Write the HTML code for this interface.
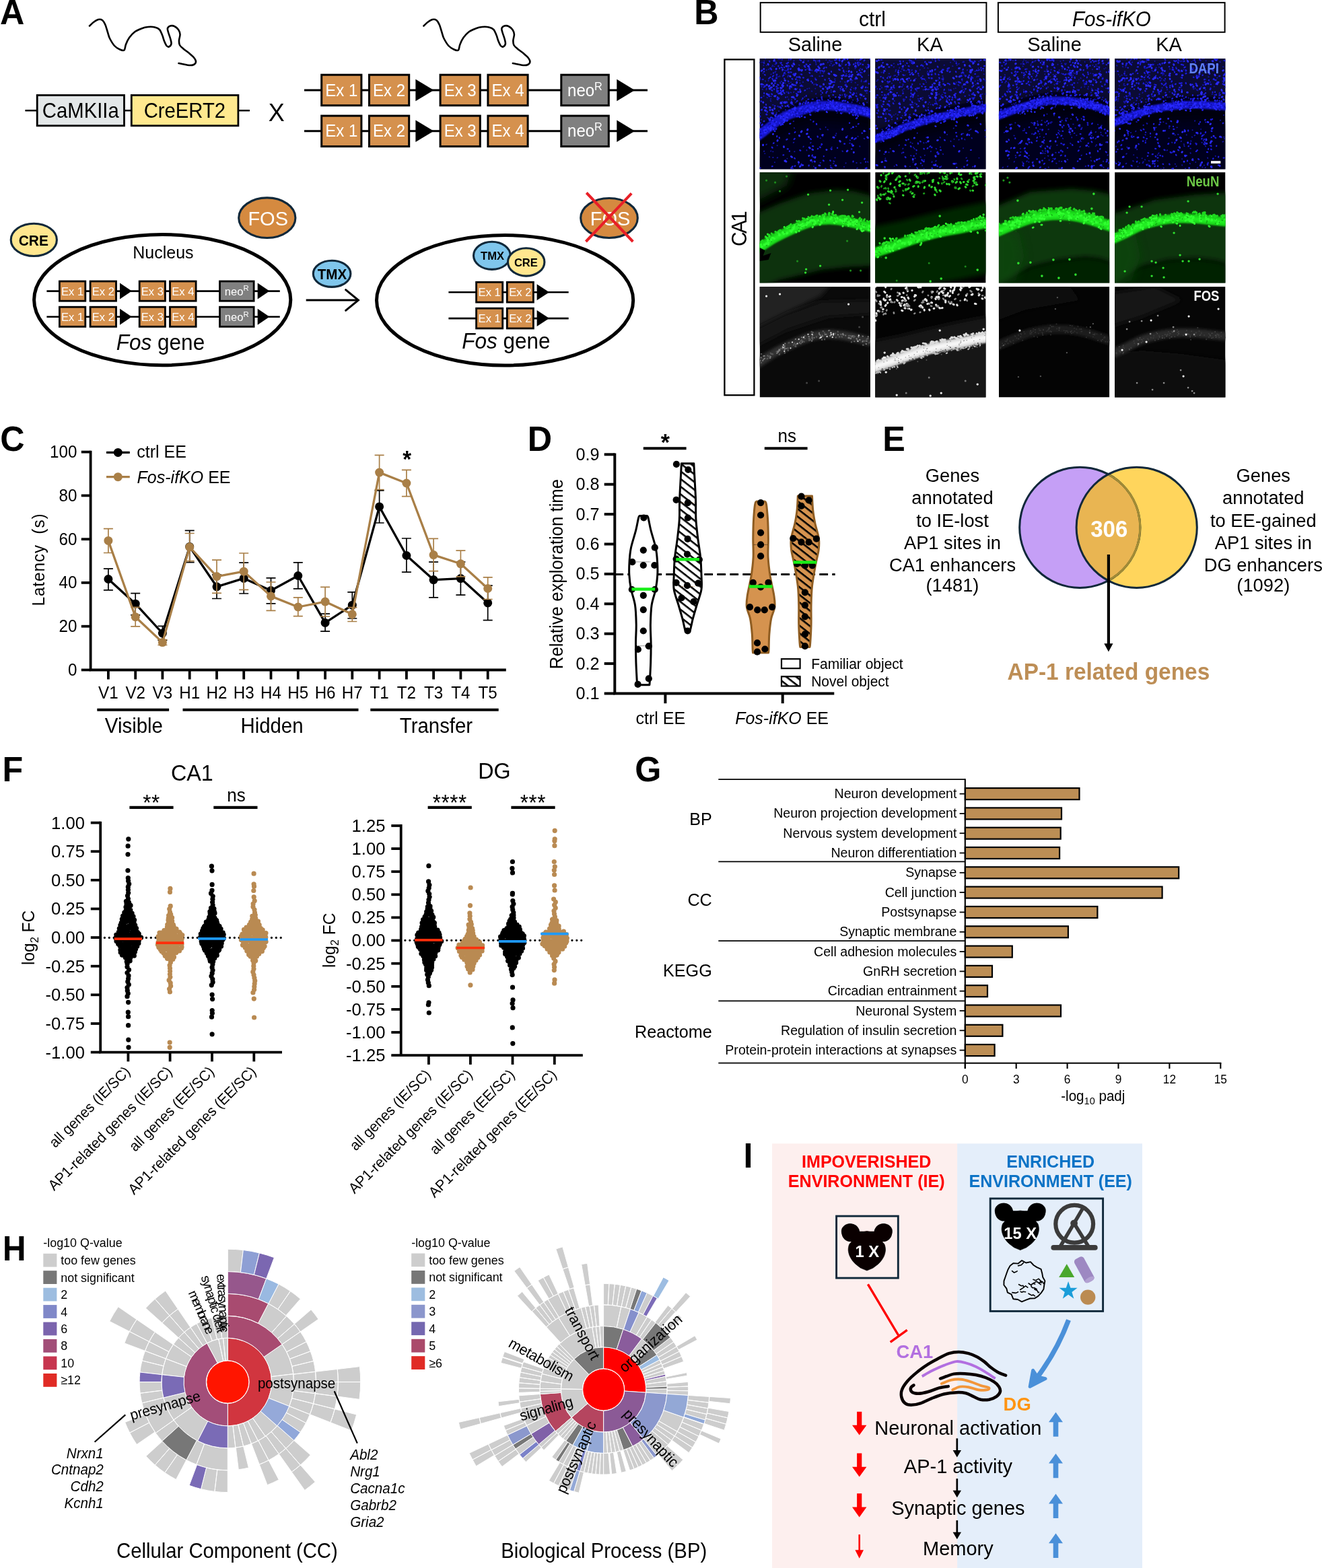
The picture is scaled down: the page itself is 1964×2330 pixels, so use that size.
<!DOCTYPE html>
<html lang="en"><head><meta charset="utf-8"><title>Figure</title>
<style>
html,body{margin:0;padding:0;background:#fff;}
body{width:1964px;height:2330px;overflow:hidden;}
svg{display:block;font-family:"Liberation Sans", sans-serif;}
</style></head><body>
<svg width="1964" height="2330" viewBox="0 0 1964 2330">
<defs>
<filter id="b05" x="-30%" y="-30%" width="160%" height="160%"><feGaussianBlur stdDeviation="0.5"/></filter>
<filter id="b1" x="-30%" y="-30%" width="160%" height="160%"><feGaussianBlur stdDeviation="1.0"/></filter>
<filter id="b2" x="-30%" y="-30%" width="160%" height="160%"><feGaussianBlur stdDeviation="2.0"/></filter>
<filter id="b3" x="-30%" y="-30%" width="160%" height="160%"><feGaussianBlur stdDeviation="3.5"/></filter>
<filter id="b6" x="-30%" y="-30%" width="160%" height="160%"><feGaussianBlur stdDeviation="7"/></filter>
<clipPath id="mclip"><rect x="0" y="0" width="164.4" height="164.4"/></clipPath>
<pattern id="hatch" width="9" height="9" patternUnits="userSpaceOnUse" patternTransform="rotate(38)"><rect x="0" y="0" width="9" height="2.6" fill="#000"/></pattern>
</defs>
<rect width="1964" height="2330" fill="#fff"/>
<g id="pa">
<text x="0" y="36" font-size="50.3" font-weight="bold" transform="translate(0 36) scale(1 1.04) translate(-0 -36)">A</text>
<path d="M133 38.5C134 37.6 136.8 34.6 139 33C141.2 31.4 143.8 29.5 146 29C148.2 28.5 150.2 28.7 152 30C153.8 31.3 155.2 34 156.5 37C157.8 40 158.9 44.7 160 48C161.1 51.3 161.3 53.7 163 57C164.7 60.3 167.5 65.2 170 68C172.5 70.8 175.6 72.4 178 73.5C180.4 74.6 183 75.8 184.5 74.5C186 73.2 185.8 69.1 187 66C188.2 62.9 189.8 59.1 192 56C194.2 52.9 197 49.8 200 47.5C203 45.2 206.7 43.8 210 42.5C213.3 41.2 216.7 40.3 220 40C223.3 39.7 227.2 39.8 230 40.5C232.8 41.2 235.2 42.1 237 44C238.8 45.9 239.8 49.2 241 52C242.2 54.8 242.9 58.3 244 61C245.1 63.7 246.3 66.6 247.5 68C248.7 69.4 249.8 70 251 69.5C252.2 69 254.2 67.1 254.5 65C254.8 62.9 253.8 59.8 253 57C252.2 54.2 250.7 50.5 250 48C249.3 45.5 248.5 43.6 249 42C249.5 40.4 251.3 39 253 38.5C254.7 38 257 38.1 259 39C261 39.9 263.6 42 265 44C266.4 46 267.3 48.3 267.5 51C267.7 53.7 266.1 57.3 266 60C265.9 62.7 265.8 64.8 267 67C268.2 69.2 270.7 71 273 73C275.3 75 278.5 76.9 281 79C283.5 81.1 286.3 83.4 288 85.5C289.7 87.6 291 89.8 291 91.5C291 93.2 289.7 95.1 288 96C286.3 96.9 283.5 97.1 281 97C278.5 96.9 275.6 96 273 95.5C270.4 95 266.8 94.2 265.5 94" fill="none" stroke="#000" stroke-width="2.6" stroke-linecap="round" stroke-linejoin="round"/>
<path d="M629.4 38.5C630.4 37.6 633.2 34.6 635.4 33C637.6 31.4 640.2 29.5 642.4 29C644.6 28.5 646.6 28.7 648.4 30C650.1 31.3 651.6 34 652.9 37C654.2 40 655.3 44.7 656.4 48C657.5 51.3 657.7 53.7 659.4 57C661.1 60.3 663.9 65.2 666.4 68C668.9 70.8 672 72.4 674.4 73.5C676.8 74.6 679.4 75.8 680.9 74.5C682.4 73.2 682.1 69.1 683.4 66C684.6 62.9 686.2 59.1 688.4 56C690.6 52.9 693.4 49.8 696.4 47.5C699.4 45.2 703.1 43.8 706.4 42.5C709.7 41.2 713.1 40.3 716.4 40C719.7 39.7 723.6 39.8 726.4 40.5C729.2 41.2 731.6 42.1 733.4 44C735.2 45.9 736.2 49.2 737.4 52C738.6 54.8 739.3 58.3 740.4 61C741.5 63.7 742.7 66.6 743.9 68C745.1 69.4 746.2 70 747.4 69.5C748.6 69 750.6 67.1 750.9 65C751.2 62.9 750.1 59.8 749.4 57C748.6 54.2 747.1 50.5 746.4 48C745.7 45.5 744.9 43.6 745.4 42C745.9 40.4 747.7 39 749.4 38.5C751.1 38 753.4 38.1 755.4 39C757.4 39.9 760 42 761.4 44C762.8 46 763.7 48.3 763.9 51C764.1 53.7 762.5 57.3 762.4 60C762.3 62.7 762.2 64.8 763.4 67C764.6 69.2 767.1 71 769.4 73C771.7 75 774.9 76.9 777.4 79C779.9 81.1 782.7 83.4 784.4 85.5C786.1 87.6 787.4 89.8 787.4 91.5C787.4 93.2 786.1 95.1 784.4 96C782.7 96.9 779.9 97.1 777.4 97C774.9 96.9 772 96 769.4 95.5C766.8 95 763.1 94.2 761.9 94" fill="none" stroke="#000" stroke-width="2.6" stroke-linecap="round" stroke-linejoin="round"/>
<line x1="37.4" y1="164.3" x2="371" y2="164.3" stroke="#000" stroke-width="2.5"/>
<rect x="55.2" y="141.5" width="129.3" height="45.3" fill="#e3e7e8" stroke="#000" stroke-width="2.8"/>
<rect x="195.3" y="141.5" width="158.6" height="45.3" fill="#ffe98f" stroke="#000" stroke-width="2.8"/>
<text x="119.8" y="175.3" font-size="29.3" text-anchor="middle" transform="translate(119.8 175.3) scale(1 1.04) translate(-119.8 -175.3)">CaMKIIa</text>
<text x="274.4" y="175.3" font-size="29.3" text-anchor="middle" transform="translate(274.4 175.3) scale(1 1.04) translate(-274.4 -175.3)">CreERT2</text>
<text x="410.7" y="180.4" font-size="36" text-anchor="middle" transform="translate(410.7 180.4) scale(1 1.04) translate(-410.7 -180.4)">X</text>
<line x1="452" y1="134" x2="962" y2="134" stroke="#000" stroke-width="3"/><rect x="477.7" y="111.2" width="59.2" height="45.5" fill="#d5914e" stroke="#000" stroke-width="3"/><text x="507.3" y="142.6" font-size="24" text-anchor="middle" fill="#fff" transform="translate(507.3 142.6) scale(1 1.04) translate(-507.3 -142.6)">Ex 1</text><rect x="548.5" y="111.2" width="59.2" height="45.5" fill="#d5914e" stroke="#000" stroke-width="3"/><text x="578.1" y="142.6" font-size="24" text-anchor="middle" fill="#fff" transform="translate(578.1 142.6) scale(1 1.04) translate(-578.1 -142.6)">Ex 2</text><rect x="654.1" y="111.2" width="59.2" height="45.5" fill="#d5914e" stroke="#000" stroke-width="3"/><text x="683.7" y="142.6" font-size="24" text-anchor="middle" fill="#fff" transform="translate(683.7 142.6) scale(1 1.04) translate(-683.7 -142.6)">Ex 3</text><rect x="724.9" y="111.2" width="59.2" height="45.5" fill="#d5914e" stroke="#000" stroke-width="3"/><text x="754.5" y="142.6" font-size="24" text-anchor="middle" fill="#fff" transform="translate(754.5 142.6) scale(1 1.04) translate(-754.5 -142.6)">Ex 4</text><rect x="833.8" y="111.2" width="70.5" height="45.5" fill="#808080" stroke="#000" stroke-width="3"/><text x="869" y="142.6" font-size="24" text-anchor="middle" fill="#fff" transform="translate(869 142.6) scale(1 1.04) translate(-869 -142.6)">neo<tspan dy="-8.6" font-size="16.3">R</tspan></text><polygon points="617.4,117.8 644.4,134 617.4,150.2"/><polygon points="916.3,117.8 943,134 916.3,150.2"/>
<line x1="452" y1="194.8" x2="962" y2="194.8" stroke="#000" stroke-width="3"/><rect x="477.7" y="172.1" width="59.2" height="45.5" fill="#d5914e" stroke="#000" stroke-width="3"/><text x="507.3" y="203.4" font-size="24" text-anchor="middle" fill="#fff" transform="translate(507.3 203.4) scale(1 1.04) translate(-507.3 -203.4)">Ex 1</text><rect x="548.5" y="172.1" width="59.2" height="45.5" fill="#d5914e" stroke="#000" stroke-width="3"/><text x="578.1" y="203.4" font-size="24" text-anchor="middle" fill="#fff" transform="translate(578.1 203.4) scale(1 1.04) translate(-578.1 -203.4)">Ex 2</text><rect x="654.1" y="172.1" width="59.2" height="45.5" fill="#d5914e" stroke="#000" stroke-width="3"/><text x="683.7" y="203.4" font-size="24" text-anchor="middle" fill="#fff" transform="translate(683.7 203.4) scale(1 1.04) translate(-683.7 -203.4)">Ex 3</text><rect x="724.9" y="172.1" width="59.2" height="45.5" fill="#d5914e" stroke="#000" stroke-width="3"/><text x="754.5" y="203.4" font-size="24" text-anchor="middle" fill="#fff" transform="translate(754.5 203.4) scale(1 1.04) translate(-754.5 -203.4)">Ex 4</text><rect x="833.8" y="172.1" width="70.5" height="45.5" fill="#808080" stroke="#000" stroke-width="3"/><text x="869" y="203.4" font-size="24" text-anchor="middle" fill="#fff" transform="translate(869 203.4) scale(1 1.04) translate(-869 -203.4)">neo<tspan dy="-8.6" font-size="16.3">R</tspan></text><polygon points="617.4,178.6 644.4,194.8 617.4,211.1"/><polygon points="916.3,178.6 943,194.8 916.3,211.1"/>
<ellipse cx="241.2" cy="445.6" rx="190.6" ry="97.1" fill="#fff" stroke="#000" stroke-width="5"/>
<ellipse cx="50.3" cy="356.4" rx="34.1" ry="24.1" fill="#ffe78f" stroke="#10283a" stroke-width="3.1"/>
<text x="49.8" y="364.6" font-size="21" text-anchor="middle" font-weight="bold" transform="translate(49.8 364.6) scale(1 1.04) translate(-49.8 -364.6)">CRE</text>
<ellipse cx="396.8" cy="323.7" rx="42.1" ry="29.8" fill="#d58a40" stroke="#10283a" stroke-width="3.1"/>
<text x="398.2" y="335.3" font-size="29" text-anchor="middle" fill="#fff" transform="translate(398.2 335.3) scale(1 1.04) translate(-398.2 -335.3)">FOS</text>
<text x="242.4" y="384.4" font-size="25" text-anchor="middle" transform="translate(242.4 384.4) scale(1 1.04) translate(-242.4 -384.4)">Nucleus</text>
<line x1="69.4" y1="432.6" x2="415.8" y2="432.6" stroke="#000" stroke-width="2.6"/><rect x="88.4" y="418" width="38.4" height="29.2" fill="#d5914e" stroke="#000" stroke-width="2.8"/><text x="107.6" y="438.6" font-size="16.6" text-anchor="middle" fill="#fff" transform="translate(107.6 438.6) scale(1 1.04) translate(-107.6 -438.6)">Ex 1</text><rect x="134.1" y="418" width="38.4" height="29.2" fill="#d5914e" stroke="#000" stroke-width="2.8"/><text x="153.3" y="438.6" font-size="16.6" text-anchor="middle" fill="#fff" transform="translate(153.3 438.6) scale(1 1.04) translate(-153.3 -438.6)">Ex 2</text><rect x="207.2" y="418" width="38.2" height="29.2" fill="#d5914e" stroke="#000" stroke-width="2.8"/><text x="226.3" y="438.6" font-size="16.6" text-anchor="middle" fill="#fff" transform="translate(226.3 438.6) scale(1 1.04) translate(-226.3 -438.6)">Ex 3</text><rect x="252.5" y="418" width="38.6" height="29.2" fill="#d5914e" stroke="#000" stroke-width="2.8"/><text x="271.8" y="438.6" font-size="16.6" text-anchor="middle" fill="#fff" transform="translate(271.8 438.6) scale(1 1.04) translate(-271.8 -438.6)">Ex 4</text><rect x="326.5" y="418" width="50.6" height="29.2" fill="#808080" stroke="#000" stroke-width="2.8"/><text x="351.8" y="438.6" font-size="16.6" text-anchor="middle" fill="#fff" transform="translate(351.8 438.6) scale(1 1.04) translate(-351.8 -438.6)">neo<tspan dy="-6" font-size="11.3">R</tspan></text><polygon points="178,420.6 195.8,432.6 178,444.6"/><polygon points="382.7,420.6 400.4,432.6 382.7,444.6"/>
<line x1="69.4" y1="470.8" x2="415.8" y2="470.8" stroke="#000" stroke-width="2.6"/><rect x="88.4" y="456.2" width="38.4" height="29.2" fill="#d5914e" stroke="#000" stroke-width="2.8"/><text x="107.6" y="476.8" font-size="16.6" text-anchor="middle" fill="#fff" transform="translate(107.6 476.8) scale(1 1.04) translate(-107.6 -476.8)">Ex 1</text><rect x="134.1" y="456.2" width="38.4" height="29.2" fill="#d5914e" stroke="#000" stroke-width="2.8"/><text x="153.3" y="476.8" font-size="16.6" text-anchor="middle" fill="#fff" transform="translate(153.3 476.8) scale(1 1.04) translate(-153.3 -476.8)">Ex 2</text><rect x="207.2" y="456.2" width="38.2" height="29.2" fill="#d5914e" stroke="#000" stroke-width="2.8"/><text x="226.3" y="476.8" font-size="16.6" text-anchor="middle" fill="#fff" transform="translate(226.3 476.8) scale(1 1.04) translate(-226.3 -476.8)">Ex 3</text><rect x="252.5" y="456.2" width="38.6" height="29.2" fill="#d5914e" stroke="#000" stroke-width="2.8"/><text x="271.8" y="476.8" font-size="16.6" text-anchor="middle" fill="#fff" transform="translate(271.8 476.8) scale(1 1.04) translate(-271.8 -476.8)">Ex 4</text><rect x="326.5" y="456.2" width="50.6" height="29.2" fill="#808080" stroke="#000" stroke-width="2.8"/><text x="351.8" y="476.8" font-size="16.6" text-anchor="middle" fill="#fff" transform="translate(351.8 476.8) scale(1 1.04) translate(-351.8 -476.8)">neo<tspan dy="-6" font-size="11.3">R</tspan></text><polygon points="178,458.8 195.8,470.8 178,482.8"/><polygon points="382.7,458.8 400.4,470.8 382.7,482.8"/>
<text x="238.5" y="519.6" font-size="31.5" text-anchor="middle" transform="translate(238.5 519.6) scale(1 1.04) translate(-238.5 -519.6)"><tspan font-style="italic">Fos</tspan> gene</text>
<ellipse cx="493.1" cy="406.8" rx="27.8" ry="19.6" fill="#7fc6ec" stroke="#10283a" stroke-width="3.1"/>
<text x="493.4" y="414.7" font-size="20.6" text-anchor="middle" font-weight="bold" transform="translate(493.4 414.7) scale(1 1.04) translate(-493.4 -414.7)">TMX</text>
<line x1="454.7" y1="446" x2="531" y2="446" stroke="#000" stroke-width="3"/>
<path d="M513.6 430.6L532.4 446L513.6 461.4" fill="none" stroke="#000" stroke-width="3" stroke-linecap="round" stroke-linejoin="miter"/>
<ellipse cx="750.1" cy="446.3" rx="190.6" ry="96.7" fill="#fff" stroke="#000" stroke-width="5"/>
<ellipse cx="730.9" cy="379.8" rx="27.4" ry="20.6" fill="#7fc6ec" stroke="#10283a" stroke-width="3.1"/>
<ellipse cx="781.7" cy="389.4" rx="27.2" ry="20.7" fill="#ffe78f" stroke="#10283a" stroke-width="3.1"/>
<text x="731.6" y="386.4" font-size="16.6" text-anchor="middle" font-weight="bold" transform="translate(731.6 386.4) scale(1 1.04) translate(-731.6 -386.4)">TMX</text>
<text x="781.4" y="395.9" font-size="16.6" text-anchor="middle" font-weight="bold" transform="translate(781.4 395.9) scale(1 1.04) translate(-781.4 -395.9)">CRE</text>
<line x1="666.4" y1="434.2" x2="844.7" y2="434.2" stroke="#000" stroke-width="2.6"/><rect x="707.6" y="419.3" width="39.1" height="29.8" fill="#d5914e" stroke="#000" stroke-width="2.8"/><text x="727.2" y="440.2" font-size="16.6" text-anchor="middle" fill="#fff" transform="translate(727.2 440.2) scale(1 1.04) translate(-727.2 -440.2)">Ex 1</text><rect x="753.3" y="419.3" width="39.1" height="29.8" fill="#d5914e" stroke="#000" stroke-width="2.8"/><text x="772.8" y="440.2" font-size="16.6" text-anchor="middle" fill="#fff" transform="translate(772.8 440.2) scale(1 1.04) translate(-772.8 -440.2)">Ex 2</text><polygon points="797.6,422.2 816,434.2 797.6,446.2"/>
<line x1="666.4" y1="473.1" x2="844.7" y2="473.1" stroke="#000" stroke-width="2.6"/><rect x="707.6" y="458.2" width="39.1" height="29.8" fill="#d5914e" stroke="#000" stroke-width="2.8"/><text x="727.2" y="479.1" font-size="16.6" text-anchor="middle" fill="#fff" transform="translate(727.2 479.1) scale(1 1.04) translate(-727.2 -479.1)">Ex 1</text><rect x="753.3" y="458.2" width="39.1" height="29.8" fill="#d5914e" stroke="#000" stroke-width="2.8"/><text x="772.8" y="479.1" font-size="16.6" text-anchor="middle" fill="#fff" transform="translate(772.8 479.1) scale(1 1.04) translate(-772.8 -479.1)">Ex 2</text><polygon points="797.6,461.1 816,473.1 797.6,485.1"/>
<text x="752" y="518.2" font-size="31.5" text-anchor="middle" transform="translate(752 518.2) scale(1 1.04) translate(-752 -518.2)"><tspan font-style="italic">Fos</tspan> gene</text>
<ellipse cx="905" cy="324" rx="42.3" ry="29.5" fill="#d58a40" stroke="#10283a" stroke-width="3.1"/>
<text x="906.5" y="335.3" font-size="29" text-anchor="middle" fill="#fff" transform="translate(906.5 335.3) scale(1 1.04) translate(-906.5 -335.3)">FOS</text>
<line x1="871.3" y1="286.5" x2="940.3" y2="359" stroke="#e81f27" stroke-width="4"/>
<line x1="938.2" y1="287.4" x2="870.4" y2="359" stroke="#e81f27" stroke-width="4"/>
</g>
<g id="pb">
<text x="1031.3" y="36" font-size="50.3" font-weight="bold" transform="translate(1031.3 36) scale(1 1.04) translate(-1031.3 -36)">B</text>
<rect x="1129.7" y="3.9" width="335.7" height="43.9" fill="#fff" stroke="#000" stroke-width="2"/>
<rect x="1482.9" y="3.9" width="336.7" height="43.9" fill="#fff" stroke="#000" stroke-width="2"/>
<text x="1296" y="39.3" font-size="30" text-anchor="middle" transform="translate(1296 39.3) scale(1 1.04) translate(-1296 -39.3)">ctrl</text>
<text x="1651.4" y="39.3" font-size="29.6" text-anchor="middle" font-style="italic" transform="translate(1651.4 39.3) scale(1 1.04) translate(-1651.4 -39.3)">Fos-ifKO</text>
<text x="1211" y="76.1" font-size="29" text-anchor="middle" transform="translate(1211 76.1) scale(1 1.04) translate(-1211 -76.1)">Saline</text>
<text x="1381.4" y="76.1" font-size="29" text-anchor="middle" transform="translate(1381.4 76.1) scale(1 1.04) translate(-1381.4 -76.1)">KA</text>
<text x="1566.5" y="76.1" font-size="29" text-anchor="middle" transform="translate(1566.5 76.1) scale(1 1.04) translate(-1566.5 -76.1)">Saline</text>
<text x="1736.6" y="76.1" font-size="29" text-anchor="middle" transform="translate(1736.6 76.1) scale(1 1.04) translate(-1736.6 -76.1)">KA</text>
<rect x="1076.4" y="88.4" width="44" height="498.8" fill="#fff" stroke="#000" stroke-width="2.3"/>
<text x="1109.3" y="339.6" font-size="30" text-anchor="middle" transform="rotate(-90 1109.3 339.6) translate(1109.3 339.6) scale(1 1.04) translate(-1109.3 -339.6)" textLength="52.6" lengthAdjust="spacing">CA1</text>
<g transform="translate(1128.6 87.1)" clip-path="url(#mclip)"><rect x="0" y="0" width="164.4" height="164.4" fill="#01010f"/><path d="M-10 -10L174.4 -10L170 70L164 68.6L144 63.5L124 60L104 58L81 59L53 68L32 77L0 101L-4 104Z" fill="#07073e" filter="url(#b6)" opacity="0.85"/><path d="M-4 141L0 138L32 114L53 105L81 96L104 95L124 97L144 100.5L164 105.6L170 107L174.4 174.4L-10 174.4Z" fill="#040424" filter="url(#b6)" opacity="0.85"/><path d="M-4 116C-3.3 115.5 -6 117.5 0 113C6 108.5 23.2 94.5 32 89C40.8 83.5 44.8 83 53 80C61.2 77 72.5 72.7 81 71C89.5 69.3 96.8 69.8 104 70C111.2 70.2 117.3 71.1 124 72C130.7 72.9 137.3 74.1 144 75.5C150.7 76.9 159.7 79.5 164 80.6C168.3 81.7 169 81.8 170 82" fill="none" stroke="#1717cf" stroke-width="14" filter="url(#b1)" stroke-linecap="butt"/><path d="M53.2 24.8l-0.2 -0.5M11.9 88.1l-0.5 -0.4M9.5 83.4l0.4 -0.4M71.3 11.5l-0.2 0.3M69.8 135.9l0.1 0.7M7.7 141.1l-0 -0.1M23.7 19.4l0.2 -0.5M134.2 29.7l0.6 -0.2M10.3 9.8l-0.2 0.3M130.6 114.9l-0.6 0.3M119.9 47.3l0.6 -0.3M19.4 68.7l0.7 0M25 80.4l0.4 -0M143.9 51.6l-0.2 -0.4M109.2 10l-0.8 -0.5M46.8 63.4l0.8 0.1M3.7 75.9l-0.1 0.6M19.3 9.7l0.2 0.8M21.3 40.7l-0.2 -0.5M143.3 13.2l0.7 -0.5M142 45.8l0.5 0.2M24.8 29l0.8 0.7M43.2 0.7l0.3 -0.7M111.2 8.9l-0.8 -0M64.5 65.6l0.5 -0.7M104.3 10.2l-0.1 -0.7M34.3 26.7l-0.3 -0.8M8.6 0l-0.3 0M16.7 59.8l-0.5 0.5M143.7 101l-0.7 -0.5M41.5 57.1l-0.4 -0.2M16.8 56.3l0.4 -0.2M136.3 26.5l0.3 0.7M89.3 4.4l-0.6 0.6M42.9 60.3l0.2 0.4M54.2 36.7l0.2 -0.1M134.5 121.6l-0.6 -0.6M85.1 58.5l-0.5 -0.5M4.6 45.9l-0.6 -0.5M59.9 36.2l0.1 0.4M32.3 33.6l0.5 0.6M107.3 131.5l-0.6 0.5M129.7 54.7l-0.5 -0.7M159.7 65.1l-0.3 0.1M155.7 119.2l-0.7 -0.5M20.9 24.8l-0.2 0.5M132.6 24l-0.2 -0.1M90.2 21.5l-0.2 -0.7M135.8 34.7l0.6 0.7M48.2 39.5l0.4 -0.2M42.6 68.9l-0.1 -0.3M149.6 58.2l0.2 0.2M86.1 3.1l-0.3 0.6M30.1 0.6l0.4 -0.5M28.3 77.8l0.5 0.3M91.5 53.6l-0.4 -0.3M91.3 128.9l0.4 -0.7M92.1 40.9l-0.1 0.7M144.1 154.9l-0.4 0M22.5 20l0.7 0.6M11.9 39.6l0.5 0.1M26.5 70.9l0.7 -0.4M55.8 32.2l0.6 -0.1M118.7 3.2l0.3 0.2M72.4 3l-0.3 0.3M17.2 43.7l0.2 0.8M128.1 44.5l0.3 -0.1M42.5 24.6l-0.2 0.6M93.8 115.1l-0.2 0.3M131.8 13.8l0.3 0.7M44 21.2l-0.5 0.3M39.2 18l-0.5 0.2M8.3 33.2l0.3 0.4M50.1 124.9l0.6 -0.4M82.2 29.2l0.6 -0.2M3 41.2l-0.2 -0.6M78.1 153.7l0.1 -0.8M137.2 64.6l-0.3 0.3M66.5 57.1l0.4 -0.5M21.3 11.6l0.5 -0.1M42 26.8l-0.5 0.4M46.3 39.8l0.4 -0.1M75.5 25.9l0 0.2M89.9 40.2l0.2 0.4M50.9 58.6l0.4 -0.5M43.4 14.8l-0.8 -0.6M6.9 3.7l-0.3 0.1M144.5 64l0.7 -0.1M161.9 24.6l-0.2 0.1M105.7 7.2l0.7 0.1M133.5 22.9l-0.3 0.4M112.3 114l0.8 0.5M5.1 21.9l-0.2 -0.5M80.4 0.5l-0.1 -0.6M108.4 10.9l-0.6 -0.1M41.5 12.2l0.6 0.3M119.9 33.7l-0.1 0.7M101.4 105.7l-0.5 -0.4M24.2 41.7l-0.4 0.1M50 93.3l0.6 -0.2M10 44.2l0.5 0.7M113.8 111.1l-0 0.6M19.5 146.9l0.6 -0M160.8 153.9l-0.5 -0.7M73.9 44.2l-0.4 -0.1M155.5 34.6l-0.8 -0.3M23.3 86.2l-0 -0.3M145.8 115.6l0.4 0.1M0.6 80.8l0.1 0.2M49.6 23.1l0.1 -0.1M52 138.1l-0.5 0.1M123.4 137.9l-0.7 -0.7M47.6 61.2l-0.3 -0.4M70.4 45.2l0.4 -0.5M16.7 137.2l-0.1 0.3M153.8 41l-0.1 0.5M84 31.2l-0.6 -0.5M90.3 118.3l-0.4 -0.2M106 47.1l0.1 -0.5M152.4 20.9l0.1 0.3M56.5 49l0.2 0.5M160.5 42.8l-0.7 0.3M27.5 26.6l0.4 0.5M22.9 31.6l-0.6 -0.7M56.2 15l0.4 0.2M10.2 45.6l-0.5 0.6M20.7 82.8l0.3 0.2M141.9 35.5l0.4 0.2M40.8 65.7l-0.3 -0.7M3.6 5.3l-0.3 0.2M0 64.4l-0.5 -0.5M40.8 17.9l-0.6 -0M75.2 90.7l0.7 0.4M128.6 38.2l-0.8 -0.2M106.1 49.9l0.3 -0.6M18.4 11.6l0.5 -0.4M98.8 1.7l-0.1 0.5M50.5 3.6l0.6 -0.7M109.7 152.1l0.5 0.6M5.6 55.6l0.5 0.4M112.2 32.6l-0.2 -0.3M159.4 51.2l-0.7 -0.2M37.9 36.4l-0.3 -0.5M30.8 36.7l0.7 0.6M109.4 156l0.5 -0.3M64.7 35l-0.6 -0.1M23.3 8.5l-0.7 -0.2M54.1 30.5l0.2 -0.3M122.7 5.2l-0.3 -0.3M62.2 61.5l0.5 -0.7M27.8 0.5l0.5 0.2M57.8 157.1l0.1 0.3M158.5 34.1l-0.8 0.6M8.1 77.8l-0.3 -0.2M151.2 31.7l0 0.6M147.5 5l-0.4 0M133.5 126l0.8 -0.5M5.7 10.3l0.2 -0.5M55.7 44.8l0.1 -0.1M101.4 43.1l0.1 -0.8M52 45.3l-0.5 0.6M155.1 4l-0.5 -0.3M63.5 41.3l0.8 -0.4M81.1 152.6l0.1 -0.1M52.5 59.5l-0.8 0.2M13 32.4l0 0.7M40.7 10.6l0.8 -0.7M90.8 53.6l0.1 -0.3M145.2 162.4l-0.6 0.7M13.8 15.9l-0.7 0M19.9 138.2l-0.4 0.1M93.2 61.3l-0.5 0.6M32.7 40.7l-0.1 -0.5M53.6 65.1l0.5 -0.6M83.4 38l0.4 -0.4M107.4 162.9l0.5 -0.4M150.3 6.6l0.2 0.3M19.6 31.2l0 0.6M127.9 155.5l0.1 -0.4M98 101.9l0 0.3M60.6 23.2l-0.1 0M33.4 1.9l-0.7 -0.4M111.5 30.4l0.4 -0.3M10.4 16.7l-0.5 0.5M90.4 105.1l-0.8 -0.7M46.6 50.6l-0.7 -0.5M59.8 32.4l-0.7 -0.3M33.5 1l-0.4 0.7M2.4 90.7l-0.4 0.1M149.6 14.6l-0.3 0.4M17.9 80.6l-0.6 -0.2M159 32.4l-0.6 -0.3M26.3 129.2l-0.4 -0.1M30.1 35.9l0.7 -0.8M6.8 92.4l-0.4 0.2M6.3 137.8l0.5 -0.2M50.3 69.1l-0.2 -0.3M72.1 3.8l-0.2 0.1M80.5 38.7l0.4 -0.8M77.8 17.6l-0.5 -0.4M70.8 15.1l0.2 0.4M83.9 6.7l-0.7 -0.8M84.1 8.9l-0.6 -0.1M62.1 156.3l0.3 0.8M134 31.8l-0.2 -0.1M10.8 57.7l0.6 0.4M26.1 147.4l0.6 -0.4M134.1 23.6l0.3 0.5M151.2 34.2l-0.4 -0.4M83.2 52.5l0.7 -0.4M29.9 26.5l-0.3 -0.6M111.7 147.2l0.6 0.2M129 18.9l-0.4 -0.1M104.6 59.1l-0.1 -0.8M64.8 131.1l0.4 -0.7M122.2 7.9l-0.2 0.4M0.3 5.6l-0.3 0.4M147.2 21.7l0.6 0.3M107.4 3.7l-0.1 0.7M58.4 17.5l-0.3 0.8M22.2 154l0.2 0.1M24.5 15.8l0.6 -0.6M43.4 1.9l-0.3 0.4M92.4 57.6l-0.7 0.7M40.9 148.5l-0.1 -0M9.6 128l0.8 -0.7M90.6 154.7l-0.8 0.1M105.5 133.7l0.2 0.6M50.9 49.4l-0.5 0.6M37.1 17.3l0.3 0.1M6.4 55.2l-0.8 0.5M105.5 158.7l-0.5 0.3M144.7 2.5l0.8 -0.8M122.7 53.7l-0.1 0.7M54 39.3l-0.3 0.5M149.7 23.8l0.5 0.3M23.3 4.7l0.8 0.3M121.1 10.8l-0.6 0.5M146.5 10.8l0.4 -0.2M150.3 155.2l-0.6 -0.4M33.8 18.4l0 -0.4M135.6 103.8l0.8 -0.5M16.4 16.1l-0.4 -0.6M33.7 52.5l0.4 0.5M3.4 42.2l-0.4 -0.2M117.7 60.5l0.6 0.2M101.6 5.1l-0.5 0.8M141.8 14.9l0.4 -0.3M28 0.2l-0.1 0M125.3 160.8l0.2 -0.1M136.8 42.8l-0.6 -0.3M46.6 35.3l-0.6 0M81.9 18.1l0.2 0.2M66 64.9l-0.7 0.1M14.2 146.1l0.5 0.1M33.9 43.3l-0.3 0.5M38.4 75.8l-0.2 0.5M57.3 53.7l-0.8 -0.7M27.9 72.1l-0.1 -0.7M95.2 20.7l-0.5 0.7M145.5 39.1l0.4 -0.3M25.4 25.6l-0.6 0.4M53.9 31.1l0.3 -0.5M119.8 16.7l0.1 0.2M16.7 63.2l-0.7 -0.6M33.9 63.8l-0.8 0.5M51.5 103.3l-0.3 -0.3M103.5 41.1l-0.7 0.2M111 152.9l-0.4 0.1M80.5 160.2l-0.2 -0.2M89.3 26.4l-0.7 -0.3M125.4 20.1l0.7 0.7M58.4 9.3l0.7 0.6M65.7 2.2l0.5 0.2M43.6 36.9l0.2 0.3M77 48.4l0.7 0.2M139.9 44l0.1 0.4M41.7 70.1l0.6 0.1M40.3 49.6l-0.8 0.2M128.9 23.1l-0.2 -0.6M104.1 2.5l-0.7 0.1M156.5 107.8l0.7 0.1M16.7 23.5l0.5 -0.5M127.6 57l-0.3 0.7M148.6 130.2l0.3 0.4M137.9 32.4l-0.3 0.3M38.5 22.9l-0.3 -0.5M9.6 76.8l-0.5 -0.5M141.9 1.1l-0.7 -0.2M138.2 61.6l0.6 0.1M157.9 12.4l-0.2 0.2M104.6 4.7l0.7 -0.4M147.6 5.6l0.7 0.8M102.8 55.7l-0.2 -0.7M126.7 34.6l0.3 0.7M82.8 44.7l-0.2 -0.3M54.4 52.1l-0.4 -0.6M89.7 8.2l0.3 -0.3M1 31.2l0.7 -0.1M112 34.9l-0.6 0.3M75.3 125.4l0.8 -0.6M29.8 6.1l0.8 0.3M42.4 49.7l0.4 0.7M52.4 70.8l0.1 0.1" fill="none" stroke="#1212a6" stroke-width="1.8" stroke-linecap="round"/><path d="M153.5 9l-0.8 -0.2M6.5 19.5l0.1 -0.5M2.3 63.6l-0.1 -0.3M67.8 16.8l0.7 -0.3M34.9 25l0.9 -0.6M158.9 14.5l0.3 -0M21.2 2.9l-0.4 0.6M39.8 120.6l1.1 -0.8M140.6 120l0.7 -0.9M153.3 41.8l-0.3 1M117.9 1.9l1 0.9M107 134.4l-0.3 0.5M51.1 119.9l1 -1M111.3 23.8l0.7 0.5M68.7 63.4l1 -0.1M48.1 10l0.3 0.6M98.8 50.7l-0 0.5M146 61.9l-0.6 -1M46.6 0.3l-0.6 1.1M145.9 7l-0.2 0.9M14 91l1 0.9M76.5 34l0.1 -0.5M96.9 31.1l0.2 0.6M24.5 7.3l0.5 -1M61.5 17.4l-1 -1M129.4 25.7l-0.6 -0.2M80 93.2l-0.3 0.6M41.8 6.2l0.6 -0.5M29.7 13.8l-0.3 0.9M155.7 149.6l0.4 -1M157.7 42.3l-0.4 0.7M158.8 163l0.1 -0.7M6.4 42.1l-0.2 0.4M106.3 162l-0.7 -0.5M111.3 49.1l0.7 -0.2M124.6 17.3l-0.2 1.1M42.3 20.4l1 -0.4M27.7 39.2l-1.1 -0.7M111.4 2.1l1 0.4M32.1 5.9l-0.6 0.9M146.1 23l0.8 0.5M23.5 36.4l-1.1 0.1M143.1 43.8l-0.6 -0.5M25.6 44.6l-0.2 -0.2M55 27.6l0.8 -0.3M52.3 148.5l-0.7 -0.8M160.9 9.3l-0.1 -0.5M109.9 34.7l0.7 0.3M47.1 42.4l0.5 -0.7M152.1 16l0.1 0.4M147.3 9.5l-1 -0.2M48.3 160.9l0.4 -0.8M132.7 56l1 -0.6M30.5 71.6l-0.8 0.4M32.3 13l1.1 0.6M133.4 95.8l0.1 -0.4M118.6 9.1l-0.6 -1M81.1 2.5l-0.6 0.3M78.4 143.4l-0.6 1.1M26.9 61l-0.8 -0.6M0.8 85.5l-0.2 1M84.8 19.9l-0.3 -0.7M88.3 3.4l0.5 -0.9M36.8 30l-0.1 -0.6M41.2 134.3l1 -0.1M2.9 98.5l0 1M86 115.5l0.3 1.1M143 117.9l-0.2 0.8M20.2 81.1l-0.1 -0.5M46 20.1l1 0.3M127.7 55.7l-0.8 0.2M139.4 8.8l0.4 -0.8M157.5 153.6l-0 -0.1M87.3 11.4l-0.7 0.4M83 3.4l-0 0.2M145.4 5.7l0.1 0.3M43.7 111.5l0.6 -0M156.3 47.3l1 0.9M106.5 19.8l-0.1 -0.8M20.4 21.6l-0 -0.3M66.8 47.4l0.9 -0.4M14.4 89.8l-1 -0.7M51 39.8l0.8 -0.8M2 58l0.9 -0.2M46.8 162.3l0.1 0.6M126.9 26.1l0.8 -0.9M18 37l0.2 -0.7M121.4 25.4l1 0.6M150.4 20.9l-0.5 -0.3M75.3 118.9l1 1M50 23.8l0.6 -1M95.6 14.5l-0.6 0.2M157.6 33.6l-0.6 0M149.7 1.8l-1.1 -0.1M64 58.8l-0.1 0.7M86.4 16.3l-0.3 0.9M28.1 52.3l-0.6 -1.1M25.7 47.7l-0.1 -0.7M83 30.9l1 0.7M163.4 104.6l1 -0.6M113.6 0.6l0.8 0.9M20 25.8l-0.5 0.7M17.5 16.5l-0.3 -0.7M132.6 10.2l0.4 -0.4M126.7 53.1l-0.4 0.3M58.2 27.9l0.3 -1.1M41 7.2l-1 0.1M140.5 51.8l-0.9 -0.9M134.1 49.9l1 1M39.9 64.1l0.5 0.9M36.4 50.8l0.4 0.9M79.6 130.3l-1.1 -0.3M28.5 58.9l-0.3 -0.4M159.7 47.8l-0.5 -0.4M18.9 87.7l0.5 1M66.3 10.8l0.9 -0.2M135.8 57.7l0.2 -0.6M31.4 46.6l-0.4 0.9M25.6 116l0.1 -0.9M44.3 137.3l-0 0.6M26.2 58l0.4 -0.9M62 157.6l-0.2 -0.4M74.4 21.5l-0.6 -0.6M60.5 40.5l0.7 0.1M34.9 143.4l0.7 -0.2M126.9 63.3l0.8 -1.1M93.3 51.1l-0.3 -0.7M14.1 29.1l-0.5 0.5M52.8 109l-0.7 0.8M92.4 59.4l0.2 0.8M48.8 10.8l-1 -1M37.2 20.7l-1 1.1M46.4 66.3l-0.1 -1M21.7 45.5l-0.5 -0.3M103.4 29.9l-0.5 -0.4M6.7 6.6l-0.6 -0.6M32.6 49.8l-0.2 -0.9M6.5 51.1l0.2 0.7M117.8 41.9l-0.7 0.3M112.5 57.4l0.4 -0.4M137.2 127.7l-0.3 -0.8M7.8 40.2l0.3 1.1M130.1 34.5l0.6 -0.6M123.2 14.2l-0.2 0M46.2 14.8l-0.5 1M74.4 8.9l0.8 -0.1M21 125.3l-0.6 0.6M115.5 132.5l0 0.5M89.4 41l0.8 1M58.8 67.7l0.6 -0.6M51.1 22.4l0.1 0.5M110.2 39.1l-0.7 1.1M57.8 49.2l-0.5 0.8M18.8 47.6l-1.1 -0.9M33.9 9.9l-1.1 -0.9M18.6 53.3l-0.9 -0.9M59.7 27.6l0.5 0.9M92.7 17.9l0.7 0.7M71.4 31.2l0.6 -0.7M41.3 40.4l-0.3 -1M48.7 30.5l-0.7 -0.7M139 152.4l-0.1 0.9M53.7 30.3l-0.3 0.4M52.6 60.6l0.4 -0.4M60.7 136.7l-1 -0.6M6.8 93.2l-0.7 0M25.9 49.2l-0.4 0.3M72.9 159.4l0.2 -0.9M6.6 72.3l0.8 -0.2M118.9 0.5l-0.6 -1M69.2 55.7l-0 -0.8M27 48.6l0.6 -0.7M92.6 57.2l-0.7 -0.2M14 53.2l-0.9 0.9M133.4 9.9l0.8 -0.9M100.1 48.8l-0.6 0.7M49.2 56.5l0.6 0.1M4.6 31l0.4 -0.1M73.5 14l0.2 0.3M18.8 29.7l0.5 1M90.1 18.5l0 -0.8M41.7 15.6l0.6 1M84.4 96.7l0.1 1M67.1 12.1l0.6 0.6M124.4 18.8l0.6 0.2M118.6 16.8l-0.9 -0.8M64.4 28.2l0.8 0.3M92.6 127.4l-0.7 -0.6M127.6 9.5l0.8 -0.8M61.2 2.5l0.2 0.6M35 49.3l-0.5 -1.1M143.2 27.6l-0.3 0.4M135.7 20.2l0.8 0.2M90.2 132l-0.9 -0.7M152.1 111l0 -0.5M31.8 73.4l-0.8 -0.8M95.6 18.7l0.6 -0.3M18.2 131.6l0.8 1M91.1 47.7l-0.3 0.4M62.6 23.7l-0.6 -0.5M156 2.3l-0.6 0M24.8 82.5l-0.9 0.7M131.6 5.8l0.4 -0.8M78.2 26l-0.5 -0.5M12.5 54.1l1 0.9M147 96.9l-0.6 0.3M27.9 59.3l0.6 0M1 95.2l-0.5 0.8M3.4 75.5l-1.1 1M7.5 24l0.6 0.3M44.8 44.9l-0.5 -0.9M157.3 163.1l-0.2 0M59.7 46.3l0.2 -0.7M55.4 53.1l-0.3 -0.8M79.2 60.4l-1 0M38.6 57.4l-0 0.2M27.8 10.9l-0.1 0.4M154.1 56l1 -0.2M95.9 13.2l0.2 0M11.1 79.7l-0 -1.1M45.4 42.3l-0.9 0.2M27.1 44.1l0.2 -0.3M35.9 65.7l-0.3 -0.9M98.8 13l0.4 0.3M143.9 56.1l-0.8 -0.7M105.2 151.7l-0.6 -0.5M9.4 68.1l0.1 0.7M103 55l0.1 0.6M98.3 42.3l-0.4 -0.3M162.3 9.2l0.4 0.7M119 54.1l0.9 0.5M25.7 23.5l-0.7 0.2M121.8 42.4l-0.9 -0.7M21.7 1.5l-0.1 0.3M162.7 37.5l-0.6 -0.2M14.8 4.6l-0.4 -0.9M9.9 82.5l0.9 0.7M24.5 29.2l0.6 -0.8M151.5 26.6l0.7 0.9M127.9 39.9l-0.9 -0.6M148.5 17.7l-0.5 -0.7M142.1 9.9l0.1 0.5M103.1 36.8l0.2 0.9M43.1 71.3l0.2 0.5M49.1 163.5l-0.1 0.5M93.6 25.8l-0.8 -0.1M142.9 43.9l-0.5 -0.3M135.3 46.5l-0.3 -0.9M79.8 146.5l0 -0.6M95.2 145.1l0 0.1M145.3 59.2l-0.1 0.8M141.9 30l0.1 0.4M163.5 48.9l1 -0.1M18.3 160.2l0.8 -0.2M149.9 24.8l-1.1 -0.6M16 27.7l-0.6 0.3M14.8 55.8l-0.7 0.3M5.4 38.6l-0.4 0.3M113.3 6.2l0.9 0.3M38.1 70.8l0.4 0.2M144.4 19.8l0.2 -0M22.3 70.4l0.6 -0.2M112.7 24.3l-0.2 0.7M82.3 18.5l0.5 -1.1M120.2 44.9l-0.4 -0.4M43.5 11.3l-0.5 -0.8M59.6 1.7l-0.1 -0.1M63.4 67.4l0.3 -0.2M164.1 0.9l0.6 0.5M152.3 41.9l1 -1M62 39.6l0.7 1M149.4 8.1l0 0.1M51.9 159.7l0.9 -0.4M97.4 163.5l0.7 -0.1M100.7 43.6l0.8 0.5M78.4 36.4l-0.1 -0.8M86.7 133.7l-0.5 0.3M142.7 7.1l-0.4 -0.7M136.8 134.4l-0.5 -0M25.3 41.3l0.2 0.5M74.4 14.5l-1 0.2M85.6 39.1l-0.9 0.1M55.9 62.7l-0.6 0.5M29.3 118.1l-0.1 -0.8M53.3 39.8l0 -0.1M33.2 69.6l0.5 0.9M101.6 61.1l1.1 1M72.8 60.4l-1 0.1M48.5 67.1l-0.2 0.7M133.3 57.9l-0.5 0.9M95.1 152l-0.8 -0.8M109.4 54.2l-0.5 -0.3M124.3 62.4l0.7 -0.3M4.2 97.5l0.1 0.8M126.5 126.6l-0.9 -0M36.3 12.7l0.3 0.5M16.7 14.5l-1 -0.3M92.8 9l0.3 -0.8M23.9 55l-1.1 0.6M1 162.5l-0.8 0M43.1 51.5l-0.3 -0.1M69.1 8.4l0.8 0.6M42.3 33.2l0.5 0.8M88.3 61.5l0.8 0.6" fill="none" stroke="#1c1cdc" stroke-width="2.2" stroke-linecap="round"/><path d="M131.8 32.9l-1 0.2M91.4 8.4l-0.8 1M53.2 45l0.6 0.7M73.1 144.4l0.1 -0.2M71.3 105.1l-0.4 1M141.8 11.8l0.9 -0.8M111 48.5l-1 0.4M137.8 24l-0.5 0.1M34 16.6l0.3 -0.2M108.3 42.3l-0.9 0M112.8 25.5l1 -0.1M114.4 6.9l-0.8 -0.9M48.3 38.3l1.1 0.4M149.9 53.3l-0.4 0M64.4 5.4l0.9 -0.2M105.3 36.7l-0.7 0.8M15.4 76.4l0.2 -0M70.7 111.6l-0.8 0.3M136.2 20.1l0.1 -0.6M47.8 57.2l1.2 -0M81.6 152.9l0.3 0.2M88.9 14.5l-0.8 -1.1M37.3 152l0.9 -0.4M155.3 107.9l-0.1 -0.7M122 29.4l0.2 0.6M49 11.4l-0.3 -0.1M15.7 90.7l-0.7 0.2M84.4 16l-0.5 0.7M61.6 109l0.9 -1.2M24.5 15.5l0.2 -0.4M19.2 81.6l-0.6 -0.6M19.3 76.9l-0.5 -1M32.5 66.4l-0.9 -1.1M20.9 39.4l-0.4 1M82.5 146.4l-0.4 0.8M93.8 113.3l-0.8 0.5M123.3 25.3l1.1 -0.7M5.1 64.7l0.2 0.5M48 146.4l-1.2 -1.1M95.1 38.5l-0.2 -0.6M128.9 116.9l-0.3 0.1M133.9 56.2l0.7 -0.6M75.9 151.4l0.8 -0.5M154.6 67.7l0.4 0.9M14.5 40.3l-0.9 1.1M111.6 24.9l-1.2 -1M23.1 32.6l0.3 0.3M104.6 32.7l1 0.4M139 129.3l-0.8 0.1M117.9 57.4l1.1 0.8M155.5 19l0.5 -0.6M129.5 41.4l-0.1 0.2M38.2 32.6l-0.9 -0.2M130.4 0.7l-0.1 -0.3M2.7 18.2l0.7 -0.6M55.1 35.1l-0 1.1M138.8 101.8l0.2 0M14.5 44.6l0.6 0.5M19.8 112.3l0.1 -0.3M135.3 30.3l0.2 1M157.4 59.6l-0.2 0.4M83.3 162.5l-0.6 0.1M136.6 26.7l-0.5 -0.5M0.1 28.8l-0.7 -0.8M74.7 133.1l-1 -1.1M57.9 16.6l1.1 0.4M157.5 59.5l-0.7 -0.1M59.8 160.5l0.8 -0.9M119.8 123.3l-0.8 -1M53.5 22.5l-0.1 -0.1M146.5 23.8l-1.1 0.1M94.8 7.7l0.2 0.4M122.9 105.5l0.3 -1.1M125.3 47.9l-1.1 -0M45.6 26.6l-0.6 -0.5M23 84.8l0.4 0.5M26.7 121.4l-0.4 0.8M51.3 8.8l-0.9 -0.9M30.8 50.9l-0.8 0.9M32.4 52.8l0.1 0.4M17.8 42.8l-1.2 0.1M63.4 158.4l0.9 0M51.7 25l0.5 -0.4M123.7 45.3l-0.5 0.8M103.6 42.7l0.6 -1.1M58.1 154.5l-0.4 -0.9M40 11.5l-0.7 -0.3M132.8 18.3l-0.5 1M22 55.7l0.9 0.3M94.3 45l-0.4 -0.3M129.6 137.8l0.9 -1M100.7 45.2l-0.2 -1M99.2 135.5l0.3 -0M35 36.8l0.1 -0.9M59.1 115l-0.3 -0.8M137.9 53.5l1.1 -0.1M103.4 22.8l-1 -0.8M9.7 73.3l-0.1 -0.4M132.7 6.5l0.3 1M18.2 36.9l-0.2 0.2M55.9 54.4l-0.6 0.9M35.8 130.4l0.2 1.2M5 127.9l-0 1M162.1 11.7l-0.8 1M22 74.6l0.1 -0.9M31.2 66.2l0.2 -0.5M72.1 32.5l-1.2 -1M32.3 43.7l-1.2 -0.2M118.3 10.3l0.8 0.2M103.6 43.4l0.4 -0.9M50.3 7.3l0.3 -0.1M74.8 16.8l-0.9 -0.1M78.3 135.1l0.8 0.4M34.4 41.4l0.7 -1.2M22 2.1l-0.6 1.2M11.7 53.2l-1.1 -0.8M33.8 40l-0.2 -1M62.9 17.1l-0.7 1M20.8 32.9l0.3 0.4M72.3 11.1l0.6 0.9M8.8 77.4l-0.9 -0.6M110.6 117.3l-1.2 -0.4M10.3 39.2l0.4 -0.3M37.6 64.5l0.3 1.2M6.3 15.4l-0.1 0.2M132 6.3l0.1 -0.1M39.5 153l-0.9 -0.3M151.1 43.2l0.7 0.6M160 116.7l0.9 1M132.7 26.8l0.8 -0.3M150.6 0.4l1.2 -0.4M12.8 8.9l-0.4 -0.8M47.8 65.3l-0.6 0.5M122.5 4l0.7 -1.1M106.9 34.1l0.7 1M58 15.5l0.1 -0.9M139.7 139.5l0.1 -0.4M60.4 49.8l0.2 -1.2M126.4 1.1l-1.1 -0.3M137.6 117.8l-0.5 0.6M144.4 29.6l-1 -0.9M72.6 116.1l0.4 0.5M49.4 57.3l1.1 0.4M15.6 72.8l-0.7 -0.5M45.1 41.1l0.6 0M3.4 37.9l-1.2 0.1M151.4 54l-0.2 0.5M87.5 17.2l-1.1 0.1M88.3 158.8l1 0.1M154.2 67l-0.3 -0.7M113.4 159l-0.9 -0.2M34.9 47.2l-0.2 0.2" fill="none" stroke="#2a2aff" stroke-width="2.7" stroke-linecap="round"/><path d="M0.3 112.3l-0.8 -0.3M164.7 88.4l0.7 -0.8M27.7 85.4l-0.5 0.7M114.3 73.8l-0.5 -0.2M123.6 72l0.2 0.8M41.3 81.3l0.8 -0.2M2.7 109.8l0 0M41.7 81.7l-0.4 0.4M160.4 75.6l-0.9 0.3M108.5 65.4l-0.9 -0.4M98.7 68.8l-0.4 0.5M8.8 102.5l-0.6 -0.2M9.3 110.6l-0.1 -0.9M22 97l0.3 -0.6M17 87.4l-0.8 0.9M113.8 71.5l0.9 -0M44 84.2l-0.5 -0.1M14.9 98.8l0 0.6M49.1 75.4l-0.5 -0.7M72.9 77.6l0.8 0.7M120.6 81l0.6 0.4M55.7 85.5l-0 0.6M138.2 83.4l0.8 0.7M36.1 89l-0.8 -0.5M142 77.5l-0.5 0.3M44.8 76.7l-1 0.6M-0.3 117.1l0.7 -0.5M24.6 104.3l-0.5 0.6M109 64.4l-0.1 -0.6M28.4 88l-0.1 -0.8M22.2 107.7l0.4 0.1M62.5 84.9l-0.1 0.9M107.8 67.3l0.7 -0.6M8.9 104.9l-0.3 -0.1M0.5 114.2l-0.8 -0.7M160.2 77.6l-0.4 0.5M59.2 77.5l-0.1 -0.5M130.7 70.6l0.4 0.7M40.4 81.5l-0.1 -0.2M16.8 104.8l-0.4 0.1M39.8 86.8l-0.7 -0.9M62.1 73.2l0.3 -0.7M126.8 73l0.4 0.2M34.9 90.9l0.5 -0.3M62.7 72.3l0.9 -0.9M77.4 77.4l-0.8 0M144.5 82.4l-0.5 -0.9M138.9 76.8l-0 0.8M37.5 91.8l-0.2 -0.2M17.5 100.8l0.6 0.7M75.5 72.3l-0.6 0.4M17.8 97.5l0.3 -0.4M78.8 73.3l-0.9 0.6M72.1 77l-0.6 -0.1M17.9 103.7l-0.1 0.5M77 74.2l0.1 0.5M155.7 76.7l0.9 0.3M35.5 86.9l-1 1M123.3 62.9l-0.2 -0.2M160.1 75.8l-0.4 0.7M142.5 84.2l-0.3 -0.9M86.4 78.2l-0.1 -0.6M38.4 90.9l-0.2 -1M33.8 96.8l0.6 0.8M12 102.9l0.2 -0.2M75.6 83.7l-0.7 -0.6M121.2 76.5l0.3 -0.9M51.5 83l-0.1 0.8M32.6 86.4l1 0.7M18.2 95.5l0.1 -0.3M163.7 77.5l-0.1 0.4M-0.2 113.5l-0.7 0.8M108 69.3l0.5 -0.4M77.2 72.1l0.7 -0.5M122.7 68.4l-0.8 -0.4M82 70.1l-0.3 -0.9M99.9 68.6l0.7 0.8M133.3 71.4l1 -0.5M157.2 78.3l0.2 -0.1M59.9 68.2l-0.1 0.2M150 78.5l0.5 -0.6M98.7 73.4l0.1 0.7M149.8 79.9l0.4 0.9M4 111.6l-0.9 -0.3M71.9 75.9l-0.7 -0.5M124.1 74.5l-0 0M96.2 74.9l0.2 0.9M112.4 69l0.3 0.1M0.1 116.3l-0.9 0.8M78.3 70.7l-0.4 0.1M84.2 76.2l-0.7 0.4M165 79l-0.6 0.4M102.6 72l0.6 0.2M32 98l-0.5 0.7M166.3 77.8l0.9 -0.9M159.9 80.5l0.6 0.6M52.2 76.6l0.6 0.1M110.6 73.1l-0.7 -0.3M1.9 109.6l0.4 0.3M137.4 76.4l-0.8 -0.9M-2 111.6l-0.8 0.6M74.5 70.7l-0.9 -0.8M92.6 69.9l-0.8 -0.9M38.5 83.6l-0.8 0.6M18.3 102l1 0.6M21.1 96.5l-0.6 -0.3M85.9 61.9l-0.7 0.8M7.6 102.3l-0.4 -0.5M37.5 89.9l-0.6 0.4M74.2 78.8l0.3 0.9M66.9 81l0.7 -0.1M142.9 70.7l0.3 -0.9M159.1 78l0.6 -0.8M66.7 87.1l0.6 0.1M6.7 109.9l0.8 0.5M0.9 111.1l-0.3 -0.1M46.8 79.6l0.4 -0.6M144.6 88l-1 0.9M68.7 65.7l-0.8 0.7M133.9 72l-0.6 0M108 68l0.3 -0.3M39 85.8l-0.4 0.2M108.8 63l0.3 -1M149.4 72.4l-0.6 0.3M160.1 80.3l0.2 0.4M149.1 78.6l-0.5 0.9M94 73.5l0.2 -0.8M41.1 91.9l-0.6 0.7M37.8 82.5l-0 0M112.1 75.2l-0.3 -0M10.4 104.9l-0.5 1M77.4 65.4l0.1 0.4M111.2 70.9l-0.5 -0.6M78 71.3l0.8 -0.5M112.2 69l0.2 -0.1M28.4 84.9l-0 -0.2M159.4 80.2l0.9 -1M70.5 70.9l-0.7 -0.5M159.3 80.7l0.1 0.4M159.9 84.4l0 -0.5M149.6 77.8l0.8 0.8M58.6 86.1l0.9 0.9M109.7 70.8l0.7 0.4M35.5 85l0.9 -0.6M34.2 87.9l-0.7 0.7M20.9 98.6l0.9 0.1M66.4 74l0.1 0.2M96.1 71.3l0.4 -0.1M156.7 74.7l-0.8 -0.7M116.6 69.1l-0.1 -0.8" fill="none" stroke="#1e1eea" stroke-width="2.6" stroke-linecap="round"/><path d="M71.6 76.5l-0.9 0.2M1 117.2l0.9 -0.2M111.8 73.3l0.6 0.1M160.1 83.6l-0.1 0.1M127.1 76.1l1 -0.8M104.9 64.1l0.1 -0.5M116.7 74.4l0.2 0.5M127 71.9l-0.3 -0.5M48.7 81.5l-0.3 -1M99.2 79.2l0.3 -0.6M141.1 79.6l-0.7 -0.5M31.4 84.9l0.2 0.8M0.5 105l0.8 -0.3M43.9 82.2l-0.4 0.9M9.8 108.6l0.8 -0.6M115.2 71.2l-0.8 -0.2M-1.3 114.5l0.6 -0.2M117.7 75.2l-0.4 -1M164.2 83l-0.3 -0.9M155.4 78.7l-0.4 -1M161.3 82.5l-0.6 -0M86 74.3l-0.3 0.8M51.9 75.6l-0 -0.6M41.5 87.7l-0.6 -0.2M7.3 110.1l0.6 -0.6M13.4 104.4l0.9 -0M103.1 68.8l-0.7 0M131.3 69.7l-0.5 0.9M120.7 68.6l-0.4 0.7M29.7 95.4l0.1 0.6M154.4 76.7l0.9 -0.1M23.9 94.5l0.9 -0.6M114.6 65.3l-0.7 0.5M36.6 92.1l0.1 -0.8M132.2 74.1l0 -0.5M96.7 68.3l-0.4 0.9M30.2 88l0.9 0.4M131.2 64.8l-0.7 -0.5M36.9 92.9l0.5 0.1M93.2 74.4l-0.1 -0.4M21.3 99.3l0.9 -0.5M16.2 106.9l-0.2 -0.8M104.8 70.3l0.8 0.3M69.3 78.5l-0.7 0.6M87.8 70.5l0.9 -0.1M120 70.4l0.4 0.1M35.2 85.9l0.6 0.8M114.4 77.8l-0.9 -0.6M101.5 72.8l-0.8 -0.7M50.4 79.2l-0.8 0.2M109.6 70.4l-0.7 0.9M36.1 90.1l-0.4 0.2M127.9 76.3l-0.9 0.1M159.4 72.6l-0.3 0.9M131.8 71.8l0.3 0.3M119.4 75.5l-0.7 -0.6M7.4 105.8l0.6 0.1M6.3 107l0.5 -0.8M84.5 77.4l0.3 0.3M145.7 85.1l0.6 0.4M75.8 73.5l-0.5 -0.4M83.3 73.2l0 0.9M85.8 65.8l0.1 -0.5M87.1 76.6l0.9 -0.9M128.6 74.3l0.4 0.5M63.2 77.9l-0.9 -0.5M79.4 71.4l0.7 0.7M35.4 94.8l0.7 -0.1M51.6 73l-0.6 0.7M127.7 73.8l-0.1 1M60.6 67l-0.9 -0.8M155.3 82l-0.1 0.7M102.2 74.3l0.1 -0.5M105.2 73.4l-0 -0.4M44.9 96.8l0.9 -0.2M151.2 80.5l-0.5 0.2M19.7 91.6l-0.1 0.7M48.5 83.4l-0.9 0.8M9.5 105.9l-0.4 -0.2M71.7 65.7l0.7 -0.8M12.4 102l-0.1 0.2M160.3 81l0.1 -0.7M6.6 106.1l0.4 0.1M20.7 105.5l0.4 -0.9M15.9 103.7l0.9 0.4M87.6 72l0.1 0.1M138.3 76l-0.3 -0.3M126.8 75.1l-0 0.5M69.7 73.3l-0.7 -1M38.9 88.2l0.6 0.6M161.6 82.8l-0.8 0.2M122.7 74.4l-0.2 -0.3M148.2 81.1l0.4 0.1M159.1 76.2l-0.4 1M99.7 68.9l0.3 -0.6M118.6 76.7l0.3 -0.9M121.6 73.9l-0.2 -0.6M159.4 81.7l-0.9 0.3M16 102.7l0.7 -0.6M39.8 81.6l0.5 -0.2M41 70.6l0.3 -0.8M23 98.6l-0.2 0.4M141.9 73.8l-0.8 -0.5M123.4 74.6l0.4 0.6M55.5 81.1l0.4 0.4M136.4 78.8l-0.2 0.6M143.3 74.8l-0.3 -0.3M126.6 72.1l-0.6 0M100.1 79.8l-0.3 -0.3M53.1 72.9l0.4 0.8M140.9 76.6l-0.4 -0.7M59.6 74.4l1 -0.7M61.1 74.5l0.2 -0.7M16.6 104.4l-0.1 1M36.3 91.4l0.3 0.5M105.1 67.4l0.5 0.4M147.4 76.5l0.3 0.8M152.9 74.1l0.6 -0.9M133.4 81.5l-0.3 -0.6M125.1 71.7l-0.5 -0.9" fill="none" stroke="#2929ff" stroke-width="2.2" stroke-linecap="round"/><path d="M134.9 73.8l-0.6 -0.1M62.1 84.2l0.8 -0.1M139.4 78.7l-0.7 0.6M54.7 84l0.1 0.1M136.2 68.9l-0.1 -0.8M140.8 82.7l-0.7 -0.2M146 83.4l0.7 -0.8M123.3 80.7l-0.2 -0.7M112 69.9l0.3 -0.5M144.5 74.4l-0.4 -0.6M90.2 66.3l-0.8 -0.2M129.8 74.2l0.2 -0.6M129.7 75.3l0.7 0.7M55.3 76.8l0.6 -0.1M40 89.1l-0.3 0.3M2.4 113.8l-0.5 0.5M132.1 73.7l0.6 -0.5M9.4 107.8l-0 0.3M122.8 73.6l0.3 -0.7M65.7 81.1l-0.7 -0.3M133.1 77.6l-0.5 0.7M104.5 68.9l0.1 0.8M148.7 66.4l-0.4 -0.2M121.6 73.7l0.6 0.2M50.5 85.5l0.1 -0.5M15.8 96.6l-0.6 0.8M96.9 73.1l-0.4 0.3M79.5 66.3l0.3 -0.1M68.1 80.4l0.3 0.6M33 83.7l-0.7 0.4M59 70.1l0.2 -0.4M115.2 80.4l-0.1 0.4M19 99.8l0.8 0.7M97.5 69.6l-0.3 -0.4M70.8 73.2l-0.8 0.2M13.5 97.8l0 0.4M86.2 74.4l0.4 -0.6M58.1 70.6l-0.1 -0.1M35.4 87.2l-0.3 0.1M34.9 79l-0.5 0.4M146.7 81.4l-0.7 0.8M62.1 76.8l0.3 0.3M117.5 74.3l0.4 -0.1M48.8 80.4l0 0.3M53.4 79.5l0.6 0.6M90.1 67.5l-0.1 -0M82.3 69.6l-0.5 0.4M159.1 77l-0.1 -0.2M166.4 73.1l-0.5 0.3M28.9 88.1l-0.1 -0.6M151.3 69.6l-0.4 -0.2M144.3 73l0.1 0.8M58.9 81l-0.1 0.1M1.9 110l-0.8 -0.7M82.6 79.3l0.8 -0.4M158.8 73.1l0.1 0.8M84 76.5l0.2 -0.5M22.2 93.8l0.7 0M104.3 71.7l0.6 0.7M99.4 65.4l0.1 0.6" fill="none" stroke="#0d0d9a" stroke-width="1.8" stroke-linecap="round" opacity="0.9"/></g>
<g transform="translate(1300.2 87.1)" clip-path="url(#mclip)"><rect x="0" y="0" width="164.4" height="164.4" fill="#01010f"/><path d="M-10 -10L174.4 -10L170 60.5L164.7 61.5L146 64.5L126 68.6L105.5 72.7L85 77L65 83L44 90L24 99L0 107L-4 109Z" fill="#07073e" filter="url(#b6)" opacity="0.85"/><path d="M-4 144.2L0 142.2L24 134.2L44 125.2L65 118.2L85 112.2L105.5 108L126 103.8L146 99.8L164.7 96.8L170 95.8L174.4 174.4L-10 174.4Z" fill="#040424" filter="url(#b6)" opacity="0.85"/><path d="M-4 121C-3.3 120.7 -4.7 120.7 0 119C4.7 117.3 16.7 113.8 24 111C31.3 108.2 37.2 104.7 44 102C50.8 99.3 58.2 97.2 65 95C71.8 92.8 78.2 90.7 85 89C91.8 87.3 98.7 86.1 105.5 84.7C112.3 83.3 119.2 82 126 80.6C132.8 79.2 139.6 77.7 146 76.5C152.4 75.3 160.7 74.2 164.7 73.5C168.7 72.8 169.1 72.7 170 72.5" fill="none" stroke="#1717cf" stroke-width="11.3" filter="url(#b1)" stroke-linecap="butt"/><path d="M42.6 45.4l0.3 -0.6M84.4 77l-0.7 -0.3M0.9 55.9l0.5 -0.7M123 39l0.6 -0.3M84.9 28.8l0.3 0.4M148.6 33.2l-0.2 0.4M116.8 44.8l0 -0.1M152.1 8.6l0.6 0.4M72.8 14.2l0.5 -0.3M131 111.4l-0.7 -0.2M55.2 126l0.3 0M32.7 26.5l-0.6 0.6M101.6 49.8l0.5 0.7M35.9 14l0.1 -0.7M51.9 82.9l-0.8 0.1M78.9 72.3l-0.2 0.6M32.5 97.3l-0.7 0.2M27.8 12l-0.1 0.7M159 66.3l0.2 -0.3M69.9 57.9l0.8 0.2M64.4 25l0.7 0.8M94.1 1.1l0.6 -0.8M119.8 58.3l-0.2 0.4M151.3 66l-0.4 -0.7M49 91.1l0.6 0.8M120.8 156.1l-0.6 -0.8M30 19l0.5 0M131.6 4.4l0.5 0.6M78.8 81.5l0.6 -0.4M147.2 57.5l0.7 0.5M54.7 63.6l0.1 -0.5M129.2 42.8l0.5 0.5M63.7 59.7l0.7 0.3M88.6 45.3l0 -0.3M135 26.3l0.1 -0.1M3.6 31.8l0.6 -0.3M132.4 24.1l0 0.4M9.5 43.4l0.7 -0.1M90.6 151.6l-0.6 0.8M98.1 160.6l0.1 -0.7M9.2 20.4l-0 0.3M116.4 103.6l0.3 -0.2M26.6 29.7l-0.7 0.1M41.6 38.2l-0.6 -0.4M163.6 116l0.6 0.6M29.6 25l0.6 -0.2M121.2 9.7l0.6 -0.2M111.9 5.5l0.1 0.2M28.8 63l-0.3 -0.4M84.6 0.9l0.5 0.5M119.7 67.2l-0.3 -0.3M52 61.9l0.8 -0.1M52.3 124.5l0.5 -0.2M100.4 26l-0.3 -0.5M80.3 45.2l0.7 0.4M153.4 14.3l-0.2 0.1M16.9 45.5l-0.7 -0.2M16 81.2l-0.1 -0.3M142 66l0.6 0.4M77.7 19.5l0.1 -0.4M41 134l0.3 -0.6M78.6 14.3l-0.6 -0.4M146.8 5.7l0.4 0.1M56.4 153.3l-0.1 0.4M22.5 133.9l-0.1 -0.1M30.6 82.2l-0.2 0M129.2 41.1l-0 -0.4M112.1 122.4l0.3 0.7M151.8 26.4l-0.8 0.8M91.1 66.6l0.5 0.8M22.5 77.3l-0.1 -0.5M44 60.4l0 0.7M145.7 60.4l-0.5 0.5M161.4 23.1l0.4 0.1M158.9 63.3l0.3 0.7M51.6 4.7l0.1 0.6M20.4 46.7l0.7 0.3M159.3 40.1l0.1 0.7M10.6 1.6l-0.5 0.3M33.8 83.4l-0.1 0.4M117.2 0.3l-0.5 -0.4M70.1 159.3l-0.1 -0.7M93.5 1.5l0.7 -0.7M2.1 33.3l0.3 0.2M136.8 16.7l-0.1 0.8M114.7 11.1l0.7 0.2M161.3 18.2l-0.2 -0.4M44.5 24.3l-0.4 0.5M59 148l0.6 0.3M23.3 26l-0.3 0.4M96.8 131.7l0.1 -0.5M9.6 69.5l-0.4 0.5M124.4 39.8l-0.1 0.4M39.7 15.2l0.2 0.7M63.7 55.2l0.1 0.1M74.4 82.7l0.2 0.4M99.3 29.7l-0.5 0.7M13.5 54.5l0.2 0M106.7 69.6l-0.4 -0.3M84.2 154l0.3 -0.8M25.4 50.2l-0.1 -0.1M27.3 7.5l0.8 -0.2M139.3 106.5l0.8 -0.2M102.8 9.6l-0.5 0.1M55.1 16.8l-0.4 -0.3M110.1 71.2l0.3 0.3M15 148.4l0.2 -0.3M36.6 65.5l-0.5 -0.5M55.1 43.8l-0.6 0.7M36.6 65.9l-0.3 -0.2M70.8 25.6l-0.6 0.6M16.4 82.6l-0.6 0.2M133 48l-0.6 0.4M79.5 20.9l0.7 0.2M18.6 52.9l-0.6 -0.3M114.3 60.3l0.7 -0.4M0.6 15l-0.6 0.2M142.2 104.7l-0.4 0.7M143.4 117.8l0.3 0.7M62.6 110.4l-0.1 0.7M7 58.1l-0.3 -0.3M163.8 52.3l0 0.7M93 32.3l0.6 -0.4M79.4 55.5l0.7 -0.6M45.6 82.7l-0.3 0.1M87.4 45.3l-0.8 0.5M61.7 47.7l0.4 0.4M120.2 35l0.5 0.5M58.8 50.4l0.1 0.7M124.1 120.6l0.5 -0.3M44.8 10l-0.3 -0.7M37.7 55.4l0.6 -0.6M60.7 44.4l-0.6 0.2M51.6 160.2l0.2 0M25.9 46.2l-0.3 -0.5M140.2 54.5l-0.5 0.2M127 61.6l0.1 -0.1M97.9 42l-0.6 0M64.1 62.4l0.2 0.1M48.3 32.9l0.6 0.1M149.5 38.4l-0.2 0.1M94.5 52.9l0.3 -0.2M83.8 20.1l0.5 0.4M51.2 68.5l0.4 -0.7M148.3 19.1l0.2 -0.2M39.5 140.8l0.1 -0.7M96.5 62l-0.1 0M130.9 133.2l0.1 -0.3M8.9 62.5l-0.8 -0.7M90.1 63.7l0.4 0.5M17.2 42.7l0.5 -0.1M72.4 163.2l-0.2 0.6M75.9 34.9l-0.1 0.3M15.4 15l0.2 0.6M71.1 83.5l0.6 0.5M27.8 83.9l0 -0.2M61.1 141.6l-0.1 -0.6M144.3 58.8l0.5 -0.6M53.9 54l0.2 -0.7M55.7 68.6l0.7 -0.1M59.3 66.1l-0.3 0.3M66.7 38.3l-0.2 -0.7M120.6 4.7l-0.4 -0.4M81.7 77.7l-0.7 0.8M100.8 28.2l0.5 0.6M51.6 90.5l0.6 -0.1M36.5 72.8l-0.1 -0.5M107.3 17.5l0.5 -0.1M119.7 44l-0.4 -0M141.8 33.4l0.5 -0.4M55.7 4.3l0.8 -0.2M10.9 11.9l0 0.5M19.9 26.3l-0.6 0.3M130.8 46.2l-0.1 -0.2M133.3 120.4l-0.4 -0.5M100.7 141.7l0.2 0.4M75 32.3l-0.4 0.3M36.8 35.7l-0.1 -0.8M60.5 83.8l-0.1 -0.7M144 58.7l-0.5 -0.4M66.8 86.3l-0.2 0.4M129.4 32.5l-0.1 0.5M58.1 133.6l0.6 0.6M71.9 0.3l0.5 -0M127.8 48l-0.2 0.5M31.1 16.6l-0.7 0.4M83.8 24.5l0.6 -0.8M142.5 63.8l-0.6 0.8M30.1 94.9l0.1 0.5M82.8 137.6l-0.3 0.6M152.9 32.8l-0.7 -0.2M35.8 128.4l-0.5 0.7M119.5 37.5l0.1 0.6M106.6 61.1l-0.7 -0.3M10.7 105.8l-0.4 -0.6M25.2 90.5l-0.6 -0.2M8.3 40.8l-0.4 0M41.5 14.2l-0.4 -0.7M41.2 49.3l0.3 0M18.8 36.7l0.8 -0.6M54.1 17.8l0.4 -0.8M128.3 163.7l0.3 -0.2M153.1 64.5l-0.5 -0.6M72.5 71.9l-0.7 0M94.5 40.3l0.2 -0.7M142.2 13.1l0.1 -0.4M144.8 160.8l0.5 -0.4M77.3 21.5l0.1 0M117.2 119.7l0.1 0.1M3.6 72.6l0.5 -0.8M98.2 55.4l-0.3 -0.7M110.2 47.2l-0.7 -0M50.3 89.7l0.2 -0.2M153.9 4.1l0.4 0.5M60.6 29.5l-0.6 0.2M82.4 68.2l0.1 0.1M85.9 49.3l-0.4 -0M63 71.6l-0.7 -0.1M159.3 52.9l0.2 -0.5M136.9 64.6l-0.5 0.3M45.8 18l0.3 0.1M73.8 143.7l-0.2 0.1M72.4 125.4l-0.6 -0.4M25.1 85.4l-0.6 -0.1M154.3 147.5l-0.1 0.1M92.2 68.4l0.3 -0.2M73.1 150.5l-0.7 0.3M96.4 116.8l0.4 0.7M151.9 17.9l0.8 -0.1M117.7 3.2l-0 0.7M20.8 77.8l-0.5 -0.6M24.8 36.6l-0 0.2M14.9 32l-0.4 -0.5M41.4 39.6l-0.4 0.6M155.3 67.1l0.6 -0.7M141.9 16.5l-0.2 0.2M45.7 81.7l0.3 0.1M71.9 46.3l-0.6 0.1M49.2 45.2l-0.4 -0.2M37.6 18.9l0.7 0.3M67.8 146.7l-0.5 -0.7M155.1 42.3l-0.2 -0.3M100.6 33.5l0.4 -0.4M13.1 141.9l0.6 0.2M76 117.3l0.8 -0.4M108.6 17.2l-0.2 -0.3M106.8 113l0.2 -0.2M69.8 61.6l0.8 -0.7M51.4 60.6l0.8 -0.5M28 25.6l0.4 -0.7M34.9 55.3l0.1 0M139.4 54.1l0.4 0.6M49.8 44l-0.4 0.7M2 71.6l-0.2 -0.5M0.1 157.9l0.5 -0.4M41.6 4l0.2 -0.2M40.5 47.1l0.1 -0.4M20.5 139.4l-0.4 -0.3M90.4 133.6l0.6 0.6M88.7 43.7l-0.2 0.7M16.8 54.8l-0 -0.4M75.9 124.9l-0.3 -0.1M18.1 101.9l0.2 -0.3M21 22.3l-0.7 -0.1M28.5 159.8l-0.1 -0M12.5 74.4l-0.2 -0.1M79 67.7l-0.1 -0.3M96.4 39.1l-0 0.1M80.8 65l-0.5 -0M83.1 53.1l0.5 0M163.8 33.3l-0.2 -0.7M2 15.4l-0.2 0.2M95.4 2.1l-0.2 0.8M89.2 61.7l0.6 -0.6M66.5 16.8l0.3 -0.5M124.7 7.5l-0.8 0.7M109.3 45.5l-0 0.3M135.8 147.2l-0.6 0.5M94.9 62.3l-0.1 0.3M4.8 75.6l0 -0.1M115.9 155.7l-0.3 0.6M52.7 144.1l0.7 0.2M129.9 5.1l0.7 0.2M131.6 39.1l-0.6 0.3M99.6 53.5l0.3 -0.2M40.6 84.8l-0.4 0M56.9 132.1l-0.1 -0.2M3.1 44.5l-0.1 0.7M153.9 26.8l-0.2 -0.8M10.6 54.2l-0.8 -0.2M22 49.9l-0.5 0.5M95.4 20l0.7 -0.1" fill="none" stroke="#1212a6" stroke-width="1.8" stroke-linecap="round"/><path d="M83.4 23.5l0.9 0.1M134.9 35.6l1 -0M133.2 37.7l0.8 0.9M142.6 135.8l-0.8 0.1M137.1 151.4l-0.7 0.6M93.2 45.3l0.3 -0.5M89.2 22.3l0.4 1M146.2 39.8l-0.5 0.9M110.7 20l0.7 -0.7M126 50.4l0.7 -0.8M134 26.2l0.4 -1.1M57.4 144.6l0.2 0.1M109.8 13.7l-0.4 0.6M73.9 5.1l0.5 -0.4M20.9 63.3l-0.5 0M46.4 121.5l-0.9 -0.8M53.5 46.4l-0.2 1.1M93.2 141.8l1 -1M42.5 17l0.5 0.4M126.3 25.7l0.3 1M20.3 104.6l1 0.1M151.8 108.5l0.4 0.8M84.7 47.3l-0.8 -0M143.4 68l0.9 -1.1M61.5 136.2l-0.3 -0.4M14.6 160.8l-0.7 -0.2M61.7 68.2l-0.3 -0.6M60.1 17.7l1 0.9M68.7 28.2l-0.6 0.4M41.1 51.9l0.5 -0.4M34 8.8l0 -0.4M49.6 11l0.7 0.4M107.6 36.9l0.9 -0M80.1 5.6l-0.1 -0.4M102.8 45.9l-0.5 0.8M38.3 30.6l-0.3 0.9M107.5 64.6l0.8 0.9M55 37.9l0.1 0.6M2.1 73.1l1.1 -0.1M128.7 118.2l-0 1M118.9 57.5l-0.8 -0.1M62.2 162.2l0.6 1M144.2 4.9l-0.8 -0.4M63.8 126.6l-0.2 -1M126.8 35.9l-1.1 -0.6M0.1 42.6l0.3 -0.3M120.5 110l-0.5 0.2M32.5 51.1l-0.1 -0M15.8 57.3l0.7 0.4M95 28.4l0.5 1M15.9 41.4l-1.1 0.1M92.3 41.9l-0.2 0.5M157.2 2.2l-0.8 0.4M52.8 32.6l0.2 -0.4M147.7 3.9l0.8 0.4M50.8 2.2l0.8 0.2M44.8 34.9l-0.8 0M60.4 19.7l-0.5 0.6M41.1 95.1l0.7 -0.4M50.1 86.5l0.9 -0.8M119 56.5l0.1 0.4M54.2 22l0.8 -1.1M100 16.2l0.9 0.8M145.8 5.5l-0.2 0.5M39.2 88.1l-1 -0.4M57.6 81.9l0.5 1M161.5 30.9l-0.4 -0.7M6.8 45.1l0.2 0.4M24.5 86.8l-0.1 -0M130.7 15.8l-0.5 0.9M141.5 20.8l-0.3 -0M55.6 65.4l-0.9 -0.9M32.9 89.7l-0.1 -1.1M157.6 16.8l0.2 0.7M118.9 52.2l0.9 -0.2M67.5 123.4l-0.6 -0.7M153.5 63.2l1.1 -0.1M77.5 133.6l0.6 -0.9M89.6 4.1l0 -0.9M157.3 13.6l-0.2 0.5M119.6 99.6l0.9 0.4M133.9 45.2l0.8 -0.3M151.8 44.5l-0.5 0.1M34.5 24.1l0.2 -0.3M67.9 155.6l-0.2 -0.1M68.9 9.4l-1 0.8M120.3 6.9l0.5 0.3M81 80.8l-0.8 -0.3M84.2 131.9l-0.3 0.1M144 69l0.1 0.8M39.3 75.6l-0.1 -0.7M84.3 162.6l0.5 0.9M2.7 54l1 0.4M20.4 68.7l-0.8 -1M49.6 119.9l-0.5 0.4M27.6 56.6l0.3 -1M132.3 160.8l-0.1 -0.4M34.6 17.5l-0.2 0.6M21.2 70l0.2 0.6M64.3 70.2l0.1 0.7M159.8 14.9l1.1 0.2M118.6 65l-0.3 -1.1M97.3 60.3l-0.9 0.4M47 76.5l0.7 -0M39.6 41.9l-0.1 -0M141 18.8l-0.6 1M23.9 9.9l0.8 0.3M101.4 16.4l-0.7 0.4M69.2 41l0.4 0.3M120.1 20l-0.4 -0.8M72.3 133.7l0.3 0.6M118.4 54.4l0.2 1.1M156.5 53.8l0.8 -0.2M18.2 67.5l0.1 0.6M104.9 56.3l-0.6 -1.1M20.4 92.1l-0.5 0.8M84.7 41.9l0.5 -0.6M45.3 128.6l-0.8 -0.3M43.1 72.1l0.7 0.9M27.2 31.6l-0.3 0.7M35.1 54.6l-0.1 0.1M124.9 66.4l-0.9 -0.5M70 151.5l-0.8 -1.1M62.7 44.6l-0.2 -1.1M145.5 59.1l0.9 0.1M29.1 55.3l-0.3 -0.6M89.3 0.4l-0.6 -0.1M71.2 11.3l-0.7 -1M53.7 40.9l-0.8 1M46.1 56.9l0.2 0.8M107.5 18.7l-0.9 -0.6M27 42.4l0.5 -0.7M56.1 7.6l-0.8 -0.3M42.1 139.4l-0.6 0M107.4 58.6l-0.1 -0.3M48.8 16.6l0.1 -0.6M112.1 46.4l0.4 0.9M14.3 161.9l0.2 0M100.7 57.5l-0.5 0.9M71.7 153l0.9 0.1M84 29.5l-0.6 -0.6M18.2 28.6l-0.3 0.4M84.5 78.3l1 0.1M6.9 136.6l-0.4 0.4M52.3 23.5l-0.4 -0M128.5 21.2l-0.2 0.4M139.9 113.3l-0.2 0.7M22 27.1l-0.1 1.1M20.9 63.3l0.3 -0.1M90.8 66.4l0.4 0.4M14.4 54.2l-0.2 -0.8M19.3 42l-0.5 -0.7M143.9 52.9l0.5 0.3M88.5 16.6l1 -0.5M52.2 23.9l-0.5 -0M114 61.1l0.3 0.2M133.5 55.9l-0 -0.1M59.6 45l1 1.1M131.7 50.2l-0.9 0M32.1 158.5l-0.6 -0.7M88.7 67.4l0 -0.6M14.8 151.2l-0 0.9M8.5 1.8l0.3 -0M128.1 25.1l0.3 0.9M126.6 25.7l0.3 -0.3M78.7 45.7l-0.5 0.2M128.7 111.9l-0.5 0.9M87 157.9l-0.2 0.5M139.7 24.5l-0.4 0.8M163.4 106.6l1 -0.9M20.2 12.6l1 -0.1M52.9 42.9l0.9 -0.2M91.8 73.1l-1 1M99.1 57l-0.7 -0M12.4 20.3l0.2 0.9M20.7 69.5l-0.3 -0.2M137.2 157.6l-0.7 1M36.5 3.8l1 0.4M9.3 86.8l-1.1 -0M47 6.6l0.5 0.5M101.3 30.6l-1 0.3M80.3 28.9l-0.7 -0.4M121.3 161.9l-0.4 -0.1M1 58.1l0.1 -0.4M98.3 18.5l0.9 -0.9M50.2 28.9l0.7 0.6M96.9 135.7l0.8 0.3M154 17.1l0.4 -0.4M41.7 4.2l-0.1 -0.1M43.4 92.2l-1 -0.1M144.2 42.2l-0 -0.5M3 68.5l0.8 -0.1M41.9 60.4l-0 -0M15.6 151.3l1.1 1M114.5 57.3l0.3 0.5M91.9 139.5l0.8 -0.6M141.2 4l1 -0.1M94.5 24.1l-0.4 -0.6M72.2 30.4l1 0.2M97.2 70.5l-0.5 -0.5M144.9 28.7l-1.1 -0.3M3 70.9l-0.9 -0.5M96.7 161.2l-0.7 0.2M36.7 72.2l-0.1 1.1M53.3 51.9l0 -0.6M26.7 66.1l0.6 1M53.3 130.9l-0.6 -0.9M16.7 103.1l-0.3 0.5M150.9 17.3l-0.3 0.2M110.1 60.9l0.1 0.6M69.6 30.6l0.9 -0.7M91.5 54l-0.2 -0.3M103.6 121.4l-0.7 -0.5M142.5 33.4l-0.5 -0.1M161.8 10.7l1 0.2M152.9 110.1l-0 -0.1M11.7 6l-0.7 0.4M4.4 86.5l1 0.4M157.8 58.8l-0.1 0.7M89.1 43.2l-0.6 -0.3M0.7 41l-0.5 0.8M86.2 69.2l-0.5 -0.6M121 115.1l0.2 0.6M103.7 51.4l0.6 -0.2M151.4 87.5l-0.7 1M56 57.4l0.2 -1.1M0.7 68.6l-0.5 -0.3M130.2 19.9l-0.6 0.5M84.9 38.6l0.3 1M19.8 53.4l-0.7 -0.4M53.4 56.1l-0.8 0.5M9.9 71.5l0.6 -0.2M145.9 50.8l-0.3 0.7M93.2 12.6l-0.6 -1.1M51.2 20.3l-0.7 -0.2M101.8 37.4l-0.7 0.4M64.9 44.2l0.2 -0.7M28.3 43.4l-0.5 -0.5M9.7 49.7l0.8 0.1M60.2 0.1l-0.3 0.4M130.3 20.8l1 0.5M3.3 81.2l-0.7 -0.4M42.6 62.8l-0.2 -0.1M0.4 42.7l0.5 -0.9M53.3 68.1l-0.3 0.9M53.3 3.1l1 0.8M20.1 82.4l0.7 0.4M19.3 52.5l0.3 -0.7M62.1 11.3l0.7 0.2M56.9 32.9l0.4 -0.4M153.9 42.8l-0.9 -0.3M110.7 38.4l-0.5 -0.6M22.4 45.7l1 -0.3M123.7 34.5l0.9 0.8M27.8 39.7l-0.8 0.9M12.7 57.6l-0.8 1M107.9 14.4l-0.6 1M15.4 93l0.7 -0.5M155.6 65l0.3 -0.7M124.9 35.6l0.2 -0.6M72.3 38l-0.8 -0.5M4.3 77.3l0.7 0.3M50.7 17.3l0.1 -0.5M11.6 28.2l0.5 1M57.2 82.2l-0.1 -0.1M63.9 22l0.2 0.5M92 159.5l0.4 0.5M57.8 52.5l0.8 -0.9M81.1 130.9l1 -0.8M21.8 33.9l-0.9 0.7M65.7 63.4l-0 -0.3M55 5.9l-0.8 0.7M122.5 61.4l0.1 -0.8M45.3 147l-0.8 -0.9M44.5 80.1l-0.7 0.6M19 34.6l-0.8 -0.5M12.4 68.1l-0.7 -0.4M117.2 130.4l-0.6 -0.9M146.3 58.7l-0.4 1M42.4 24.8l-1.1 -0.8M8.2 27l0.3 -0.2M94.3 141.9l-0.5 -0.3M79 77l-0.3 -1M156.8 97.8l-0.4 -1M143.3 27.1l-0.7 1M22.5 84.2l-0.2 -1M75.7 77.3l-0.6 -0.8M161.9 11.3l-0 -0.6M74 42.2l1 -0.4M148.8 22.8l-0.6 0.1M17.2 75l0.7 0.1M129.2 30.6l-0.4 0.3" fill="none" stroke="#1c1cdc" stroke-width="2.2" stroke-linecap="round"/><path d="M161.9 1.9l1.2 0.1M152.1 36.7l0.7 0.3M37.4 7.8l0.2 -0.5M12.5 63.9l0.2 -0.1M58.3 117.8l-0.3 0.1M95.3 73.3l0.5 -0.2M136.5 113.7l0.7 -1.2M17.4 8.6l0.9 0.1M142.1 20.4l-0.3 -0.1M98.5 19.5l0.8 1M21.3 100.4l-1.1 -1.2M141 1.7l-0.8 -0M159.9 43.1l0.5 -0.9M142.5 18.3l-0.9 -1.1M1 99.7l-0.3 -0.1M17.6 41.2l0.6 0.1M89.8 58.7l0.7 0.1M95.5 39.2l-0.6 -0.5M140.6 60.6l0.2 -0.8M29.8 95.7l0.3 0.1M77.8 117.2l0.6 -0.1M83.5 51.6l1.1 1.1M47.5 42.1l0.5 -0.8M87.5 36.7l1.1 0.2M82.1 58.5l-0.9 -0.5M40.8 11.7l0.7 -0.7M55.4 72.6l-1.1 -0.5M26.3 60l0.1 -0.1M35.7 42.2l0.8 -0.5M85.1 46.2l0.6 0.7M58.1 32.5l0.4 -0.9M83.7 78.2l0.5 0.5M125.3 14.3l-1.1 0.2M82.3 5.9l0.5 -0.4M137.3 99l0.8 0.5M14.4 76.2l-0.6 -1.1M56.1 23.7l0.6 -0.1M115.8 1.2l0.1 -0.7M144 17.3l0.1 -1M29.9 54.6l-0.3 0.4M76.3 7.6l0.7 1M115.8 28.5l1.1 1M75.6 45.3l-1 0.7M117.5 37.6l-0.5 -0.9M44.6 159.7l0.3 0.5M126.9 50.2l-1 -0.3M57.8 6.5l-0.2 -0.8M149.3 107.5l1.1 0.6M140.6 46.5l1 1.2M124.5 138.1l0.6 -0.8M67.5 59.4l0.4 -0.3M89.6 144.6l0.3 0.8M81.8 42.5l1.2 0.2M110.2 56.1l0.5 0.2M148.3 159.5l-0.3 0.8M84.6 17.2l0.1 1.2M12.3 82.5l-0.6 -1M125.3 59.8l-0.5 0.9M153.1 8.7l0.2 -0.3M140.7 11.3l-0.6 -0.7M106.2 63.9l0.1 -0.7M147.2 53.7l1 0.8M12.2 12.5l0.7 -0.2M59.8 77.7l0.3 -1.1M92.3 121.5l0.8 -0.3M103.4 110l-0.3 -0.9M55.6 53.5l1 0.6M128.5 47.8l-1.1 1M9.7 10.1l-0.5 1.1M103.6 72.3l0.4 -0.7M157.4 45.6l-1.2 -0.5M78.7 23.2l0.6 0.7M9.7 153.7l0.8 -0.2M145.4 7.4l0.7 -0.5M24 42.8l0.1 0.6M124.2 71.5l-1.2 -0.5M66.2 85.6l-0.2 0.8M156.7 31.3l-0.9 -0.7M90.2 57.8l-0.5 -0.3M152.4 49.3l1.1 1.2M52.2 87.7l-0.7 -0.2M110.1 67.7l-0.1 0.1M47.9 75.1l0.6 -1M14.1 18.5l-0.5 -0.5M30.2 30.2l0.1 0.9M56 149.3l0.1 1M40.4 30.1l1 0.8M15.1 59.9l-0.3 -1.1M61.2 84.3l0.8 0.4M34.5 21.1l-0.4 -0.8M4 21.3l-1.1 -0.9M71.7 69.8l0.7 1.1M90.1 45.2l0.7 1M136.6 34.4l0.7 1.1M91.2 53.5l-0.7 0.8M33.4 30.5l0.5 1.2M131.9 38.2l0.6 -0M5.3 13.5l0.9 -1.1M81.7 18.5l0.1 0.5M154.6 64.3l-1 -0.6M69.1 83.1l-0.2 1.2M46.8 30.8l1.1 -0.7M138.3 62.2l-1 -0.8M90.8 32.9l-0.4 -0.1M120.9 26.7l-0.5 -0.4M2.8 3.6l-0.9 -0.1M35.6 66.8l1.1 0.9M95.5 36l0.1 -0.7M117 156.3l1.2 -0.1M112.3 65.3l0.6 1.1M156.2 55.6l0.6 0.7M74.7 65l0.4 -0.5M5.2 2.2l0.2 0.1M16 138.5l-0.7 0.4M145 37l-0.2 -1.2M89.3 58.1l-0.3 -0.6M15.2 88.7l0.3 0.6M142.4 30.1l0.2 0.9M30.7 55.2l-0.5 -0.7M119.5 73.8l0.4 -0.8M142.5 64.4l-0.2 -0.5M36.8 79.4l-1.1 -0M2 158.2l1.2 0.5M89.7 157.6l-0.7 1M10.5 33.8l0.4 0.5M139.9 85l0.1 -0.9M44.7 84l0.7 -0.4M90.2 50.9l1 -0.1M30.1 30.5l-1 -0.2M133.2 10.3l-0.2 -1.1M46.5 76.8l-0.6 1.2M27.7 137.8l-1.1 -0.4M60.3 156.5l-0.9 1M157 33l-0.5 0.3M125.3 26.5l-0.3 0.5M1.2 20.4l-1 -1.2M13.9 77.5l-1 -0.3M138.7 28.1l-0.4 -0.4M27.9 52.8l-1.1 0.6M103.9 39.2l-0.8 -0M23 49.4l0.3 0.5M2.6 103.9l0.3 -0.1M117.5 54.1l0.6 0.1M78.4 123.2l0.7 -0.7M83.9 42.7l-0.4 -0.7M42.7 33.9l-0.3 -0.7" fill="none" stroke="#2a2aff" stroke-width="2.7" stroke-linecap="round"/><path d="M148.7 70.8l-1 -0.6M121.8 87.5l0.6 -1M43.3 101.8l-0.5 0.1M155.1 74.9l1 0.9M104.2 88.6l-0.4 0.6M81.4 93.2l0.1 -0.4M110.9 81.5l0 0M102.8 93.6l-0.8 0.2M10.2 119l0.5 0.1M49.3 92.9l-0.3 -0.5M117.8 87.4l-0.2 0.8M9.8 109.5l0.2 0.2M138.9 78l0 0.6M113.6 90.1l0.4 0.2M76.4 97.3l-0.3 -0M165.4 69.3l0.1 -0.1M159.4 68.6l0.6 0.3M110.9 80.8l0.5 -0.2M65.4 90.2l0.5 -0.9M34.3 106.4l0.4 -0.5M42 107.2l-0.6 0.9M115.4 76.4l-0.6 0.7M114 77.9l0.3 0M110.2 83.4l-0.6 0.3M-0.8 109.7l-1 0.7M32.6 110.7l-0.4 -0.3M76.7 94.1l-0.5 0.5M136.8 79.8l0.7 -0.8M3.5 119.9l0 0.1M144.2 70.2l-0.3 0.8M41.3 106.6l0.8 0.1M73.8 90.8l-0.5 -0.1M158.1 68.9l0.1 0.1M16.6 111.8l-0.5 -0.3M-1.2 119.4l-0.6 0.4M136.8 80.2l0.5 -0.4M40 109.5l0.8 -0.7M30.3 106.6l0.7 -0.1M117.7 80.3l-0.6 -0.6M10.8 119.8l-0.5 0.3M138.2 79.3l0.9 0.6M114.3 77.9l-0.1 -0.1M55.2 100.7l-0.8 -0.8M122.6 83.8l-0.9 -0.5M92.8 89.3l-0.1 -0.4M78 93.3l-0.4 -0.4M0.4 123l-0.2 0.3M20.5 113.3l-0.5 -0.8M147.7 80.7l-0.3 -0.8M131.8 84.1l0.3 -0.8M51.1 87.9l-0.8 -0.3M101.9 82.3l0 -0.7M63.2 98.6l0.8 -0.8M158.9 74l0.3 0.9M50.2 96.9l-0.8 0.4M107.8 85.9l1 -0.6M146.6 75.5l0.4 -0M164.8 71.2l-0.2 -0.1M119.7 74.2l0.7 0.4M16.1 113.3l0.2 -0.2M98.7 87.6l0.8 -0.6M111.3 76.9l0.9 -0.8M8.5 113.1l-0.4 -0.3M100.4 86.2l-0.6 -0M64.8 90.4l-0.5 -0.2M97.1 87.8l-0.8 0.1M147.9 75.6l0.8 0.7M29.1 111.8l0.9 -0.4M16.9 118.5l0.7 -0.1M19.2 105.5l0.8 -0.4M58.7 103.6l-0.3 -0.7M162.8 69.4l-0.1 -0.5M165.1 72.9l0.3 0.4M40 105.2l-0.7 -0.1M82.6 92.7l0.3 0.9M77.6 91.5l0.7 -0.1M112.8 84.4l0.8 -1M53.6 100.5l-0.8 0.8M13.3 115.9l0.5 -0.5M132.7 80.5l0.3 0.2M146.1 83.3l-0.4 0.1M140.1 79.6l0.1 0.7M107.6 82l-0.6 -0.2M11.7 122l0.8 0.8M5.8 119.7l0.3 -0.4M152.1 74.7l0.3 0.9M125 82.5l-0.1 -0.8M106.8 84.9l0.9 -0.9M22.6 108.5l-0.3 0M37 100.1l-0.1 0.9M78.3 92.9l-0.8 -0.4M104.2 92.7l-0.3 -0.4M114.4 81.9l0 -0.5M147.2 75.3l-0.9 0.1M129.2 74.7l0.3 -0.4M80.9 89.7l0.6 0.6M125.2 77.7l-0.6 1M84.9 88.4l0.7 0.4M34 111.3l0.3 0.5M144.6 76.9l-0.7 0.2M119.1 83.2l0.1 0.9M96.2 91.2l-0.5 0M95.6 82.3l0.5 0.5M113.9 84.2l-0.9 -0.3M146.4 69.6l-1 0.4M112.5 82.6l-0.3 0.7M18.1 112.8l-0.3 0.7M57.6 100.8l0.3 0.9M80.7 86.5l-0.4 -0.7M121.6 94.7l-0.7 -0.9M60.5 93.7l0.9 -0.4M24.9 102.1l0.3 0.7M104 88.7l-0.9 -0.4M145.8 75.6l0.3 -0.5M133.3 78.2l0.7 0.3M133.8 81l0.4 -0.1M68 91.5l-0.1 -0.3M120.6 85.2l-0.6 0.9M148.6 81.9l-0.5 1M27.6 106l0.3 1M60.2 99.2l-0.1 1M55.3 98.3l-0.2 0.1M27.8 107.2l-0.5 -1M108 84.5l0.7 -0.8M67.2 94.4l-0.2 0.5M53.2 104.9l-0.9 -0.4M2 121.8l-0.4 0.4M145.9 70.9l-0.8 0.5M47.5 100.3l-0.6 -0.1M22.6 117.5l-0.3 -0.2M160.8 71.3l0.4 -0.4M6.7 112.7l0.3 -0.2M45.7 91.7l0.4 -0.9M22.4 116.6l-0.1 0.3M97.7 95.6l-0.2 0M123.8 85.9l-0.8 0.8M134.8 78.8l0.6 0.9M38.6 102l0.7 -0.5M4.6 115.9l-0.5 -0.8M29.7 107.9l-0.8 0.4M27.3 115.6l0.4 -0.9M46.1 98l-0.7 0M161.5 75.2l-0 0.3M62.2 97.7l-0.5 0.8M133.7 84.7l-0.5 -0.3M89.6 92l0.9 0M132.5 78.7l-1 0.3M14.7 115.1l-0.7 -0.1M119.8 75.2l-0.1 -0.5M31.5 107.3l-0.6 -0.4" fill="none" stroke="#1e1eea" stroke-width="2.6" stroke-linecap="round"/><path d="M45 103.5l0.6 -0.4M116.4 89.9l0.7 -0.8M24.1 110.8l0.6 -0.5M76.6 90.4l-0.7 0.7M41.3 103.8l0.6 0.3M113.2 77l-0.4 -0.9M31.2 113.1l0.6 -0.5M115 84.3l-0.4 -0.2M-0.4 123.6l-0.7 -0.3M58.8 90l0.3 0.5M85.4 83.7l-0.9 0.8M107.4 77.1l0.4 -0.1M84.8 89.6l0.2 0.2M3.5 113.3l0.3 -0.7M90.2 84.9l-0.8 0.6M64.4 97l0.6 0.2M35.2 103.5l-1 0.2M147.1 82.3l-0.1 0.7M74.9 93.2l0.3 -0.3M84.9 87.4l-0.5 -0.5M123.4 81.9l0.2 -0.7M26.3 106.2l-0.6 0.6M159.8 69.9l-0.1 0.4M56.3 94.3l0.2 0.5M17 109.7l0.3 -0.3M147.9 74.5l0.4 -0.7M109.7 84l-0.7 0.3M124.8 75.8l-0.7 -0.6M20.6 117.3l-0.5 0.2M98.6 86l-0.6 0.6M29.9 113.5l-0 -0.2M120.3 85.1l0.6 0.5M110.3 83.6l-0.9 0.8M127.3 84.8l-0.7 0.4M105.9 86.1l0.6 0.8M128.5 79.2l-0.4 -0.7M0.2 115.5l-0.6 -0M10.5 112.1l-0.5 -0.9M68.5 90.1l0.9 0M11 108.5l0.7 -0.6M83.8 89.9l-0.9 -0.5M148.3 74.3l-0.8 1M156.1 73.4l-0.9 0.2M22.5 113.7l-0.4 -0.1M35 100.7l0.4 -0.1M155.8 77.9l-0.4 0.1M92.1 91.5l-0.1 0.5M108.7 82.9l-0.4 -0.1M-2 119.3l0.3 -0.4M20.3 112.7l0.4 -0.5M134.2 81.4l-0.8 0M86.6 90.8l-0.3 0.3M86.5 90.6l0.7 -0.4M111.9 83.8l-0.9 -0.6M66.2 98.4l-0.8 -0.4M60.7 98.9l-0.7 -0.5M166.3 75.6l-0 0.3M10.6 116.2l0.4 -0.7M90.8 94.4l0.7 -0.2M16.9 111.7l-1 0.9M88.9 81.4l1 -0.2M117.1 90.8l0.8 -0.9M99.7 85.7l-0.4 1M86.7 92.8l0.2 -0.1M61.8 94.5l0.6 0.8M68.8 93.2l-0.8 0.3M164.2 69.8l0.9 -1M124.9 83.6l-0.2 -0.4M134.8 78.5l-0.2 -0.1M117.9 78.4l-0 1M31.6 107.1l0.8 0M30.4 107.6l0.6 0.9M27.5 105.6l-1 0.5M1.5 123.6l-1 0.1M145.6 84.6l-0.3 -0.5M157.8 79.8l0.2 0.4M101.5 90.6l0.4 -0.1M73.4 84.6l0.5 0.9M142.1 84l0.6 0.8M107.2 85.9l0.6 0.5M128.8 81l-0.9 -0.8M86.1 90.1l-0.2 0.7M100.1 84.9l-0.7 0.4M93.6 84.9l-0.5 0.3M161.1 73.9l-0.9 -0.3M159.8 81.5l-0.4 0.3M111.3 79.7l-0.8 0.3M76.7 93l-0.6 -0.3M19 115.5l-0.1 0.2M27.2 111l-0.6 0.6M149.5 70.8l-0.2 -0.7M92.8 93.4l0.8 -0.1M149.2 80.9l0.1 0.8M73.5 88.7l0 0.6M39 101.1l-0.6 0.5M137.5 76.9l0.8 -0.1M5.2 114.9l-0.2 0M68.7 91.2l0.8 -0.9M89.3 100.4l0.8 0.3M58.2 95.9l-0.2 -0.8M159.2 79l0.7 0.4M92.9 86l0.1 0.7M31.3 108.8l0.2 -0.6M126.3 76.2l0.9 0.5M153.2 71l-0.7 0.7M90.4 83.6l0.4 0.1M20.1 111l0.7 -0.2M28.4 109.4l-0.5 -0.5M163.1 72.2l0.5 -1M71.3 94.6l-0.4 -1M8.1 114.1l1 0.4M34.6 104.5l0.5 -0.4M105.3 85.3l-0.1 -0.7M118.4 81.8l-1 0M96 82.6l0.7 -0.8M-0.1 119.4l0.3 0.8M57.2 94.1l0.3 0.2M165.4 72.9l0.6 -0.6M55.3 102.3l0.6 0.4M131.8 73.5l-0.2 0.5" fill="none" stroke="#2929ff" stroke-width="2.2" stroke-linecap="round"/><path d="M80.8 82.7l-0.2 0.1M17.8 113.1l0.1 -0.2M35.9 110.2l-0.4 -0.6M74.3 92.6l-0.6 0.4M158.9 78l-0.8 -0.3M81.5 88.4l0.1 0.3M15.7 113.9l-0.2 -0M26.3 105.2l0.7 0.6M145.7 79l0.2 0.4M78.4 91.7l0.4 0.5M165.9 75.3l0.1 0.2M131.2 81.9l0.6 -0.3M54.6 99.2l0.6 0.5M38.1 104.3l0.6 0.4M50.2 101l0.3 -0.5M111.5 82l0.7 -0M147.3 83.3l0.1 -0.8M6.5 115.7l-0.7 0.5M79.4 91.1l-0.3 0.4M38.9 106.2l-0.3 0.2M121.8 79.6l0.7 -0.3M46.1 100.4l-0.3 -0.6M9.1 121.8l0.4 0.2M77.5 88.3l0.3 0.2M159.9 76.9l-0 0.6M40.8 103.1l-0.4 0.6M30.2 104.6l-0.4 0.5M85.3 85.1l0.6 0.7M128.3 76.8l0.7 0.3M110.6 83.1l0.3 0.2M157.8 78.9l-0.6 0.6M21.5 113.2l-0.8 -0.7M123.8 74.2l-0.6 0.5M110.8 86.8l0.6 -0.7M159.5 69.7l0.2 0.5M162.1 71.4l-0.5 0.5M133.2 78.2l-0.1 0.5M153.2 76.9l-0.2 -0.4M8.7 124.2l0 -0.2M109.4 79.7l-0.4 -0.1M157.8 69.5l-0.5 -0.3M98.4 82.2l0.7 0.8M35.5 111.5l0.4 -0.7M74 95.4l-0.2 0.7M19 109.8l-0.7 -0.2M42.2 101.7l-0.2 0.5M145.5 71.8l0.3 0.7M135.6 74.2l-0.1 -0.5M71.5 89.1l-0.6 -0M58.2 98.5l-0 0.3M129.1 82.4l-0.3 0.7M117.8 80.1l-0.8 -0.3M34.3 112.3l0.3 0.1M128.7 80.3l-0.3 -0.6M53.5 105.1l-0.6 0.2M52.1 99.1l-0.6 -0.1M126 81.8l0.5 -0.4M151.5 73.8l-0.2 0.1M71.1 92.6l-0.3 -0.4M87 92.3l-0.3 -0.2" fill="none" stroke="#0d0d9a" stroke-width="1.8" stroke-linecap="round" opacity="0.9"/></g>
<g transform="translate(1483.9 87.1)" clip-path="url(#mclip)"><rect x="0" y="0" width="164.4" height="164.4" fill="#01010f"/><path d="M-10 -10L174.4 -10L170 68.5L165 66.6L149 60.4L129 55.3L108.6 51.3L88 50.2L68 51.3L47 56.4L27 62.5L0 72.7L-4 74.5Z" fill="#07073e" filter="url(#b6)" opacity="0.85"/><path d="M-4 110L0 108.2L27 98L47 91.9L68 86.8L88 85.7L108.6 86.8L129 90.8L149 95.9L165 102.1L170 104L174.4 174.4L-10 174.4Z" fill="#040424" filter="url(#b6)" opacity="0.85"/><path d="M-4 86.5C-3.3 86.2 -5.2 86.7 0 84.7C5.2 82.7 19.2 77.2 27 74.5C34.8 71.8 40.2 70.3 47 68.4C53.8 66.5 61.2 64.3 68 63.3C74.8 62.3 81.2 62.2 88 62.2C94.8 62.2 101.8 62.4 108.6 63.3C115.4 64.1 122.3 65.8 129 67.3C135.7 68.8 143 70.5 149 72.4C155 74.3 161.5 77.2 165 78.6C168.5 79.9 169.2 80.2 170 80.5" fill="none" stroke="#1717cf" stroke-width="11.7" filter="url(#b1)" stroke-linecap="butt"/><path d="M86.7 48.4l-0.2 -0.4M65.2 141l0.6 -0.7M21.3 3l-0.5 -0.4M86 37.4l0.1 -0.2M0.6 5.9l0.6 -0.6M145.6 11.4l0.1 -0.2M150.5 19.1l0.2 -0.3M158.9 124.2l0.2 0.4M86.1 128.7l0.8 -0.2M137.9 44.4l0.6 0.2M64.5 107.2l-0.1 -0.3M67.8 4.5l-0.2 -0.3M94 14.9l0.2 0.3M96.5 75.5l0.2 0.6M40.5 55.4l0.5 -0.2M123.3 102.4l0.4 0.3M154.1 57.8l0.6 -0.4M37.8 106.9l0.4 -0.8M113.8 103.1l-0.4 0M44.5 153.2l0.1 0.7M48.2 95l0.5 0.3M155.8 161.6l-0.4 -0.3M37 28.1l-0.4 -0.2M11.7 4.3l-0.6 -0.1M51 22l-0.6 0.5M160.7 69.1l0.2 0.8M145.5 23l-0.4 0.6M11.1 101.7l-0.1 0.5M121.1 130.6l-0.8 0.8M133.5 159.3l-0.4 -0.6M72.7 51.1l-0.2 0.6M163.3 50.5l-0.6 -0.8M2.6 59.2l0.6 0.1M121 120.9l0.2 0.3M71.2 99.4l-0.2 -0.5M89.7 152.6l-0 -0.3M69.2 19.4l-0.7 -0.8M144.2 118.6l-0.7 0.6M82.1 84.6l-0.1 -0.1M29.2 126.8l-0 -0.4M49.4 111.4l-0.2 0.6M163.8 46.1l0 0.3M136.5 146.4l-0.2 -0.1M162.3 64.2l0.8 -0.6M136.8 59.6l-0.5 0.7M60.3 56.2l-0.8 0.8M139.4 10l0.3 -0.3M73.5 105.3l0.6 -0.2M0.6 58.7l-0.8 0.5M43.2 121.7l-0.2 -0.6M122 123.2l-0.8 -0.6M149.1 1.4l0.5 -0.5M147.2 98l-0.1 -0.2M136.5 21.7l-0.4 -0M51.1 41.3l0.2 -0M17.5 44l-0.1 -0.1M154.5 28.3l-0.4 0.5M61.3 105.2l0.2 -0.2M110.1 24.7l0.3 0.2M95.3 119l-0.3 -0.5M7.9 109.9l0.3 -0.4M152.2 113.5l-0.3 -0.6M67.3 9.2l0.2 -0.6M65.4 137.6l-0.7 -0.7M34.5 58.3l-0.4 0.7M95.1 127.1l0 0.2M80 30.8l-0.4 -0.6M111.4 36.4l0.3 0.4M49.8 54l-0.1 -0.4M143.7 130.1l0.1 0.1M75.2 33.1l0.8 -0.2M156.3 15l0.4 0.3M32.1 138.9l0.5 -0.3M80.1 8.6l0.5 0.4M122.3 43.2l0.4 -0.8M98.3 8.1l-0.4 -0.7M19.3 16.3l-0.4 -0.3M77.3 130.1l-0 0.1M161.5 143.5l0.8 -0.4M95.9 2.6l0.2 0.4M73.7 26.1l-0 0.4M102.4 150.3l-0.7 -0.4M54.8 26.9l0 0.4M36.1 4.7l-0.5 0.6M76.4 2l-0.7 0.3M41.7 15l0.2 0.8M24.8 65.9l0.8 -0.1M76.2 26.9l-0.1 0.2M144 53.2l-0.1 0.5M158.7 13.8l0.1 -0M84.1 139.5l0.7 0.3M42 5.2l-0.4 0.2M23.1 152.8l-0.4 0.7M71.3 17.3l0.4 -0.4M159.9 44.4l-0.7 -0.4M147.8 12.3l0.7 -0.1M97.9 46.7l0.3 0.2M155.2 153l-0.2 -0.6M31.8 15.7l0.1 0.3M89.5 17.5l0.3 -0.6M70.4 30l-0 -0.7M53.4 3.8l-0.1 0.6M15.5 27.7l0.3 0.3M50.3 154.1l0.7 -0.7M123.2 89.7l-0.6 -0.7M36.3 107l-0.4 0.1M152.2 99.9l0.7 -0.7M148.2 7.5l0.1 -0.5M108.3 32.3l-0 -0.4M112.9 27.2l-0 0M154.3 114.4l0.4 0.5M61.2 115.7l-0.2 0.3M78 16.3l-0.8 0.4M35 153.8l-0.1 -0.1M103.8 105.8l0 -0M101.6 40.1l0.6 -0.6M144.5 8.7l-0.5 0.7M84.4 70.7l-0.4 0.2M32.4 52.2l0.2 -0.5M93.3 7.1l-0.5 0.3M110.6 21.4l0.5 -0.4M8.9 9.1l0.5 0.5M19.5 55.2l0.4 0.2M28.7 57.4l0.4 -0.6M163.6 4.2l0.2 0.4M15.8 98.4l0.2 -0.7M124.2 117.5l0.6 0M43.7 148.5l0.7 0.3M145.4 128.5l-0.6 -0.3M68.4 147.8l-0.5 0.3M85.6 23.8l-0.8 -0.5M47.8 7.8l0.2 0M89.7 112.3l0.5 0.4M54.2 3.5l0.6 -0.6M139.7 22.3l0.6 0.7M45.7 54l0.4 0.5M139 16.3l0 -0.3M110.2 97.5l0.6 0M14.3 3.1l-0.5 -0.1M31.8 133.8l0.6 -0.3M37 2l0.6 -0.6M98.6 8.9l0.7 0.2M116.5 46.8l0.1 -0.7M82.8 39l-0.4 -0.6M57.4 93.7l0.1 -0.8M63.7 92l0.1 -0.2M30.1 143.8l-0 0.8M149 15.6l0.2 0.3M145.2 52.5l0.5 -0.5M26.4 56.4l0.3 0.3M18 105.2l-0.4 0.3M114 48.9l0.7 0.6M132.9 42.1l0.3 -0.4M80.4 73l-0.5 -0.7M161.6 0.4l-0.6 0.5M87.7 8.9l-0.1 -0.4M24.6 95.4l-0.3 0M13.3 160l-0.5 0.7M36.7 46.3l0.3 0.1M80.6 148.5l0.2 -0.1M94.4 102.6l0.1 0.2M64.2 105l0.8 0.3M106.5 112.7l-0.2 -0.1M68.6 140.7l-0.1 0.2M64.3 56.6l-0.2 0.6M113.9 164.2l0.6 0.6M60.4 111.8l0.1 -0.1M89.2 44.3l0.5 -0.4M101.7 23l0.1 -0.2M105.3 106.6l0.3 -0.5M125.4 86.7l0.1 -0.7M138.1 114.4l-0.8 -0.1M71.5 82.3l0.2 0.1M76.6 132.1l-0.8 -0.6M65.8 41.2l-0.7 -0.6M67.5 18.9l-0 -0M4.9 16.9l0.7 0.4M147.3 7.8l0.2 -0.3M77.8 94.3l-0.3 -0.1M15.4 48.6l0.8 0.7M47.6 35.1l-0.2 -0.5M132.7 45.3l-0.7 -0.6M133.8 130.9l-0.7 -0.3M77.5 30.8l-0.5 0.4M137.2 107.5l-0.1 0.6M66.6 126l0.8 -0.7M54.3 2.8l0.6 -0M118.8 18.4l-0.2 -0.2M123 143.5l-0.5 0.7M24.9 147.3l0.7 -0.7M145.9 23.8l0.3 0.1M97.1 39.6l0.5 -0.7M112.8 22.1l0.5 0M95.8 13.4l0.3 0M47.8 10.1l-0.7 -0.5M74.8 151.1l-0.1 -0.8M63.7 129.3l-0.2 -0.6M159.5 34.9l-0.4 0.4M136.4 38.5l0.2 -0.3M152 26.1l-0.7 0.3M64.7 123.5l0.7 0.1M106.2 18.1l0.2 -0.3M37.7 133.5l-0.2 0.1M72.9 144.3l0.7 0.5M73.8 161.2l0.1 0.5M88.7 106.6l0.2 -0.1M59.8 53.5l-0.7 0.4M115.8 10.9l-0.1 -0.6M117.9 6.7l-0.6 0.6M93.4 91.8l0.7 0.2M93 152.8l0.5 0.1M127.4 41.9l-0.1 -0.1M40.1 50.5l-0.3 0.4M121.8 29.3l-0.3 -0.6M38 104.3l-0 -0.1M125.4 119.5l0.8 -0.6M96.9 24l0.3 0.3M106.4 38.9l0.6 -0.2M151.6 109.9l-0.3 -0.3M120.4 101l-0.3 -0.7M56.6 31.4l-0.3 -0.3M80.5 23.7l0.7 -0.1M120.4 3.1l-0.3 0.3M67.1 116.7l-0.4 0.3M78.7 35l-0.1 -0.6M142.1 60.3l-0.1 -0.3M153.6 60.8l-0.7 0.3M23.1 67.7l-0.8 -0.5M37.9 8.6l-0.4 -0.8M107 89.7l0.3 0.1M117.1 36.2l-0.1 -0.4M68.6 22.9l-0.3 0.2M22.9 114.5l-0.4 -0.1M25.1 143.6l-0.5 0.4M37.7 25.8l0 0M127.8 5.1l-0.1 -0.5M71.8 15.4l-0.5 0.3M143.2 46.9l0.4 -0.2M137 151.4l0.5 0.6M69.5 137l-0.4 0.5M40.2 3.4l0 0.1M90.4 34.8l0.6 -0.6M104.1 28.4l0.1 -0.2M93.8 48.5l-0.6 0.4M116.6 91.9l0.5 -0.1M57.8 96.2l-0.6 0.8M76.5 95.4l0.7 0.6M99.5 89.1l0 0.1M19.5 68.1l-0.1 -0.4M71.4 26.4l0.7 -0.6M85.2 155.4l0.6 0.4M3.1 70.1l0.2 0.7M127.1 38.4l0.3 0.5M118.8 31.4l0.2 -0.3M93.1 22.3l0.1 -0.3M127 36.8l-0.4 -0.8M9.3 24.4l-0.5 -0.6M33.1 7.6l-0.3 0.4M145 46.9l0 0.5M93.3 46.7l0.1 0.7M42 49.4l-0.7 -0.2M115.2 114l0.5 -0M19.3 97.9l-0.3 -0.5M90.5 107.8l-0 0.1M14.4 36.7l-0.1 -0.8M136.9 50.8l0 -0.7M14.9 148.8l0.6 -0.7M150.2 57.8l-0.3 -0.6M148.6 45.1l-0.3 0.1M150.9 35.1l0.4 -0M45.1 143.8l-0.5 0.1M49.6 0.2l-0 0.7M111.6 47l-0.7 -0.4M30.1 43.3l-0.3 0.6M93.9 51.7l0.5 -0.7M144.2 60.6l-0.1 0.3M91.6 4.2l-0.2 -0.3M101.7 88.8l-0.3 -0.5M153.2 159.7l-0.1 0.3M27.6 37.2l-0.2 0.5M89.5 162.9l0.3 0.2M0.6 63.8l0.1 0.1M137.9 53.8l0.7 0.3M111.8 111l0.8 -0.3M46.4 48.9l0.8 0.4M57.7 30.5l-0.1 0.1M14.7 46.8l-0.7 0.2M68.3 94.2l0.7 0.7M5.5 162.1l0.7 -0.7M41.3 153l0.7 -0.8M128.6 160.2l0.6 -0.7M13.9 35.4l0.2 0.3M16.3 44.1l-0.4 0.8M9.2 35.7l0.6 0.1M0.4 47.3l-0.6 0.4M71.4 55.6l0.3 -0.5M164.2 50.2l-0.4 -0.6M50 29.4l-0.1 0.5M79 94.3l-0.5 -0.1M108.3 116.7l0.1 0.8M40.9 6.3l-0 0.2M99.5 7.3l0.6 0M73.3 42.7l-0.2 -0.7M106.2 125.7l0.7 0.8M14 45.6l0.4 -0.6M64.1 3.9l-0.3 -0.3M146.3 116l-0.2 0.8M43.4 5.2l0.3 0.7M143.6 109.3l0.6 -0.4M51.1 95.6l-0.7 0.6M35.7 11.1l0.3 0.4M109.7 49.1l0.3 0.3" fill="none" stroke="#1212a6" stroke-width="1.8" stroke-linecap="round"/><path d="M143.4 23.7l-1.1 0.3M155.9 62.9l0.2 -0.4M52.9 57.7l-0 0.5M46.7 59.1l-0.6 1M27 42.1l-0.3 0.7M21 39.8l0.5 -0.1M58.7 108.4l-0.3 -0.9M153.3 128.1l-1 0.7M1.8 40l0.7 -0.2M132.8 158.9l0.3 0.6M121.2 16.2l-0.6 -0.1M14.7 120.3l0.3 1M61.9 44.9l1 -1M105.3 49.1l0.4 -0.2M93.2 46.9l0.9 -0.2M64.8 8.7l-0.1 0.2M147.7 45.6l-0.4 -1M149 102.7l-0.1 1.1M106.8 25.1l0.9 -1M131.9 98.2l0.4 0.3M63.2 34.7l-0.9 0.2M113.5 51.3l-0.9 -0.1M37 25.1l0 -0.4M105.3 17.4l-0.3 0.8M28.5 98.9l0.4 0.2M109.5 128.7l-0.4 -0.7M62.9 13l0.7 0.6M102.2 132.7l-0.3 -0M160.5 150.3l0.8 0.1M88.6 110.6l-0.2 -0.4M71.8 92.5l-0.5 0.7M77.4 48.4l0.8 0.3M161.4 35.2l-0.4 -0.3M93.5 114.3l-0.9 0.6M65.6 56.4l0.6 -0.6M130.2 141.9l0.1 0.2M149.6 148.5l-1 0.9M18 133.2l0.5 -0.6M113 28.9l-0.4 -1.1M8.8 14.4l-0.7 -0M128.9 37.1l0.1 0.9M37.3 49.8l-0 -0.9M31.1 143.7l0.8 -0.2M138 54.2l-0.9 0.6M105.5 5.1l0.1 -0.9M56.4 149.3l0.6 -0M131.3 14.4l0.1 -0.7M72.5 11.8l-0.7 -1.1M129.5 36.7l0.7 0.8M126.7 86.9l-1.1 -0.7M50.4 155.1l-0.4 -0.7M4.5 10.7l0.3 0.1M104.2 23.1l0.9 0.9M140.3 30.6l0.4 0.7M14.1 13l-0.2 0.6M95.2 107.9l-0.6 -0.2M84.7 54.7l0.5 -0.2M17.9 102.6l0.6 1M151.7 34.4l-0.3 -0M57.8 47.4l-0.8 -0.3M160 9.1l-0.2 -0.2M53.1 98.3l-0.9 -0.1M73.6 0.8l1 -0.3M149.2 13.5l0.2 -1.1M110.1 6l-0.2 0.2M96.4 99.3l0.1 0.1M120.8 111.9l0.8 0.2M67.3 83.7l-0.1 1M125.9 16.8l-0.2 0.6M43.9 26.8l-0.3 0.8M92.8 143.5l-0.9 0.5M62.2 36l0.7 0.6M64.8 151.4l-0.5 0.2M24.4 118.7l-0.1 -0.5M132.5 12.1l-0.9 -0.1M141.7 4l-0.5 0.8M150.3 134.7l0.4 -0.8M131.7 95.3l0.5 0.4M139.9 118l0.3 -0.9M70.2 112.3l-0 -0.5M15.6 41.4l0.4 -1.1M161.9 163.2l0.5 -0.6M105.5 22.7l0.3 0M158.8 60.4l-0.4 0.1M113.3 12.2l-0.3 0.7M45 160.9l0.6 -0.3M148.7 22l-0.1 0.5M98.6 145.1l0.1 -1.1M76.1 133.6l-0.8 -0.7M80.5 2.6l1.1 -0.9M68.2 39.1l-0 -0.4M158.8 110.8l0 -0.6M69.5 163.7l-0.9 0M56.3 24.5l-0.2 1M45.2 101.8l-0.2 0.1M82.4 17.7l1 0.7M83.1 13.8l-0.8 -0.8M138.2 97l0.7 -1M103.8 13.6l-0.8 -0.9M45.8 19.8l-0.4 -0.8M73.9 95.8l-0.4 1.1M134.6 112.7l-0.6 0.7M115.7 23.1l0.5 -0.7M120.6 53.5l-0.6 0.7M132.7 23.3l0.4 -0M127.3 54.5l-0.6 -0M108.1 18.2l0.9 0.8M104.2 101.5l0 -0.7M122.7 104.3l-0.4 0.5M63.5 34.6l0.2 0.5M138.3 124.2l-0.6 -1M33.1 34.2l-0.3 0.3M41.2 146.1l1.1 0.9M144.5 3.8l-0.6 -0.1M62.2 6.3l-0.3 -0.5M72.8 139.4l0.6 -1.1M151.3 49.3l0.9 -0.9M155.5 6.9l-1 0.5M39.4 138.4l-0.4 -1M125.9 32.3l-0.7 0.7M159.9 20.6l0 -0.6M45.2 124.3l0.1 0.4M111.3 42.3l0.4 0.8M54.1 110l0.6 1M122.3 9.9l-1 -0.8M62.6 33l-0.9 -0.3M106.7 9.8l0.6 -0.4M8 28.3l1.1 -1M44 162.1l-0.3 0.9M99.4 23l-0.9 0.8M14.1 42.1l-0.6 -1.1M52.1 46.1l0.1 -0.8M50.6 4.9l-1 0.5M133.1 125.6l-0.4 0.4M156.9 105.4l0.7 -0.6M161.3 114.8l0.2 -0.6M4.6 35.1l0.5 -0.5M2.3 31.9l0 -0.6M95.8 22.7l-0.5 0.2M159.8 31.5l0.9 0.2M130.5 54.7l-0.8 -1.1M55.3 103l0.2 0.1M118.9 46.6l-0.4 0.5M118.9 136.2l-0.9 1.1M28.5 34.9l-0.6 -0.4M38.4 81.6l0.4 0.7M57.9 98.8l0.9 -0.4M130.7 34.9l-0.8 -0.8M112.4 36.4l-0.7 -0.2M65.8 8l0.3 0.5M26.5 38.8l-0.7 -1.1M18.3 64.4l-0.8 0.7M92.5 136.2l-0.5 0.7M147 137.1l0.2 1M97 32.5l0.8 -1M36.2 33.6l0.9 -0.5M142 12.1l0.4 -0.3M141 61.6l-1.1 0.1M115.2 87.2l-0 0.5M24.7 18.9l-0.6 1.1M148.9 6.3l-0.4 0.3M86.3 43.8l0.8 -0.9M82.5 43.4l0.7 0.7M68.9 133.3l0.2 0.6M163.9 49.3l1 0.7M58.1 21.6l-0.9 0.1M40.1 15.7l-0.8 0.2M85.7 37l-0.2 0.3M42.3 127l0.2 0.5M102.8 49.8l0 -0.9M100.3 28.7l-1 -0.7M103.8 28l-0.4 -0.1M139.1 3l0.4 -0.5M142.5 152.9l-0.6 -0.8M40.9 20.1l-0.5 -1M80.7 9.4l-1.1 0.1M40.3 126.5l0.1 -0.5M44.5 22.5l1 -1M37.1 21.6l0.3 -0.3M27.1 20.2l1.1 -0.5M84.4 32.3l-0.3 0.7M62 161.3l-1.1 0.6M132.2 20.4l0.2 0.3M44.7 38.5l0.9 1M65.2 105.8l-0.9 0.1M141.6 25.5l-0.7 -0.1M71.8 130.3l0.8 0.9M57.4 49l-0.4 -0.6M68 155.7l-1 0.9M27.3 28.3l0.6 -0.8M5.8 56.2l-0.5 0.4M81.2 3.5l0.4 0.2M94.7 138.5l-0.2 -0.7M76.9 21l-0.1 -0.8M12.5 136.6l-0 1M72.5 11.7l-0.6 0.7M24.4 2.6l0.9 -0.1M62.6 74.1l-0.7 0.6M48.9 26.8l-0.4 -0.4M152.9 40.8l0.8 0.5M87.8 34.2l-0.9 0.2M117 152.6l0.3 -0.3M39.1 23.5l-0.7 0.8M109 39.4l0.1 -0.9M68.8 27.8l0.7 0.9M14.9 0.8l0.4 -1M101 50.3l-0.5 0.1M70.2 52.8l-0.6 -0.5M25.7 23.5l-0.3 -0.8M54.4 16.9l0.5 -1M73.6 34.9l-0.2 -0.4M13.7 29.6l-0.4 0.7M40.8 37.2l1 -0.3M36.8 7.9l-0.7 0M157.4 39l0.4 -0.9M45 29.5l-0.1 -0.6M163.7 154.5l0 0.9M147.5 59.6l-0.2 -0.9M143.4 32.3l0.5 -0M140 39.5l-0.6 -0.6M1 17.8l0.6 -0.1M97.2 127.4l-1.1 0.9M70.7 44.5l0.2 -0.8M38.2 133.6l0.7 -0.9M117.3 90.3l-0.7 -0.3M150.8 25.3l-0.6 -0.7M16.3 31.1l0.6 -0.5M23.9 61.9l0.2 -0.1M28.3 45.4l-1.1 0.9M103.6 98.9l-0.8 -1M49.2 125.2l-1 -0.9M7.9 5.6l-0.8 -0.2M111 47.3l-0.3 -0.8M41.1 110.6l-0.8 -0.4M19.3 56.1l-0.9 0.4M48.4 50.8l0.3 -0.4M161.4 124.5l-0.8 -0.7M135.3 10.8l0.4 -0.3M10.4 55l-0.1 -0.8M159.7 153.2l0.8 -0.6M72.7 137.1l-0.6 0.1M10.7 33.8l0 -0.2M29.4 13l0.6 0.1M130 11.4l-0.3 -0.9M108.3 28.1l0.3 -0.9M24.7 15.1l-0.5 -1.1M89.2 139.3l0.1 0.2M58.3 11.8l0.7 0.7M27.2 54.4l-0.7 1.1M14.7 137.9l0.8 1M27.5 32.4l-0.4 0.2M4.2 70.3l-0.8 -0.6M141.2 158.9l0.3 -0M145.1 24.1l-1.1 -0.6M19.4 21.7l-0.6 -0.7M0.8 42l0.1 -0.8M67.6 31.1l-0.1 0.2M146.5 47.4l0.8 0.9M36.5 156.6l-0.1 -1M79.2 2l-0.9 0.5M75.6 2.4l0.2 0.4M8.9 53.3l0.2 -1M17.1 98.6l0.1 -0.6M87.4 116.7l-0.3 0.6M80 152.1l-0.9 1M149.3 58.8l0.4 -1M131 27.5l-0.1 0.9M2.5 6l-0.9 -0.5M96.1 51l0 0.3M3.2 27.4l-0.5 -0.1M159.9 139.3l-1 -0.9M147.7 51.9l0.3 0M51.9 112.4l0.9 -0.2M104.8 49.4l0.9 1M2.8 75.6l0.8 -0.5M164.4 16.4l0.4 1.1M89.3 20.6l-0.1 0.6M94.4 101.6l-0.3 -0.4M25.3 53.6l-0.9 0M125 23.3l-0.2 0.2M86 113l-0.3 -0.3M34 20.6l0.3 0.3M62.4 131l-0.8 -0.5M56 122.5l0.5 -0.4M52 46.6l0.6 -0.9M153.9 30.2l0.7 -0.7M67.4 121.8l-0.1 -0.9M43.7 34.9l0.4 -1M83.7 148.5l-0.9 0.9M30.6 63l-0.5 1M31.9 52.7l-0.2 1M10.3 8.1l0.7 -0.8M99.5 91.6l0.4 1M56.6 118l0.4 -1M87 37.6l0.2 -0.5M78.8 0.5l1 0.5M126.5 25.1l0.6 0.7M104.8 21.3l-0.7 0.9M152.5 103.7l-0.6 -0.3M92.5 126l0.4 0.2M51.1 17.7l0.5 0.5M36.6 159.4l-0.9 -0.7M147.2 54.8l0.5 0.6M94.9 53l-0.6 -0.8M101.5 16.6l0.1 0.1M134.8 111.6l0.7 0.8M136.4 4.9l0.5 0.1M138.3 162.8l-0.5 -0.6M148 3.4l0.8 -0.5M26.2 12.5l-0.5 0.4M86.3 30.8l0 -0.9M13.1 49.6l-1 -0.8" fill="none" stroke="#1c1cdc" stroke-width="2.2" stroke-linecap="round"/><path d="M145 34.8l-0.3 0.5M151 158.6l1.2 -0.4M112.1 11.5l-0.6 -1M113.8 6.1l-0.7 1M17.4 57.2l0.3 1.1M129.7 53.6l1.2 -1.2M58.9 1.9l0.7 1.1M30.6 15l0.6 0.1M136.6 34.5l0.5 -1.1M62.6 140.5l-0.3 -0.1M161.6 107.6l-0.3 -0.3M78.6 73.4l-0.8 1M53.3 79.4l0.1 -0M72.3 19.1l0.8 -0.2M145.3 150.5l0.8 -0.5M93.7 10.9l0.7 0.9M100.5 31.2l-0.4 1.1M104.7 109l0.8 0.7M1.7 59.7l-0.1 0.5M163.7 19.8l1 -1.2M97.8 37.2l1 -0.9M60 37.1l-0.9 1M59.1 17.9l-0.5 0.2M146.3 15.6l-0.5 -0M71.6 1.4l0.3 0.7M39.2 144.9l-0.9 0M145.2 54.8l1 -0.4M59.2 43.2l-0.9 0.4M17 49.2l-0.3 -0.2M135.3 1.1l0.7 -1M83.5 26l0.5 0.8M34.1 122.2l-0.6 1.1M144.4 51.3l-1.2 0.1M24.7 33.6l0.3 0.3M51.6 159.6l-0.6 -1M64.7 123.8l1.1 0.1M14.4 143l-1.2 1.2M28.7 30.2l-0.4 -0.4M160.7 65.6l0.7 0.5M75.9 33.5l-1.1 0.4M55.8 41.2l-0.1 0.1M14.9 63.5l0.9 0.7M107.2 31.6l-0.6 -0.7M138.6 160.3l-0.8 -0.2M134.4 32.9l0.9 1.2M98.1 15.7l0 -0.4M138.8 47l0.3 0.2M84.3 123.2l-0 -0.4M115.8 20.3l0.4 -0.8M27.1 13.3l-0.8 0.7M50.2 12.2l0.7 -0.3M150.4 128.1l-0.2 0.3M93.9 162.2l-0.6 0.9M126.5 90.4l-0.1 0.7M55.2 19.6l-0.8 -0.8M82 82.1l0.5 -0.6M10.6 108l0.7 -0.5M159.8 33.2l1.1 -0.7M104.3 33.8l0.3 -0.2M69.6 29.4l0.6 0.4M17.1 62.1l0.9 1M115.2 2.4l0.8 1M10.7 137.3l-0 0.3M143.8 25l-0.2 -0.5M70.7 27.5l-0.6 -0.8M154.2 3.2l-0.3 0.7M41 139.9l0.9 0.7M113.2 48.3l-0.4 0.6M27.6 139.8l-0.1 -0.1M151 24.2l0.6 -0.6M98.1 152.1l0.9 1.1M77.5 35.7l0.5 -0.8M123.1 118.7l-0 -0.1M136.5 117.5l0.6 1M11.4 16.7l0.9 -0.3M60.6 154.2l-0.1 -1.1M53.2 95.4l0.1 0.5M90.2 87.3l-0.9 -0.3M15.1 38.4l-0.5 1.2M70.1 37.3l-0.8 -0.4M163.5 6.4l-0.9 0.4M32.5 124.4l-1 1M109.3 107.8l-0.1 -0.8M101 54.1l-0.1 0.2M106.1 103.9l1.1 0.3M116.9 12.3l-0.1 0.3M151.6 101.9l-0.2 0.2M87.9 21.2l-0.6 -1.1M80.3 8.6l-1.1 1.1M45.2 23.1l0.9 0.3M82.6 26.6l0.4 -0.9M95.8 41.8l0.3 0.1M40.4 48.7l-0.3 0M2.9 18.3l1.1 0.3M130.9 129.1l-1.1 0.4M26.7 162.2l-1.2 0.9M121.1 16l0.4 0.8M117.6 6.9l0.5 0.5M91.3 93.7l0.3 0.2M82.6 31.1l-0.5 -1M118.2 123.9l-0.3 -0.4M30.5 100.2l0.1 0.6M12.2 108.2l1.1 -0.4M11.3 123.2l0.9 0.1M9.6 2.7l0.9 -0.5M120.2 149.2l0.7 -0M24.7 7.8l0.6 -0.5M53 31.6l-0.8 0.4M17.2 104l0.7 -0.8M107.5 21.3l-1 -0.3M162.6 43.8l-0.4 0.4M150.9 128.1l-0.7 -1.1M63 98l0.6 0.1M23 25.1l1 0.2M149.8 23l0 -0.6M34 37.6l0.9 -0.2M43.9 119.3l1.1 0.8M17.6 1.6l-0.7 0.3M30.9 34.6l-0.7 -1M76.8 122.3l-0.7 0.4M80.7 8.9l-0.7 0.4M31 63.1l-0.6 1.1M153.6 49.4l-0.1 -0.1M11.7 60.7l0.7 0.2M73.9 22.9l0.3 0.5M131.1 9.5l-0 0M6.4 67.7l-0.6 0.9M135.1 139.9l-0.1 1M109.9 49.1l0.1 0.8M132 59.6l-0.8 1.1M79.9 142.6l-0.5 1.1M66.5 5.6l0.4 0.7M159.5 63.6l-0.1 1M110 17.8l-0.7 0.4M105.9 31.4l1.1 -0.1M111.8 163.3l-1.2 -0.8M109.3 82.8l0.6 0.8M26.5 50.2l-0.3 -0.9M21.8 61.4l0.2 -0.2M90.8 98.2l0.8 0.5M107.3 0.2l-0.5 1M134.3 33.3l0.6 0.5M147.7 115.9l-0.9 0.4M101.1 49.4l0.6 0.1M79.8 7.5l0.4 0.7M138.6 159.6l-0.7 1.1M27.3 58.1l0.6 1.1M23.3 132.6l-0.9 0.3M88.7 44.7l-0.9 1.1M2.8 31.8l0.8 -0.1M137.4 110.3l-0.9 -0.2M148 28.4l0.4 -1.2M120 98.8l-1.1 0.7M7.8 30.3l-0.8 0.3M147.8 49.4l0.2 0.9M104.4 32.6l-0.8 0.2" fill="none" stroke="#2a2aff" stroke-width="2.7" stroke-linecap="round"/><path d="M152.7 75.2l0.9 0.4M129.1 60.5l0.7 -0.5M138.1 64.9l-0 -0.5M0.1 89.1l-0.8 -0M115 53.6l0.4 0.1M130.3 71.6l-0.2 0.6M74.3 61.5l-0.4 0.3M101.9 57.8l-0.7 0.4M-0.6 85.5l0.8 -0.8M116.4 67.9l1 -0.6M152.3 69l-0.2 -0.6M105.1 58.2l-0.6 1M22.6 76l0.2 -0.9M125 71.9l-0 0.1M68.6 62l-0.3 0.4M51 64l-0.1 0.2M26.4 70.1l-0.6 -0.7M16.5 81.2l0.5 0.5M154.6 81.1l-0.3 0.2M56.4 66.5l-0.1 1M155.9 74.9l-0.5 0.3M114.3 65.3l-0.6 1M61.7 67.3l0.5 0.2M72.3 57.6l-0.6 0.5M109.3 61.9l-0.4 0.2M30.8 70.1l0.1 0.1M108 62.1l0.1 -0.8M25.3 74.6l-0.7 -0M70.5 67.3l0.6 -0.3M64.6 66.8l-0.9 -0.7M47.8 68.2l0.7 0.1M9.3 74.6l-0.2 0.3M98.5 68.3l-0.6 -0.7M163.9 77.9l-0.2 -0.3M37.2 72.1l-0.5 -0.6M37.5 74.8l-0.9 -0.3M24.9 75.2l-0.5 -0.8M134.7 73.5l-0.7 -0.5M128.1 73.8l0.4 0.9M105.5 64.8l0.8 -0.2M42.8 77.7l0 0.4M20.7 77.2l0.9 -0.6M40.8 67.9l-0.4 -0.7M157.2 82.4l1 0.9M152.2 78.2l-0.1 -0.6M77.5 56.4l-0.7 -0.8M7.4 82.1l-0.6 -0.7M17.5 80.3l-0.3 -0.4M20.7 76.3l0.2 0.2M47.7 69.4l0.9 0.8M142.1 70.9l0.3 -0.7M141.3 75.3l-0.7 -0.2M0.6 83.7l-0.8 0.3M3.1 78.5l-0.4 0.2M148 72.7l0.7 -0.9M159.9 74.8l-0.7 1M95.2 60.7l-0.4 -0.6M3.2 81.4l0.2 -1M116.8 64.3l-0.4 -1M3.7 80.8l-0.4 -0.1M94.8 61.2l-0.8 -0.8M144.2 74.6l-0.3 -0.6M93.2 67.1l0.1 0.6M119.3 69.6l0.9 0.5M93.6 66.9l-0.8 0.2M107.4 61.9l0 0M7.4 80.8l0.9 0.4M70.4 66.4l0.9 0.2M84.1 67.1l0.9 0.9M7.2 86.1l1 -0.5M40.5 69.6l0.5 -0.5M53.4 66.4l-0.2 -0.3M134.3 68.2l-0.4 -0.1M26.1 70.9l-0.1 0.5M124.3 67.5l0.3 -0.2M68.5 62.1l-0.5 -0.4M90.2 61.4l-0.5 -0M136.5 66.6l0.2 -0.6M100.6 65.8l0.5 0.2M113.1 54.8l0.9 -0.6M110.9 62.8l0.3 -0.8M60.9 68.1l-0.8 0.7M134.5 66l-0.4 0.1M150 70.9l0.4 -0.3M85 68.2l-0.2 0.2M121.8 65.1l0.8 -0.5M56.1 70.8l-0.1 0.3M111.4 63.6l-0.7 -0.8M66 61.3l-0.4 0M60 64.9l0.5 -0.2M67.6 63.3l-0.5 -0.2M31.3 70.8l0.1 0.3M106.4 54.9l0.9 -0.1M1.3 85.6l-1 1M72.5 66.4l-0.7 0.3M57.4 59.9l-0.1 -0.5M84.9 62l0.5 -0.9M11.7 80.5l1 -0.4M36.4 73.5l-0.7 -0.2M46.1 66.8l-0.4 -0.2M91.9 60.5l0.5 0.3M50.1 62.1l1 0.9M55.5 73.5l-0.8 -0.1M61.5 65.5l1 -0.4M47.1 69.6l-0.7 0.9M23.2 80.5l0.4 0.2M52.9 69.1l0.8 -0.3M86.8 63.9l0.6 0.7M53.2 73.3l-0.4 -0.7M8 86.8l-0.8 -0.9M67.5 63l-0.1 1M47.8 69.5l-0.7 -0.8M72.3 61.9l-0.3 0.3M61.9 61.9l0.2 -0.8M149.6 69.7l0.6 0.7M33.7 69.2l0.1 0.5M130.3 70.4l-0.8 0.2M141.3 69.2l-0.5 -0.1M61 64.1l0.7 -0.2M38.9 71l0.5 -0.8M38.5 73.2l-0.6 0.8M158.1 83.2l-0 0.1M51.7 68.4l0.8 -0.4M95.8 59.4l0.1 -0.8M30.8 77.5l-0.4 0.6M97.4 60.1l-0.1 0.9M131.7 63.4l0.2 0.2M117.8 64.4l0.9 0.9M77.9 59.7l0.5 0.7M23.7 74.2l0.8 -0.2M35.6 77.2l-0.5 -0.6M1.1 83.3l-0.8 -0.6M29.6 69.5l-0.5 0.7M164.6 76l0.8 0.8M150.1 79.4l0.1 0.5M163.5 81.2l-0.5 0.1M123.6 70l0.7 0M103.9 61.9l0.3 0.7M113.3 66.1l1 -0.1M136.1 63l1 0.1M54.8 68l0.6 -0.9M159.9 71.4l0.8 -0.8M52.6 61.2l0.8 0.9M126 61.2l-1 -0.8M115.4 66.1l0.6 -0M51.6 69.2l0.8 -0.8M107.8 69.1l-0.6 -0.5M18.2 79l-0.9 0.8M30.6 72.5l0.5 -0.4M118.9 70.4l0.3 0.4" fill="none" stroke="#1e1eea" stroke-width="2.6" stroke-linecap="round"/><path d="M157.4 75.9l0.1 -0.5M142.4 72.4l-0.9 0.4M97.3 68.3l0.6 -0.8M19.9 74.1l0.7 -0.6M59 66.3l-0.2 -0.3M46.1 73l0.3 0.8M143.1 73l-0.1 -0.8M166.4 77.5l0.1 0.2M160.1 70.5l0.5 -0.3M157.3 81.1l0.8 0.9M121.7 62.1l1 0.5M127.1 71.3l0.8 -0.5M55.2 64.7l0.9 0.5M24.3 75.8l0.9 0.5M132 65.8l-0.9 0.2M70.3 69.1l0.7 -0.2M117.7 64.7l-0.8 0.2M110.4 65.3l-0.5 0.1M41.3 71.4l-0.7 -0.1M81.5 66.9l0.6 0.5M148 70.7l1 0.5M72.2 59l0.1 0.6M99 65.1l0.3 0.2M99.7 65.3l0.7 0.3M156.2 73l-0.9 -0.4M160.9 75.4l0.8 0.9M132.1 68.7l0.1 0.8M3.6 87.1l0.9 -0.9M126.3 68.3l-1 0.3M118.9 72.7l-0.8 -0.1M128.7 64.5l0 -0.4M4.1 82l0.9 -0.6M98.1 67.6l0.8 1M128.3 67.6l-0.4 0.8M21.6 71.9l-0.6 -0.8M23.4 77.8l0.3 -1M32 71.1l0.4 -0.5M23.6 74.2l1 0.2M35.2 80l-0.5 0.8M16.8 75l0.5 -0.7M94.5 61.7l0.3 0.6M40.3 71l0.1 0.2M107.5 73.4l1 -0.1M46.1 69.9l0.6 0.2M56.6 68.2l-0.7 0.6M20 76.4l-0.3 -0.7M77.6 61.4l0.8 0.9M96.1 65.9l-0.1 -0.8M158 74.8l0.8 -0.6M60.8 65.7l0.7 0.5M141.6 69.2l0.2 0.6M40 71.1l-0.4 -0.7M36.2 69.6l-0.2 0.6M111 66.6l0.7 0.4M119.1 67.5l0.2 -0.6M136.5 69.8l0.7 0.5M145.4 72.1l-0.4 -0.4M114.7 62l-0.3 0.9M10.7 79.4l0.5 -0.7M139.4 67.4l-0.5 -0.5M140 63.7l-0.3 -0M157.1 76.9l0.9 0.1M148.4 68.9l-0.4 -0.1M58.1 61.2l0.4 0.2M113.1 67l-0.9 0M12.3 83.5l-0.3 -0.8M13.5 77.5l-0.2 -0M32.9 69l0.9 -0.8M157.8 74.5l0.4 0M80.6 67.5l0.8 -0.3M29.1 80.7l0 0.6M148.2 71.9l-0.7 -0.2M48.4 75.6l-0.1 -0.6M156.6 70.6l-0.1 0.3M28 75.2l0.8 -1M13.1 81.1l-0.9 0.7M116.1 69.1l-0 -0.7M57.8 67.2l-0.6 -0M120.7 71.9l-0.2 -0.9M159.3 78.3l0.9 -0.6M48 62.7l-0.7 0.5M49.4 71.6l-0.8 0.8M140.5 73.1l-0.6 0.5M77.2 62.7l-0.7 0.6M22.6 72.4l0.8 -0.5M161.7 75.9l0.2 -0.8M120.4 73l-0.8 0.4M136.9 69l-0.4 0.4M62.4 63.6l0.9 -0.4M56.6 64.4l0.2 0.2M153.1 76.5l-0.9 0.7M81.3 62.3l-0.2 0.4M66.2 59.8l0.2 -0.5M41.9 66.2l0.7 -0.4M146.2 65l0.9 0.2M119.6 67.6l-0.7 0.8M163.1 72.5l-0.9 -0.6M128 66.6l-0.7 -0.2M36.7 78.7l0.6 0.1M114.9 66.6l0.3 0.9M124.3 67.2l-0.6 -0.7M145.8 69l-0.3 0.7M105.8 68l0.2 1M143.7 69.3l0.2 -0.7M7.6 84.4l-0 0.2M110.4 68.1l0.7 1M63 72.1l1 0.3M10.1 84.6l0.8 0.4M147.7 72.7l-0.3 0.6M97.9 69l0.5 -0.3M37.8 69.8l1 -0.3M87.8 64.9l-0.8 0.8M44.8 65.9l0.8 0.9M18.3 76.9l0.2 0.3M115.3 63.9l0.6 -0.9M66.2 73.6l-0.6 -0.8M42.2 68.1l0.2 -0.3M60.4 56.6l0.4 -0.5M121.5 59.5l-0.4 -0.9M48.5 79.3l-0.7 -0.9" fill="none" stroke="#2929ff" stroke-width="2.2" stroke-linecap="round"/><path d="M4.2 88.2l0.4 0.4M103.2 63.1l0 -0.6M46.2 65.1l0.2 -0.6M59.2 67.6l0.6 -0M29.9 67.8l-0.3 -0.2M2.6 82.1l-0.6 0.3M146.4 71.5l0.3 -0M34.7 76.8l-0.6 -0M111.4 59.4l0.7 0.6M66.7 66.6l-0.5 0.6M83.6 72.2l-0.1 0M69.7 69.1l-0.4 0.5M53.7 68.7l-0.6 0.8M131.2 65.1l-0.4 -0.8M69.4 67.2l0.6 0.7M45.2 72.5l0.2 -0.7M31.9 82.5l0.4 -0.3M77.4 62.2l0.5 0.4M134 66.9l-0.6 -0.8M19.8 74.2l0.5 0.1M95.9 65.1l-0.2 -0.3M98.2 69.1l0.3 -0.1M35.1 73.8l0.1 0.3M78.8 52.2l0.3 0.7M161.3 76.5l-0 0.6M75.8 63.1l-0.6 -0.6M57.4 70.2l0.5 0.2M159.8 74.1l0.5 0.3M25.4 74.6l0.4 -0.4M6.7 82.6l-0.1 0.2M117.8 67.9l0.2 -0.1M71.1 63.7l0.5 -0.2M153.1 74l0.3 -0.7M116.1 65.1l0.6 0.3M115.3 70.6l0.1 -0.8M143.7 78.2l0.3 -0.5M155.7 77.3l0.6 0.1M116.1 60.2l-0.7 0.5M18.9 75.2l0.2 0.6M54.5 63.6l-0.1 0.3M50.7 73.9l0.7 -0.1M126.7 70.5l0.4 0.8M-0.4 84l-0.7 -0.5M89.8 62.2l-0.6 0.6M26.1 78.3l0.3 0.5M86.2 61.4l-0.3 0.3M42.2 70.3l-0.3 -0.6M49 67.6l0.8 0.4M36 71.7l-0.8 -0M143.1 67l0.7 -0M53.2 70l-0.5 0.1M12.5 83.1l0.7 0.5M23.7 70.5l0.1 -0.7M34 71.6l-0.7 -0.5M28.3 69.8l0.4 -0.3M79.1 62.1l-0.6 0.5M111 64.2l-0.6 -0.3M8.9 81.8l0.7 -0.1M131.9 67.3l0 0.1M53.6 64.6l0.7 0.3" fill="none" stroke="#0d0d9a" stroke-width="1.8" stroke-linecap="round" opacity="0.9"/></g>
<g transform="translate(1656.1 87.1)" clip-path="url(#mclip)"><rect x="0" y="0" width="164.4" height="164.4" fill="#01010f"/><path d="M-10 -10L174.4 -10L170 60L164.5 59.4L140 57.4L120 56.4L99.6 57.4L79 59.4L59 62.5L38 68.6L18 75.8L0 83L-4 85Z" fill="#07073e" filter="url(#b6)" opacity="0.85"/><path d="M-4 120.2L0 118.2L18 111L38 103.8L59 97.8L79 94.7L99.6 92.7L120 91.7L140 92.7L164.5 94.7L170 95.2L174.4 174.4L-10 174.4Z" fill="#040424" filter="url(#b6)" opacity="0.85"/><path d="M-4 97C-3.3 96.7 -3.7 96.5 0 95C3.7 93.5 11.7 90.2 18 87.8C24.3 85.4 31.2 82.8 38 80.6C44.8 78.4 52.2 76 59 74.5C65.8 73 72.2 72.2 79 71.4C85.8 70.6 92.8 69.9 99.6 69.4C106.4 68.9 113.3 68.4 120 68.4C126.7 68.4 132.6 68.9 140 69.4C147.4 69.9 159.5 71 164.5 71.4C169.5 71.8 169.1 71.9 170 72" fill="none" stroke="#1717cf" stroke-width="11.3" filter="url(#b1)" stroke-linecap="butt"/><path d="M50.6 151.7l0.6 0.5M117.4 14.1l-0.7 0.2M14.7 65.7l-0.4 -0.7M13.1 76.4l-0.5 -0.5M114.7 116.4l0.5 0.3M28.2 143l-0.1 0.1M33.8 31.3l0.1 -0.7M102.2 16.4l0.2 0.1M94.5 112.9l-0.7 -0.4M119.5 44.4l-0.1 -0.5M66 12.9l-0.3 -0.5M132.6 0l0.4 -0.7M5.4 59.8l-0.4 0.6M41.2 51l0.4 -0.8M130.5 58.3l-0.7 0.4M99.8 3.7l-0.7 0.3M156.9 5.1l-0.8 -0.5M51.6 24l0.4 0.7M37.5 32.2l0.7 -0.6M74.2 32.6l0.3 0.6M123.4 47.4l-0.3 -0.7M46.6 65l-0.2 -0.6M127.6 156.2l-0.3 -0.7M32.1 62.5l0.5 -0.6M75.8 62l-0.6 -0.2M105.2 163.2l-0.6 0.1M13.2 46.1l-0.4 0.4M134.8 30.6l0.3 0.1M14.5 57.6l-0.2 -0.5M64 143.4l-0.7 -0.1M29.7 40.2l0.6 -0.6M133.1 112.9l-0.7 -0.2M36.6 155.2l0.4 -0.1M164.2 52.7l0.1 0.8M134.8 94.1l0.4 0.6M36.4 56.5l0.2 -0.5M49.9 35.1l-0.3 0.4M127.3 2.7l0.5 -0.4M130.3 0.1l0.5 -0.6M146.2 14.4l0.2 -0.5M134.9 130.5l0.1 -0.6M65.5 52.4l-0.3 0.3M114.4 59.5l0.8 0.3M51.2 57.8l-0.4 0.5M48.6 22.1l0.5 0.7M15 65.7l0.5 -0.3M14 72l0.3 0.6M155 52.7l0.3 -0.7M10.1 30.9l-0.5 0.3M0.2 18.9l-0.5 -0.1M14.3 24l0.8 0.5M161.1 123.2l-0.8 0.5M46.4 25.4l-0.8 0.1M62.5 113l0.3 -0.8M18.5 0.4l-0.8 0.3M162.8 118.9l0.2 0.2M31 108.3l0.4 -0.7M75.8 24.9l-0.7 0.3M46.9 34.9l-0.4 -0M48.5 96.6l-0.5 0.3M15 32.9l-0.4 0.5M100.1 158.5l-0.1 -0.5M4.7 62.5l0.1 0.3M69.1 29.5l0.7 0.2M112.3 125.4l0.5 0.4M60.1 151.1l0.8 -0.2M41.2 155l0.8 0.1M52.7 9.8l-0.4 -0.2M136.4 8.3l0.2 0.7M47.4 4.7l-0.6 0.2M161 50l-0.8 0.8M105.7 18.8l-0.2 0.3M135.5 3l-0.1 0.4M49.1 156.9l0.3 0.1M23.8 110.1l0.4 -0.1M97.2 36.7l0.7 -0.5M13.5 39.1l-0.3 0.2M26.1 68.4l0.6 -0.6M23.3 45.2l-0.2 -0.1M149.6 144.7l0.2 0.2M148.2 54.5l-0.1 -0.8M59.5 3.9l-0.1 -0.1M81.7 49.3l-0.5 0.2M132.3 122.2l-0.7 -0.5M106.6 113.4l0.1 -0.2M17.6 25l-0.6 0.4M2.2 130.4l-0.6 0.2M45.8 41.3l0.4 -0M119.8 125.8l0.4 -0.2M57.7 19l-0.5 -0.1M27 151.9l0.7 0.6M25 114.7l0.7 -0.7M81.6 57.1l0.1 -0M134.9 45.9l-0.2 0.7M98.4 42.4l-0.5 0.7M147.7 41.6l-0.2 0.1M126.2 15l0.5 0M114 4.5l0.5 0.3M6.8 39.8l0 0.7M82.2 15.8l-0.6 -0.6M23 55.1l0.3 0.8M18.6 132l-0.3 -0.6M33 146.8l0.6 0.7M155.5 50.5l0.7 0.5M142.1 129.2l-0.8 0M163.9 43.1l0.7 -0.7M128.1 42.5l0.5 -0.4M139.7 27.3l-0.7 -0.3M47.7 44.9l-0.3 0.1M128 104.9l0 0.1M112.2 133.4l0.8 0.3M141.5 35.1l0.7 -0.2M116.6 2.6l-0.1 0.1M137.6 18.7l0.5 -0.1M46.4 13.8l0.5 0.7M21.2 75.4l-0.3 0.8M73.1 22.5l-0 0.3M34.4 72.9l-0.7 0.3M110.8 21.3l0.2 0.2M61.1 13.6l0.7 -0.1M102.3 59.4l0.7 -0.4M134.3 10.3l-0.3 0.7M87.5 62.9l-0.8 -0.1M96.7 19.6l-0.1 0.3M68.7 163.9l0.3 0.6M0.2 153.6l0.3 0.5M105.2 12l-0.2 0.6M71.1 22.4l0.3 0.2M40.7 148.1l-0.2 0.2M55.4 18.1l-0.2 -0.2M45.7 113.4l-0.4 -0.5M22.9 1.9l0.7 0.2M11.6 11.7l0.7 0.6M37 52.9l-0.6 -0M48.6 36.8l0.4 0.7M46 4.5l0.2 0.1M51.4 34.5l0.7 0.3M142.2 125l-0.1 -0.2M162.4 2.7l-0.4 0.4M122.8 13.6l0.4 0.4M19.4 69.8l-0.3 -0.3M49.6 8.6l0.3 -0.6M15.1 40.1l0.5 -0.1M40.3 30.6l-0.5 0.4M150.9 52.9l-0.1 -0.2M14.2 37.3l-0.8 0.1M17.1 141.7l0.6 -0.6M126.6 20.9l-0.4 -0.1M85.8 38.7l0.2 -0.6M70.7 43l-0.5 0.6M2.5 3.9l0.3 -0.7M127.6 3.3l-0.7 -0.7M85 139.6l-0.7 -0.3M159.7 48.5l-0.5 -0.4M46 60.4l0.3 -0.3M122.6 162.5l0.5 -0.7M112.8 140.7l-0.5 -0.6M67.7 32.8l0.8 -0.8M77.5 136.5l0.5 -0.5M98.9 122.7l-0.4 0.5M44 13.9l0.7 0.7M67.4 32.9l0.4 0.2M52.5 20.5l-0.6 -0.7M25.4 35.6l-0.7 -0.3M162.5 116.6l-0.5 -0M138.8 154.3l-0.2 0M144.1 159.8l0.5 0.4M32.8 94.3l-0.8 -0.4M16.6 12.2l-0.6 0.2M72.6 32.2l0.1 -0.4M40.5 59l0.4 -0.1M98.8 18.8l0 -0.6M30.8 19l-0 0.6M133.3 31.3l0.7 0M44.3 30.8l0.3 0.7M28.7 29.1l-0.7 0.4M80.7 103l0.2 0.2M43.7 11.9l-0 -0.4M25.4 0.7l-0.7 0.3M120.2 154l-0 -0.3M5.6 45.1l0.7 -0.8M72 94.1l0.5 0.1M36.5 3.6l0.1 0.5M19.3 38.4l0.6 -0.5M138.5 37.4l-0.2 -0.6M95.1 6.8l-0.5 0.2M131.8 39.2l-0.6 -0.2M119.1 92.2l-0.1 0.5M71.3 24l0 0.5M51.1 24.2l-0.6 0.3M33 135.2l0.2 -0.4M92.5 54.3l-0 0.6M113.3 9.9l-0.3 -0.1M37.7 30.8l0.5 -0M64.2 9.3l-0.4 -0.2M101.6 0.5l0.4 -0.2M98.6 40.1l0.5 0.2M164.4 53.3l0.5 -0.6M72.5 162.5l0.4 -0.2M137.3 18.2l-0.1 0.2M78 45.8l-0.2 0.6M23.2 7.1l-0.2 0.3M22.1 4.7l0.5 -0.7M115.6 106.2l-0.3 -0.1M132.3 7.4l0.3 0.2M153.4 8.7l0.4 0.6M78.9 57.7l-0.4 -0.3M93.5 52.7l-0.5 0.2M85.4 38.8l-0.6 -0.1M89.4 113.4l0.4 0M85.4 124.9l-0.6 -0.5M71.5 21.1l0.7 -0M0.3 72.3l0.8 -0.6M132.7 158.8l0.2 -0.5M84.5 62.5l0.7 0.3M86.7 16.6l0.7 -0.6M139.4 61.9l0.6 0.5M17.3 155.6l-0.7 0.6M43 98.8l-0.7 0.3M34.4 160.3l0 -0M13.8 64.6l0.2 0.3M59.1 38l-0.4 0.8M53.2 115.8l-0.5 0.2M79.1 126.6l0.2 0.1M100 149.2l0 -0.2M54.3 39.6l-0.5 0M135.5 122.1l-0.3 0M134.3 162.3l0.4 -0.6M38.1 0.2l0.2 0.8M144.6 52.9l0.8 -0.6M15.1 30.3l-0.6 0.5M89.9 156.8l-0.2 -0.3M10.9 24.6l-0.7 -0.1M6 154l-0.3 -0.4M80.2 118.2l0.5 0.1M130.8 53.5l0.7 -0.4M85.9 139.4l0.4 -0.4M116.7 151.6l0.1 -0.6M75.9 41l0.2 -0.8M51.5 35.1l0.2 0.2M50.9 54.6l0.3 -0.5M161.4 12.3l-0.6 -0.2M78.8 56.9l-0.2 0.3M155.5 55.1l-0.8 0.1M87.4 17.4l0.6 0.5M106.9 0.3l-0.1 -0.4M45.9 121.9l-0.1 0.6M8 26.1l-0.5 0.5M157.1 91.5l-0.4 0.3M109.4 58.3l0.3 0.3M28.7 65.3l-0.6 0.6M111.5 155.7l0.5 0.5M58.9 44.1l0 -0.2M91.4 160l0.1 -0.2M35.3 66.8l0.4 0.8M140.7 9.9l-0.7 -0.5M134 57.2l0.8 -0.2M42.8 153.2l-0.7 0.1M64.7 50l-0.7 -0.6M48.1 96.5l-0.7 -0.5M76.2 96.2l0.7 0.3M152.6 35.2l-0.1 -0.5M113.6 122.7l-0.7 -0.4M20.1 113.4l0.1 0.5M135.5 3.2l0.1 0.2M128.1 110.5l-0.2 -0.7M14.7 19.1l0.7 0M62.9 59.8l0.6 -0.5M130.1 161.1l0.5 0.3M118.4 114.3l0.7 -0.4M150.4 9l0.2 0.3M92.9 102.2l-0.6 -0M129.7 124.9l-0.4 -0.3M38.2 61.4l-0.1 0.6M5.6 23.4l0.1 0.7M45 68.6l0.5 -0.2M65.6 140.3l-0.8 0.7M116.5 19.9l-0.6 0.1M96.7 3.6l0.6 0.6M102.7 0.7l-0.8 0.7M2.9 10.2l0.7 0.4M125.8 53.5l-0.6 0.6M45 37.5l-0.2 0.6M44.9 150l0.2 0.4M13.6 63.6l0.4 -0.1M131.3 39.4l-0.5 -0.3M87.9 17.8l-0.2 0.4M152 28.8l0.4 -0.7M26.2 5.2l-0.5 0.5M138 147.3l0.1 0.7M56.7 56.1l0.5 0.6M45.2 22.1l0.2 0.4M107.1 0.6l0 0.4M160.5 33.4l-0.6 -0.1M143.7 108.1l-0.4 -0.7M116.7 44.5l0.6 0.7M103.1 127.6l-0.5 -0.5M103.6 130.2l-0.6 -0.7M57.4 9.1l0.8 -0.4M141.5 9.8l-0 0.2M55.9 56.2l-0.6 -0.5M20.4 55.7l0.5 -0.8M90.8 13.1l0.2 -0.5M63.9 152.2l-0.1 -0.5M61.6 102.3l-0.6 0.1M121.6 46.2l0.5 0.6M67.4 9.1l0.6 0.8M18.9 109.5l0.4 -0.7M53.6 35.9l0 0.3M89.8 52.5l-0.8 -0.2M98.4 28l-0.4 -0M35.1 70.6l0.7 -0.3" fill="none" stroke="#1212a6" stroke-width="1.8" stroke-linecap="round"/><path d="M24.8 9.3l-0.3 -0.7M150.8 53.9l-0.6 -0.1M70.9 144.8l0.3 0.4M47.3 19.2l-0.2 -1M121.4 37.7l-1 -0.9M84.1 93.3l-0.7 -0.5M93.1 92.1l1 0.3M60.3 26.8l-1.1 1M134.9 37.6l0.2 1.1M64.1 29.8l-0.6 -0.7M6.1 122.3l0.3 0.8M94 6l0.1 -0.9M70.5 7.5l0.2 -0.8M135.5 18.3l-0.5 0.5M122 27l-0.8 -0.2M62.8 60.6l-0.8 0.5M152.4 62l-0.4 0.9M130.5 114.4l-1 1.1M45.2 47.7l0.3 0.8M76.1 36.6l-0 0.6M133.1 31.3l0.1 -0.5M87.3 9l-0 -1M138.7 155.3l-0.4 0.2M105.9 144.3l0.8 -0.3M71 17.9l0.6 -0.4M51.8 34.9l0.2 0.4M66.7 97.6l-0.7 0.5M49.7 26.8l-0.7 0.7M105.6 36l0.2 1M126.8 94.4l0.2 -0.3M155.1 26.2l1 -0.3M88.3 104.9l-1 -0.1M148.1 31.1l0.5 0.4M19.8 111.4l-0.4 -0.8M51.1 8.6l-0.8 0.5M20.7 108.4l-1 -0.3M133.1 53.2l0.3 -0.6M19.5 13.5l0.2 0.2M82.6 138.9l1 1.1M29.7 40.4l-0.1 -1M135 109.1l-0.3 0.9M17.7 59.2l0.8 0.4M74.9 38.1l0.2 -0.2M55.8 142.2l0.9 -0.2M14.7 21.6l-0.6 0.6M44.2 21.6l-0.1 -0.9M136.9 36.9l0.3 0.2M4.1 124.7l0.3 -1M147.9 1.2l0.5 -0.4M19.2 37.8l-0.5 0.8M86.2 51.9l-0.8 -0.9M17.1 55.5l0.7 0.4M8.4 72.4l-0.6 0.2M115.8 38.8l-0.8 -0.6M56.4 9.4l0.1 -1M21.9 31.8l-1 1.1M5.6 56.2l0.7 -0.9M164.3 50.5l-0.3 1M61.1 133.9l-1 -0.2M28.2 115.8l-0.1 0.3M144.4 8.1l0.8 -0M59.3 155.9l0 0.8M34.6 44l0.1 -0.9M116.8 59.6l-0.3 0.8M24.9 67.9l0 1.1M43.4 117.4l-0.7 -0.6M75.3 1.9l-1 -0.9M31.9 67.3l-0.9 0.8M50.4 54.9l-0 -0.4M109.1 106.6l0 1M45.6 125l0.2 -0.2M163 23.8l-0.1 0.4M125 149.8l-1 -0.7M89.8 38.1l0.9 -0.5M154.6 158.1l-0.8 0.2M116.1 16.9l-1 -1.1M79.4 127l0.6 -1M121.4 37.7l-0.5 -0.1M139.8 32.3l0.1 -0.4M90.5 4.2l1 -1.1M88.9 20.5l0 -0.7M63.6 147.4l0.6 -0.1M122.5 25.5l-0.8 0.7M122.8 136l-0.9 0.7M122.3 25.4l-0.7 -0.3M50.1 140.3l-0.6 -0.4M70.4 38l-0.9 -1M10.3 76l-1 0.9M0.5 50.5l-0.4 -1M69.3 46.9l-0.2 0.4M150.5 31.9l-0.5 0.1M59.3 27.5l-1.1 1M106.3 21.9l-1 0.4M139.1 134l-0.1 0.8M32.8 0.5l-0.9 -0.4M161.8 25l0.3 -0.9M120.4 17.5l-0.7 -0.7M129.1 17.8l0.4 1M133.5 127.6l-1 -0.7M6.7 79.7l0.3 -0.2M71.7 56.7l0.3 0.6M60.7 15.9l0.4 0.7M144 161.8l0.4 -0.1M22.9 52.8l-1.1 -0.3M143.6 117l0.2 -0.3M28.5 75.5l-1 0.5M67.3 94.2l0.8 0.6M48.7 68.4l0.9 -0.4M25.4 77.7l1 0.9M152.5 1.3l-1 0.6M158.5 116.9l-0.5 -0.3M17.1 7.3l1 -0.4M133.6 60.9l0.9 1M35.7 37.4l-0.4 -0.3M66.4 48.8l-0.5 0.8M6.6 51.9l-0.8 1.1M102.5 4.2l1 -0.5M109.5 130.3l0.3 -0.2M68 49.1l0.6 -0M125 26l0.1 1M33.8 22l0.4 -0M72 156.9l-0.5 -0.4M149.1 117.3l1 0.6M24.9 116.1l0.9 0.6M48.1 13.6l0.6 -0.4M56.3 156.1l0.7 -0.8M18.7 107l-0.6 -0.4M73.4 135.3l1 0.8M25.9 58.3l0.6 0.5M54.8 53.2l0.5 -0.8M9.3 81.6l-0.8 0.6M151.1 130l0.1 -0.6M67.4 8.4l-0.9 -0.4M38.8 4.4l0.4 0.3M32.7 58.3l0.8 0.7M1.4 60.2l1 0.3M112.8 59.8l0.1 0.5M25.5 159.4l-1 -0.7M23 61.1l-1.1 -0.6M1.9 156l0.5 -0.1M126 0.9l0.2 0.8M130.3 114.2l0.9 -0.3M43.9 12.5l1 -0.9M105.5 57.5l0.5 -0.5M82.2 43l-0.2 -0.1M27 71.6l0.1 -0.7M112.5 127.1l-0.1 -0.4M123.6 59.1l-0.9 0.3M10.1 128.1l-0.7 0.9M27.2 22.3l-0.7 0.1M115.8 54l-0 0.9M47.2 157.5l0.7 0.9M129.3 49.4l-0.4 -0.5M0.9 76.3l0.3 -0.6M89.1 125.5l0.5 -1.1M28.4 73.7l-0.4 -0.5M4.4 49.9l-0.2 0.5M96.6 36.8l-0.6 -0.3M123.1 54.6l0.3 0.6M100.4 56l0.5 -0.9M3 49.6l-0.7 0M15.1 77.6l0.5 1M143.6 135.1l-0.6 -0.5M34.8 12.2l-1.1 0.2M1.9 84l0.8 -0.4M94.2 1.5l0.5 0.7M123.3 111.6l0.1 -0.9M21.5 51.2l0.7 0.7M156.7 53.8l-0.3 0.4M3.4 76.8l1 -0.3M9.9 47.8l1 -0.5M99.8 47.3l-0.3 -0.9M144.3 108l-0.6 -0.5M152.2 35l0.7 -0.1M154 146.4l0.2 -0.8M85.8 163.9l-0.8 -0.2M61.1 25.7l0 -0.3M96.1 43l0.1 -0.3M142.2 43.9l0.3 0.8M48.8 144.8l0.3 -0.3M154.8 58.6l0.9 0M97.4 55l-1 0.8M11.4 121.6l1 -0.5M125.2 96.7l0 0.8M42.6 104.9l0.7 0.4M29 45.4l-0.2 -0.2M22.4 50.8l-0.3 -0.3M67.4 27.8l-0.7 0.2M91.4 143.7l-0.4 -1M77.4 43.1l-0.4 -0.7M22.9 7.8l-0.4 -0.4M130.4 24.8l0.4 -0.4M132.9 120l-0.1 -0.2M95.8 46.8l-0.7 -1.1M143.1 91l-0.5 -0.6M48.5 55.4l0.7 0.9M25.9 74.1l-0.8 0.2M63.6 60.2l0.5 -0.8M145.5 49.8l-0.1 0.2M155.4 62.6l0.9 0.5M106.3 17.8l-1 -0.8M74.7 107.4l0.3 -0.5M121.3 137.8l-0.5 0.1M86.6 16.6l0.4 -0.2M95 136.2l-1 -0.7M127.4 111.5l0.6 -0.5M162.7 147.4l-1.1 0.2M35.6 127.2l-0.2 -0.5M141.6 45.7l0.4 0.2M58.1 96.8l-0.3 0.7M102 9.7l-0.6 -0.5M81.1 156.5l0.4 0.8M55 61.5l-0.8 -0.6M161.1 95.7l-0.4 0.5M84.9 33.3l-0.6 1.1M98.9 36.3l0.8 0M158.6 63.5l0.4 -0.8M85.6 16.8l0.1 -1M107.9 152.3l0.1 -0.7M43.4 28.2l0.9 -0.4M9.4 46.2l-1.1 -0.5M53 111.6l-0.1 -0.7M137.8 139.1l-1 -0.2M85 59.7l0.9 -0.7M38.7 6.4l-1.1 0.5M26.6 33.5l-0.8 1M10.7 75.5l0.5 -1M89.6 49.8l0.4 -1M50.8 12.2l0.2 0.5M75.6 50.6l-0.3 0.1M59.4 160.3l0.4 -0.7M32.6 36.1l-0.3 0.4M63.9 19.9l0.1 1M145 89.8l-0.5 0.4M82.1 40.5l0.3 -0.4M50 62.9l0.2 0M67.3 143.7l0.5 0.5M51.5 29l-0.2 0.2M6.7 81.6l0.4 -1M59.2 105.8l-0.5 0.1M1.6 61.9l-0.7 0.6M99.8 9l-1 -0.2M139.2 20.8l-0.8 -0.4M81.6 100.4l-0.6 0.1M161.3 28.3l0.9 0.1M91.5 14.3l0.1 0.8M160.5 37.6l0.3 0.3M1.9 138.6l0.6 -0.3M73 39.8l0.2 -0.5M63.8 160l0.4 -0.7M42.5 37.3l0.3 -0.9M57.1 49.7l0.1 -1M135.1 51.4l-0.1 -0.5M89 4.1l-0.8 -1M41.8 122.6l0.5 -0.1M15.4 30l-0.5 -0.9M114.3 14l0.1 -0M5 18.7l-0.9 0.1M145.5 17.4l1 0.4M3.9 4.8l0.8 0M75 30.1l-0 0M80.9 12.1l-0.2 0M16.5 9.9l0.9 -1.1M28 32.1l0.2 0.7M134.6 90.7l-0.5 0.6M14.7 44.7l0.6 -1M60.3 116.9l-0.5 0.2M150.3 38l0.1 0M33.2 152.7l-0.4 0.8M97.9 36.8l-0.2 0.1M147 30l-0.5 0.7M1.8 57.9l0.7 -1M49.7 19.9l1 0.3M10.1 134.7l1 -0.3M60.5 39l0.9 0.2M35.7 36.2l-0.3 0.4M39.5 106.9l-0.9 -0.7M85.9 13l0.4 0.3M138.1 157.9l-0.4 -1M146 149l0.4 -0.7M38 8.6l-0.2 0.5M65.9 51.7l0.3 0.8M46 109.6l-0.1 -0.1M134.3 34.7l-1 0.5M8 154.9l-0 0.7M64.6 126l-0.4 -1.1M118.7 2.7l-0.1 -1.1M4.5 134.8l-0.2 0.1M133.8 124.2l-0.3 0.4M69.1 21.8l1 -0.6M86.9 100.7l-0 0.3M142.4 38.2l0.6 0.2M16.4 63.4l1 -1.1M121.4 126.5l-0.1 1M99.9 27.9l0.1 0.9M60.6 144.9l0.5 0.7M68.1 60.7l-0 -0.6M119.7 5l0.1 0.4M13.5 81l-0.2 0.5M129.2 119.3l0.2 -0.4M163.2 2.6l0.7 0.8M103.6 106.1l0.2 -0.2M117.4 27.7l-0.6 -0.1M30.5 132.4l1 0.1M37.1 45.2l-1.1 -0.4M161.4 35l0.7 -0.6M47.2 119.1l0.7 -0.2M149 49.4l-0 0.6M143.3 130.3l-0.1 -1M47.4 1.2l0.2 0.7M35.1 29.2l-0.5 0.6M104.2 12.7l-0.8 0.5" fill="none" stroke="#1c1cdc" stroke-width="2.2" stroke-linecap="round"/><path d="M81.5 5.7l-1 0.3M127.1 158.9l0.6 -1.1M92.8 94.6l0.6 -0.7M92.2 56.9l-0.5 -0.3M12.9 29.1l-1.1 0.2M135.3 38l-0.3 0.2M99.2 40l-0.1 -0.4M132.4 43.7l1.1 -0.1M70.6 16.5l0.6 1.2M121.4 110.2l1 -0M15.5 70.9l-1.2 0.2M79.5 89.4l0 -0.1M52.6 41.5l-0.4 -0.9M58.7 45.3l-0.2 -0.9M112.5 38.4l0.6 1M12.8 48.4l0.6 -1.2M107.5 50.2l0.8 0.1M149.2 24.9l-0.6 -1M104.4 144l0.3 0.9M86.1 41.6l-0.3 -1.1M100 18.5l-0.8 -0.6M14.8 113.4l-0.2 1.1M76.7 53.9l-1.1 0.8M127.7 59.3l1.2 1M152.9 36.3l1.2 -1.2M64.1 46.4l0.3 0.6M52.6 36.4l0 -0.4M69.9 13.9l-0.8 0.5M65.6 59.6l0.1 0.9M24.2 30.2l-0.5 0.7M9.5 32.4l1.1 -0.8M143.2 122.8l0.9 -0.1M39.8 26.6l0.8 0.3M46.9 44.8l0.1 0.2M66.7 130.7l-0.9 -1.1M142.5 96.8l-0.6 0.7M159 57.3l1.1 -0.6M128.5 50.2l1.1 0.6M19.1 64.7l0.5 -0.7M50.5 1.7l-0.8 0.1M101 108.8l-0.6 0.4M11.6 7.4l0.2 0.7M6.2 33.5l0.8 0.6M61.8 112.6l0.3 -0.9M41.3 4l0.3 0.9M148.2 57.3l-0.8 1.1M91.5 121.4l0.5 -0.8M12.5 46.4l0.4 -0.2M143.1 160.3l0.2 0.7M47 40.5l-0.4 -1.1M116.6 42l0.4 -0.5M74.9 5.5l-1.1 1.1M159.1 47.5l-0.4 -1.2M160.9 51l1.2 0.2M49 20.8l0.2 -0.4M31.8 30.3l0.3 1.1M138.3 36.8l0.6 0.5M136 120.9l-0.2 -1.1M21.2 132.9l-0.8 0.5M59.2 152.4l0.1 -0.1M74.4 18.3l-0.2 0.4M7.4 104.3l0.4 0.1M108.6 125.2l-0 -0.5M162.6 32.4l0 -0.6M133.6 56.2l1 -0.3M49.4 1.9l0.1 -0.4M18.1 29.3l0.1 -0.2M32.4 17.2l0.1 0.4M80.9 25l1 0.4M34.8 6.2l-0.2 0.9M86.7 163.5l-0.6 1.2M38.6 45.3l-0.8 1.1M138.9 94.5l-1 -0.3M59.1 41.9l1 0.1M136.7 126.3l-1.1 -0.3M56.5 153l0.1 -0.7M115.4 150.6l0.3 -1.1M128.9 52.1l-0.3 1.1M23.7 28.7l0.2 -0.1M26.2 37.1l-0.6 1.1M104.4 107.6l-0.3 0.6M129.6 154.1l-0.5 0.8M129.3 50.7l-1.1 0.9M157.1 116.1l-0.8 0M56.8 30.4l0.8 0M55 13.5l-0.1 0.9M39.7 64.2l-0.1 0.2M12.5 160.4l-0.7 0.5M7.5 3.8l-0.9 0.8M121.5 39.7l0.8 0.7M126 22.9l-0.3 0.3M34.9 117.1l-1 0.2M131.5 57.4l1.1 -0.9M11.5 82.2l-0.7 -1.1M24.1 69.5l1 0.9M5.9 158.1l1 -0.8M163.8 23l1.2 -0.5M122.3 28.9l0.6 -0.7M60.5 28.6l-0.7 0.4M160.6 17.9l1 -0.6M99.2 60.8l0.3 0.6M43.5 4.9l-0.3 0.1M88.4 53.6l0.4 -0.1M17 49.9l-0.5 -0.1M103 153.2l-0.1 -0.2M29.2 0.3l0.3 -1M152.3 38l-1.1 -0.7M93.4 53.4l1 -0.5M67 90.3l0.9 -0.7M4.8 4.7l-0.7 -1.1M142.6 124.4l-0.3 0.9M101 24.7l-0.9 0.1M86.4 111.4l1 -0M163.3 38.8l-0.7 -0M146.8 115l0.3 0.1M99.7 49l-0.1 0.8M17.3 118.8l0.7 -0M26.1 41.7l-0.3 0.2M155.7 158.7l0.4 0.7M145.1 103.1l-0.8 1.1M163.2 29.3l-0.8 0.4M88.4 47.2l0.1 -1M49.7 40.5l0.2 -0.9M27.7 34l-0.5 -1.1M21.2 5.4l0.3 0.2M150.6 2.4l-0.5 -0.6M59.9 17.8l0.3 -1.1M91 23.4l1.1 -0.1M72.3 107.3l0.5 -0.1M108.8 4.4l-0.7 -1.1M137.5 59.1l0.8 -0.3M100.3 138.5l-0.6 0.7M140.8 22.6l-0.1 -0.8M12.1 146.4l1.1 -0.5M126.8 44.6l-0.5 0.7M97.4 117.1l0.9 0.8M58.3 102.8l0.6 0.6M53.9 9.3l-0.3 -0.3M52.6 11.7l0.4 -0.5M95.4 17.9l-0.7 -0.7M102.5 0.3l-0.8 -0M24.2 23.9l-0.9 -0.4M50.2 60.3l0.9 -0.9M59.3 55.1l0.4 -0.9M110.5 162.4l0.2 -0M0.3 84.2l-0.2 -0.5M52.2 159.9l-0.9 -0.8M63.5 120l0 0.4M82.2 22.3l-0.7 0.1M87.9 9.4l-0.1 -0.4M81.9 29.8l0.2 0.7M87.5 137.9l0.9 0.3M96.6 132.3l-0.7 -0.9M28.6 73.3l-1.2 -0.2M145.1 3.5l0.8 0.4M31.6 130.2l0.4 -0.8" fill="none" stroke="#2a2aff" stroke-width="2.7" stroke-linecap="round"/><path d="M88.2 68.6l-0.1 -0.2M69.8 78.5l-0.4 0.6M44 70.8l-0.4 0M143.3 68.1l0.8 -0.6M88 68.6l0 0.9M117.4 59.9l0.9 -0.9M102 69.5l-0.8 0.1M94.2 68l-0.7 -0.3M42.1 77.8l-0.9 0.9M46.2 78.2l-0.6 0.8M85 75.1l-0.4 -0M162.2 61.2l-0.8 -0.9M102.8 70.7l-0.8 0.1M18.4 84l-0.3 -0.1M49.8 74.9l0.3 0.5M17 83.7l-0.8 -0.4M34.5 78.2l-0.1 0.7M72.9 63.8l-0.2 -0.5M85.3 75.9l0.4 -0.3M111.4 64.9l0.3 0M89.4 71.8l0.3 0.5M7 89l-0.1 0.4M134.5 68.3l-0.6 -0.2M156.4 69.1l0.4 0.2M76 70.3l-0.7 -0.1M23 86.4l-0 0.1M133.9 67.7l-0 0.1M87.3 65.7l0.3 -0.4M58 77.4l0 0.6M12.8 79.4l-0.9 0.2M42.7 80.1l0.3 -0.7M129.7 63l-0.5 0.1M21 83l0.8 -0.6M1.9 96.6l-0.6 -0.3M93.5 72.3l-0.3 1M127.2 72.7l0.4 -0.1M13.4 95.6l0.4 -0.8M59.2 72l-0.2 -0.1M13.9 87.8l0.9 -0.9M165.8 67.7l-0.2 -0.2M77.2 69l0.1 -0.9M22.9 83.7l0.1 0.1M67 74.1l-0.4 -0.1M40 84.6l1 -0.9M120.1 72.1l-0.8 -0.9M45.9 73.7l0.1 0.3M7 92.2l0.4 -1M162.4 67.3l0.3 -0.5M18.3 81.9l-0.5 0.2M50.1 71.9l-0.5 0.2M64.2 73.6l-0.5 0.2M160.1 71.7l-0.6 0.7M65.5 73.7l-0 -0M149.7 69.9l0.8 0.3M80.3 72.9l-1 0.8M37.3 77.9l0.3 -0.3M75.6 68.9l0.7 -0.8M27.8 86.1l0.4 0.4M2.9 96l-0.1 0.6M32.5 82.9l0.6 -0.8M138.4 66.8l-0.4 0.4M10.3 86.6l0.3 -0.7M51 84.7l-0.3 1M149.2 67.6l-0.1 -0.5M58.6 72.9l-0.1 0.7M106.2 66.7l-0.3 0.1M87.8 69.4l0.8 -0.7M37.1 80.3l-0.1 0.4M45.6 75l0.8 -0.8M61.2 73.8l0.3 -0.3M81.6 67.8l-0.2 -0.2M56.3 73.9l-0.5 0.5M94.4 65.4l-0.5 -0.8M104 64.6l-0.4 -0M18.3 84.3l-0.3 -0.4M118 72.9l1 -0.4M150.7 69.6l0.2 0.5M100.8 64.1l-0.3 -0.4M43.3 75.7l0.6 0.1M54.1 74.2l-0.9 -0.5M35.3 91.5l-0.8 -0M49.5 74.5l-0.9 0.2M84.6 77.5l0.1 0.6M43.1 82.2l0.4 0.2M141.4 70l0.1 -0.5M114.2 73.4l0.1 -0.8M98.3 74.8l-0.8 0.2M78.7 67.9l0.9 -0.2M63.8 70.3l1 -0.6M137.1 71.9l0.1 -0.9M3 91.8l-0.8 -0.2M16.3 94.2l-1 0.5M132.7 64.1l0.8 -0.2M37.9 87.1l0.5 0.4M128 71l-0.9 -0.6M93.1 67.3l-0.8 0.6M128.6 73.6l-0.4 -0.4M148.5 68.3l-0.2 -0.4M147.9 72.7l0.1 0.7M74.8 71.6l0 0.1M101.5 67.9l-0.6 -0.1M94.8 68.7l0.4 -0.2M152.9 68.1l-0.1 -0.6M49.8 76.5l-0 0.4M151.1 68.9l-0.8 0.8M46 79.1l0.1 0.7M94.4 72.2l-0.9 0.1M79.4 75.3l0.2 0M109.8 68.5l0.8 0.3M76.4 74.3l-0.8 -0.3M28.6 80.3l0.2 0.1M141.3 68.1l0.6 0.9M29.1 80.7l-0.9 -1M21.2 86.1l-0.3 0M20.8 82.4l-0.2 -0.3M102.1 67.6l0.2 0.5M112.5 78l0.1 -0.5M155.9 75.5l-0 0.5M41.8 82.9l0.3 -0.5M12.2 96.2l-0.9 0.1M105.9 65.4l0.9 -0.5M20.6 96.3l-0.7 0.2M80.7 72.7l-0.9 0.6M118.7 69.9l-0.6 0.5M130.6 75.9l-0.3 0.7M23.3 96.1l-0.6 0.9M47.8 77.8l-0.4 0.4M98.6 72.5l0 1M-0 97.5l0.4 -0.4M159 64.2l-0.6 0.9M107.2 71.2l-0.6 -0.5M20 89.5l-0.9 0.3M155 65.7l0.3 0.8M127.2 64.9l0.7 0.8M124.4 71.1l-0.6 -0.4M59.6 73.9l0.7 0.9M77.7 68.1l-0.2 -0.9M40.1 77l0.1 -0.8M51.1 76.1l-0.4 -0.6M137.2 67.9l-0 -0.2M12.7 82.8l0.5 -0.5M29.1 87.4l-0.3 -0.7M85.3 71.3l0.4 -0.9M101 71.2l-0.3 -0.9M149.4 62.8l-0.5 -0.7M52.7 81l0.8 0.3M112.3 70.4l0.3 0.1M121 66.7l0 -0.5M45.5 76.7l-0.2 -0.2M149.1 71.5l0.6 -0.5" fill="none" stroke="#1e1eea" stroke-width="2.6" stroke-linecap="round"/><path d="M46.7 72l1 -0.7M66.6 77.8l0.9 0.9M95.1 64l-0.5 -0.6M73.6 68.6l-0.4 0.4M146.9 71.6l-0.3 -0.2M-0.1 107.3l-0.7 -0.5M135.1 61.2l0.5 -0.3M24.8 84.5l-0.7 0.4M13.2 90.3l0.8 0.1M44.6 74.7l-0.1 -0.2M140.5 67.3l-0.9 -0.7M95.2 68.3l0.2 0.5M99 74l0.7 0.7M98.7 70.9l-0.4 0.7M29.5 86.7l-0.6 -0M92.3 67.8l-0.2 0.6M51.3 66.8l0.5 0.5M62.3 78.5l0.6 0.8M76.6 71.6l-0.2 1M46 82.3l0.1 -0.9M159.8 73l-0.8 -0.7M127.8 67.9l-0.8 0.5M148.5 65.6l0.6 1M43.7 70.8l0.4 1M151.9 71.5l0.8 0.7M75.8 66.1l1 0.1M120 70.7l0 0.4M2.6 93.1l0.7 0.6M105.3 76.8l0.8 0.4M141.5 72.9l0.3 0.1M165.8 74.3l-0.1 -0.9M8.6 94.6l0.8 -0.4M116.3 70l-0.7 -0.6M32.5 83.8l0.7 -0.3M25.2 91.3l-0.4 -0.4M116 62.2l0.2 -0.5M115.9 66.2l0.2 -1M30.4 84.4l-0.3 0.3M11.8 93l-0.5 -0.7M91.1 71.9l0.6 -0.2M9.9 86.8l-0.3 0M49.3 75.6l0.3 -0.9M11.2 84.2l0.8 0M122.4 72.9l-0.2 -0.9M117.6 67.7l0.4 -0.8M127.7 71.1l-0.8 0.7M12.4 86.4l0.8 -0.1M30.3 84.3l0.9 0.7M6.5 90.7l-0.3 -0M82.3 75.9l0.1 0.5M135.1 62.7l-0.4 -0.3M36 73.6l0.5 -0.1M49.1 76.1l-0.7 -0M45.3 80.2l-0.4 -0.3M82.3 68.6l-0.4 0.6M128.9 70.9l0.2 0.5M120.7 72.8l-0.6 -0.5M96 67.4l0.4 -0.5M98.5 72.6l0.4 -0.5M141.6 67.9l-0.7 0.8M83.4 71.8l-0.4 -0.3M46.9 71.2l-0.9 0M97.9 67.3l0.3 -0.8M62.5 74.6l0.1 -0.6M158.7 69.8l-0.6 -0M113.7 70.5l0.5 -0.9M77.6 70l0.7 -0.4M86.2 69.4l0.5 -0M73.5 68.3l-1 -0.2M91.1 68.3l-0.5 -0.9M164.6 72.4l-0.7 0M56.9 76l0.5 0.5M18.1 94.1l-0.3 1M138.7 70.7l0.7 0.1M-1 96.6l-0.2 0.8M62 76.5l-0.3 -0.4M164.9 74.9l-0.4 -0.8M86.9 72.5l0.6 -0.8M31.9 79.6l-0.2 0M112.9 74l-1 0.8M132 67.9l-0.1 0.5M21 83.4l-0.6 -0.3M0.8 91.2l-0.7 -0.5M116.3 62.5l-0.2 0.2M99.6 68.4l-0.1 -0.5M73.5 72.9l-0.2 0.6M16.8 86.4l1 0.6M96.7 76.1l-0.3 -0.3M148.4 74.1l0.1 -0.2M155.6 65.9l0.3 0.9M23.7 85.4l0.1 0.6M90.7 64.7l-0 -0.7M18.4 79.2l-0.4 -0.8M118.2 68.5l0.8 0M154.6 70.9l-0.5 -0.6M65.4 72.1l-0.6 0.4M140.3 68.6l-0.9 -0.5M74.6 67.6l-0.6 -0.1M64.2 71.2l0.3 1M77.3 74.4l-0.2 0.4M97.5 71l-0.2 1M104.3 71.1l0.6 -0.2M94.7 65.1l-0.9 0.7M57.7 75.2l-1 -0M166 70.1l-0.9 0.1M48.3 82.2l0.7 -0.8M99.4 68l0.1 -0.8M6.1 96.4l-0.7 0.3M55.3 70.4l-0.6 0.3M128 70.4l-1 1M6.5 91.1l0.3 0.4M75.6 74.5l0.5 0.7M150.7 76l-0.4 -1M155.4 68l-0.2 -0.8M82.3 69.5l-0.5 0.7M119.8 67l-0.3 -0.8M42.7 76.5l0.7 0.9M84.3 69.9l-0.4 0.6M64.7 77.1l-0.3 -0.7M127.1 65.5l-0.9 0.8" fill="none" stroke="#2929ff" stroke-width="2.2" stroke-linecap="round"/><path d="M41.3 74.8l-0.4 -0.4M50.3 76.9l-0.4 0.7M67.7 75.4l0.7 0.4M53.8 76.3l-0.2 -0.8M112.6 63.4l0 0.4M13.3 86.7l0.3 0.3M34.7 83.7l-0.1 0.4M27.2 83.5l-0.2 0.1M91.6 62.5l0.3 -0.2M142.2 71.5l0.1 0M96.3 65.7l-0.5 -0.7M164.2 72.7l-0.3 0.5M16.7 81.7l0.4 -0.4M110.9 69.6l0.1 0.7M14.1 92.8l-0.4 -0.7M123.6 60.3l0.7 0M27 86.3l0.6 0.6M0.7 93.4l0.6 0.5M116.1 66.1l0.1 0.7M87.2 64.3l0.5 0.2M9.8 96.6l-0.2 0.7M126.1 70l0.3 0.8M56.3 75.6l-0.8 0.6M74.9 68.2l0.2 -0.6M113.6 66.6l-0 -0.4M21.3 81.4l-0.7 0.5M114.1 69.9l0.6 -0.8M104.1 62.8l-0.5 0.3M97.9 70.1l0.3 0.7M161.7 84.1l0.5 -0.2M41.6 75.9l0.3 -0M77.6 66.2l0.4 -0.6M46.8 76.7l-0.1 0.3M133.2 70.9l0 0.1M85.4 73.5l0.6 -0.7M163.4 71.3l-0.2 -0.5M107.3 67.3l0.7 -0.6M9.2 90.8l0.1 -0.3M81.7 75.1l-0.4 0.3M37.6 84.6l0.4 0.1M153.2 69.7l0.6 0.3M143 68.6l0.5 -0.8M112.8 69.6l0.7 0.4M111.7 72.5l-0 -0.2M148.4 64.3l-0.3 0.8M156.4 75l-0.5 -0.2M158.4 65.6l0.3 -0.6M10.6 85.8l0.4 -0.5M118.1 70.7l0.4 -0.1M141 66.6l-0.1 -0.5M57 76.9l0.3 -0.3M91.4 67.2l-0.1 -0.5M102.8 70.4l0.3 0.5M56.8 76.3l0.2 0.7M70.7 66.3l0.7 0M156.6 63.1l-0.4 0.1M19.3 86.8l0 -0.5M9.1 89.5l0.3 -0.6M14.9 93.9l-0.5 0.2M85.5 67l0.3 0.1" fill="none" stroke="#0d0d9a" stroke-width="1.8" stroke-linecap="round" opacity="0.9"/></g>
<g transform="translate(1128.6 256.1)" clip-path="url(#mclip)"><rect x="0" y="0" width="164.4" height="164.4" fill="#000"/><path d="M-8 62L0 59L30 46L73 31L114 26L140 28L172 36L172 139L130 141L93 145L52 155L30 160L0 172L-8 175Z" fill="#083208" filter="url(#b3)"/><path d="M-8 -8L50 -8L40 20L-8 45Z" fill="#0a2d0a" filter="url(#b6)"/><path d="M-4 115C-3.3 114.5 -4.3 114.8 0 112C4.3 109.2 14.9 102 22 98C29.1 94 35.6 91 42.4 87.8C49.2 84.6 56.2 81.2 63 78.6C69.8 76 76.2 73.8 83 72.4C89.8 71 96.9 70.4 103.7 70.4C110.5 70.4 117.2 71.4 124 72.4C130.8 73.4 137.8 75 144.5 76.5C151.2 78 160.2 80.5 164.5 81.6C168.8 82.7 169.1 82.8 170 83" fill="none" stroke="#18cf18" stroke-width="14" filter="url(#b1)" stroke-linecap="butt"/><path d="M-4 115.5C-3.3 115 -4.3 115.3 0 112.5C4.3 109.7 14.9 102.5 22 98.5C29.1 94.5 35.6 91.5 42.4 88.3C49.2 85.1 56.2 81.7 63 79.1C69.8 76.5 76.2 74.3 83 72.9C89.8 71.5 96.9 70.9 103.7 70.9C110.5 70.9 117.2 71.9 124 72.9C130.8 73.9 137.8 75.5 144.5 77C151.2 78.5 160.2 81 164.5 82.1C168.8 83.2 169.1 83.3 170 83.5" fill="none" stroke="#2cff2c" stroke-width="6.3" filter="url(#b2)" stroke-linecap="butt" opacity="0.75"/><path d="M95.3 68.8l0.6 0.3M78.2 71.5l1 -0.5M151 83.6l-0.1 0.1M10.3 105.8l-0.7 -0.3M88 71.6l-1.1 -0M8.7 106.9l-0.2 0.2M69.9 77.8l-0.7 0.4M72.3 74.3l0.1 -0.9M49.6 81.6l0.5 0.9M64.8 79.3l1 -0.5M163 85.3l-0.7 -1M131.8 79.1l-0.1 0.5M75.4 71.8l1.1 -0.8M164.8 75.7l0.2 0.5M6.9 107l-0.1 1M108.1 62.1l0.1 -1M161.5 85.3l0.1 0.6M123.7 73.3l0.7 0.4M10.2 96.9l-1.2 -1.1M111 68.4l0.8 0.2M62.2 81.8l0.9 -0.7M36.5 81.2l0.9 1.2M40 91l0.4 -0.8M70.3 69l0.9 0.3M164.9 86.3l0.1 0.6M62.1 77.2l-0.4 1.1M12.9 107l0.2 -0.1M70.8 75.5l-0.4 -0.7M12.3 104.5l0.2 1M123.6 79.7l-0.2 0.5M58.5 87.3l0.1 -0.6M150.3 83l-0.5 0.9M126.6 69.3l1.1 0.6M43.5 80.5l-0.1 0.8M91.9 74.2l0.4 0.7M29.2 93.5l0.7 -0.5M16.6 99.7l0.5 0.9M51.4 78.3l-0.8 1.1M129.6 68.5l0.2 -0.9M150.2 72.1l-0 -0M29.2 91.9l-0.6 0.9M121.7 71.7l1.1 0.7M124.3 75.2l0.2 -0M10 105.4l0.3 0.8M135.5 71.2l0.2 0.4M115.8 68.6l-0.8 -1.1M155 81.1l-1.1 -0.4M1.9 106.9l-1.1 0.8M60.1 78.3l0.3 0.7M53.7 88.3l0.6 0.8M140.7 73.1l-0.8 0.6M154.4 86.8l-0.9 -0M89.3 78l1 -0.8M142.2 76.7l0.9 1.1M20.6 97.6l-0.6 -0.2M51.6 80.9l-0.8 0.6M46.7 88.2l0.7 0.1M164.1 85.5l0.8 -0.3M82.8 74.6l0.2 1.1M19.6 97.3l-1.2 -0M45.5 87l0.4 0.3M56.5 77.1l-0.6 0.2M144.7 72.3l-0 -1.1M144.7 72.9l-0.6 1M22 98.8l0.1 -0.3M81 77.6l-0.2 -0.4M113.3 72.8l0.9 0.7M27.5 88.4l-0.1 1.2M119.8 71.2l-0.4 -0.8M48 86.2l1 -1M62.8 75.6l1 0.3M104.7 69.4l1 0M62.1 82.8l-0.8 -0.2M138 73.9l1 0.9M134 68.5l-0.5 -0.2M12.4 99.3l-1 -0.7M151.1 86.4l1.2 1.2M11.7 101.6l0.8 -0.6M34.2 89.9l-0 -1.1M41.1 89.8l0.2 0.8M14.4 94.5l-0 1M54.5 77l0.9 0.5M138.7 78l0.5 0.7M143.4 71.2l-0.9 0.4M40.6 83.1l0.1 -1.2M-1.4 108.1l0.7 0.7M164.2 80.2l0.6 0.8M131.1 77.9l0.7 -0.4M78.6 81.7l0.3 -0.8M144.4 84.5l0.5 -1M81 71.8l-0.5 -0.8M50.7 83.5l-0.9 0.6M163 80.3l-0.4 -1.1M107.3 67.4l-0.9 -0.7M12.4 92.7l-0.6 -0.9M2.6 109.9l1 0.6M82.4 73.4l0.4 -0.3M73.7 73.9l1.1 -0.7M132.9 76.1l0.2 0.7M95.4 65.9l0.3 -0.8M89.1 65.4l0.1 -0.3M109.1 59.6l0 -1.2M35.8 90.6l0.2 1.1M110.4 74.9l0.9 0.7M131.7 72.6l0.5 1.1M13.1 105.3l0.2 -0.6M126.1 72.4l0.5 -1M72.2 74.9l-0.9 0M133.8 76.6l1.2 0.4M57.1 79.8l0 -0.9" fill="none" stroke="#30ff30" stroke-width="2.8" stroke-linecap="round"/><path d="M66.6 69.7l0.7 0.1M112.6 63.3l0.6 -0M4.4 101.8l-0.2 0.5M126.9 66.5l0.4 -0.2M30.4 85.9l0.6 0.3M24.3 88.9l-1.1 -0.8M49.6 78.8l-1.1 0.4M94.9 64.6l1.3 -1.3M137.5 65.9l-0.1 -1.1M2.8 102.8l-0.2 1.2M155.3 70.9l0.8 -1.4M141.1 69.7l-0.7 -0.3M66.6 68.7l-0.3 -0M133.5 68.3l-0.5 0.5M151.3 69.6l-0.5 1.1M83 65.3l1.3 0.9M98.2 62.2l-1.2 -1.3M104 60.7l-0.9 -0.6M40.5 81.4l1.2 -0.7M138.9 65.6l-1.2 -1.3M14.7 93l-1.5 -0.5M63.9 72l0.1 0.9M25 90.6l-1.1 1.3M3.1 102.8l-1 0.3M56.2 73.2l-1.3 -1M75 67.4l-0.4 0.3M121.9 65.4l0.8 -1.1M110.4 63.8l-0.4 0.1M102.4 61.9l0.7 1.4M57.8 72.8l0.5 -0.8M155.2 70.5l-0.4 1.1M77.3 66.6l-0.6 -0.5M17.5 90.6l1.2 1.4M107.5 61.8l1.5 1M-1.3 105.7l-1.2 1.5M4.1 101.1l0.7 1.4M44.8 78.9l-1.3 0.6M164.7 73.9l1 -0.7M66.5 71.6l0.2 0.6M162.7 73.5l1.5 -1.4M1.9 103.4l0.4 -0.7M59.3 73l0.2 0.8M62.2 74.3l-0.8 0.6M127.2 65.9l0.2 -1.2M45.7 77.7l0.8 -0.7M132.8 65.5l-1.3 -0.4M38.5 83.9l-1.2 -1.3M103.4 62.2l-0.5 -1.2M93.4 63.5l1.2 -0.5M147.9 69.5l-0.1 -0M80.1 66l0.5 0.5M119.5 65.3l0.9 -0.2M130.1 66.2l1.2 0.4M164.5 75.1l0.3 1.3M8.7 96.5l0 -1.2M119.5 66.1l0.6 0.2M85.5 64l-1.3 0.3M124.7 65l0.6 -0.6M55.2 77.2l-0.7 -0.8M12.7 97.7l1.1 -1M76.9 66.1l0.6 -1.3M64.4 69l-0.4 -1M122.5 64.6l-1 0.2M68.7 71l-1.2 1M160.6 73.4l-0.9 -1.3M148.2 69.1l0.7 -1.4M72.8 67.5l-0.5 -1.2M27.5 88.1l1.4 -1.4M4.2 101.9l-0.5 0.4M113.2 64.8l-0.2 -0.4" fill="none" stroke="#1fd81f" stroke-width="2.8" stroke-linecap="round"/><path d="M150.4 74h0M157.2 69.7h0M144.2 76.1h0M97.6 72.2h0M59.8 80.9h0M157.3 79.6h0M45.5 83.5h0M78.7 67.6h0M128.1 74.4h0M135.4 72.9h0M163.9 84h0M98.7 65.9h0M14.5 99.5h0M37.3 89.1h0M154.7 79h0M142.6 78.9h0M88.1 73.8h0M149.9 76.1h0M68.5 81.2h0M55.3 78.2h0M57.9 85h0M10.3 108.8h0M150.4 77.8h0M62.9 82.3h0M78.5 75.3h0M57.4 80.3h0M89.2 63.3h0M89 71h0M110.4 69.1h0M72.5 72.1h0M33.4 100.4h0M111.7 78.2h0M17.7 103.1h0M67.6 73.6h0M131 71.9h0M129.7 79.6h0M110.6 72.2h0M124.8 74.4h0M100.5 64.3h0M91.1 79.1h0" fill="none" stroke="#0f7a0f" stroke-width="1.6" stroke-linecap="round" opacity="0.7"/><path d="M72 33h0M105 27h0M131 26h0M123 41h0M152 45h0M148 59h0M103 48h0M90 139h0M69 144h0M68 149h0" fill="none" stroke="#2fe22f" stroke-width="3.4" stroke-linecap="round"/><path d="M130 102h0M23 15h0M10 12h0M40 6h0M30 28h0M150 146h0M135 146h0M56 132h0" fill="none" stroke="#1c8a1c" stroke-width="3.2" stroke-linecap="round"/><path d="M0 112l8 4l-3 8l12-4l-4 10l-13 2z" fill="#000"/></g>
<g transform="translate(1300.2 256.1)" clip-path="url(#mclip)"><rect x="0" y="0" width="164.4" height="164.4" fill="#000"/><path d="M-8 82L0 80L40 72L80 62L120 53L150 47L172 43L172 150L120 160L60 170L0 174L-8 175Z" fill="#062606" filter="url(#b3)"/><path d="M-4 121C-3.3 120.7 -4.7 120.9 0 119.2C4.7 117.5 16.7 113.5 24 111C31.3 108.5 37.2 106.3 44 104C50.8 101.7 58.2 99.1 65 97C71.8 94.9 78.2 93.2 85 91.5C91.8 89.8 98.7 88.3 105.5 87C112.3 85.7 119.2 84.8 126 83.5C132.8 82.2 139.6 80.3 146 79C152.4 77.7 160.7 76.3 164.7 75.5C168.7 74.7 169.1 74.2 170 74" fill="none" stroke="#18cf18" stroke-width="15" filter="url(#b1)" stroke-linecap="butt"/><path d="M-4 121.5C-3.3 121.2 -4.7 121.4 0 119.7C4.7 118 16.7 114 24 111.5C31.3 109 37.2 106.8 44 104.5C50.8 102.2 58.2 99.6 65 97.5C71.8 95.4 78.2 93.7 85 92C91.8 90.3 98.7 88.8 105.5 87.5C112.3 86.2 119.2 85.3 126 84C132.8 82.7 139.6 80.8 146 79.5C152.4 78.2 160.7 76.8 164.7 76C168.7 75.2 169.1 74.8 170 74.5" fill="none" stroke="#2cff2c" stroke-width="6.8" filter="url(#b2)" stroke-linecap="butt" opacity="0.75"/><path d="M164.4 78l-0.2 -0.6M163.7 82.4l0.5 -0.9M26.5 110.7l-0.4 1.2M51.8 105.3l0.2 0.1M97 88.8l-0.8 -0.8M14 114.2l0.4 0.6M16.6 108.2l-0.6 0.9M96.1 94.7l1.1 0.8M25.6 98.7l0.8 -0.1M160 68l0.8 -1.2M21 110.4l-0.3 -0.9M143.3 76.8l0.3 -0.9M52.7 93.3l-0.9 0.8M73.7 86.3l-0.9 0.9M51.6 106.7l-0.3 -0.4M111.2 87.4l-0.5 1.2M112.6 88.3l-0.2 -0.1M44.3 105l-0.8 0M24.3 112.4l0.9 1M142.9 80.8l-0.2 -0.5M144 75.4l-0.7 1M53.3 97.4l-0.4 0.1M149.9 78.7l-1 0.7M157.3 77.6l0.8 -1.1M44 106.6l-0.1 0.1M14.8 112.1l-0.8 1.1M52 106l0.5 -0.9M100.6 80.2l0 0.2M87.1 86.2l0.5 0.9M156 77.7l1.2 -0M64.3 100.9l1.2 -1.1M61.2 101l0.3 0.5M51.3 106.8l-0.6 0.2M76.1 90.7l0.7 -1.1M153.5 77.7l-0.9 1M161.9 77.6l-0.9 1.1M16.9 112.2l0.1 -0.3M15.8 109.1l-0.4 0.5M157.4 75.1l-0.9 0.4M33.3 102.9l0.7 0.3M118.6 83.8l0.2 0.3M4.4 112.9l0.9 0.1M57.4 94.9l1.1 0.7M127.5 81.1l0.5 -0.3M77.4 93.8l-1 -0.8M21.2 116.5l1.1 1M117.4 87.2l0.9 0.1M27.7 108.2l0.3 0.4M95.5 88.3l0.2 -0.4M82.8 93.3l-0.2 -0.9M29.3 105.9l0.5 0.8M35.5 101.1l0.4 -0.1M150.9 69.4l0.8 1.1M130.4 79.3l0.4 0.2M41.2 104.6l-0.7 0.9M84.2 94.4l1 1.2M122.2 85.7l0.5 0.3M0.7 120.4l0.2 1.1M132.8 86.4l-0.4 0.1M96.7 85.4l0.2 0.2M70.5 92.5l-0.9 -0.5M-1.9 122.9l0.4 -0.2M37.2 101.3l0.2 1M101.8 87.4l-0.7 0M23.5 102.4l-0.2 -1M35 113l1.1 -0.1M164.3 86.4l0.4 0.6M161.3 75.3l0.1 -0.7M152 89.2l0.5 0.9M82.5 90.9l-0.5 -0.6M135 84l0.7 1.2M26.6 116.6l-0.9 -0.7M142.6 79.5l0.6 -1.1M128.7 75.1l0.6 -0.4M53 103.7l0.7 1.1M105.4 76.5l-0.3 -0.4M113.1 85.1l-0.4 0.1M118 88.4l-1.2 1.1M97 85.6l-0.7 0.4M0.5 117.3l-1 0.1M79 98.3l0.3 0.3M21.9 98.1l0.8 1M163 72.5l0.3 -0.6M67.8 107.2l-0.7 0.8M132.9 75.1l-0.4 -0.5M9.1 112.3l0.6 -0.3M20.6 112.4l1.2 -0M101.5 86l-1.1 0.5M158 71.9l-0.8 0.3M117.1 79.6l-0.2 0.9M130.8 80.9l1.1 0.1M49.9 103.2l-0.2 1M104 87.2l0.4 -0.3M76.3 97l-0.4 -1M55.6 92.7l0.1 1M88.4 81.3l0.7 -0.4M132.9 82l1.2 0M142.5 88.2l-0.9 -0.3M16.7 117.1l1.1 -1.1M39.9 104.9l0.2 0.9M-0.7 122.8l-0.2 0.7M80.5 98.9l-0.7 -0.8M105.3 83.9l-0.9 -0.4M163.7 74.7l-0.5 1M156 65.1l0.1 0.9M111.4 88.8l-1 -1M68.6 104.9l0 0.7M4.4 125.7l-0.7 0.5M68.5 91.8l-0 1.1M62.8 103.2l-0.9 -0.3" fill="none" stroke="#30ff30" stroke-width="2.8" stroke-linecap="round"/><path d="M111.3 77.8l1 1.4M93.2 80.6l0.4 -0.6M134 74.4l-0.2 0.8M54.8 92l-0.5 -0.8M75.5 85.9l-1 -0.9M109.3 78.2l-1.3 -0.2M122.9 75.2l-0.6 0.6M66.1 88.8l-1 -1.4M18.6 104.3l-1.5 -1.2M44.3 95.3l0.1 -1.5M7.1 105.8l-0.5 -0.8M113.1 77.4l-0.5 -0.7M18.6 105.8l1.4 -0.9M12.8 107.9l-1.2 0.1M97.8 81l0.1 1.5M146.6 70.8l-0.5 0.5M65.4 88.5l1.3 -0.8M121 76.4l-1.1 -0.5M91.3 81.7l-0.9 -0.2M62.5 89.1l-1.4 1M51.7 94.4l-0.8 -1.4M86.8 82.9l-0.1 -0.7M82.1 83.8l0.6 0.5M77.4 84l1 -0.7M28.2 100.6l1 1.2M70.5 87.7l0.4 -1.2M108.1 77.5l-0.7 0.6M124.7 75.6l0.1 -1.2M20.8 105.1l0.1 -0.9M32.1 97.8l-1.2 0.4M28.2 101l0.3 -0.2M84.1 83.4l1.1 0.7M80.6 84.6l-1.3 -0.9M124.2 74.8l-1.5 -0.1M11.1 105.9l1.4 -0.3M60.7 90l-1.2 -0.9M79.3 83.9l1.1 -0.7M110.6 79.5l-0.6 1.2M-1.5 110.7l-0.9 0.8M108.5 78.7l1.2 -0.2M137.9 73.1l0.3 1.5M153.8 66.8l1.3 1.5M90.3 84l-0.5 -0.4M146.5 70.9l-0.3 -0.8M151.5 69.2l-1.4 -0.5M81.2 84.5l-1 0.7M24 102.5l0.1 -1M139.8 72.9l-0.9 0.6M160.6 68.7l-0 0.1M146.4 69.3l-0.4 1.3M151.8 68.6l-0.5 0.1M48.1 94.9l-0.1 -1.2M30.3 101l0.9 -1M66.6 87.3l1.5 1.1M142.9 71.2l0.7 0.9M102.3 79.3l-1.4 0.1M14.2 105.2l0.9 -0.4M129.1 74.5l-1.2 -0.3M93.6 79.4l1.1 -1.1M150.4 70.5l0.8 -0M68.2 87.6l0.5 -1.1M158.1 67.8l0.9 -0.8M11.2 106.4l-0.4 0.5M14.7 105l1.1 -1.2M19.7 103.7l-1.2 1M86.3 83.4l1 0.9M165.3 67.3l-0.4 1.1M74.5 83.7l1.4 -1M28.7 102.6l1.1 -1.4M66.8 88.6l1.1 0" fill="none" stroke="#1fd81f" stroke-width="2.8" stroke-linecap="round"/><path d="M112.3 84.5h0M105.3 90.5h0M151.1 70.7h0M2.3 120.8h0M83.8 92.5h0M128.8 82.1h0M71.5 100.7h0M162.7 79.2h0M60.5 102.3h0M8.2 120.5h0M162.2 72.5h0M10.5 111.9h0M60.7 100.9h0M79.4 93h0M48.2 95.9h0M5.5 118.3h0M156.5 73.1h0M4.3 113.7h0M158.8 74.2h0M116 87.5h0M78.9 93.8h0M145.5 81.1h0M134.4 88.3h0M70.9 94.1h0M152.4 82.3h0M143.8 81.6h0M88.8 93h0M47.5 95.4h0M159.3 84h0M-0.1 120.7h0M17.5 116h0M92.7 90.5h0M68.2 87.3h0M54.1 96.6h0M9 126.3h0M160.6 68.9h0M150.9 76.1h0M154 76.9h0M158.6 74.9h0M6.9 119h0" fill="none" stroke="#0f7a0f" stroke-width="1.6" stroke-linecap="round" opacity="0.7"/><path d="M79.8 0.6l0.3 -1.5M84.2 21.6l-0.6 0.4M112.6 0l-1.1 1.6M2.6 41.4l-0.3 -1.2M164.4 19.2l0.5 -1.4M88.5 33.1l0.5 0.8M27.7 35.7l0.1 0.4M72.9 23.2l0.5 -1.4M21.6 40l0.7 -1.1M125.4 23.5l-1.6 1.3M88.6 22.7l0.5 1.1M40.6 16.6l1.6 0.1M121.3 14l-1.5 1.4M86.4 11.3l-1.2 0.6M13.4 14.5l0.7 -1.2M7.9 39.4l-0.9 0.6M64 21.5l0.1 -0.9M22.9 16.5l-0.4 1M151 1.7l1.1 -1.2M61.4 6.1l-0.1 -0.3M7.8 13.8l-1 -1.1M25.2 1.5l1.2 -1.3M62.3 14l-1.5 0.2M156.5 2.9l-0.3 0.5M151.6 18.2l-1.6 -0M28.9 22.1l-0.3 0.4M5.9 37.8l-1.3 0.1M19.7 38l-0.6 -0.5M150.2 0.4l-1.2 1.4M23.9 30.2l-0.6 -0.8M46.4 25.1l-1.2 0M127.8 3.5l-1.5 0.3M16.5 5.9l-0.3 -1.3M85.4 14.2l0.6 -0.4M131.8 14.3l-0.6 0.1M37.1 13l-1.4 1.1M57.8 20.3l-1.4 0.9M106.1 7.9l0.3 0.5M146.4 7.6l1.2 -0.5M36.8 6.8l-1.4 -1.4M106 7l-1.5 -0.8M146.5 12.7l-0.8 -0.1M95.8 26.7l1.3 1.3M138.1 14.4l-0.8 -0.7M135.4 17.9l1.6 0.6M54.6 31.5l1.1 -0.5M115.8 14l-1.6 -1M41.8 34.3l-0.5 -0.4M90.5 26.5l-1.2 -0.6M102.2 9.6l-1.6 -0.9M151 5.9l1 0.5M57.5 36.4l-0.7 -0.4M127.2 16l-0.9 -1.6M74.4 12.6l-1.3 0.3M121.6 8.8l0.2 1.3M7.9 32.8l0.5 1.4M134 21.4l0.7 0.9M19.5 2.8l1.3 -1.2M18.4 39.9l-1.2 -0.3M19.1 28.1l1.4 0.7M103.4 1.1l-1.5 -0.3M105.1 9.6l1.6 0.2M31.6 10.1l-1.1 1.2M67.9 1.5l-0.7 -0.1M16.5 10.5l-0.6 -1.4M109.5 17.3l0.7 0.8M61.6 14.3l0.2 1.2M124.2 2.5l0.5 -1.5M3.5 22.2l-0.3 -0.5M67.8 0.5l-0.3 -0.2M147.5 15.9l-0.1 -0.3M66.3 15.8l-1.5 -1.3M51 10.8l1 1.6M48.6 24.8l1.3 -1.2M62.6 7.6l0.5 0.6M24 27.5l1.1 1.4M156 6.2l1.4 0.3M45.1 5.8l-0.1 0.1M93.6 15.4l0.4 1M35.7 19.2l1.1 1.1M13.7 32.9l-1.2 0M148.1 10.2l-1.3 -1M141.7 0.4l-1.4 1.4M80.4 18.9l0 1.1M144.8 26.9l0.5 0.3M36.7 18.4l-1 1.4M96.1 0.1l0.9 0.1M15.7 5.1l1.2 -0.8M8.8 4.3l0 -0.5M106.3 17l0.3 0.6" fill="none" stroke="#2fd92f" stroke-width="3" stroke-linecap="round"/><path d="M107.6 9l-1 -0.4M47.1 10.8l0.8 1.1M17.2 38l0.3 1M58.6 4.2l1 -1.1M60.1 15.2l-0.2 0.6M114.3 14.5l0.5 0.4M9.6 20.1l-0.6 1.4M73.4 1.8l-0.3 -1.2M22.3 46.2l-1.3 -0.9M95.8 8.9l-0.4 -0.3M15.4 31.8l0.1 -0.7M30.7 26l-0.5 -1.1M145.4 19.9l-0.7 0.9M72.8 31.3l-0.7 0.2M44.3 18.8l1 -1.1M65.5 15.3l1.1 -0.3M51.2 0.4l-0.3 1M12.4 1.1l-0.2 0.4M139.8 10.8l-0.9 0.8M99.8 6.3l0.3 0.5M117.4 10.1l0.4 0.8M53.1 28.5l-0.9 0.9M63.8 7.3l-0.6 1.1M71.4 12.8l0.6 0M69.8 15l1.4 -1M101.2 11.4l-0.5 -1.3M8.8 34.1l1.3 -1.1M128.9 10.1l-0.9 -1.2M4.4 23.8l1 -1.1M26.9 32.7l-0.8 -0.8M99.2 17l-0.1 -0.7M120 22.4l0.2 1.4M91 28.3l1 1.1M77.2 1.8l0.5 -0.4M15.8 7l1.4 1.1M4.3 35.6l-0.4 -1M19.6 24.8l-0.3 -1.4M118.5 22.1l-0 1.2M141.1 26.8l0.4 0.7M145.2 19.9l0.9 -0.2M41.8 27.8l-0.5 -0.9M30.3 28.7l0.9 -0.4M142.7 1.4l0.4 1.2M50.2 17.3l-1.3 1M33.4 7l0.8 -0.4M101.3 0.2l0.3 0.2M106.7 3.3l0.5 1.2M15.4 22.9l0.7 1.3M71.1 0.5l1.3 0M33.3 8.1l-1.1 0M148.9 14.4l0.1 0.2M150 16l0.5 -0.9M103 14.3l-1.3 0.9M13.2 24l1.3 -0.3M113.3 0.3l0.7 0.7M157.9 2.7l-0.5 -1.2M69.6 2.1l-0.8 0.1M67.1 2.5l1.2 -0.4M44.9 26.8l1.4 -0.2M57.4 34.6l1.2 -1.4" fill="none" stroke="#1c9a1c" stroke-width="2.6" stroke-linecap="round"/><path d="M96 65h0M161 63h0M14 98h0M13 105h0M16 127h0M152 145h0M98 158h0M82 162h0" fill="none" stroke="#2fe22f" stroke-width="3.6" stroke-linecap="round"/><path d="M32 161h0M134 140h0M80 135h0" fill="none" stroke="#1c8a1c" stroke-width="3" stroke-linecap="round"/></g>
<g transform="translate(1483.9 256.1)" clip-path="url(#mclip)"><rect x="0" y="0" width="164.4" height="164.4" fill="#000"/><path d="M-8 51L0 49L47 29L108 24.5L140 27L172 34L172 136L150 129L129 126.5L88 131L47 141L0 168L-8 172Z" fill="#0a380a" filter="url(#b3)"/><path d="M-8 172L0 168L47 141L88 131L129 126.5L150 129L172 136L172 180L-8 180Z" fill="#062106" filter="url(#b3)"/><path d="M-8 80L30 90L38 125L25 160L-8 172Z" fill="#104a10" filter="url(#b6)" opacity="0.7"/><path d="M-4 88.5C-3.3 88.2 -5.2 88.9 0 86.7C5.2 84.5 19.2 78.5 27 75.5C34.8 72.5 40.2 70.3 47 68.4C53.8 66.5 61.2 65.2 68 64.3C74.8 63.4 81.2 62.9 88 62.9C94.8 62.9 101.8 63.4 108.6 64.3C115.4 65.2 122.3 66.7 129 68.4C135.7 70.1 143 72.6 149 74.5C155 76.4 161.5 78.4 165 79.6C168.5 80.8 169.2 81.2 170 81.5" fill="none" stroke="#18cf18" stroke-width="16" filter="url(#b1)" stroke-linecap="butt"/><path d="M-4 89C-3.3 88.7 -5.2 89.4 0 87.2C5.2 85 19.2 79 27 76C34.8 73 40.2 70.8 47 68.9C53.8 67 61.2 65.7 68 64.8C74.8 63.9 81.2 63.4 88 63.4C94.8 63.4 101.8 63.9 108.6 64.8C115.4 65.7 122.3 67.2 129 68.9C135.7 70.6 143 73.1 149 75C155 76.9 161.5 78.9 165 80.1C168.5 81.3 169.2 81.7 170 82" fill="none" stroke="#2cff2c" stroke-width="7.2" filter="url(#b2)" stroke-linecap="butt" opacity="0.75"/><path d="M158.3 74.5l-0.9 0.9M91.7 60.2l0.9 0.9M36.2 61.4l-0.9 0.9M38.3 73.4l-0.6 -0.2M161.9 73.8l0.4 -1M27.1 69.2l0.7 -0.5M68 68.8l-0.6 1M151.6 69.9l-0.7 -0.5M128.4 70.8l0 1M44.3 66.3l1 0.9M20 82.7l0 1.1M64.2 69.3l0.9 -1M30.5 72.2l-0.9 -0.2M62 68l-0.4 1M91.8 67.9l-0.3 0M162.1 76.5l-1.2 0.9M127.8 61.7l-0.2 -0.7M22.7 74l-0 1M89.5 61.9l0.3 0.8M62.3 64.6l0.5 -0.6M8.6 76.7l0.9 -1.1M20.3 77.7l-0.9 1M151.9 70.3l-0.9 0.1M103.6 64.3l1.1 0.4M15.5 73.7l-0.1 -0.9M22.9 78.5l0.2 0.4M19.5 83l-0.1 0.6M104.7 70.8l-0.2 -1.1M144 66.9l-0.2 -0.4M73.5 59.2l0.9 -0.4M52.9 63.4l0.2 -0.7M158.1 76.3l0.2 -0.7M76.3 64.2l-0.1 0.6M151 83.5l1.1 0.8M29.1 81.3l1.1 -0.5M88.7 55l-0.2 0.8M53.9 73l-0.3 0.8M89 62.6l0.7 -1M149.3 68.3l0.6 -0M114.3 56.2l0.9 0.5M115.3 69.2l-0.7 -0.4M165.3 77.1l0.8 -0.4M96.6 62.4l-1.1 -1M126.1 75.9l0.6 -1.1M40 67l0.9 -1.2M126.8 67.4l1.1 1M122 64.7l0.8 -0.7M20.4 73.9l0.6 0.8M90 58.6l-0 1.2M151.8 75.5l-0.4 -0.7M105.5 56.6l-0.2 -1M31.6 76.6l-0.6 0.9M127 71.4l-0 0.4M106.9 67.8l1 0.4M63 78.1l1.1 0M104.4 59.9l-0.8 0.5M31.8 73.8l1.1 0.8M59.8 73.6l0.7 0.2M62.3 60.1l-0.8 0.5M18 77.8l-0.7 1.1M51.5 63.4l1 -0.3M4.8 86.7l-0.4 0.2M131.9 70.4l-1 0.3M122 64.3l-1.2 0.1M116.6 65.8l-0.1 1M61.8 55.7l0.2 0.3M55.3 69.3l-0.4 -0.5M73.5 56l1.2 -0.7M74.4 60.8l-1 -1M20.4 75.6l0.4 0.1M96.7 55.9l-0.7 -0.2M10.7 76.8l0.6 0.9M130 71.4l0.2 -0.2M1 86.7l1 -0.1M27.5 69.8l0.1 -1M145.9 66l0.8 -0.1M144.7 74.8l0.9 -0.1M87.9 59.8l0.1 0.7M28.1 72.3l-0.9 -0.5M152.3 71.4l-0.3 0.1M132.8 70.7l0.4 -1.1M45.1 57.1l-0.2 0.5M151.1 66l-0.8 1.1M116.8 60.6l0.1 0.3M92 72.2l-0.8 0.1M105.1 65.8l1.1 1.1M32.3 67.9l0.6 0.1M157.1 76.1l0.2 1M50.4 82.3l0.9 -0.5M142.9 74.3l0.8 -0.8M25.9 73.7l-0.1 -0.6M140.9 69.1l0.7 -0.1M67.1 64.4l0.8 -0.3M139.2 77.1l1 -1.2M103.7 68.8l0.2 -1M60.1 68.6l0.3 -0.5M148.9 80.8l-0.5 0.8M101.9 58l-0 0.8M134.1 65.2l1.1 0.9M161.6 83.2l0.8 -0.4M19.7 78.6l-0.1 -0.4M7 76.5l0.2 0.3M130.2 67.2l1 0.1M165 75.3l0.4 -0.9M117.3 66l0.3 0.6M24.2 70.1l1 -0.9M44.8 71.1l0.1 0.7M50.8 57.2l0.8 0.6M137.4 73l0.8 0.2M129.1 70.4l1.2 -0.8" fill="none" stroke="#30ff30" stroke-width="2.8" stroke-linecap="round"/><path d="M105.2 54.4l-1.1 -0.6M166.3 69.9l1.4 1.3M85.1 54.7l-0.5 -1.1M42.7 64.5l-0.7 -1.3M106.4 52.5l-1.5 1.1M127 58.2l-0.7 -1.1M164.7 71.1l-0.6 -0.3M21.2 67.5l-0.3 -1.1M25.3 66.7l0.5 0.3M28.4 67.1l1.3 1.4M106.6 56.6l-0.7 0.2M126 58.1l0.6 -1M60.8 55.7l-1.2 1.4M23.8 69.2l-0.5 -1.3M118.8 57.2l-0.6 0.8M154.9 66.6l-0.3 1.5M134.2 60.9l0.6 0.1M93.3 53.2l-0.2 -0.9M104 56.9l-0.5 -0.5M41.7 61.4l0.3 0.8M140.7 62.1l1.1 -1.2M100.7 54.2l-1.4 0.2M78.6 53.6l-0.3 1.4M141.9 64.5l0.4 -0.7M148.2 67.1l-0.4 1.1M0 77.2l0.3 -1M141.3 65.8l0.2 -0.6M65.5 56.3l-0.6 -0.3M77.2 53.4l0.8 1.4M137.1 63.5l0.4 0.9M153 65.7l-0.9 0.4M61.2 60.9l0.1 -0M90.3 53.7l0.7 -1M88.8 53.8l0.3 -0.1M47.8 59.5l-1.5 -0.9M98.8 55.1l-0.9 0.8M9.4 73.6l0.1 -0.8M119.8 56.1l0.2 0.1M52.2 60l-0.5 0M111.9 54l-0.7 0.8M40.6 63l0.5 -0.6M47.6 58.6l-0.5 -0.8M50.8 58l-0.8 0.2M140.5 64.2l1.5 0.5M35.9 62.9l0.5 -0M23.5 68.2l1.2 0.9M74.6 54.2l-0.5 -1.2M139 63.3l1.4 -1.2M0.8 78l-0.6 -1.2M0.3 77.9l1.2 1.2M54.7 58l-0.1 -0.3M55.1 60l-1.2 0.7M17 68l1.1 -0.3M85.6 54.3l0.4 -0.9M25.4 67.5l-0.2 0.7M41.7 61l0.1 -1.1M123.5 58.2l-0.1 0.4M66.9 54.3l-0.1 -1.3M10.7 72.2l-1.4 -0.2M24.2 67.8l0.3 -1.3M120.3 57.9l-0.8 1.3M51.3 59.7l0.7 -0.1M91.5 52.4l1.2 1.2M66.9 55.4l1.4 -1.1M69.8 55.3l-0.6 1.1M150.1 66.1l0.4 0.9M48.4 59.5l0.1 -1.3M139.6 60.8l0.3 -0M117 57.9l0.6 0.6M113.7 55.8l0.1 1.3" fill="none" stroke="#1fd81f" stroke-width="2.8" stroke-linecap="round"/><path d="M25.4 87.9h0M69 64.2h0M96.9 63.7h0M105.3 70.7h0M8.5 92.4h0M3.1 89.9h0M72.2 63.3h0M47.9 64.7h0M128.7 66.4h0M89.4 64.4h0M48.8 67.1h0M30.1 84.1h0M132.4 68.2h0M105.2 75.8h0M27.1 78.1h0M35 70.3h0M142.2 73.8h0M152.7 75.2h0M78.2 62.9h0M150.3 74.8h0M16 81.4h0M38.7 66.6h0M155.3 81h0M21.4 70.7h0M90.9 67h0M151.6 80h0M95.8 65.9h0M85.8 59.6h0M63.4 60.4h0M49.6 62.5h0M79.3 63.7h0M47.3 64.6h0M116.7 68.5h0M111.5 63.1h0M33.5 75.2h0M24.5 76.7h0M165.6 82.7h0M72.3 63.4h0M132.6 72.4h0M18.6 69.1h0" fill="none" stroke="#0f7a0f" stroke-width="1.6" stroke-linecap="round" opacity="0.7"/><path d="M141 32h0M28 42h0M138 54h0M81 130h0M105 129.5h0M47 134h0M29 135h0M114 152h0M64 154h0M89 157h0" fill="none" stroke="#2fe22f" stroke-width="3.6" stroke-linecap="round"/><path d="M13 8h0M7 12h0M16 15h0" fill="none" stroke="#1c9a1c" stroke-width="3.2" stroke-linecap="round"/></g>
<g transform="translate(1656.1 256.1)" clip-path="url(#mclip)"><rect x="0" y="0" width="164.4" height="164.4" fill="#000"/><path d="M-8 63L0 61L59 41L120 33L150 31L172 30L172 138L150 132L120 128.5L79 131L38 141L0 168L-8 172Z" fill="#093409" filter="url(#b3)"/><path d="M-8 172L0 168L38 141L79 131L120 128.5L150 132L172 138L172 180L-8 180Z" fill="#062106" filter="url(#b3)"/><path d="M-8 80L30 90L38 125L25 160L-8 172Z" fill="#104a10" filter="url(#b6)" opacity="0.7"/><path d="M-4 100C-3.3 99.7 -3.7 99.7 0 98C3.7 96.3 11.6 92.9 18 89.8C24.4 86.7 31.6 82.3 38.4 79.6C45.2 76.9 52 75.1 58.8 73.5C65.6 71.9 72.2 70.6 79 69.8C85.8 69 92.8 68.5 99.6 68.4C106.4 68.3 113.2 68.6 120 69C126.8 69.4 133 70.2 140.4 71C147.8 71.8 159.6 73 164.5 73.5C169.4 74 169.1 73.9 170 74" fill="none" stroke="#18cf18" stroke-width="14" filter="url(#b1)" stroke-linecap="butt"/><path d="M-4 100.5C-3.3 100.2 -3.7 100.2 0 98.5C3.7 96.8 11.6 93.4 18 90.3C24.4 87.2 31.6 82.8 38.4 80.1C45.2 77.4 52 75.6 58.8 74C65.6 72.4 72.2 71.1 79 70.3C85.8 69.5 92.8 69 99.6 68.9C106.4 68.8 113.2 69.1 120 69.5C126.8 69.9 133 70.8 140.4 71.5C147.8 72.2 159.6 73.5 164.5 74C169.4 74.5 169.1 74.4 170 74.5" fill="none" stroke="#2cff2c" stroke-width="6.3" filter="url(#b2)" stroke-linecap="butt" opacity="0.75"/><path d="M61.2 68.9l0.9 -0.3M42.9 74.4l-0.7 -0.4M62 66.2l-1.1 -0.2M118.1 75.3l0.4 1.1M58.1 68.9l-1 -0.5M104.4 66.5l1 0.9M135.6 67l-0.2 0.8M110.1 70.3l0.5 -0.9M3.8 94l-1 -0.5M81.3 71.3l1 0.5M66.7 71.5l-0.5 -0.4M108.9 70.4l0.5 -0.8M92.7 76.2l-0.9 -0.2M7 97.7l0.9 0.3M50.2 77.2l-0.6 0.6M19.9 92.9l-1.2 0.7M12.4 96.2l1 -1.2M8.5 94.7l-0.6 -0.3M96.6 63.1l-1.1 0.9M91.3 63.8l0.9 1.1M23.7 91.1l-0.9 1M2.4 94.9l-0.1 -1M114.4 71.4l-1.2 -0.5M74.7 70.9l0.6 0.5M135.2 63.7l-0.2 0.7M46.8 71.4l0.4 0M143.6 64.8l0.4 0.3M41.2 83.2l0.6 1.2M51.1 81.3l-0.1 0.3M113.2 72.2l-1 0M108.2 64.5l0.8 0.5M126.7 72.3l-0.1 -1.1M106.1 71l-1.2 0.9M143.7 71.6l1.2 -0.4M115.6 71.9l-0.2 1M16.3 89l0.4 0.5M84.6 63.8l0.6 0.4M154.4 73.4l-0.3 1M126.3 65.5l1 -0.8M111.8 72.7l-0.6 -0.6M52 67.3l0.9 0M25.6 83.9l-0.4 1M54.4 69.8l-0.2 0.8M73.5 74.3l-0.5 0.3M-1 96.9l-0.1 -0.1M97 79l0 0.6M55.5 74.4l0.8 0.3M1.7 97.3l0.2 1.1M98.3 62l1.2 0.5M53.1 75.1l1.1 0.3M150.3 70.4l-0.9 0.3M31.1 80.1l-0.6 -0.1M66.1 72.3l-0.5 0.1M15.3 87.8l0.1 -1.1M35 73.2l0 0.5M38.2 82.4l0.6 -1.1M107.2 62.5l-0.5 1.2M78.2 71.9l1 -0.5M34.1 77.9l0.4 0.4M72.5 71.8l0.6 0.1M13.2 85.7l1 -0.4M164.7 69.3l-1 1.1M10.2 86.9l-0.9 -0.9M117.2 67.6l0 -0.7M-1 102.4l0.7 0.1M92.2 68.7l0.7 -0M86.3 67.5l-0.9 -0.8M33.1 79.9l0.8 -0.3M59.4 67.6l0.7 0.8M141 80.7l-1.2 -1M126.8 63.6l-0.1 0.3M131.9 63.3l-0.9 0.4M46.2 71.2l0.6 0.9M165.7 77.9l0.3 -1M115.7 74.4l0.2 0.2M110.1 66.1l0.1 -0.1M11.4 96.9l0.3 -0.3M67.4 69.6l-0.9 0.7M38.5 77.3l1.2 0.5M115.7 68.9l0.5 -1.1M114.1 73.5l-0.6 -0.3M139.6 69.8l-0.2 0.5M138.4 69.1l-0.8 0.8M113.1 66.1l1 -0.9M37.7 77.6l0.4 1M92.7 71.5l0.7 0.2M128.8 72.4l-0.1 -0.2M152.3 76.6l0.7 -0.5M54.4 76.1l0.7 -0.9M25.9 90.3l-1.1 -0.3M25.8 89l-0.3 0.4M136.2 69.5l-0.4 0.5M86.7 73.6l-0.2 0.7M50.1 75.1l-0.8 -0.5M23.9 89.8l0.7 1M42.2 81.8l0 -0.1M29.4 83.1l-0.4 -0.5M33.3 77.2l-1.1 0.7M10.7 90.9l-0.1 -1M56.1 78l-1 0M126.3 68.3l-0.1 0.5M-1.8 97.9l0 1.1M50.7 77.7l-0.7 0.5M54.2 66.8l-0.6 0.1M160.2 66.2l-1.1 -1.1M116.5 66.8l0.6 -0.7M144.1 69.9l-0.5 1M24.6 83.1l0.6 0.1M57.2 64.5l-0.9 -0.5M68.7 80.4l0.6 0.4" fill="none" stroke="#30ff30" stroke-width="2.8" stroke-linecap="round"/><path d="M75.6 63.1l-0.6 0.2M164.6 64.7l-0.6 -1.2M20.7 81.4l0.8 -1.1M94.1 60.6l-1.5 -1.3M149.4 64.2l-1.2 1.4M131.9 59.7l-1.1 0.4M120.8 63.3l0.7 -1M131.5 62.1l-0.5 0.1M2.5 91.6l0.3 0.1M67.2 63.2l0.2 -1.1M12.4 83.6l0.8 0.5M32.6 75.1l-0.4 0.8M116.1 59.9l1.3 -1.2M161.1 64.4l-0.7 -0.9M32.3 76.3l0 0.1M41.9 69.7l1.4 -0.3M163.3 65.5l-0.7 -0.3M7.9 86.6l0.3 -1.2M96 61.3l0.7 0.1M7.4 86.9l0.4 -0.7M118.9 59.7l0.8 -1.3M6.7 85.7l1.1 0M88.4 60.7l0.7 1M152.3 65l-0.8 0.4M147.8 62.8l1.3 1.1M133 60.7l0.9 0.2M90.9 61.7l-0.5 0.3M147.9 64l-1.4 0.4M67.8 63.8l-0.4 -1.1M148.8 65.6l1 -0.6M106.8 60.7l0.8 0.8M55.8 64.9l0 0.4M130.9 61.8l-0.1 1.2M26.8 77.4l0.5 0.3M16.1 82.3l0.8 -1.5M94.2 61.4l-0.1 -0.4M17 82.8l0.2 0.1M134.2 60.3l-0.2 -1.1M44.6 69.6l-0.3 -1.2M62.5 64.1l-0.1 -0.7M22.3 80.3l0.3 1M31.4 74.2l-0.1 -1.3M45.1 70.2l0.9 -0.6M141.3 64.8l0.7 -0.9M166.2 65.3l-0.4 -1.5M133.7 62.6l-1.4 -1.1M133.8 64.1l-0.4 -1.1M99.8 61.8l-0.1 0.5M93.2 63.1l0.5 -0.4M86 63.2l-0.9 0M84.4 61.9l1.4 0.1M97.7 61.8l0.9 -1.3M39.5 70.5l0.5 0.3M162.1 63.8l-0.6 0.7M120.2 59.3l1.5 0.4M59.9 65.7l-1 0.1M158.4 64.5l0.8 1.4M151.3 65.1l1 -0.7M108.5 61.6l0.1 -0.1M48.1 69.9l-0.5 1.4M2.1 92l-1.3 -0.6M99.1 61.3l1.1 0.8M20.7 78.4l-1 1M26.5 78.1l0.2 1.4M43.2 69.2l-1.3 0.7M165.3 65.9l1.1 -0M60.6 65l-1.5 -0.5M35.6 72.9l-1.3 1.1M146.7 64l-0.3 -0.7M124.8 61.9l1.3 -0.8" fill="none" stroke="#1fd81f" stroke-width="2.8" stroke-linecap="round"/><path d="M160.1 71.5h0M82.2 72.7h0M83 64.9h0M136.3 74.9h0M-1.2 94.5h0M137 73.4h0M9.6 97.3h0M13.5 91.2h0M62.3 76.3h0M2.7 98.3h0M52.8 70.4h0M149.5 75.6h0M92.6 70.1h0M26.6 82.8h0M137 72h0M127.9 65.5h0M7.3 96.6h0M73.3 68.1h0M12.8 97.5h0M9.9 87.3h0M100.5 69.3h0M91.5 73.5h0M159.2 71h0M71.8 71.7h0M92.9 78.4h0M128.1 70.2h0M96.8 67.8h0M60.8 77.3h0M155.2 74.3h0M142.2 78.6h0M38.8 87.6h0M108 66.2h0M149.5 69.7h0M61 73.5h0M57.3 78.9h0M108.9 66.9h0M17.7 84.1h0M11.1 98.7h0M9.9 91.5h0M86.6 72.1h0" fill="none" stroke="#0f7a0f" stroke-width="1.6" stroke-linecap="round" opacity="0.7"/><path d="M22 51h0M40 51h0M109 43h0M153 32h0M88 90h0M97 123h0M55 132h0M61 134h0M101 132h0M110 132h0M126 129h0M72 142h0M15 147h0M55 154h0M73 156h0M18 60h0" fill="none" stroke="#2fe22f" stroke-width="3.4" stroke-linecap="round"/></g>
<g transform="translate(1128.6 426.1)" clip-path="url(#mclip)"><rect x="0" y="0" width="164.4" height="164.4" fill="#0a0a0a"/><path d="M-8 -8L110 -8L90 14L40 40L-8 64Z" fill="#202020" filter="url(#b3)"/><path d="M-8 64L40 40L90 22L172 20L172 40L100 45L40 65L-8 90Z" fill="#151515" filter="url(#b3)"/><path d="M-4 115C-3.3 114.5 -4.3 114.8 0 112C4.3 109.2 14.9 102 22 98C29.1 94 35.6 91 42.4 87.8C49.2 84.6 56.2 81.2 63 78.6C69.8 76 76.2 73.8 83 72.4C89.8 71 96.9 70.4 103.7 70.4C110.5 70.4 117.2 71.4 124 72.4C130.8 73.4 137.8 75 144.5 76.5C151.2 78 160.2 80.5 164.5 81.6C168.8 82.7 169.1 82.8 170 83" fill="none" stroke="#303030" stroke-width="13" filter="url(#b2)" stroke-linecap="butt"/><path d="M156.9 80.5l-0.8 0.2M79 68.3l0.3 -0.4M77.7 67.4l-0.7 -0.5M132.3 73l0.4 -0.4M54.6 85.1l-0.3 0.7M73.1 77.1l0.2 0.4M164.7 82.1l0.5 -0.3M92.5 72.5l0.7 -0.4M11.9 102l-0.4 0.6M120.4 70.6l-0.1 0.4M67.2 76.8l-0.4 0.2M53.2 88.3l0.6 0.6M61.7 79.7l0.5 -0.6M134.7 72.9l0.7 0.1M73 77.4l0 -0.5M31.9 91.5l-0.7 0.6M28.4 95.2l-0.8 0.4M90.4 73.9l0 -0.3M133.4 76.7l0.6 -0.5M152.6 81.7l0.2 0.2M89.3 76.8l-0.4 0.1M-1 109.7l0.2 -0.4M50.2 86.5l0.1 0.1M139.4 72.9l-0.1 0M92.3 73.9l-0.2 0.2M19.4 100.3l-0.6 -0.6M74.1 76.8l0.4 0.6M-0.4 108.4l0.6 0.1M136.3 82.3l0.2 -0.3M107.4 71.1l-0.4 0.2M65.3 76.2l-0.5 -0.4M63.9 80.6l-0.4 0.3M84.3 74.9l0.1 -0.7M137.2 74.8l-0.8 0.2M147 72.2l0.1 -0.7M103.3 64.9l0.6 -0M144.7 79.2l0.5 -0.4M122.5 74.6l-0.6 -0.4M153.8 80.3l-0.4 0.8M78.7 78.4l-0.3 0.3M42.9 83.4l0.8 -0.1M13.2 103.6l-0.5 -0.2M116.3 67.1l-0.2 -0.6M37.5 87.8l-0.7 -0.8M2.2 99.9l0.5 -0M96.4 68.4l-0 0.3M36.6 90.2l-0.3 -0.4M17.7 99.9l-0.5 0.1M14.8 105.8l0.4 -0.7M96.5 78.4l-0 -0.4M111.9 70.1l0.4 -0.8M105.8 71.5l-0.4 -0.6M51.9 83.9l-0.4 0.5M149.3 78.9l-0 0.3M122.6 70.6l0.1 0.8M162.9 83l-0.2 0.5M160.1 77.1l0.8 -0.5M136.7 73.9l0.6 -0.3M94 66.1l0.6 0.2M153.3 86.5l0.8 0.2M42.2 94.7l-0.1 -0.6M164.4 80.6l0.6 -0.2M159 78l-0.1 -0M29.6 100.1l-0.5 0.7M28.2 94.8l-0.1 0.2M53.3 85.9l-0.1 0.7M140.1 75.2l-0.7 -0.1M136.4 74.4l-0.3 -0.7M25.6 96.8l-0.5 -0.4M159.2 77.7l0.7 -0.5M105.8 68.5l0.4 0.7M141.3 74l-0.6 -0.6M11 107.1l0.8 -0.6M66.8 73.4l0.3 -0.5M65.9 81.7l0 0.2M78.2 74.5l-0.1 -0.5M60.6 81.1l0.5 -0.7M74.1 79.6l-0.7 0.1M34.2 92.2l-0.8 -0.7M2 112.9l0.5 -0.1M118.6 74l0.1 0.6M61.4 84.1l-0.4 0.3M15.4 103.4l-0.7 -0.4M52.7 88.7l0.6 -0.5M92.6 78.9l-0.1 -0.6M74.9 79.3l0.5 -0.5M133.1 75.7l-0.3 -0.2M37.1 98.6l0.4 -0.6M113.4 75.3l-0.4 0.2M16.4 98.6l-0.1 0.1" fill="none" stroke="#555" stroke-width="2.2" stroke-linecap="round"/><path d="M144.3 77.6l-0.5 -0.5M102.5 65.3l0.3 -0.3M7.2 106.5l0.5 -0M37.3 93.3l-0.4 -0.2M133.2 76.1l0.2 -0.3M27.4 97.2l-0.3 0.5M27.1 96.1l-0.5 -0.2M5.7 107.7l0.5 -0M127.7 72.2l-0.1 0.4M25.7 98.9l-0.2 0M100 73.6l0.2 0.4M105.2 72.9l-0.5 -0.2M-1.8 111.6l0.2 -0.1M4.4 109.9l0.5 -0.4M131.6 76.1l0.5 -0.4M159 80.5l-0 0.5M5.9 103.2l0.1 -0.5M93.6 73.4l0.1 0.1M161.3 74.2l-0.3 -0.1M41.9 91.2l0 0.1M63.2 82.2l0 0.2M99.3 70.7l-0 -0M140.7 81.3l-0.1 -0.1M1.9 105.3l0.3 -0M59.2 83.4l0 -0.3M36.6 89.4l0.4 -0.5M39.6 91.7l-0.3 0.1M62.5 75l0.2 0.1M29.9 93.7l0 0.6M80.9 75.7l0 0.1M7.4 102.7l-0.5 0.1M124.2 71.4l0.6 0.2M90 71.9l-0.3 -0.3M138 73.1l-0.5 0.3M33.9 89.4l0.1 -0.5M15.7 105.9l0.1 0.1M135.5 76.8l-0.2 0.4M53.5 77.7l-0.4 0.2M28.9 95.5l-0.4 -0.5M104.2 72.8l0.6 0.5M37.9 84.5l-0.3 -0.3M146.9 74.7l-0.6 -0.5M123.8 69.7l-0.2 0.3M158 84.9l0.4 0.4M108 74.6l-0.2 0.6M77.8 76.2l0.2 0.3M0.6 109.9l0.2 0.2M77.5 80.7l-0.1 -0.3M153.2 81.1l-0.2 -0.1M88.3 68.7l0.1 -0.2M28.7 93.5l0.3 -0.4M88.4 70.3l0.3 0.5M78.8 71.9l-0.2 -0.5M153.4 73.6l-0.5 -0.3M148.4 78.5l-0.2 0.5M72.8 73.9l0.5 0.4M116.5 71.5l-0.3 -0.4M97.1 71.1l0.3 -0.4M16.2 103.8l0.1 0.2M36.6 91l0.6 0.4" fill="none" stroke="#808080" stroke-width="1.8" stroke-linecap="round"/><path d="M35.3 86.5h0M100 74h0M65.4 75.1h0M56.1 84.4h0M147.3 72.6h0M91.4 75.1h0M71.9 70.7h0M77.9 70.7h0M109.6 69.8h0M36.7 95.8h0M45.9 91.2h0M105.8 68.4h0M48.5 82.5h0M34.8 90.3h0M106.3 71.2h0M109.5 71.6h0M58.1 78.1h0M145.9 81h0M108.3 75h0M89.9 75.9h0" fill="none" stroke="#e0e0e0" stroke-width="2.2" stroke-linecap="round"/><path d="M132 26h0M30 11h0M10 14h0" fill="none" stroke="#eee" stroke-width="3.2" stroke-linecap="round"/><path d="M153 45h0M148 60h0M88 140h0M70 143h0" fill="none" stroke="#444" stroke-width="3" stroke-linecap="round"/></g>
<g transform="translate(1300.2 426.1)" clip-path="url(#mclip)"><rect x="0" y="0" width="164.4" height="164.4" fill="#030303"/><path d="M-8 82L0 80L40 72L80 62L120 53L150 47L172 43L172 180L-8 180Z" fill="#161616" filter="url(#b3)"/><path d="M-4 121C-3.3 120.7 -4.7 120.9 0 119.2C4.7 117.5 16.7 113.5 24 111C31.3 108.5 37.2 106.3 44 104C50.8 101.7 58.2 99.1 65 97C71.8 94.9 78.2 93.2 85 91.5C91.8 89.8 98.7 88.3 105.5 87C112.3 85.7 119.2 84.8 126 83.5C132.8 82.2 139.6 80.3 146 79C152.4 77.7 160.7 76.3 164.7 75.5C168.7 74.7 169.1 74.2 170 74" fill="none" stroke="#d0d0d0" stroke-width="15.5" filter="url(#b1)" stroke-linecap="butt"/><path d="M-4 121C-3.3 120.7 -4.7 120.9 0 119.2C4.7 117.5 16.7 113.5 24 111C31.3 108.5 37.2 106.3 44 104C50.8 101.7 58.2 99.1 65 97C71.8 94.9 78.2 93.2 85 91.5C91.8 89.8 98.7 88.3 105.5 87C112.3 85.7 119.2 84.8 126 83.5C132.8 82.2 139.6 80.3 146 79C152.4 77.7 160.7 76.3 164.7 75.5C168.7 74.7 169.1 74.2 170 74" fill="none" stroke="#fff" stroke-width="8.5" filter="url(#b2)" stroke-linecap="butt" opacity="0.85"/><path d="M154.6 69.7l-0.8 0.1M11.9 107.3l-1 -0.6M48.8 92.4l0.2 1.1M56.4 91.6l1.1 0.6M122.5 77l-1.1 0.7M75.4 84.8l-0.7 -0.3M132.9 72l-1.2 -0.8M40.6 95.4l-0.5 -0.3M92 81.1l-0.6 0M97.1 79.6l-0.4 -0.5M99.5 77.9l-0.3 1.3M154.2 68l0.4 0.7M157.5 70.5l-0.2 -0.5M24.9 101.1l0.3 0.7M119 75.8l-1.4 -1.1M73.9 84.4l0.6 0.2M61.8 88.5l-0.9 1.2M32 100.5l-0.1 0.9M134.4 70l0.7 -0.5M84.4 81.3l-0.7 0.1M160.1 68.3l0.9 0.6M87.2 82.3l-0.9 -0.6M103.9 79.9l-0.1 1.1M126.4 74.1l1.1 0.1M40.4 95.8l0.8 0.3M98.6 81l0.6 -1M42.5 96.1l-1 -0M26.3 101.8l-0.7 0.1M144.5 71.4l-1.3 -1M74.3 84.9l0.1 -0.4M65.9 87.3l0.8 0.7M4.9 108.6l-0.2 0.5M91.8 83.8l-0.7 -1.3M101.5 78.7l-1 0.7M18.1 103.1l1.1 1.3M164.2 67.7l-0.6 -0.4M102.4 78.7l-1.3 0.6M123.4 73.9l-0.1 -0M28 104.1l0.9 -0.6M111.3 77l0.7 0.2M66.8 88l-0.6 0.5M38.8 97.1l1.1 -0.6M101.5 79.7l-0.6 0.7M115.1 75.8l-0.7 -0.9M151 69.9l-0.3 -0.5M132.5 71.9l0.4 0.8M145.3 69.6l0.3 -0.2M55.3 91.9l0.4 -0.1M60.1 90.2l-0.7 -1.1M102.9 78.9l1.1 -0.3M28.4 101.5l1.1 0.1M69.9 88.2l0.2 0.6M126.3 74.7l-0.1 -1.3M6.3 110.4l1 -0.6M56.6 90.9l-0.2 0.4M86.5 83.2l-1.1 1M56.7 90.9l0.3 -1M128.6 75.3l-1 -0.2M61.9 88.6l1.3 -1.2M135.6 70.9l-1.2 0.5M137.3 71.7l0.8 0M54.7 90.4l-1.1 -0.3M158.1 68.7l1.4 -1.2M15.4 105.6l-0.3 0.6M65 90.7l0.3 -0.2M113.1 75.1l1.4 0.6M155.3 68.8l-0.9 -0.4M54.8 93.5l-0.3 -0.4M90.8 82.2l-1 -0.2M84.6 82.5l0.9 -0.1M11.3 107.6l0.8 -0.7M82.8 84.3l-0.8 0.9M3 109.7l0.2 1M127.8 74.3l-0.8 -1.2M47.7 92.6l-0.8 -0.1M3.3 111.3l0.8 -1.2M76.1 86.6l0.6 0M121.4 77.5l-0.5 -1.3M33.2 99.4l1.2 0.1M23.8 101.8l-0.5 0.2M26.4 99l0.6 1.1M45.1 96.6l-0.7 1.1M71.9 84l-1 0M32.7 98.8l1.3 -0.7M54.4 93.8l0 1.4M123.5 77.8l0 0.5M82.4 82.5l-0 0.1M58.7 91.9l-1 -0.9M58.2 90.5l-0.7 -0.1M15 105l-0.9 0.7" fill="none" stroke="#dcdcdc" stroke-width="2.8" stroke-linecap="round"/><path d="M28 118.7l0.8 0.5M69.4 104.2l0.7 -0.9M67.4 102.9l-1.5 -0.1M120.9 93.1l1 1.5M140.1 89.6l-0.2 -1.4M106.9 98.3l-1.2 0.6M115.7 92.9l-1.5 -1M1 128.6l0.3 -0.3M142.7 86.9l0.9 0.8M92.1 99.5l-1.3 0.4M96.2 97.2l-0.6 -0.4M32.8 118.2l0.6 1.6M148 84.4l-1.4 1.2M3.7 126.8l1.4 -0.2M4.9 127.2l-1.2 1.3M13.1 123.7l0.9 -0.7M88.9 99.4l0.5 0.9M103.5 96.3l-1.1 0M151.4 86.3l-1.4 -0.4M88.5 98.7l0.7 -1.6M155.8 86.3l0.1 1.1M139.7 91.4l-1.5 1.6M128.9 90.4l1.6 1.1M17.2 121.1l-0.9 -0.8M22 122.4l-0.3 -0.1M122.1 93.6l1.2 0.7M67.7 105.6l1.5 0.6M113.3 93l0.3 1.3M6.4 126.3l1.5 1.4M59.8 106.8l-1.2 0.4M62.6 104.5l-0.3 0.6M43.1 113.1l-0.4 1.2M96.7 96.5l-1.3 1.1M134.9 90.1l1.1 -0.9M19.4 120.1l-0.7 0.9M128 91l-0.6 0.7M42.1 112.4l-0.5 -1.5M99.6 95.7l1.6 -1.1M89.8 97l-0.7 1.6M133.5 90.9l-1.2 0.2M4.4 127.4l-1.6 -0.1M126.1 92.5l-0.8 -0.9M122.2 92.3l0.3 1M86.7 98.5l-1.3 -0M92.9 99.6l1.5 -1M2.7 127.7l1.1 -0.8M85.6 98.5l1.3 -1.5M140.6 89.1l-0.7 0.5M118.1 92.2l1.5 -1.4M112.2 93.5l0.1 -0.1M107.4 95l-1.1 -0.5M25.8 120.1l-1.6 -1.2M155.8 84.1l0.8 -0.4M146.8 87.8l1.6 1.1M70.5 103.6l1.4 0.7M77.4 102.2l-0.4 -1M59.6 105.5l-0.1 -1.1M88.9 98.4l-0.5 0.8M42.8 114.2l1.4 -1.4M32.5 115l-0.4 0.7" fill="none" stroke="#bbb" stroke-width="2.2" stroke-linecap="round"/><path d="M144.3 87.6h0M95.3 98.6h0M90.3 96.9h0M51.1 108.8h0M150.5 87.6h0M124.4 93h0M19.9 120.3h0M56.4 108.3h0M56.2 107.9h0M105.4 95.9h0M102.9 96.3h0M76.2 109h0M3.5 129h0M94.1 98h0M127.6 93.6h0M152.6 84h0M155.1 88.8h0M52.2 109.9h0M55.6 107.2h0M104.4 93.7h0M9.7 124.5h0M124.9 94.7h0M98.1 96.5h0M111.8 90.2h0M125.6 91.9h0M144.6 91.5h0M114.1 93.4h0M63.1 111.1h0M96.1 96.6h0M139.4 91.1h0M98.5 100.6h0M10.5 122.2h0M150.1 88.6h0M132.8 90.5h0M112 94.1h0M147.2 86.8h0M60.1 107.1h0M30.3 117.9h0M157.8 84.5h0M31.7 121.9h0M120 90.7h0M-0.9 129.7h0M100.4 95.5h0M106.7 96h0M24 119.9h0M107.2 96.5h0M17.1 126.8h0M35.2 112.7h0M151.3 90h0M125.3 92.8h0" fill="none" stroke="#555" stroke-width="2" stroke-linecap="round"/><path d="M132.2 80.2h0M136 79.5h0M127.1 81h0M50.9 104.9h0M118.5 90.7h0M81.2 96.3h0M72.3 91.3h0M58.1 100.8h0M77.9 95.9h0M90.6 92.3h0M74 98.9h0M75.5 95.3h0M53.3 105h0M146.6 80.4h0M34.2 109.9h0M71.5 96h0M95.5 82.8h0M109.8 88.8h0M146.5 87.1h0M34.7 106.5h0M29.5 107.5h0M141.3 70.6h0M126.4 83.6h0M97.8 93.3h0M111.9 81.1h0M32.2 104.6h0M77.5 91.8h0M28.8 109.7h0M106.9 82.5h0M155.3 78.4h0M146.8 73.7h0M131.5 80.4h0M162.7 72.4h0M12.9 111.9h0M124.8 86.9h0M30.6 109.7h0M143.2 76h0M-0.1 115.5h0M38.2 108h0M62.3 97h0M45.2 104.9h0M124.7 85.3h0M76.4 92.4h0M74.2 101.5h0M107 87.1h0M50.1 102.4h0M5.2 120.2h0M17.6 110.1h0M127.4 82.7h0M102.2 94.8h0" fill="none" stroke="#8a8a8a" stroke-width="1.6" stroke-linecap="round" opacity="0.8"/><path d="M133.5 18.5l-0.5 1.2M2.4 42.1l-0.8 1.3M164.4 0.7l-0.3 -0.3M94.7 15l-1.2 -0.3M32.2 19.5l1.1 1.3M98 7.4l1.4 -0.8M67.6 0.8l0.3 -1.6M85.4 7.5l-1.1 1M149.8 25.5l-1.6 -0.3M158.7 4.9l-0.7 0.9M15.4 0.6l0.1 0.1M90.3 26.8l1 1.5M12.7 19.1l-0 -1.5M0.4 0.1l-0.4 -0.2M5.1 36l-1.2 -0.2M7.3 25.9l1.2 1.1M104.1 12.8l0.2 1.1M67.9 27.6l-0.3 0.1M118.1 1l0.4 -1.6M115.2 9.4l-0.1 -1.4M17.6 12.5l-0.1 1.5M44.8 32l-0.9 -0.3M152.3 4.2l-1.4 -1.1M111.6 5.6l0.1 1.3M76.5 21.1l-0.4 -1.5M13.5 7.2l1.4 1.4M104.4 21.9l0.1 1.3M153.2 3.8l0.4 0.3M49.6 17.6l-0.8 -1.6M163.6 16.4l-0.5 -0.6M8.4 24.6l-0.2 -1.1M58.3 14.6l1.2 -1.3M126.9 5l-0.6 -1.1M0.1 19.8l-1.3 0.6M83.4 23.4l1 0.4M48.6 28.5l-0.1 -1.3M99.1 31.7l0.8 -0.2M104.7 21.7l-0.3 -1.4M68.6 28.8l-1.1 -0.1M87.6 32.2l-0.7 0.1M36 9.7l0.6 1.2M50.9 32.6l-0.4 -0.1M14.9 28.5l1.1 -1.5M40 15.3l-0.9 0.1M7.9 21.8l-0.8 0.1M42.7 27.8l1 -1.3M96.7 1.4l-1.4 1.4M111.3 13.6l-1.1 0.9M0.4 49.7l0.2 0.8M77.6 25.6l1.3 -0.5M70 30.1l0.5 0.9M11.5 33.5l0.5 -0.1M65 1.1l-1.4 -0.5M45.2 2.3l1.5 -0.8M90 18.4l-0.4 -0.8M102.4 2.2l1.3 0.9M95 16.8l-1.2 -0.1M21.6 19.5l1 -0.7M83.8 15.2l0.2 0.1M160 0.3l-0.1 1.4M121.5 26.7l0.5 1M72.9 34.2l0.2 0.9M116.9 26.5l-1 -0.4M143 11.8l0 0M135.6 12.1l-0.4 1.2M60.5 12.9l-1.4 -0.5M95.1 9.1l-0.5 1.5M144.7 11l-0.4 0.9M42.1 9.2l-0.3 -0.2M38.3 28.6l-1.2 -1.5M2 40.3l-0.3 -1.2M43.7 17.5l-0.9 -1.2M127.2 1.2l1.3 1.1M112.4 0.9l0.2 0.1M90.9 15.3l0.2 -0.2M159.6 17.9l-0.8 -0.4M15.5 19.8l-0.8 0.6M53.9 34l-0.6 0.5M65.8 29.1l0.4 -0.5M40.7 35.7l-1.2 -0.4M107.8 10.7l0.5 -1.5M101.2 9.1l-0.8 0.2M44.8 19.8l0.8 0.9M74.5 18.2l-0.7 1.1M139.7 0.5l1.5 -0.8M115.4 6l1.5 -0.7M35.7 24l0.4 0.3M105.9 12.4l1.2 0.8M18.7 23.8l-0.4 0.6M21.2 14.9l1.1 -0.9M40 20.8l1.1 -0.4M54.9 5.5l-0.2 0.1M117.4 4.1l0.2 -1M93.5 16.8l1.1 1.4M47.4 25.4l-0.7 0.2M80.4 33.9l0.4 0.9M95.3 31.2l0.9 0.7M111.6 24.9l1.4 -0.7M154.8 11.6l-0.8 1.2M48.2 6.3l-0 0.4" fill="none" stroke="#e6e6e6" stroke-width="3" stroke-linecap="round"/><path d="M24.1 2.9l-0.4 0.8M33.8 8.8l-0.6 -0.2M80.8 24.8l-0.1 0.8M6.2 37.1l0.4 -0.6M8.2 31l0.8 -0.2M5.6 25.2l0.7 0.1M83.4 15.7l0.3 1.2M44.4 30l0.1 -0.8M2.7 42.2l-0.2 0.9M69.3 23.6l1.3 -0.8M23.3 22.7l0.6 -1.4M143.3 7.4l-0.5 0.1M47 12.6l0.1 -0.2M124.2 11l-1.1 1.1M29.1 22.5l-0.7 0.7M2.1 21.8l-0.2 -1M101.3 5.7l0.9 -0.1M70.2 8.4l0.8 -1.4M34.4 13l-1.3 0.6M84 28.9l-1.3 -0.5M98.5 0.3l-0.3 -0.4M44 20.8l0.6 0.7M49.3 27l-1 -1.3M48 4.3l-0.2 1.2M10.6 37.1l0.6 -0.1M113.6 22.6l-0.6 -0.1M47.4 4.4l-0.5 -0.1M90.9 29.1l0.9 0M9.4 30.3l0.7 1.3M113.4 23.5l-0.3 0.4M59 39.4l-0.8 0.5M72 22.7l-1.3 0.9M48.4 32.1l0.2 0.6M3.9 12.4l-0.4 1.4M25.7 23.1l-1.1 -0.1M142.5 6.7l-1.2 -0.8M59.3 19.5l-1.3 1.2M39.7 24.3l-1.3 1.4M17.4 15.8l1.1 -1.2M92.4 6.5l-0.7 1.2M136.5 11.2l0.3 -0.6M84.3 8.4l-0.6 -1.3M159.1 13.1l0.8 0M50 28.6l0.9 0.1M67.5 30.5l0.5 0.2M102.1 18.9l-1.2 -1.4M47.2 28.6l-1.1 -1.4M101.1 12.6l0.5 -0.1M78.8 12.9l-0.2 -0.2M126.2 20.6l0.4 0.1M15.5 39.5l0.2 0.9M0.8 6.9l0.9 1.2M67.1 37.7l-0.6 0.3M109.4 23.3l-0.3 -1.3M119.5 17.8l-1.3 0.9M136.6 20.8l-0.7 -0.9M94.5 18l-0.7 0.5M17.2 34.6l-0.4 0.9M71.6 20.3l-0.6 0.6M27.9 39.5l-0.3 -1.3M93.7 28.5l-0.9 1.1M153.6 10l0.1 -0.4M131.4 0.1l-1 -0.2M6.6 12.9l-1.3 0.6M12.3 41.2l1.2 -1" fill="none" stroke="#8c8c8c" stroke-width="2.6" stroke-linecap="round"/><path d="M96 65h0M161 63h0M14 98h0M13 105h0M16 127h0M152 145h0M98 158h0M82 162h0M32 161h0" fill="none" stroke="#f0f0f0" stroke-width="3.4" stroke-linecap="round"/><path d="M134 140h0M80 135h0M46 158h0" fill="none" stroke="#777" stroke-width="3" stroke-linecap="round"/></g>
<g transform="translate(1483.9 426.1)" clip-path="url(#mclip)"><rect x="0" y="0" width="164.4" height="164.4" fill="#040404"/><path d="M-8 -8L100 -8L120 20L40 34L-8 52Z" fill="#111" filter="url(#b3)"/><path d="M-4 88.5C-3.3 88.2 -5.2 88.9 0 86.7C5.2 84.5 19.2 78.5 27 75.5C34.8 72.5 40.2 70.3 47 68.4C53.8 66.5 61.2 65.2 68 64.3C74.8 63.4 81.2 62.9 88 62.9C94.8 62.9 101.8 63.4 108.6 64.3C115.4 65.2 122.3 66.7 129 68.4C135.7 70.1 143 72.6 149 74.5C155 76.4 161.5 78.4 165 79.6C168.5 80.8 169.2 81.2 170 81.5" fill="none" stroke="#1e1e1e" stroke-width="13" filter="url(#b2)" stroke-linecap="butt"/><path d="M51.3 62.7h0M76.9 65.9h0M58.9 69.5h0M2.3 91.5h0M85.6 55.3h0M61.8 65h0M108.8 58.1h0M86.1 62.5h0M157.7 75.6h0M155.9 76.1h0M13.6 84.2h0M108.3 65.3h0M102.7 68h0M116.1 68.4h0M115.3 63h0M9.6 81h0M17.7 82h0M106.6 67.1h0M88.8 61.5h0M29.3 71.8h0M96.9 65.1h0M24.5 73.6h0M152 79.4h0M64.5 68.2h0M71.2 66h0M135.3 68.8h0M152.3 80.9h0M130.4 59.9h0M11.4 81.3h0M46.3 70h0M76.5 57.4h0M158.5 81.6h0M117.5 59.1h0M10.9 81.3h0M5.2 87.8h0M142.6 69.7h0M112.1 61.7h0M123.4 66.3h0M157.1 74.5h0M66.1 64.2h0M47.8 69.8h0M90.4 60.3h0M65.4 71.8h0M110.2 68.1h0M120.5 62.9h0M77 71.5h0M64.9 70h0M107.5 65.9h0M106.5 66.8h0M74.7 66.6h0M2.7 89.8h0M16.3 80.7h0M112.5 66.1h0M52.3 73.6h0M59.6 62.5h0M98.7 68.1h0M145.6 70.5h0M35.2 79.6h0M140.1 74.3h0M37.4 67h0M12.3 79.8h0M161.7 81.9h0M38.7 69.8h0M12.7 78.1h0M164.1 79.5h0M21.3 79.6h0M5.2 84.1h0M122.3 66.7h0M33.4 71.2h0M21.8 84.1h0M130 75.2h0M46.6 67.7h0M26.6 76.4h0M60.3 64.6h0M101.9 65.9h0M81.1 59.2h0M51 66h0M135.1 64.9h0M72.7 64.3h0M24.1 73.2h0" fill="none" stroke="#2e2e2e" stroke-width="2" stroke-linecap="round"/><path d="M99.9 65.6h0M165.8 80.5h0M57.3 74.9h0M54 64h0M147.1 79.6h0M47.3 65.5h0M75.3 61.4h0M152 70.5h0M74.2 63.7h0M142.3 71.3h0M48.8 67.9h0M66.1 64.1h0M78.8 59.3h0M164.5 79.8h0M140.3 71h0M32.5 74.4h0M135.1 69.3h0M122.5 62.9h0M32.7 69.6h0M54.1 67.6h0M77.8 66.9h0M106.9 67.4h0M89.5 64.5h0M106 57.5h0M74.1 61.7h0M154.1 78.5h0M9.1 85.1h0M29.3 77.4h0M108 69.4h0M90.2 61.9h0" fill="none" stroke="#444" stroke-width="1.6" stroke-linecap="round"/><path d="M31 65h0" fill="none" stroke="#fff" stroke-width="3.2" stroke-linecap="round"/><path d="M87 16h0M84 33h0M101 98h0M7 87h0M140 55h0M136 60h0M29 134h0M62 133h0M135 68h0" fill="none" stroke="#555" stroke-width="2.4" stroke-linecap="round"/></g>
<g transform="translate(1656.1 426.1)" clip-path="url(#mclip)"><rect x="0" y="0" width="164.4" height="164.4" fill="#060606"/><path d="M-8 10L60 0L100 20L40 45L-8 60Z" fill="#141414" filter="url(#b3)"/><path d="M-8 100L40 95L100 100L172 110L172 180L-8 180Z" fill="#0d0d0d" filter="url(#b3)"/><path d="M-4 100C-3.3 99.7 -3.7 99.7 0 98C3.7 96.3 11.6 92.9 18 89.8C24.4 86.7 31.6 82.3 38.4 79.6C45.2 76.9 52 75.1 58.8 73.5C65.6 71.9 72.2 70.6 79 69.8C85.8 69 92.8 68.5 99.6 68.4C106.4 68.3 113.2 68.6 120 69C126.8 69.4 133 70.2 140.4 71C147.8 71.8 159.6 73 164.5 73.5C169.4 74 169.1 73.9 170 74" fill="none" stroke="#2c2c2c" stroke-width="13" filter="url(#b2)" stroke-linecap="butt"/><path d="M85 66.3h0M117.8 71.7h0M53.7 75.6h0M2.7 99h0M93.2 67.9h0M95 66.7h0M77.1 71.4h0M127.5 71.2h0M152.9 71h0M70.9 75.8h0M87.1 67.4h0M24 90.6h0M41.2 80.9h0M101.8 72.1h0M94.5 66.9h0M70.6 76h0M154.5 71.3h0M70.9 72.8h0M50 78.8h0M158.3 67.8h0M78.7 70.3h0M12.6 87.2h0M12.3 99.1h0M62 67.8h0M8.5 95.8h0M59.9 79.6h0M121.2 68.3h0M12.4 89.6h0M29.2 84h0M81.1 72.3h0M114.1 66.1h0M150.3 71.8h0M1.9 98.3h0M125.4 66h0M-1.4 107.3h0M78.2 71.6h0M81.6 76.5h0M57.4 76.1h0M155.2 75.2h0M142.1 73.2h0M151.3 73h0M128.7 69h0M139.8 74.9h0M28.3 80.7h0M82.7 70h0M95.1 69.3h0M104.5 69.5h0M139.8 70h0M81.7 69.5h0M79.7 66.9h0M120.3 68.5h0M49.1 77.2h0M113 78.7h0M84.9 74.4h0M89.2 74.1h0M93.5 72h0M65.9 72.4h0M37.4 78.2h0M146 75.4h0M136.1 78.2h0M164.7 75.3h0M33.4 77.7h0M133 71.8h0M123.2 61h0M8.3 97.3h0M92.7 64.2h0M6.5 95.3h0M2.4 98.2h0M73.8 76.1h0M7.8 95.4h0M158 73.3h0M106.8 65h0M24.5 91.1h0M43 77.2h0M14 91.4h0M106.1 71.2h0M58.1 72.8h0M112.1 72.2h0M154.5 72.7h0M152.1 70.3h0" fill="none" stroke="#3c3c3c" stroke-width="2" stroke-linecap="round"/><path d="M12.9 97.5h0M95 69.9h0M21.7 93.6h0M35 79.1h0M126.6 72.2h0M77.2 73.5h0M70.8 76.3h0M66.4 74.7h0M150.4 75h0M141.6 71.8h0M84 74.7h0M21.7 92.8h0M89.2 64.9h0M40.3 78.5h0M37.5 75.6h0M149.5 72.4h0M112.1 74.5h0M109.8 70.6h0M64.8 77.9h0M85.7 67.7h0M39.9 83h0M119.7 73.4h0M144 76.4h0M74.8 70.9h0M6.7 89.2h0M34.3 87.2h0M149 67h0M63.2 69.6h0M144.5 69.2h0M108.2 69.4h0" fill="none" stroke="#555" stroke-width="1.6" stroke-linecap="round"/><path d="M106 71h0M110 44h0M154 33h0M102 133h0M54 50h0M47 82h0M11 94h0" fill="none" stroke="#f4f4f4" stroke-width="3.2" stroke-linecap="round"/><path d="M22 52h0M40 51h0M64 43h0M18 63h0M88 66h0M118 71h0M53 70h0M35 85h0M73 143h0M98 124h0M87 60h0M109 150h0M115 155h0M118 158h0M56 153h0M33 143h0" fill="none" stroke="#8a8a8a" stroke-width="2.8" stroke-linecap="round"/></g>
<text x="1811" y="108.7" font-size="21.4" text-anchor="end" font-weight="bold" fill="#5f80f6" textLength="44.6" lengthAdjust="spacingAndGlyphs" transform="translate(1811 108.7) scale(1 1.04) translate(-1811 -108.7)">DAPI</text>
<rect x="1799" y="239.2" width="14.3" height="3.7" fill="#fff"/>
<text x="1811.4" y="276.6" font-size="21.4" text-anchor="end" font-weight="bold" fill="#6cc946" textLength="48.6" lengthAdjust="spacingAndGlyphs" transform="translate(1811.4 276.6) scale(1 1.04) translate(-1811.4 -276.6)">NeuN</text>
<text x="1811.4" y="447.2" font-size="21.4" text-anchor="end" font-weight="bold" fill="#fff" textLength="38" lengthAdjust="spacingAndGlyphs" transform="translate(1811.4 447.2) scale(1 1.04) translate(-1811.4 -447.2)">FOS</text>
</g>
<g id="pc">
<text x="0.2" y="670.4" font-size="50.3" font-weight="bold" transform="translate(0.2 670.4) scale(1 1.04) translate(-0.2 -670.4)">C</text>
<path d="M134.6 669.7V995.5H751.8" fill="none" stroke="#000" stroke-width="3.8" stroke-linejoin="miter"/>
<line x1="120.8" y1="995.5" x2="134.6" y2="995.5" stroke="#000" stroke-width="3.8"/>
<text x="114.4" y="1003.9" font-size="24.2" text-anchor="end" transform="translate(114.4 1003.9) scale(1 1.04) translate(-114.4 -1003.9)">0</text>
<line x1="120.8" y1="930.7" x2="134.6" y2="930.7" stroke="#000" stroke-width="3.8"/>
<text x="114.4" y="939.1" font-size="24.2" text-anchor="end" transform="translate(114.4 939.1) scale(1 1.04) translate(-114.4 -939.1)">20</text>
<line x1="120.8" y1="865.9" x2="134.6" y2="865.9" stroke="#000" stroke-width="3.8"/>
<text x="114.4" y="874.3" font-size="24.2" text-anchor="end" transform="translate(114.4 874.3) scale(1 1.04) translate(-114.4 -874.3)">40</text>
<line x1="120.8" y1="801.2" x2="134.6" y2="801.2" stroke="#000" stroke-width="3.8"/>
<text x="114.4" y="809.6" font-size="24.2" text-anchor="end" transform="translate(114.4 809.6) scale(1 1.04) translate(-114.4 -809.6)">60</text>
<line x1="120.8" y1="736.4" x2="134.6" y2="736.4" stroke="#000" stroke-width="3.8"/>
<text x="114.4" y="744.8" font-size="24.2" text-anchor="end" transform="translate(114.4 744.8) scale(1 1.04) translate(-114.4 -744.8)">80</text>
<line x1="120.8" y1="671.6" x2="134.6" y2="671.6" stroke="#000" stroke-width="3.8"/>
<text x="114.4" y="680" font-size="24.2" text-anchor="end" transform="translate(114.4 680) scale(1 1.04) translate(-114.4 -680)">100</text>
<line x1="160.9" y1="995.5" x2="160.9" y2="1009.5" stroke="#000" stroke-width="3.8"/>
<text x="160.9" y="1038.2" font-size="24.2" text-anchor="middle" transform="translate(160.9 1038.2) scale(1 1.04) translate(-160.9 -1038.2)">V1</text>
<line x1="201.2" y1="995.5" x2="201.2" y2="1009.5" stroke="#000" stroke-width="3.8"/>
<text x="201.2" y="1038.2" font-size="24.2" text-anchor="middle" transform="translate(201.2 1038.2) scale(1 1.04) translate(-201.2 -1038.2)">V2</text>
<line x1="241.4" y1="995.5" x2="241.4" y2="1009.5" stroke="#000" stroke-width="3.8"/>
<text x="241.4" y="1038.2" font-size="24.2" text-anchor="middle" transform="translate(241.4 1038.2) scale(1 1.04) translate(-241.4 -1038.2)">V3</text>
<line x1="281.7" y1="995.5" x2="281.7" y2="1009.5" stroke="#000" stroke-width="3.8"/>
<text x="281.7" y="1038.2" font-size="24.2" text-anchor="middle" transform="translate(281.7 1038.2) scale(1 1.04) translate(-281.7 -1038.2)">H1</text>
<line x1="322" y1="995.5" x2="322" y2="1009.5" stroke="#000" stroke-width="3.8"/>
<text x="322" y="1038.2" font-size="24.2" text-anchor="middle" transform="translate(322 1038.2) scale(1 1.04) translate(-322 -1038.2)">H2</text>
<line x1="362.2" y1="995.5" x2="362.2" y2="1009.5" stroke="#000" stroke-width="3.8"/>
<text x="362.2" y="1038.2" font-size="24.2" text-anchor="middle" transform="translate(362.2 1038.2) scale(1 1.04) translate(-362.2 -1038.2)">H3</text>
<line x1="402.5" y1="995.5" x2="402.5" y2="1009.5" stroke="#000" stroke-width="3.8"/>
<text x="402.5" y="1038.2" font-size="24.2" text-anchor="middle" transform="translate(402.5 1038.2) scale(1 1.04) translate(-402.5 -1038.2)">H4</text>
<line x1="442.8" y1="995.5" x2="442.8" y2="1009.5" stroke="#000" stroke-width="3.8"/>
<text x="442.8" y="1038.2" font-size="24.2" text-anchor="middle" transform="translate(442.8 1038.2) scale(1 1.04) translate(-442.8 -1038.2)">H5</text>
<line x1="483.1" y1="995.5" x2="483.1" y2="1009.5" stroke="#000" stroke-width="3.8"/>
<text x="483.1" y="1038.2" font-size="24.2" text-anchor="middle" transform="translate(483.1 1038.2) scale(1 1.04) translate(-483.1 -1038.2)">H6</text>
<line x1="523.3" y1="995.5" x2="523.3" y2="1009.5" stroke="#000" stroke-width="3.8"/>
<text x="523.3" y="1038.2" font-size="24.2" text-anchor="middle" transform="translate(523.3 1038.2) scale(1 1.04) translate(-523.3 -1038.2)">H7</text>
<line x1="563.6" y1="995.5" x2="563.6" y2="1009.5" stroke="#000" stroke-width="3.8"/>
<text x="563.6" y="1038.2" font-size="24.2" text-anchor="middle" transform="translate(563.6 1038.2) scale(1 1.04) translate(-563.6 -1038.2)">T1</text>
<line x1="603.9" y1="995.5" x2="603.9" y2="1009.5" stroke="#000" stroke-width="3.8"/>
<text x="603.9" y="1038.2" font-size="24.2" text-anchor="middle" transform="translate(603.9 1038.2) scale(1 1.04) translate(-603.9 -1038.2)">T2</text>
<line x1="644.1" y1="995.5" x2="644.1" y2="1009.5" stroke="#000" stroke-width="3.8"/>
<text x="644.1" y="1038.2" font-size="24.2" text-anchor="middle" transform="translate(644.1 1038.2) scale(1 1.04) translate(-644.1 -1038.2)">T3</text>
<line x1="684.4" y1="995.5" x2="684.4" y2="1009.5" stroke="#000" stroke-width="3.8"/>
<text x="684.4" y="1038.2" font-size="24.2" text-anchor="middle" transform="translate(684.4 1038.2) scale(1 1.04) translate(-684.4 -1038.2)">T4</text>
<line x1="724.7" y1="995.5" x2="724.7" y2="1009.5" stroke="#000" stroke-width="3.8"/>
<text x="724.7" y="1038.2" font-size="24.2" text-anchor="middle" transform="translate(724.7 1038.2) scale(1 1.04) translate(-724.7 -1038.2)">T5</text>
<text x="66" y="832" font-size="24.2" text-anchor="middle" transform="rotate(-90 66 832) translate(66 832) scale(1 1.04) translate(-66 -832)" xml:space="preserve" textLength="137" lengthAdjust="spacing">Latency  (s)</text>
<line x1="144.3" y1="1054.8" x2="251.1" y2="1054.8" stroke="#000" stroke-width="3.9"/>
<text x="198.9" y="1089.5" font-size="29.4" text-anchor="middle" transform="translate(198.9 1089.5) scale(1 1.04) translate(-198.9 -1089.5)">Visible</text>
<line x1="271.5" y1="1054.8" x2="532.5" y2="1054.8" stroke="#000" stroke-width="3.9"/>
<text x="404" y="1089.5" font-size="29.4" text-anchor="middle" transform="translate(404 1089.5) scale(1 1.04) translate(-404 -1089.5)">Hidden</text>
<line x1="550.3" y1="1054.8" x2="740.7" y2="1054.8" stroke="#000" stroke-width="3.9"/>
<text x="648" y="1089.5" font-size="29.4" text-anchor="middle" transform="translate(648 1089.5) scale(1 1.04) translate(-648 -1089.5)">Transfer</text>
<path d="M153.9 845.1H167.9M160.9 845.1V876.8M153.9 876.8H167.9" fill="none" stroke="#000" stroke-width="1.7"/><path d="M194.2 881.6H208.2M201.2 881.6V913.8M194.2 913.8H208.2" fill="none" stroke="#000" stroke-width="1.7"/><path d="M234.4 930.3H248.4M241.4 930.3V951.5M234.4 951.5H248.4" fill="none" stroke="#000" stroke-width="1.7"/><path d="M274.7 788.4H288.7M281.7 788.4V835.6M274.7 835.6H288.7" fill="none" stroke="#000" stroke-width="1.7"/><path d="M315 854.1H329M322 854.1V889.5M315 889.5H329" fill="none" stroke="#000" stroke-width="1.7"/><path d="M355.2 836.2H369.2M362.2 836.2V882M355.2 882H369.2" fill="none" stroke="#000" stroke-width="1.7"/><path d="M395.5 858.9H409.5M402.5 858.9V896.8M395.5 896.8H409.5" fill="none" stroke="#000" stroke-width="1.7"/><path d="M435.8 835.8H449.8M442.8 835.8V874.8M435.8 874.8H449.8" fill="none" stroke="#000" stroke-width="1.7"/><path d="M476.1 912.2H490.1M483.1 912.2V938.2M476.1 938.2H490.1" fill="none" stroke="#000" stroke-width="1.7"/><path d="M516.3 879.9H530.3M523.3 879.9V919M516.3 919H530.3" fill="none" stroke="#000" stroke-width="1.7"/><path d="M556.6 728.9H570.6M563.6 728.9V777M556.6 777H570.6" fill="none" stroke="#000" stroke-width="1.7"/><path d="M596.9 800H610.9M603.9 800V850.2M596.9 850.2H610.9" fill="none" stroke="#000" stroke-width="1.7"/><path d="M637.1 835.1H651.1M644.1 835.1V887.9M637.1 887.9H651.1" fill="none" stroke="#000" stroke-width="1.7"/><path d="M677.4 835H691.4M684.4 835V884.1M677.4 884.1H691.4" fill="none" stroke="#000" stroke-width="1.7"/><path d="M717.7 870.1H731.7M724.7 870.1V921.7M717.7 921.7H731.7" fill="none" stroke="#000" stroke-width="1.7"/><polyline points="160.9,860.5 201.2,897.2 241.4,941 281.7,812.4 322,871.8 362.2,859.4 402.5,877.5 442.8,855.5 483.1,925.4 523.3,899.2 563.6,752.9 603.9,825.5 644.1,861.6 684.4,859.6 724.7,895.9" fill="none" stroke="#000" stroke-width="3.3" stroke-linejoin="round"/><circle cx="160.9" cy="860.5" r="6.5" fill="#000"/><circle cx="201.2" cy="897.2" r="6.5" fill="#000"/><circle cx="241.4" cy="941" r="6.5" fill="#000"/><circle cx="281.7" cy="812.4" r="6.5" fill="#000"/><circle cx="322" cy="871.8" r="6.5" fill="#000"/><circle cx="362.2" cy="859.4" r="6.5" fill="#000"/><circle cx="402.5" cy="877.5" r="6.5" fill="#000"/><circle cx="442.8" cy="855.5" r="6.5" fill="#000"/><circle cx="483.1" cy="925.4" r="6.5" fill="#000"/><circle cx="523.3" cy="899.2" r="6.5" fill="#000"/><circle cx="563.6" cy="752.9" r="6.5" fill="#000"/><circle cx="603.9" cy="825.5" r="6.5" fill="#000"/><circle cx="644.1" cy="861.6" r="6.5" fill="#000"/><circle cx="684.4" cy="859.6" r="6.5" fill="#000"/><circle cx="724.7" cy="895.9" r="6.5" fill="#000"/>
<path d="M153.9 785.7H167.9M160.9 785.7V821.5M153.9 821.5H167.9" fill="none" stroke="#a97f47" stroke-width="1.7"/><path d="M194.2 902.4H208.2M201.2 902.4V930.8M194.2 930.8H208.2" fill="none" stroke="#a97f47" stroke-width="1.7"/><path d="M234.4 950.5H248.4M241.4 950.5V958.5M234.4 958.5H248.4" fill="none" stroke="#a97f47" stroke-width="1.7"/><path d="M274.7 792.5H288.7M281.7 792.5V833.7M274.7 833.7H288.7" fill="none" stroke="#a97f47" stroke-width="1.7"/><path d="M315 832.2H329M322 832.2V881.4M315 881.4H329" fill="none" stroke="#a97f47" stroke-width="1.7"/><path d="M355.2 822H369.2M362.2 822V876.4M355.2 876.4H369.2" fill="none" stroke="#a97f47" stroke-width="1.7"/><path d="M395.5 865H409.5M402.5 865V907.4M395.5 907.4H409.5" fill="none" stroke="#a97f47" stroke-width="1.7"/><path d="M435.8 887.9H449.8M442.8 887.9V915.6M435.8 915.6H449.8" fill="none" stroke="#a97f47" stroke-width="1.7"/><path d="M476.1 872.4H490.1M483.1 872.4V916M476.1 916H490.1" fill="none" stroke="#a97f47" stroke-width="1.7"/><path d="M516.3 902.6H530.3M523.3 902.6V923.5M516.3 923.5H530.3" fill="none" stroke="#a97f47" stroke-width="1.7"/><path d="M556.6 676.3H570.6M563.6 676.3V727.5M556.6 727.5H570.6" fill="none" stroke="#a97f47" stroke-width="1.7"/><path d="M596.9 698.4H610.9M603.9 698.4V737.6M596.9 737.6H610.9" fill="none" stroke="#a97f47" stroke-width="1.7"/><path d="M637.1 800.4H651.1M644.1 800.4V848.7M637.1 848.7H651.1" fill="none" stroke="#a97f47" stroke-width="1.7"/><path d="M677.4 818.2H691.4M684.4 818.2V856.9M677.4 856.9H691.4" fill="none" stroke="#a97f47" stroke-width="1.7"/><path d="M717.7 857.8H731.7M724.7 857.8V890.5M717.7 890.5H731.7" fill="none" stroke="#a97f47" stroke-width="1.7"/><polyline points="160.9,803.4 201.2,916.7 241.4,954.6 281.7,812.9 322,856.6 362.2,849.2 402.5,885.9 442.8,902 483.1,894.1 523.3,912.8 563.6,702.1 603.9,718 644.1,824.6 684.4,837.8 724.7,874.5" fill="none" stroke="#a97f47" stroke-width="3.3" stroke-linejoin="round"/><circle cx="160.9" cy="803.4" r="6.5" fill="#a97f47"/><circle cx="201.2" cy="916.7" r="6.5" fill="#a97f47"/><circle cx="241.4" cy="954.6" r="6.5" fill="#a97f47"/><circle cx="281.7" cy="812.9" r="6.5" fill="#a97f47"/><circle cx="322" cy="856.6" r="6.5" fill="#a97f47"/><circle cx="362.2" cy="849.2" r="6.5" fill="#a97f47"/><circle cx="402.5" cy="885.9" r="6.5" fill="#a97f47"/><circle cx="442.8" cy="902" r="6.5" fill="#a97f47"/><circle cx="483.1" cy="894.1" r="6.5" fill="#a97f47"/><circle cx="523.3" cy="912.8" r="6.5" fill="#a97f47"/><circle cx="563.6" cy="702.1" r="6.5" fill="#a97f47"/><circle cx="603.9" cy="718" r="6.5" fill="#a97f47"/><circle cx="644.1" cy="824.6" r="6.5" fill="#a97f47"/><circle cx="684.4" cy="837.8" r="6.5" fill="#a97f47"/><circle cx="724.7" cy="874.5" r="6.5" fill="#a97f47"/>
<line x1="158" y1="672.4" x2="192.8" y2="672.4" stroke="#000" stroke-width="3.3"/>
<circle cx="175.3" cy="672.4" r="6.5" fill="#000"/>
<text x="203.2" y="680.4" font-size="25" transform="translate(203.2 680.4) scale(1 1.04) translate(-203.2 -680.4)">ctrl EE</text>
<line x1="158" y1="708.7" x2="192.8" y2="708.7" stroke="#a97f47" stroke-width="3.3"/>
<circle cx="175.3" cy="708.7" r="6.5" fill="#a97f47"/>
<text x="203.6" y="718.5" font-size="25" transform="translate(203.6 718.5) scale(1 1.04) translate(-203.6 -718.5)"><tspan font-style="italic">Fos-ifKO</tspan> EE</text>
<text x="604.6" y="693.8" font-size="33" text-anchor="middle" font-weight="bold" transform="translate(604.6 693.8) scale(1 1.04) translate(-604.6 -693.8)">*</text>
</g>
<g id="pd">
<text x="783.8" y="670.1" font-size="50.3" font-weight="bold" transform="translate(783.8 670.1) scale(1 1.04) translate(-783.8 -670.1)">D</text>
<line x1="913.3" y1="853.4" x2="1240.7" y2="853.4" stroke="#000" stroke-width="3" stroke-dasharray="12.8 6.2"/>
<path d="M961.3 766.6C961.6 767.1 962 765.8 963 769.5C964 773.2 965.2 781.2 967.1 788.7C969 796.2 972.6 806.6 974.2 814.2C975.8 821.8 976.1 827.5 976.5 834.1C976.9 840.7 977.2 847 976.8 853.9C976.4 860.8 975.6 867.6 974.2 875.2C972.7 882.8 969.4 890.6 968.1 899.3C966.8 908 966.6 918.1 966.4 927.6C966.2 937.1 967 946.5 967.1 956C967.1 965.5 967 974.8 966.7 984.3C966.4 993.8 965.6 1007.1 965.3 1012.7C965 1018.3 964.9 1016.9 964.8 1017.8L946.8 1017.8C946.7 1016.9 946.6 1018.3 946.3 1012.7C946 1007.1 945.2 993.8 944.9 984.3C944.6 974.8 944.5 965.5 944.5 956C944.5 946.5 945.4 937.1 945.2 927.6C945 918.1 944.8 908 943.5 899.3C942.2 890.6 938.9 882.8 937.4 875.2C935.9 867.6 935.2 860.8 934.8 853.9C934.4 847 934.7 840.7 935.1 834.1C935.5 827.5 935.8 821.8 937.4 814.2C939 806.6 942.6 796.2 944.5 788.7C946.4 781.2 947.6 773.2 948.6 769.5C949.6 765.8 950 767.1 950.3 766.6Z" fill="#fff"/><path d="M961.3 766.6C961.6 767.1 962 765.8 963 769.5C964 773.2 965.2 781.2 967.1 788.7C969 796.2 972.6 806.6 974.2 814.2C975.8 821.8 976.1 827.5 976.5 834.1C976.9 840.7 977.2 847 976.8 853.9C976.4 860.8 975.6 867.6 974.2 875.2C972.7 882.8 969.4 890.6 968.1 899.3C966.8 908 966.6 918.1 966.4 927.6C966.2 937.1 967 946.5 967.1 956C967.1 965.5 967 974.8 966.7 984.3C966.4 993.8 965.6 1007.1 965.3 1012.7C965 1018.3 964.9 1016.9 964.8 1017.8L946.8 1017.8C946.7 1016.9 946.6 1018.3 946.3 1012.7C946 1007.1 945.2 993.8 944.9 984.3C944.6 974.8 944.5 965.5 944.5 956C944.5 946.5 945.4 937.1 945.2 927.6C945 918.1 944.8 908 943.5 899.3C942.2 890.6 938.9 882.8 937.4 875.2C935.9 867.6 935.2 860.8 934.8 853.9C934.4 847 934.7 840.7 935.1 834.1C935.5 827.5 935.8 821.8 937.4 814.2C939 806.6 942.6 796.2 944.5 788.7C946.4 781.2 947.6 773.2 948.6 769.5C949.6 765.8 950 767.1 950.3 766.6Z" fill="none" stroke="#000" stroke-width="3" stroke-linejoin="round"/>
<line x1="945.8" y1="834.9" x2="965.8" y2="834.9" stroke="#000" stroke-width="0.8" stroke-dasharray="1.2 1.2"/>
<line x1="945.8" y1="959.7" x2="965.8" y2="959.7" stroke="#000" stroke-width="0.8" stroke-dasharray="1.2 1.2"/>
<circle cx="956.4" cy="769.5" r="5.1" fill="#000"/>
<circle cx="972.8" cy="813.7" r="5.1" fill="#000"/>
<circle cx="955.8" cy="817.6" r="5.1" fill="#000"/>
<circle cx="939.4" cy="835.2" r="5.1" fill="#000"/>
<circle cx="955.8" cy="840" r="5.1" fill="#000"/>
<circle cx="972.3" cy="840" r="5.1" fill="#000"/>
<circle cx="938.8" cy="876" r="5.1" fill="#000"/>
<circle cx="972.8" cy="876" r="5.1" fill="#000"/>
<circle cx="955.8" cy="884.8" r="5.1" fill="#000"/>
<circle cx="955.8" cy="906.1" r="5.1" fill="#000"/>
<circle cx="955.8" cy="937.5" r="5.1" fill="#000"/>
<circle cx="947.9" cy="965" r="5.1" fill="#000"/>
<circle cx="963.8" cy="960.2" r="5.1" fill="#000"/>
<circle cx="963.8" cy="1008.4" r="5.1" fill="#000"/>
<circle cx="947.6" cy="1016.9" r="5.1" fill="#000"/>
<line x1="938.4" y1="875.5" x2="973.2" y2="875.5" stroke="#17ee17" stroke-width="4.6"/>
<path d="M1030.8 688.7C1031 693.1 1031.7 705.9 1032.2 715C1032.7 724.1 1033.3 733.9 1033.6 743.4C1033.9 752.9 1033.4 762.2 1033.9 771.7C1034.4 781.2 1035.7 790.7 1036.8 800.1C1037.9 809.5 1039.8 819 1040.7 828.4C1041.6 837.8 1041.9 848.8 1042.1 856.8C1042.3 864.8 1043.1 869.5 1041.9 876.6C1040.7 883.7 1037.2 892.2 1035.1 899.3C1033 906.4 1031 913 1029.4 919.1C1027.8 925.2 1026.5 932.6 1025.4 936.1C1024.4 939.6 1023.5 939.4 1023.1 940L1020.1 940C1019.7 939.4 1018.9 939.6 1017.8 936.1C1016.8 932.6 1015.4 925.2 1013.8 919.1C1012.2 913 1010.2 906.4 1008.1 899.3C1006 892.2 1002.5 883.7 1001.3 876.6C1000.1 869.5 1000.9 864.8 1001.1 856.8C1001.3 848.8 1001.6 837.8 1002.5 828.4C1003.4 819 1005.3 809.5 1006.4 800.1C1007.5 790.7 1008.8 781.2 1009.3 771.7C1009.8 762.2 1009.3 752.9 1009.6 743.4C1009.9 733.9 1010.5 724.1 1011 715C1011.5 705.9 1012.2 693.1 1012.4 688.7Z" fill="#fff"/><clipPath id="vc1"><path d="M1030.8 688.7C1031 693.1 1031.7 705.9 1032.2 715C1032.7 724.1 1033.3 733.9 1033.6 743.4C1033.9 752.9 1033.4 762.2 1033.9 771.7C1034.4 781.2 1035.7 790.7 1036.8 800.1C1037.9 809.5 1039.8 819 1040.7 828.4C1041.6 837.8 1041.9 848.8 1042.1 856.8C1042.3 864.8 1043.1 869.5 1041.9 876.6C1040.7 883.7 1037.2 892.2 1035.1 899.3C1033 906.4 1031 913 1029.4 919.1C1027.8 925.2 1026.5 932.6 1025.4 936.1C1024.4 939.6 1023.5 939.4 1023.1 940L1020.1 940C1019.7 939.4 1018.9 939.6 1017.8 936.1C1016.8 932.6 1015.4 925.2 1013.8 919.1C1012.2 913 1010.2 906.4 1008.1 899.3C1006 892.2 1002.5 883.7 1001.3 876.6C1000.1 869.5 1000.9 864.8 1001.1 856.8C1001.3 848.8 1001.6 837.8 1002.5 828.4C1003.4 819 1005.3 809.5 1006.4 800.1C1007.5 790.7 1008.8 781.2 1009.3 771.7C1009.8 762.2 1009.3 752.9 1009.6 743.4C1009.9 733.9 1010.5 724.1 1011 715C1011.5 705.9 1012.2 693.1 1012.4 688.7Z" fill="none"/></clipPath><rect x="991.6" y="683.7" width="60" height="261.3" fill="url(#hatch)" clip-path="url(#vc1)"/><path d="M1030.8 688.7C1031 693.1 1031.7 705.9 1032.2 715C1032.7 724.1 1033.3 733.9 1033.6 743.4C1033.9 752.9 1033.4 762.2 1033.9 771.7C1034.4 781.2 1035.7 790.7 1036.8 800.1C1037.9 809.5 1039.8 819 1040.7 828.4C1041.6 837.8 1041.9 848.8 1042.1 856.8C1042.3 864.8 1043.1 869.5 1041.9 876.6C1040.7 883.7 1037.2 892.2 1035.1 899.3C1033 906.4 1031 913 1029.4 919.1C1027.8 925.2 1026.5 932.6 1025.4 936.1C1024.4 939.6 1023.5 939.4 1023.1 940L1020.1 940C1019.7 939.4 1018.9 939.6 1017.8 936.1C1016.8 932.6 1015.4 925.2 1013.8 919.1C1012.2 913 1010.2 906.4 1008.1 899.3C1006 892.2 1002.5 883.7 1001.3 876.6C1000.1 869.5 1000.9 864.8 1001.1 856.8C1001.3 848.8 1001.6 837.8 1002.5 828.4C1003.4 819 1005.3 809.5 1006.4 800.1C1007.5 790.7 1008.8 781.2 1009.3 771.7C1009.8 762.2 1009.3 752.9 1009.6 743.4C1009.9 733.9 1010.5 724.1 1011 715C1011.5 705.9 1012.2 693.1 1012.4 688.7Z" fill="none" stroke="#000" stroke-width="3" stroke-linejoin="round"/>
<line x1="1011.6" y1="747" x2="1031.6" y2="747" stroke="#a0601a" stroke-width="0.8" stroke-dasharray="1.2 1.2"/>
<line x1="1011.6" y1="871.5" x2="1031.6" y2="871.5" stroke="#a0601a" stroke-width="0.8" stroke-dasharray="1.2 1.2"/>
<circle cx="1004.9" cy="689.8" r="5.1" fill="#000"/>
<circle cx="1022.4" cy="698" r="5.1" fill="#000"/>
<circle cx="1004.6" cy="742.8" r="5.1" fill="#000"/>
<circle cx="1021.9" cy="747.1" r="5.1" fill="#000"/>
<circle cx="1021.9" cy="769.5" r="5.1" fill="#000"/>
<circle cx="1021.6" cy="800.9" r="5.1" fill="#000"/>
<circle cx="1021" cy="823.6" r="5.1" fill="#000"/>
<circle cx="1004.6" cy="830.7" r="5.1" fill="#000"/>
<circle cx="1038.9" cy="831.5" r="5.1" fill="#000"/>
<circle cx="1004.6" cy="865.8" r="5.1" fill="#000"/>
<circle cx="1021" cy="870.1" r="5.1" fill="#000"/>
<circle cx="1037.2" cy="866.7" r="5.1" fill="#000"/>
<circle cx="1012.5" cy="888.5" r="5.1" fill="#000"/>
<circle cx="1030.4" cy="894.2" r="5.1" fill="#000"/>
<circle cx="1021.6" cy="937.5" r="5.1" fill="#000"/>
<line x1="1004.2" y1="831.2" x2="1039" y2="831.2" stroke="#17ee17" stroke-width="4.6"/>
<path d="M1133.1 745.2C1133.9 745.6 1136.8 743.2 1138.1 747.6C1139.3 752 1140 763 1140.6 771.7C1141.1 780.5 1141.3 790.7 1141.4 800.1C1141.5 809.5 1140.6 819 1141.1 828.4C1141.6 837.8 1142.8 847.3 1144.3 856.8C1145.8 866.2 1148.8 877.5 1149.9 885.1C1151 892.7 1151.6 896.4 1150.9 902.1C1150.2 907.8 1147 912.5 1145.7 919.1C1144.4 925.7 1143.5 934.2 1142.9 941.8C1142.3 949.4 1142.3 959.8 1142.1 964.5C1141.9 969.2 1141.7 969.2 1141.6 970.1L1118.6 970.1C1118.5 969.2 1118.3 969.2 1118.1 964.5C1117.9 959.8 1117.9 949.4 1117.3 941.8C1116.7 934.2 1115.8 925.7 1114.5 919.1C1113.2 912.5 1110 907.8 1109.3 902.1C1108.6 896.4 1109.2 892.7 1110.3 885.1C1111.4 877.5 1114.4 866.2 1115.9 856.8C1117.4 847.3 1118.6 837.8 1119.1 828.4C1119.6 819 1118.7 809.5 1118.8 800.1C1118.9 790.7 1119 780.5 1119.6 771.7C1120.1 763 1120.8 752 1122.1 747.6C1123.3 743.2 1126.3 745.6 1127.1 745.2Z" fill="#d5934f"/><path d="M1133.1 745.2C1133.9 745.6 1136.8 743.2 1138.1 747.6C1139.3 752 1140 763 1140.6 771.7C1141.1 780.5 1141.3 790.7 1141.4 800.1C1141.5 809.5 1140.6 819 1141.1 828.4C1141.6 837.8 1142.8 847.3 1144.3 856.8C1145.8 866.2 1148.8 877.5 1149.9 885.1C1151 892.7 1151.6 896.4 1150.9 902.1C1150.2 907.8 1147 912.5 1145.7 919.1C1144.4 925.7 1143.5 934.2 1142.9 941.8C1142.3 949.4 1142.3 959.8 1142.1 964.5C1141.9 969.2 1141.7 969.2 1141.6 970.1L1118.6 970.1C1118.5 969.2 1118.3 969.2 1118.1 964.5C1117.9 959.8 1117.9 949.4 1117.3 941.8C1116.7 934.2 1115.8 925.7 1114.5 919.1C1113.2 912.5 1110 907.8 1109.3 902.1C1108.6 896.4 1109.2 892.7 1110.3 885.1C1111.4 877.5 1114.4 866.2 1115.9 856.8C1117.4 847.3 1118.6 837.8 1119.1 828.4C1119.6 819 1118.7 809.5 1118.8 800.1C1118.9 790.7 1119 780.5 1119.6 771.7C1120.1 763 1120.8 752 1122.1 747.6C1123.3 743.2 1126.3 745.6 1127.1 745.2Z" fill="none" stroke="#8f5d22" stroke-width="3" stroke-linejoin="round"/>
<line x1="1120.1" y1="809.4" x2="1140.1" y2="809.4" stroke="#000" stroke-width="0.8" stroke-dasharray="1.2 1.2"/>
<line x1="1120.1" y1="906.4" x2="1140.1" y2="906.4" stroke="#000" stroke-width="0.8" stroke-dasharray="1.2 1.2"/>
<circle cx="1130.1" cy="747.1" r="5.1" fill="#000"/>
<circle cx="1130.1" cy="765.5" r="5.1" fill="#000"/>
<circle cx="1130.1" cy="791.6" r="5.1" fill="#000"/>
<circle cx="1130.1" cy="809.4" r="5.1" fill="#000"/>
<circle cx="1130.1" cy="826.4" r="5.1" fill="#000"/>
<circle cx="1118.8" cy="865.8" r="5.1" fill="#000"/>
<circle cx="1141.5" cy="865.8" r="5.1" fill="#000"/>
<circle cx="1130.1" cy="872.3" r="5.1" fill="#000"/>
<circle cx="1114" cy="902.1" r="5.1" fill="#000"/>
<circle cx="1147.1" cy="902.1" r="5.1" fill="#000"/>
<circle cx="1125.3" cy="906.4" r="5.1" fill="#000"/>
<circle cx="1135.8" cy="906.4" r="5.1" fill="#000"/>
<circle cx="1125" cy="955.4" r="5.1" fill="#000"/>
<circle cx="1136.4" cy="964.5" r="5.1" fill="#000"/>
<circle cx="1125" cy="968.7" r="5.1" fill="#000"/>
<line x1="1112.7" y1="871.5" x2="1147.5" y2="871.5" stroke="#17ee17" stroke-width="4.6"/>
<path d="M1206.5 737.1C1206.7 740.5 1207 750.9 1207.7 757.6C1208.4 764.3 1209.4 770.3 1210.8 777.4C1212.3 784.5 1215.5 793.5 1216.4 800.1C1217.3 806.7 1217 810.5 1216.2 817.1C1215.4 823.7 1213.1 830.8 1211.5 839.8C1209.9 848.8 1207.6 861 1206.5 870.9C1205.4 880.8 1205.3 889.8 1205.1 899.3C1204.9 908.8 1205.3 918.1 1205.1 927.6C1204.9 937.1 1204.1 950.3 1203.7 956C1203.3 961.7 1203 960.7 1202.9 961.6L1188.9 961.6C1188.8 960.7 1188.5 961.7 1188.1 956C1187.7 950.3 1186.9 937.1 1186.7 927.6C1186.5 918.1 1186.9 908.8 1186.7 899.3C1186.5 889.8 1186.4 880.8 1185.3 870.9C1184.2 861 1181.9 848.8 1180.3 839.8C1178.7 830.8 1176.4 823.7 1175.6 817.1C1174.8 810.5 1174.5 806.7 1175.4 800.1C1176.3 793.5 1179.5 784.5 1181 777.4C1182.5 770.3 1183.4 764.3 1184.1 757.6C1184.8 750.9 1185.1 740.5 1185.3 737.1Z" fill="#d5934f"/><clipPath id="vc3"><path d="M1206.5 737.1C1206.7 740.5 1207 750.9 1207.7 757.6C1208.4 764.3 1209.4 770.3 1210.8 777.4C1212.3 784.5 1215.5 793.5 1216.4 800.1C1217.3 806.7 1217 810.5 1216.2 817.1C1215.4 823.7 1213.1 830.8 1211.5 839.8C1209.9 848.8 1207.6 861 1206.5 870.9C1205.4 880.8 1205.3 889.8 1205.1 899.3C1204.9 908.8 1205.3 918.1 1205.1 927.6C1204.9 937.1 1204.1 950.3 1203.7 956C1203.3 961.7 1203 960.7 1202.9 961.6L1188.9 961.6C1188.8 960.7 1188.5 961.7 1188.1 956C1187.7 950.3 1186.9 937.1 1186.7 927.6C1186.5 918.1 1186.9 908.8 1186.7 899.3C1186.5 889.8 1186.4 880.8 1185.3 870.9C1184.2 861 1181.9 848.8 1180.3 839.8C1178.7 830.8 1176.4 823.7 1175.6 817.1C1174.8 810.5 1174.5 806.7 1175.4 800.1C1176.3 793.5 1179.5 784.5 1181 777.4C1182.5 770.3 1183.4 764.3 1184.1 757.6C1184.8 750.9 1185.1 740.5 1185.3 737.1Z" fill="none"/></clipPath><rect x="1165.9" y="732.1" width="60" height="234.5" fill="url(#hatch)" clip-path="url(#vc3)"/><path d="M1206.5 737.1C1206.7 740.5 1207 750.9 1207.7 757.6C1208.4 764.3 1209.4 770.3 1210.8 777.4C1212.3 784.5 1215.5 793.5 1216.4 800.1C1217.3 806.7 1217 810.5 1216.2 817.1C1215.4 823.7 1213.1 830.8 1211.5 839.8C1209.9 848.8 1207.6 861 1206.5 870.9C1205.4 880.8 1205.3 889.8 1205.1 899.3C1204.9 908.8 1205.3 918.1 1205.1 927.6C1204.9 937.1 1204.1 950.3 1203.7 956C1203.3 961.7 1203 960.7 1202.9 961.6L1188.9 961.6C1188.8 960.7 1188.5 961.7 1188.1 956C1187.7 950.3 1186.9 937.1 1186.7 927.6C1186.5 918.1 1186.9 908.8 1186.7 899.3C1186.5 889.8 1186.4 880.8 1185.3 870.9C1184.2 861 1181.9 848.8 1180.3 839.8C1178.7 830.8 1176.4 823.7 1175.6 817.1C1174.8 810.5 1174.5 806.7 1175.4 800.1C1176.3 793.5 1179.5 784.5 1181 777.4C1182.5 770.3 1183.4 764.3 1184.1 757.6C1184.8 750.9 1185.1 740.5 1185.3 737.1Z" fill="none" stroke="#8f5d22" stroke-width="3" stroke-linejoin="round"/>
<line x1="1185.9" y1="800.6" x2="1205.9" y2="800.6" stroke="#a0601a" stroke-width="0.8" stroke-dasharray="1.2 1.2"/>
<line x1="1185.9" y1="897.3" x2="1205.9" y2="897.3" stroke="#a0601a" stroke-width="0.8" stroke-dasharray="1.2 1.2"/>
<circle cx="1190.5" cy="737.7" r="5.1" fill="#000"/>
<circle cx="1201.6" cy="743.4" r="5.1" fill="#000"/>
<circle cx="1190.5" cy="751.9" r="5.1" fill="#000"/>
<circle cx="1178.3" cy="800.1" r="5.1" fill="#000"/>
<circle cx="1212.9" cy="800.6" r="5.1" fill="#000"/>
<circle cx="1190.5" cy="805.7" r="5.1" fill="#000"/>
<circle cx="1201.6" cy="805.7" r="5.1" fill="#000"/>
<circle cx="1184" cy="838" r="5.1" fill="#000"/>
<circle cx="1195.9" cy="840.3" r="5.1" fill="#000"/>
<circle cx="1206.7" cy="840.3" r="5.1" fill="#000"/>
<circle cx="1195.9" cy="880.3" r="5.1" fill="#000"/>
<circle cx="1195.9" cy="899.3" r="5.1" fill="#000"/>
<circle cx="1195.9" cy="916.3" r="5.1" fill="#000"/>
<circle cx="1195.9" cy="942.4" r="5.1" fill="#000"/>
<circle cx="1195.9" cy="960.2" r="5.1" fill="#000"/>
<line x1="1178.5" y1="835.5" x2="1213.3" y2="835.5" stroke="#17ee17" stroke-width="4.6"/>
<path d="M913.3 673.4V1030.5H1239.3" fill="none" stroke="#000" stroke-width="4" stroke-linejoin="miter"/>
<line x1="897.7" y1="1030.5" x2="913.3" y2="1030.5" stroke="#000" stroke-width="4"/>
<text x="890.6" y="1039.1" font-size="24.4" text-anchor="end" textLength="35" lengthAdjust="spacingAndGlyphs" transform="translate(890.6 1039.1) scale(1 1.04) translate(-890.6 -1039.1)">0.1</text>
<line x1="897.7" y1="986.1" x2="913.3" y2="986.1" stroke="#000" stroke-width="4"/>
<text x="890.6" y="994.7" font-size="24.4" text-anchor="end" textLength="35" lengthAdjust="spacingAndGlyphs" transform="translate(890.6 994.7) scale(1 1.04) translate(-890.6 -994.7)">0.2</text>
<line x1="897.7" y1="941.7" x2="913.3" y2="941.7" stroke="#000" stroke-width="4"/>
<text x="890.6" y="950.3" font-size="24.4" text-anchor="end" textLength="35" lengthAdjust="spacingAndGlyphs" transform="translate(890.6 950.3) scale(1 1.04) translate(-890.6 -950.3)">0.3</text>
<line x1="897.7" y1="897.3" x2="913.3" y2="897.3" stroke="#000" stroke-width="4"/>
<text x="890.6" y="905.9" font-size="24.4" text-anchor="end" textLength="35" lengthAdjust="spacingAndGlyphs" transform="translate(890.6 905.9) scale(1 1.04) translate(-890.6 -905.9)">0.4</text>
<line x1="897.7" y1="852.9" x2="913.3" y2="852.9" stroke="#000" stroke-width="4"/>
<text x="890.6" y="861.5" font-size="24.4" text-anchor="end" textLength="35" lengthAdjust="spacingAndGlyphs" transform="translate(890.6 861.5) scale(1 1.04) translate(-890.6 -861.5)">0.5</text>
<line x1="897.7" y1="808.5" x2="913.3" y2="808.5" stroke="#000" stroke-width="4"/>
<text x="890.6" y="817.1" font-size="24.4" text-anchor="end" textLength="35" lengthAdjust="spacingAndGlyphs" transform="translate(890.6 817.1) scale(1 1.04) translate(-890.6 -817.1)">0.6</text>
<line x1="897.7" y1="764.1" x2="913.3" y2="764.1" stroke="#000" stroke-width="4"/>
<text x="890.6" y="772.7" font-size="24.4" text-anchor="end" textLength="35" lengthAdjust="spacingAndGlyphs" transform="translate(890.6 772.7) scale(1 1.04) translate(-890.6 -772.7)">0.7</text>
<line x1="897.7" y1="719.7" x2="913.3" y2="719.7" stroke="#000" stroke-width="4"/>
<text x="890.6" y="728.3" font-size="24.4" text-anchor="end" textLength="35" lengthAdjust="spacingAndGlyphs" transform="translate(890.6 728.3) scale(1 1.04) translate(-890.6 -728.3)">0.8</text>
<line x1="897.7" y1="675.3" x2="913.3" y2="675.3" stroke="#000" stroke-width="4"/>
<text x="890.6" y="683.9" font-size="24.4" text-anchor="end" textLength="35" lengthAdjust="spacingAndGlyphs" transform="translate(890.6 683.9) scale(1 1.04) translate(-890.6 -683.9)">0.9</text>
<line x1="988.4" y1="1030.5" x2="988.4" y2="1045.2" stroke="#000" stroke-width="4"/>
<line x1="1162.7" y1="1030.5" x2="1162.7" y2="1045.2" stroke="#000" stroke-width="4"/>
<text x="981.3" y="1076.4" font-size="25" text-anchor="middle" transform="translate(981.3 1076.4) scale(1 1.04) translate(-981.3 -1076.4)">ctrl EE</text>
<text x="1161.6" y="1076.4" font-size="25" text-anchor="middle" transform="translate(1161.6 1076.4) scale(1 1.04) translate(-1161.6 -1076.4)"><tspan font-style="italic">Fos-ifKO</tspan> EE</text>
<text x="836.5" y="853" font-size="25.8" text-anchor="middle" transform="rotate(-90 836.5 853) translate(836.5 853) scale(1 1.04) translate(-836.5 -853)">Relative exploration time</text>
<line x1="955.8" y1="666.3" x2="1019.6" y2="666.3" stroke="#000" stroke-width="4"/>
<line x1="1135.8" y1="666.3" x2="1199.6" y2="666.3" stroke="#000" stroke-width="4"/>
<text x="988.4" y="669.5" font-size="34" text-anchor="middle" font-weight="bold" transform="translate(988.4 669.5) scale(1 1.04) translate(-988.4 -669.5)">*</text>
<text x="1169.2" y="657.5" font-size="26" text-anchor="middle" transform="translate(1169.2 657.5) scale(1 1.04) translate(-1169.2 -657.5)">ns</text>
<rect x="1161" y="979.2" width="27.6" height="14" fill="#fff" stroke="#000" stroke-width="2.2"/>
<rect x="1161" y="1005.3" width="27.6" height="14.2" fill="#fff"/>
<rect x="1161" y="1005.3" width="27.6" height="14.2" fill="url(#hatch)" stroke="#000" stroke-width="2.2"/>
<text x="1205.2" y="993.6" font-size="21" transform="translate(1205.2 993.6) scale(1 1.04) translate(-1205.2 -993.6)">Familiar object</text>
<text x="1205.2" y="1019.6" font-size="21" transform="translate(1205.2 1019.6) scale(1 1.04) translate(-1205.2 -1019.6)">Novel object</text>
</g>
<g id="pe">
<text x="1311.2" y="670.1" font-size="50.3" font-weight="bold" transform="translate(1311.2 670.1) scale(1 1.04) translate(-1311.2 -670.1)">E</text>
<circle cx="1604.3" cy="783.8" r="89.6" fill="#c59ff6"/>
<circle cx="1688.7" cy="783.8" r="89.6" fill="#ffd55c"/>
<path d="M1646.5 704.8A89.6 89.6 0 0 1 1646.5 862.8A89.6 89.6 0 0 1 1646.5 704.8Z" fill="#e9b552"/>
<circle cx="1604.3" cy="783.8" r="89.6" fill="none" stroke="#10283a" stroke-width="3"/>
<path d="M1646.5 704.8A89.6 89.6 0 0 1 1646.5 862.8" fill="none" stroke="#a38d35" stroke-width="3"/>
<circle cx="1688.7" cy="783.8" r="89.6" fill="none" stroke="#10283a" stroke-width="3"/>
<text x="1647.8" y="798.2" font-size="33" text-anchor="middle" font-weight="bold" fill="#fff" transform="translate(1647.8 798.2) scale(1 1.04) translate(-1647.8 -798.2)">306</text>
<line x1="1646.9" y1="824.1" x2="1646.9" y2="958" stroke="#000" stroke-width="4.2"/>
<polygon points="1640.3,956.2 1653.5,956.2 1646.9,968.4"/>
<text x="1646.9" y="1009.8" font-size="33.4" text-anchor="middle" font-weight="bold" fill="#bd8e56" transform="translate(1646.9 1009.8) scale(1 1.04) translate(-1646.9 -1009.8)">AP-1 related genes</text>
<text x="1415" y="715.7" font-size="27.3" text-anchor="middle" transform="translate(1415 715.7) scale(1 1.04) translate(-1415 -715.7)">Genes</text>
<text x="1876.8" y="715.7" font-size="27.3" text-anchor="middle" transform="translate(1876.8 715.7) scale(1 1.04) translate(-1876.8 -715.7)">Genes</text>
<text x="1415" y="748.8" font-size="27.3" text-anchor="middle" transform="translate(1415 748.8) scale(1 1.04) translate(-1415 -748.8)">annotated</text>
<text x="1876.8" y="748.8" font-size="27.3" text-anchor="middle" transform="translate(1876.8 748.8) scale(1 1.04) translate(-1876.8 -748.8)">annotated</text>
<text x="1415" y="783" font-size="27.3" text-anchor="middle" transform="translate(1415 783) scale(1 1.04) translate(-1415 -783)">to IE-lost</text>
<text x="1876.8" y="783" font-size="27.3" text-anchor="middle" transform="translate(1876.8 783) scale(1 1.04) translate(-1876.8 -783)">to EE-gained</text>
<text x="1415" y="815.7" font-size="27.3" text-anchor="middle" transform="translate(1415 815.7) scale(1 1.04) translate(-1415 -815.7)">AP1 sites in</text>
<text x="1876.8" y="815.7" font-size="27.3" text-anchor="middle" transform="translate(1876.8 815.7) scale(1 1.04) translate(-1876.8 -815.7)">AP1 sites in</text>
<text x="1415" y="848.8" font-size="27.3" text-anchor="middle" transform="translate(1415 848.8) scale(1 1.04) translate(-1415 -848.8)">CA1 enhancers</text>
<text x="1876.8" y="848.8" font-size="27.3" text-anchor="middle" transform="translate(1876.8 848.8) scale(1 1.04) translate(-1876.8 -848.8)">DG enhancers</text>
<text x="1415" y="879" font-size="27.3" text-anchor="middle" transform="translate(1415 879) scale(1 1.04) translate(-1415 -879)">(1481)</text>
<text x="1876.8" y="879" font-size="27.3" text-anchor="middle" transform="translate(1876.8 879) scale(1 1.04) translate(-1876.8 -879)">(1092)</text>
</g>
<g id="pf">
<text x="3.4" y="1161" font-size="50.3" font-weight="bold" transform="translate(3.4 1161) scale(1 1.04) translate(-3.4 -1161)">F</text>
<line x1="155.4" y1="1393.4" x2="418.5" y2="1393.4" stroke="#000" stroke-width="3.3" stroke-dasharray="0.01 6.88" stroke-linecap="round"/>
<path d="M190.3 1304.7h0M190.6 1309.1h0M191.7 1313.5h0M190.3 1317.9h0M190.4 1322.3h0M190.7 1326.7h0M189.5 1331.1h0M190.4 1335.5h0M190.6 1340.6h0M187.4 1339.3h0M191.4 1340.8h0M188 1343.2h0M194 1345.4h0M188.4 1344.7h0M191.9 1342.9h0M190.5 1347.6h0M187 1347.9h0M192 1348.6h0M187.6 1353.9h0M193.1 1353.4h0M186.9 1353.6h0M193.8 1352.4h0M185.9 1358.7h0M191 1358h0M195.5 1356.9h0M184.8 1356.2h0M196.1 1357.2h0M188.3 1361.6h0M193.9 1362.7h0M182.6 1361h0M198 1361.8h0M185.9 1366.1h0M189.6 1366.6h0M196.3 1365.8h0M181.3 1365.8h0M199.6 1367.1h0M181.6 1370.1h0M187 1369.7h0M193.6 1369.9h0M198.6 1370.6h0M180.2 1371.4h0M199 1371.1h0M178.9 1374.9h0M184.5 1374.6h0M191.2 1375.8h0M195.4 1376h0M200.7 1374.9h0M180.5 1375.5h0M200.2 1376.6h0M181.8 1378.9h0M188.2 1379.1h0M192.7 1378.5h0M197.8 1379.7h0M177.3 1379.8h0M202.5 1379.4h0M180.4 1383.9h0M185.1 1384.8h0M189.8 1383.1h0M196.5 1384.7h0M200.7 1383.2h0M176.3 1385.2h0M204.3 1385.3h0M177.6 1388.6h0M182.2 1387.4h0M186.9 1389.4h0M192.6 1388.8h0M198.1 1389.1h0M204.1 1387.8h0M172.8 1389h0M206.2 1387.5h0M174.3 1393.6h0M179.8 1392.2h0M185.8 1392h0M189.5 1392.2h0M195.7 1391.7h0M200.6 1392.4h0M206.7 1391.8h0M172 1393.9h0M209.6 1393.2h0M177.2 1397.3h0M181.7 1396h0M186.8 1398.1h0M193.5 1398.2h0M197.6 1397.4h0M203.9 1397.7h0M173 1398.6h0M206.4 1397.2h0M180 1402.5h0M185.4 1402h0M190.9 1402.5h0M195.5 1402h0M201.9 1402.4h0M175.6 1402.4h0M205.9 1401.7h0M182.5 1405.6h0M187.8 1406.2h0M192.3 1406.2h0M199.4 1406.8h0M178.1 1405.6h0M203.8 1406.1h0M179.5 1411.1h0M184.3 1410.9h0M189.6 1410.5h0M195.8 1409.7h0M201.6 1410.3h0M178.9 1411.6h0M201.6 1408.8h0M181.9 1415.1h0M187.2 1413.9h0M193.8 1415.1h0M198.4 1415.6h0M179.2 1415.2h0M200.4 1414.5h0M185.6 1420.1h0M191.1 1418.8h0M195.9 1418.7h0M181.4 1419.1h0M199.3 1420.2h0M188.1 1424.6h0M192.7 1422.7h0M186.3 1422.8h0M193.7 1423.2h0M190.6 1427.9h0M188.3 1428.9h0M193.2 1427.8h0M189.1 1432.3h0M189 1436.7h0M191.5 1441.1h0M189 1445.5h0M191 1449.9h0M190.6 1454.3h0M189.8 1458.7h0M191.3 1463.1h0M189 1467.5h0M189.3 1471.9h0M190.3 1476.3h0M189 1480.7h0M190.8 1246.8h0M190.1 1257.2h0M190 1269.5h0M189.9 1293.5h0M190.6 1489.3h0M190.3 1504.2h0M190.6 1510.7h0M190.6 1523.7h0M190.8 1545.1h0M191 1556.3h0" fill="none" stroke="#000" stroke-width="7.2" stroke-linecap="round"/>
<path d="M253.2 1346.4h0M251.7 1350.8h0M252.5 1355.2h0M252 1358.5h0M250.6 1360.3h0M253.7 1358.9h0M252.3 1364.5h0M250.3 1364.4h0M255.6 1363.7h0M250.4 1369.4h0M254.6 1369.5h0M250 1367.3h0M255.7 1368.8h0M253.3 1372.5h0M248.7 1374h0M257.4 1374.2h0M249.8 1377.6h0M254.8 1377.8h0M248.4 1377.7h0M258 1376.4h0M247.9 1382.8h0M253.5 1381.7h0M258.5 1381.2h0M243.9 1382.7h0M262 1380.4h0M239 1386.1h0M245 1386h0M249.1 1386.8h0M254.5 1386.7h0M260.1 1385.6h0M266.6 1385.2h0M237 1386.1h0M267.9 1387h0M236.7 1391.5h0M241.8 1391.5h0M246.5 1389.8h0M252.6 1389.9h0M258.4 1390.8h0M263.4 1391.3h0M268.9 1390h0M235.1 1391.5h0M270.8 1389.6h0M239.7 1396h0M244.5 1395h0M249.4 1394.9h0M255.3 1395.1h0M259.8 1396h0M266.1 1394.6h0M235.8 1395h0M270.1 1395.4h0M235.6 1399.3h0M241.6 1400.3h0M248 1398.7h0M252.6 1398.3h0M257.9 1400h0M264.1 1399.2h0M268.5 1398.5h0M235 1400.5h0M269.6 1400.1h0M238.2 1402.9h0M244 1404.1h0M249.6 1403.3h0M255.5 1402.7h0M261.1 1402.7h0M266.1 1403h0M234.4 1403.7h0M269.9 1403.3h0M236.2 1408.1h0M241.2 1407.3h0M247.4 1408.4h0M252.7 1408.9h0M258.2 1408.9h0M262.9 1408.6h0M269.4 1409h0M235.8 1407.5h0M270 1407.2h0M240 1413.4h0M243.8 1411.8h0M250.3 1411.9h0M254.6 1413.2h0M260.6 1413.1h0M265.4 1412.2h0M238.4 1411h0M266.5 1413h0M247.9 1418h0M251.9 1416.8h0M258.5 1416.8h0M242.8 1415.9h0M261.8 1415.6h0M249.1 1421.4h0M255.3 1421.4h0M245.2 1420.3h0M258.5 1422.2h0M253.5 1426.7h0M248.5 1424.3h0M256.8 1425.5h0M253.4 1430h0M252.1 1434.4h0M252.5 1438.8h0M252.6 1443.2h0M252.4 1447.6h0M252.9 1452h0M251.1 1456.4h0M253.2 1460.8h0M253.6 1465.2h0M251.6 1469.6h0M252.5 1474h0M252.9 1320.4h0M252.5 1325.6h0M252.2 1549h0M252.2 1556.3h0" fill="none" stroke="#b98a52" stroke-width="7.2" stroke-linecap="round"/>
<path d="M315 1323h0M313.5 1327.4h0M316.2 1331.8h0M315.9 1336.2h0M315.6 1340.6h0M316.1 1345h0M315.2 1349.1h0M313.5 1349.4h0M317.9 1350.3h0M311.9 1354.7h0M318.1 1354.4h0M313.4 1353.5h0M318.4 1354.9h0M315.4 1358.8h0M312.2 1357.9h0M319 1356.9h0M312 1362.5h0M316.8 1362.2h0M310.8 1362.9h0M318.9 1363.9h0M309.9 1366.6h0M315.3 1367.1h0M320.5 1366.7h0M310 1367.4h0M321.6 1367.7h0M307.8 1370.2h0M312.5 1371.9h0M317.3 1371.1h0M322.3 1370.6h0M306.3 1370.2h0M322.8 1372.6h0M304.3 1375.8h0M310.4 1375.9h0M315.9 1376.1h0M321 1374.7h0M326 1376.4h0M303.3 1377.1h0M324.7 1375.7h0M306.3 1380.1h0M312.5 1379.1h0M318.5 1380h0M323.1 1380.4h0M301.9 1379.5h0M328.1 1380.3h0M303.8 1385.1h0M309.2 1383.4h0M314.5 1383.5h0M319.8 1385.2h0M325.6 1385.5h0M300.6 1383.2h0M331.1 1385.9h0M300.7 1389.9h0M306.8 1388.9h0M313.2 1388.3h0M317.7 1390h0M323.5 1388.9h0M329.4 1389.7h0M298.3 1387.8h0M332.2 1388.8h0M298.3 1392.3h0M304.3 1392.5h0M309.5 1393.8h0M314.9 1392.8h0M320.5 1393.2h0M326.3 1393.4h0M332.1 1394.4h0M297.8 1392.6h0M331.8 1394.5h0M302 1398.1h0M306.6 1397.2h0M312.6 1397.9h0M317.9 1398.1h0M323.6 1397h0M328 1398.9h0M299.2 1398.9h0M330.7 1396.4h0M303.8 1402h0M309.8 1401.2h0M315.1 1401.1h0M319.7 1402.6h0M325.9 1402.5h0M299.8 1402.1h0M329.2 1401.7h0M307.3 1407.4h0M311.5 1405.6h0M318.3 1406.9h0M323.6 1405.9h0M302.1 1405.8h0M328.5 1406.2h0M304.5 1412.1h0M309.3 1411.1h0M315.4 1412h0M320.3 1410.6h0M325.1 1411.9h0M303.4 1409.7h0M325.7 1410.9h0M307.2 1414.9h0M312.8 1414.3h0M317.2 1415.7h0M322.3 1414.9h0M307.2 1415.9h0M322.8 1414.3h0M309.3 1420.3h0M314.8 1418.8h0M320.8 1419.9h0M309.7 1421.1h0M322.3 1419.6h0M312.8 1423.7h0M317.4 1423.9h0M311.6 1425.3h0M318.8 1423.7h0M314.8 1428.2h0M312.3 1428.2h0M316.7 1428.8h0M315.9 1433h0M315.1 1437.4h0M316 1441.8h0M315.2 1446.2h0M314 1450.6h0M315.8 1455h0M316.1 1459.4h0M314.3 1463.8h0M314.4 1287.2h0M315 1293.8h0M315.1 1314.4h0M315.1 1478.1h0M315.6 1484.6h0M315.2 1501.6h0M315.4 1505.5h0M314.5 1511.2h0M315.1 1536.8h0" fill="none" stroke="#000" stroke-width="7.2" stroke-linecap="round"/>
<path d="M378.2 1338.6h0M376.1 1343h0M376 1347.4h0M378 1351.8h0M378.5 1356.2h0M376.6 1360.9h0M374.8 1361.3h0M379.3 1359.8h0M376.8 1365.6h0M374.7 1365.8h0M379.7 1364.5h0M375.4 1369.8h0M380 1369.5h0M372.6 1370h0M383.5 1369.1h0M372.5 1374.2h0M377.9 1374.5h0M383.3 1374.7h0M370.5 1374.2h0M385.2 1374.4h0M369.7 1378h0M374.5 1377.4h0M380.4 1379.4h0M385.2 1377.4h0M366 1378h0M387.4 1379.6h0M365.7 1382.1h0M371.2 1383h0M377.8 1381.8h0M381.9 1382.5h0M388.3 1383.6h0M362.5 1381.4h0M390.2 1381.8h0M363.3 1387.5h0M369.4 1386.3h0M374 1386.5h0M379.4 1387.6h0M385.1 1387.1h0M391.4 1387h0M360 1388.2h0M395 1386.5h0M361.2 1392.5h0M366.5 1390.7h0M371.1 1392.5h0M377.8 1391.1h0M382.7 1391.4h0M387.7 1392.6h0M393.8 1390.8h0M358.4 1391.3h0M394.7 1392.3h0M364.2 1396.1h0M368.6 1395h0M374.3 1395.2h0M380.7 1395.8h0M385.6 1397h0M390.4 1395.9h0M358.4 1396.6h0M394.2 1396.8h0M361.7 1401h0M365.7 1399.7h0M372.3 1399.2h0M377.3 1400.1h0M383.5 1400.4h0M388.7 1399.7h0M394 1400h0M361.3 1399h0M395.1 1399.3h0M363.9 1404.7h0M368.6 1405.4h0M374.3 1404.2h0M379.2 1404.1h0M385.3 1405.1h0M390.5 1405.1h0M360.5 1404.3h0M393.1 1406h0M367.1 1409.4h0M371 1408.7h0M377.7 1408.4h0M382.8 1408.9h0M387.2 1410.2h0M364.2 1408.1h0M391.4 1408.4h0M369 1413.5h0M374.2 1413h0M379.8 1413.8h0M385 1412.7h0M366.8 1412.9h0M389.4 1413.6h0M372.3 1417.4h0M377.9 1416.8h0M382.1 1416.8h0M369.6 1418.4h0M384.7 1417.5h0M375.2 1422.4h0M379.3 1421.5h0M372 1421.1h0M381.5 1420.9h0M378.1 1426.4h0M375.6 1427h0M379.7 1427.6h0M377 1431h0M376.8 1435.4h0M377 1439.8h0M375.8 1444.2h0M377 1448.6h0M377.9 1453h0M378.7 1457.4h0M378.2 1461.8h0M377.8 1466.2h0M377.6 1470.6h0M375.9 1475h0M377.1 1298.2h0M377.1 1313.8h0M377.5 1317.2h0M376.8 1323.5h0M377.2 1332.9h0M377.3 1484.1h0M377.6 1512h0" fill="none" stroke="#b98a52" stroke-width="7.2" stroke-linecap="round"/>
<line x1="169.7" y1="1395.2" x2="211.1" y2="1395.2" stroke="#ff2e0a" stroke-width="3.7"/>
<line x1="231.9" y1="1401.2" x2="273.3" y2="1401.2" stroke="#ff2e0a" stroke-width="3.7"/>
<line x1="294.3" y1="1394.9" x2="335.7" y2="1394.9" stroke="#1e9aff" stroke-width="3.7"/>
<line x1="356.6" y1="1396" x2="398" y2="1396" stroke="#1e9aff" stroke-width="3.7"/>
<path d="M149.2 1220.7V1563.6H419" fill="none" stroke="#000" stroke-width="3.8" stroke-linejoin="miter"/>
<line x1="134.8" y1="1222.6" x2="149.2" y2="1222.6" stroke="#000" stroke-width="3.8"/>
<text x="125.9" y="1231.6" font-size="25.6" text-anchor="end" transform="translate(125.9 1231.6) scale(1 1.04) translate(-125.9 -1231.6)">1.00</text>
<line x1="134.8" y1="1265.2" x2="149.2" y2="1265.2" stroke="#000" stroke-width="3.8"/>
<text x="125.9" y="1274.2" font-size="25.6" text-anchor="end" transform="translate(125.9 1274.2) scale(1 1.04) translate(-125.9 -1274.2)">0.75</text>
<line x1="134.8" y1="1307.8" x2="149.2" y2="1307.8" stroke="#000" stroke-width="3.8"/>
<text x="125.9" y="1316.8" font-size="25.6" text-anchor="end" transform="translate(125.9 1316.8) scale(1 1.04) translate(-125.9 -1316.8)">0.50</text>
<line x1="134.8" y1="1350.5" x2="149.2" y2="1350.5" stroke="#000" stroke-width="3.8"/>
<text x="125.9" y="1359.5" font-size="25.6" text-anchor="end" transform="translate(125.9 1359.5) scale(1 1.04) translate(-125.9 -1359.5)">0.25</text>
<line x1="134.8" y1="1393.1" x2="149.2" y2="1393.1" stroke="#000" stroke-width="3.8"/>
<text x="125.9" y="1402.1" font-size="25.6" text-anchor="end" transform="translate(125.9 1402.1) scale(1 1.04) translate(-125.9 -1402.1)">0.00</text>
<line x1="134.8" y1="1435.7" x2="149.2" y2="1435.7" stroke="#000" stroke-width="3.8"/>
<text x="125.9" y="1444.7" font-size="25.6" text-anchor="end" transform="translate(125.9 1444.7) scale(1 1.04) translate(-125.9 -1444.7)">-0.25</text>
<line x1="134.8" y1="1478.3" x2="149.2" y2="1478.3" stroke="#000" stroke-width="3.8"/>
<text x="125.9" y="1487.3" font-size="25.6" text-anchor="end" transform="translate(125.9 1487.3) scale(1 1.04) translate(-125.9 -1487.3)">-0.50</text>
<line x1="134.8" y1="1521" x2="149.2" y2="1521" stroke="#000" stroke-width="3.8"/>
<text x="125.9" y="1530" font-size="25.6" text-anchor="end" transform="translate(125.9 1530) scale(1 1.04) translate(-125.9 -1530)">-0.75</text>
<line x1="134.8" y1="1563.6" x2="149.2" y2="1563.6" stroke="#000" stroke-width="3.8"/>
<text x="125.9" y="1572.6" font-size="25.6" text-anchor="end" transform="translate(125.9 1572.6) scale(1 1.04) translate(-125.9 -1572.6)">-1.00</text>
<line x1="190.4" y1="1563.6" x2="190.4" y2="1577.4" stroke="#000" stroke-width="3.8"/>
<line x1="252.6" y1="1563.6" x2="252.6" y2="1577.4" stroke="#000" stroke-width="3.8"/>
<line x1="315" y1="1563.6" x2="315" y2="1577.4" stroke="#000" stroke-width="3.8"/>
<line x1="377.3" y1="1563.6" x2="377.3" y2="1577.4" stroke="#000" stroke-width="3.8"/>
<text x="194.8" y="1593.8" font-size="21.1" text-anchor="end" transform="rotate(-45 194.8 1593.8) translate(194.8 1593.8) scale(1 1.04) translate(-194.8 -1593.8)">all genes (IE/SC)</text>
<text x="257" y="1593.8" font-size="21.1" text-anchor="end" transform="rotate(-45 257 1593.8) translate(257 1593.8) scale(1 1.04) translate(-257 -1593.8)">AP1-related genes (IE/SC)</text>
<text x="319.4" y="1593.8" font-size="21.1" text-anchor="end" transform="rotate(-45 319.4 1593.8) translate(319.4 1593.8) scale(1 1.04) translate(-319.4 -1593.8)">all genes (EE/SC)</text>
<text x="381.7" y="1593.8" font-size="21.1" text-anchor="end" transform="rotate(-45 381.7 1593.8) translate(381.7 1593.8) scale(1 1.04) translate(-381.7 -1593.8)">AP1-related genes (EE/SC)</text>
<text x="285.3" y="1160" font-size="32.3" text-anchor="middle" transform="translate(285.3 1160) scale(1 1.04) translate(-285.3 -1160)">CA1</text>
<line x1="192.4" y1="1199.9" x2="257.6" y2="1199.9" stroke="#000" stroke-width="4.2"/>
<text x="225" y="1204.5" font-size="31.5" text-anchor="middle" letter-spacing="0.5" transform="translate(225 1204.5) scale(1 1.04) translate(-225 -1204.5)">**</text>
<line x1="317.3" y1="1199.9" x2="382.5" y2="1199.9" stroke="#000" stroke-width="4.2"/>
<text x="351.1" y="1191.3" font-size="26" text-anchor="middle" transform="translate(351.1 1191.3) scale(1 1.04) translate(-351.1 -1191.3)">ns</text>
<text x="51.5" y="1393.4" font-size="24.5" text-anchor="middle" transform="rotate(-90 51.5 1393.4) translate(51.5 1393.4) scale(1 1.04) translate(-51.5 -1393.4)">log<tspan dy="5" font-size="16.5">2</tspan><tspan dy="-5"> FC</tspan></text>
<line x1="601.9" y1="1397.3" x2="865.3" y2="1397.3" stroke="#000" stroke-width="3.3" stroke-dasharray="0.01 6.88" stroke-linecap="round"/>
<path d="M637.9 1315.1h0M637.2 1319.5h0M635.9 1323.9h0M637.7 1328.3h0M638.1 1332.7h0M637 1337.1h0M636.5 1341.5h0M636.9 1345.1h0M635.4 1347.4h0M639 1346.6h0M637.5 1349.6h0M635.2 1350.7h0M638.9 1349.1h0M633.7 1354.9h0M640 1354.3h0M634.2 1354.3h0M640.6 1353.6h0M637.8 1358.3h0M633 1359.3h0M641.9 1359.3h0M633.8 1364.5h0M640.5 1364.3h0M631.1 1362.4h0M643.7 1362.9h0M632.2 1367.3h0M637 1368.7h0M641.7 1368.1h0M628.6 1366.5h0M643.4 1369.4h0M629.6 1372.7h0M633.9 1372.7h0M640 1372.1h0M645.2 1373.1h0M627.1 1371.4h0M645.4 1371.3h0M631.3 1376.9h0M636.3 1376.8h0M641.9 1376.9h0M626.6 1377.2h0M645.7 1377.2h0M628.2 1382.2h0M634.4 1381.1h0M639.4 1381.4h0M645.3 1381.8h0M625.6 1381.1h0M650 1382.2h0M626.7 1385.3h0M631.4 1385.7h0M637.6 1385.6h0M642.3 1385.4h0M648.4 1385.1h0M621.7 1386.2h0M652 1386.2h0M623.6 1390.5h0M628.4 1390.2h0M633.4 1389h0M639.5 1389.9h0M644.8 1388.9h0M650.8 1390h0M619.9 1389.4h0M653 1389.1h0M619.9 1395.3h0M626.9 1394.7h0M632.2 1394.1h0M637.4 1393.7h0M642.7 1394.5h0M648.4 1393.4h0M653.6 1393.4h0M619.5 1395.7h0M653.2 1393.6h0M623 1398.3h0M628 1399.7h0M634.8 1398.5h0M639.3 1398.9h0M644.2 1397.6h0M651.1 1398.3h0M619.2 1400h0M655.7 1398.7h0M620.2 1402.6h0M626.9 1404.1h0M631 1403.9h0M636.6 1403.1h0M641.7 1404h0M648.6 1402.4h0M653.3 1402.4h0M620.9 1401.8h0M652.8 1403.8h0M623.1 1408.5h0M629.5 1408h0M633.5 1408h0M640.4 1407.4h0M644.2 1406.9h0M650.1 1408h0M621.3 1406.6h0M651.2 1408h0M626.6 1411.6h0M631.8 1412.9h0M637.1 1411.3h0M641.9 1413h0M648 1411.4h0M624.6 1410.7h0M650.7 1411.8h0M628.9 1416.4h0M633.4 1416.6h0M639.2 1415.7h0M645.5 1415.3h0M625.9 1417.1h0M646.8 1415.7h0M631.6 1420h0M637.6 1421.9h0M641.5 1420.6h0M628.8 1420.4h0M646.6 1420.7h0M633.6 1425.3h0M639.9 1424.8h0M630.4 1426h0M643.9 1425.2h0M632.1 1430h0M636.9 1430.6h0M641.7 1430.2h0M630.9 1429.9h0M641.4 1429.4h0M634.7 1434.6h0M640.1 1433.3h0M632.5 1433.1h0M641.5 1433.9h0M636.1 1438.6h0M633.7 1438.6h0M641.5 1437.4h0M633.6 1441.6h0M639.6 1442.6h0M633.8 1442h0M640.6 1441.5h0M637.6 1447.3h0M634.7 1448h0M638.5 1446.1h0M636.3 1451.5h0M635.5 1455.9h0M636.3 1460.3h0M637.3 1464.7h0M636.9 1286.7h0M636.6 1309.9h0M637 1489.8h0M636.4 1493h0M637.3 1505h0" fill="none" stroke="#000" stroke-width="7.2" stroke-linecap="round"/>
<path d="M697.9 1356.9h0M698.2 1361.3h0M697.9 1365.7h0M699.5 1370.1h0M699.5 1375.1h0M696.1 1374.2h0M700.3 1373.6h0M697 1377.8h0M701.6 1379.5h0M697.4 1377.8h0M701.4 1379.6h0M698.1 1382.6h0M696.3 1382.2h0M702.2 1382.7h0M696.1 1386.6h0M700.8 1388.8h0M695.1 1388.4h0M702.7 1386.9h0M693.6 1391.4h0M698.8 1393.1h0M704.1 1391.7h0M694.2 1392.4h0M703.7 1391.8h0M691.1 1395.4h0M695.9 1396.9h0M702.3 1396.7h0M707.7 1396.4h0M689.8 1397.5h0M707.4 1397.3h0M687.6 1400.5h0M692.9 1401h0M698.3 1400.1h0M703.8 1400.8h0M709.4 1400.7h0M687.3 1401.4h0M712.5 1400h0M685.2 1404.2h0M691.1 1404.9h0M695.8 1404.1h0M701 1404.7h0M706.8 1406.3h0M712.8 1404.7h0M681.9 1404.2h0M716.6 1404.8h0M683.2 1410.2h0M688.8 1408.5h0M693.2 1409.4h0M698.1 1410.6h0M704 1410.3h0M709.7 1408.6h0M714.9 1409h0M680.1 1408.6h0M716.8 1408.3h0M685.1 1413.9h0M690.9 1413.2h0M696.6 1413.5h0M702 1414.5h0M706.4 1413.3h0M712 1414.6h0M682.4 1413.7h0M716.1 1413.2h0M687.7 1418.1h0M693 1417.4h0M698 1418.8h0M704.4 1419.2h0M710.6 1418h0M684.9 1419.7h0M712.6 1419h0M691.1 1424h0M696.9 1422.2h0M701.8 1421.9h0M706.9 1422.6h0M686.4 1422.5h0M709.9 1422.8h0M693.1 1426.4h0M698.7 1427.2h0M703.7 1427.7h0M689.8 1426h0M707 1427h0M695.6 1431.9h0M702 1431.8h0M693.8 1430.2h0M704.2 1431.3h0M698.1 1435.8h0M694.1 1436h0M702.8 1436h0M698.6 1439.9h0M695.6 1440h0M702 1440.7h0M698.2 1444.9h0M699.1 1319h0M698.5 1345.6h0M698.9 1463.8h0" fill="none" stroke="#b98a52" stroke-width="7.2" stroke-linecap="round"/>
<path d="M761.8 1338.6h0M762.9 1343h0M761.1 1347.4h0M761.7 1351.8h0M762.8 1356.2h0M762 1360.9h0M760.2 1360.3h0M762.9 1359.9h0M762.1 1365.9h0M758.6 1366.2h0M763 1363.9h0M758.8 1368.9h0M763.9 1370.5h0M757.1 1368.5h0M764.5 1369.9h0M755.6 1372.6h0M761.6 1373.6h0M766.4 1373.8h0M755.7 1373.9h0M768 1374h0M754 1379.3h0M758.5 1377.8h0M764.9 1377.8h0M770 1378.7h0M753 1379.6h0M771.2 1377.2h0M750.9 1382.6h0M756.2 1382.3h0M761.1 1383.2h0M767 1382h0M771.8 1382.2h0M748.9 1382.6h0M772.4 1381.3h0M747.2 1386.1h0M753.8 1386.1h0M758.7 1387.7h0M764.2 1386.2h0M770.3 1387.9h0M774.2 1386.4h0M746.6 1387.9h0M776.2 1387.7h0M744.9 1391.9h0M750.4 1391h0M756.6 1392.2h0M762.1 1391.6h0M766.8 1391.9h0M772.5 1392.2h0M778.2 1390.5h0M743.6 1391.9h0M778.4 1390.5h0M747.1 1396h0M754.2 1396.9h0M758.1 1396.3h0M764.1 1396.1h0M769.4 1396.8h0M775.9 1394.7h0M744.1 1394.7h0M778.3 1395.2h0M745.7 1401.4h0M750 1399.8h0M755.2 1400.3h0M761.5 1399.9h0M766.6 1400.9h0M772.9 1399.7h0M777.5 1400.5h0M744.6 1401.6h0M778.8 1400.8h0M748.1 1405.3h0M752.8 1403.8h0M758.1 1405.6h0M763.8 1404.6h0M768.9 1404.2h0M774.1 1404.8h0M744.8 1405h0M776.8 1403.8h0M750.7 1408.7h0M755.7 1407.9h0M760.7 1409.9h0M766.6 1408h0M771.7 1409h0M748.5 1408.1h0M776.5 1409h0M753.2 1414.1h0M758.6 1412.3h0M764.3 1413.8h0M769.8 1412.9h0M750.6 1414.5h0M774.6 1413.2h0M756.7 1418.3h0M760.9 1416.7h0M766.3 1416.9h0M750.6 1417.4h0M772 1417.2h0M753.4 1421h0M758.3 1423.3h0M763.3 1422.3h0M770.2 1422.9h0M754 1421.9h0M770.3 1423.2h0M756.6 1427.8h0M760.8 1427.7h0M766.7 1427.1h0M754.6 1427.8h0M766.7 1426.8h0M758.3 1430.7h0M764 1431.4h0M757.5 1430.6h0M766.5 1430.6h0M761.1 1436.4h0M757.6 1434.2h0M764.6 1436.1h0M761 1440.4h0M759.4 1440.3h0M763 1438.6h0M760.4 1444.2h0M761.1 1448.6h0M761.4 1280.5h0M760.9 1290.4h0M761.5 1296.9h0M761.4 1327.4h0M761.3 1329h0M761.5 1467.2h0M762 1485.9h0M761.1 1491.1h0M762 1497.7h0M761.3 1526.9h0M761.8 1550.6h0" fill="none" stroke="#000" stroke-width="7.2" stroke-linecap="round"/>
<path d="M822.6 1336h0M825.3 1340.4h0M823.6 1344.8h0M825.2 1349.2h0M823 1353.6h0M823.5 1358h0M824.4 1362.4h0M820.5 1366.3h0M826.8 1367.9h0M821.1 1365.8h0M825.8 1368.3h0M823.2 1371.5h0M820 1371.6h0M826.6 1371.5h0M821.8 1376.5h0M826.7 1375.6h0M818.5 1374.4h0M830.1 1376.2h0M818.3 1380.4h0M823.7 1379.7h0M828.7 1380.2h0M816.5 1380h0M830.2 1380.4h0M815.6 1384.6h0M821.3 1385.4h0M825.9 1384.3h0M832.8 1385h0M811 1385.1h0M837.4 1384.1h0M808.3 1387.9h0M813.9 1388.8h0M817.9 1389.6h0M824.1 1389.8h0M829.8 1389.5h0M834.6 1390h0M839.2 1389.7h0M807.4 1388h0M841.4 1388.7h0M810.4 1394.1h0M815.2 1392.7h0M821.4 1392.2h0M826.6 1393.9h0M831.9 1392.6h0M837.8 1394h0M806.9 1393.3h0M842.4 1394.1h0M807 1397.3h0M812.3 1396.5h0M818.1 1398.5h0M824.4 1396.7h0M828.6 1397.3h0M835.2 1397.9h0M840.7 1396.6h0M807.2 1396.7h0M841.9 1398.7h0M810.7 1401.3h0M816 1401.8h0M820.2 1401.6h0M826.2 1402.3h0M831.5 1402.2h0M837.7 1401.2h0M805.9 1402.6h0M840.8 1400.9h0M812.3 1407.5h0M818.6 1406.1h0M823.3 1407.6h0M829.5 1407h0M834.3 1405.9h0M809 1405.3h0M838.7 1406.2h0M816.3 1410.6h0M821 1410.8h0M827.3 1410.4h0M832.3 1410.2h0M813.1 1410.2h0M835.6 1410.2h0M819 1415.6h0M823.7 1416.2h0M829 1415.8h0M816.8 1415h0M830 1415h0M820.7 1419.5h0M827.3 1419.1h0M820.6 1420.1h0M826.8 1419.3h0M822.7 1424h0M825 1428.4h0M823.1 1432.8h0M823.6 1437.2h0M823.3 1441.6h0M824.2 1234.3h0M824.2 1246.8h0M823.9 1249.4h0M823.9 1256.7h0M823.3 1280.5h0M824.3 1287.8h0M823.3 1293h0M823.6 1299.5h0M823.6 1315.9h0M824.1 1323h0M824 1455.9h0M823.6 1461.2h0" fill="none" stroke="#b98a52" stroke-width="7.2" stroke-linecap="round"/>
<line x1="616.2" y1="1396.8" x2="657.6" y2="1396.8" stroke="#ff2e0a" stroke-width="3.7"/>
<line x1="678.2" y1="1408.5" x2="719.6" y2="1408.5" stroke="#ff2e0a" stroke-width="3.7"/>
<line x1="740.8" y1="1398.8" x2="782.2" y2="1398.8" stroke="#1e9aff" stroke-width="3.7"/>
<line x1="803.1" y1="1387.6" x2="844.5" y2="1387.6" stroke="#1e9aff" stroke-width="3.7"/>
<path d="M595.7 1225.1V1568.1H865.8" fill="none" stroke="#000" stroke-width="3.8" stroke-linejoin="miter"/>
<line x1="581.3" y1="1227" x2="595.7" y2="1227" stroke="#000" stroke-width="3.8"/>
<text x="572.4" y="1236" font-size="25.6" text-anchor="end" transform="translate(572.4 1236) scale(1 1.04) translate(-572.4 -1236)">1.25</text>
<line x1="581.3" y1="1261.1" x2="595.7" y2="1261.1" stroke="#000" stroke-width="3.8"/>
<text x="572.4" y="1270.1" font-size="25.6" text-anchor="end" transform="translate(572.4 1270.1) scale(1 1.04) translate(-572.4 -1270.1)">1.00</text>
<line x1="581.3" y1="1295.2" x2="595.7" y2="1295.2" stroke="#000" stroke-width="3.8"/>
<text x="572.4" y="1304.2" font-size="25.6" text-anchor="end" transform="translate(572.4 1304.2) scale(1 1.04) translate(-572.4 -1304.2)">0.75</text>
<line x1="581.3" y1="1329.3" x2="595.7" y2="1329.3" stroke="#000" stroke-width="3.8"/>
<text x="572.4" y="1338.3" font-size="25.6" text-anchor="end" transform="translate(572.4 1338.3) scale(1 1.04) translate(-572.4 -1338.3)">0.50</text>
<line x1="581.3" y1="1363.4" x2="595.7" y2="1363.4" stroke="#000" stroke-width="3.8"/>
<text x="572.4" y="1372.4" font-size="25.6" text-anchor="end" transform="translate(572.4 1372.4) scale(1 1.04) translate(-572.4 -1372.4)">0.25</text>
<line x1="581.3" y1="1397.5" x2="595.7" y2="1397.5" stroke="#000" stroke-width="3.8"/>
<text x="572.4" y="1406.5" font-size="25.6" text-anchor="end" transform="translate(572.4 1406.5) scale(1 1.04) translate(-572.4 -1406.5)">0.00</text>
<line x1="581.3" y1="1431.7" x2="595.7" y2="1431.7" stroke="#000" stroke-width="3.8"/>
<text x="572.4" y="1440.7" font-size="25.6" text-anchor="end" transform="translate(572.4 1440.7) scale(1 1.04) translate(-572.4 -1440.7)">-0.25</text>
<line x1="581.3" y1="1465.8" x2="595.7" y2="1465.8" stroke="#000" stroke-width="3.8"/>
<text x="572.4" y="1474.8" font-size="25.6" text-anchor="end" transform="translate(572.4 1474.8) scale(1 1.04) translate(-572.4 -1474.8)">-0.50</text>
<line x1="581.3" y1="1499.9" x2="595.7" y2="1499.9" stroke="#000" stroke-width="3.8"/>
<text x="572.4" y="1508.9" font-size="25.6" text-anchor="end" transform="translate(572.4 1508.9) scale(1 1.04) translate(-572.4 -1508.9)">-0.75</text>
<line x1="581.3" y1="1534" x2="595.7" y2="1534" stroke="#000" stroke-width="3.8"/>
<text x="572.4" y="1543" font-size="25.6" text-anchor="end" transform="translate(572.4 1543) scale(1 1.04) translate(-572.4 -1543)">-1.00</text>
<line x1="581.3" y1="1568.1" x2="595.7" y2="1568.1" stroke="#000" stroke-width="3.8"/>
<text x="572.4" y="1577.1" font-size="25.6" text-anchor="end" transform="translate(572.4 1577.1) scale(1 1.04) translate(-572.4 -1577.1)">-1.25</text>
<line x1="636.9" y1="1568.1" x2="636.9" y2="1581.9" stroke="#000" stroke-width="3.8"/>
<line x1="698.9" y1="1568.1" x2="698.9" y2="1581.9" stroke="#000" stroke-width="3.8"/>
<line x1="761.5" y1="1568.1" x2="761.5" y2="1581.9" stroke="#000" stroke-width="3.8"/>
<line x1="823.8" y1="1568.1" x2="823.8" y2="1581.9" stroke="#000" stroke-width="3.8"/>
<text x="641.3" y="1598.3" font-size="21.1" text-anchor="end" transform="rotate(-45 641.3 1598.3) translate(641.3 1598.3) scale(1 1.04) translate(-641.3 -1598.3)">all genes (IE/SC)</text>
<text x="703.3" y="1598.3" font-size="21.1" text-anchor="end" transform="rotate(-45 703.3 1598.3) translate(703.3 1598.3) scale(1 1.04) translate(-703.3 -1598.3)">AP1-related genes (IE/SC)</text>
<text x="765.9" y="1598.3" font-size="21.1" text-anchor="end" transform="rotate(-45 765.9 1598.3) translate(765.9 1598.3) scale(1 1.04) translate(-765.9 -1598.3)">all genes (EE/SC)</text>
<text x="828.2" y="1598.3" font-size="21.1" text-anchor="end" transform="rotate(-45 828.2 1598.3) translate(828.2 1598.3) scale(1 1.04) translate(-828.2 -1598.3)">AP1-related genes (EE/SC)</text>
<text x="734.4" y="1157.4" font-size="32.3" text-anchor="middle" transform="translate(734.4 1157.4) scale(1 1.04) translate(-734.4 -1157.4)">DG</text>
<line x1="635.6" y1="1199.9" x2="700.8" y2="1199.9" stroke="#000" stroke-width="4.2"/>
<text x="668.2" y="1204.5" font-size="31.5" text-anchor="middle" letter-spacing="0.5" transform="translate(668.2 1204.5) scale(1 1.04) translate(-668.2 -1204.5)">****</text>
<line x1="759.4" y1="1199.9" x2="824.6" y2="1199.9" stroke="#000" stroke-width="4.2"/>
<text x="792" y="1204.5" font-size="31.5" text-anchor="middle" letter-spacing="0.5" transform="translate(792 1204.5) scale(1 1.04) translate(-792 -1204.5)">***</text>
<text x="498" y="1397.3" font-size="24.5" text-anchor="middle" transform="rotate(-90 498 1397.3) translate(498 1397.3) scale(1 1.04) translate(-498 -1397.3)">log<tspan dy="5" font-size="16.5">2</tspan><tspan dy="-5"> FC</tspan></text>
</g>
<g id="pg">
<text x="943.2" y="1161.3" font-size="50.3" font-weight="bold" transform="translate(943.2 1161.3) scale(1 1.04) translate(-943.2 -1161.3)">G</text>
<line x1="1067.3" y1="1158.1" x2="1433.8" y2="1158.1" stroke="#000" stroke-width="1.8"/>
<line x1="1067.3" y1="1280.3" x2="1433.8" y2="1280.3" stroke="#000" stroke-width="1.8"/>
<line x1="1067.3" y1="1398.2" x2="1433.8" y2="1398.2" stroke="#000" stroke-width="1.8"/>
<line x1="1067.3" y1="1487.4" x2="1433.8" y2="1487.4" stroke="#000" stroke-width="1.8"/>
<line x1="1067.3" y1="1579.6" x2="1433.8" y2="1579.6" stroke="#000" stroke-width="1.8"/>
<rect x="1433.8" y="1171.1" width="169.7" height="17" fill="#bc8e55" stroke="#000" stroke-width="2.2"/>
<line x1="1425.6" y1="1179.6" x2="1433.8" y2="1179.6" stroke="#000" stroke-width="1.8"/>
<text x="1421.4" y="1186.2" font-size="19.6" text-anchor="end" transform="translate(1421.4 1186.2) scale(1 1.04) translate(-1421.4 -1186.2)">Neuron development</text>
<rect x="1433.8" y="1200.4" width="143.2" height="17" fill="#bc8e55" stroke="#000" stroke-width="2.2"/>
<line x1="1425.6" y1="1208.9" x2="1433.8" y2="1208.9" stroke="#000" stroke-width="1.8"/>
<text x="1421.4" y="1215.5" font-size="19.6" text-anchor="end" transform="translate(1421.4 1215.5) scale(1 1.04) translate(-1421.4 -1215.5)">Neuron projection development</text>
<rect x="1433.8" y="1229.7" width="141.9" height="17" fill="#bc8e55" stroke="#000" stroke-width="2.2"/>
<line x1="1425.6" y1="1238.2" x2="1433.8" y2="1238.2" stroke="#000" stroke-width="1.8"/>
<text x="1421.4" y="1244.8" font-size="19.6" text-anchor="end" transform="translate(1421.4 1244.8) scale(1 1.04) translate(-1421.4 -1244.8)">Nervous system development</text>
<rect x="1433.8" y="1259" width="140.3" height="17" fill="#bc8e55" stroke="#000" stroke-width="2.2"/>
<line x1="1425.6" y1="1267.5" x2="1433.8" y2="1267.5" stroke="#000" stroke-width="1.8"/>
<text x="1421.4" y="1274.1" font-size="19.6" text-anchor="end" transform="translate(1421.4 1274.1) scale(1 1.04) translate(-1421.4 -1274.1)">Neuron differentiation</text>
<rect x="1433.8" y="1288.3" width="317.4" height="17" fill="#bc8e55" stroke="#000" stroke-width="2.2"/>
<line x1="1425.6" y1="1296.8" x2="1433.8" y2="1296.8" stroke="#000" stroke-width="1.8"/>
<text x="1421.4" y="1303.4" font-size="19.6" text-anchor="end" transform="translate(1421.4 1303.4) scale(1 1.04) translate(-1421.4 -1303.4)">Synapse</text>
<rect x="1433.8" y="1317.6" width="292.8" height="17" fill="#bc8e55" stroke="#000" stroke-width="2.2"/>
<line x1="1425.6" y1="1326.1" x2="1433.8" y2="1326.1" stroke="#000" stroke-width="1.8"/>
<text x="1421.4" y="1332.7" font-size="19.6" text-anchor="end" transform="translate(1421.4 1332.7) scale(1 1.04) translate(-1421.4 -1332.7)">Cell junction</text>
<rect x="1433.8" y="1347" width="196.6" height="17" fill="#bc8e55" stroke="#000" stroke-width="2.2"/>
<line x1="1425.6" y1="1355.5" x2="1433.8" y2="1355.5" stroke="#000" stroke-width="1.8"/>
<text x="1421.4" y="1362.1" font-size="19.6" text-anchor="end" transform="translate(1421.4 1362.1) scale(1 1.04) translate(-1421.4 -1362.1)">Postsynapse</text>
<rect x="1433.8" y="1376.3" width="153.1" height="17" fill="#bc8e55" stroke="#000" stroke-width="2.2"/>
<line x1="1425.6" y1="1384.8" x2="1433.8" y2="1384.8" stroke="#000" stroke-width="1.8"/>
<text x="1421.4" y="1391.4" font-size="19.6" text-anchor="end" transform="translate(1421.4 1391.4) scale(1 1.04) translate(-1421.4 -1391.4)">Synaptic membrane</text>
<rect x="1433.8" y="1405.6" width="70" height="17" fill="#bc8e55" stroke="#000" stroke-width="2.2"/>
<line x1="1425.6" y1="1414.1" x2="1433.8" y2="1414.1" stroke="#000" stroke-width="1.8"/>
<text x="1421.4" y="1420.7" font-size="19.6" text-anchor="end" transform="translate(1421.4 1420.7) scale(1 1.04) translate(-1421.4 -1420.7)">Cell adhesion molecules</text>
<rect x="1433.8" y="1434.9" width="40.2" height="17" fill="#bc8e55" stroke="#000" stroke-width="2.2"/>
<line x1="1425.6" y1="1443.4" x2="1433.8" y2="1443.4" stroke="#000" stroke-width="1.8"/>
<text x="1421.4" y="1450" font-size="19.6" text-anchor="end" transform="translate(1421.4 1450) scale(1 1.04) translate(-1421.4 -1450)">GnRH secretion</text>
<rect x="1433.8" y="1464.2" width="33.2" height="17" fill="#bc8e55" stroke="#000" stroke-width="2.2"/>
<line x1="1425.6" y1="1472.7" x2="1433.8" y2="1472.7" stroke="#000" stroke-width="1.8"/>
<text x="1421.4" y="1479.3" font-size="19.6" text-anchor="end" transform="translate(1421.4 1479.3) scale(1 1.04) translate(-1421.4 -1479.3)">Circadian entrainment</text>
<rect x="1433.8" y="1493.5" width="142.2" height="17" fill="#bc8e55" stroke="#000" stroke-width="2.2"/>
<line x1="1425.6" y1="1502" x2="1433.8" y2="1502" stroke="#000" stroke-width="1.8"/>
<text x="1421.4" y="1508.6" font-size="19.6" text-anchor="end" transform="translate(1421.4 1508.6) scale(1 1.04) translate(-1421.4 -1508.6)">Neuronal System</text>
<rect x="1433.8" y="1522.8" width="55.6" height="17" fill="#bc8e55" stroke="#000" stroke-width="2.2"/>
<line x1="1425.6" y1="1531.3" x2="1433.8" y2="1531.3" stroke="#000" stroke-width="1.8"/>
<text x="1421.4" y="1537.9" font-size="19.6" text-anchor="end" transform="translate(1421.4 1537.9) scale(1 1.04) translate(-1421.4 -1537.9)">Regulation of insulin secretion</text>
<rect x="1433.8" y="1552.1" width="43.8" height="17" fill="#bc8e55" stroke="#000" stroke-width="2.2"/>
<line x1="1425.6" y1="1560.6" x2="1433.8" y2="1560.6" stroke="#000" stroke-width="1.8"/>
<text x="1421.4" y="1567.2" font-size="19.6" text-anchor="end" transform="translate(1421.4 1567.2) scale(1 1.04) translate(-1421.4 -1567.2)">Protein-protein interactions at synapses</text>
<path d="M1433.8 1157.2V1587.9M1432.8 1579.8H1814.4" fill="none" stroke="#000" stroke-width="2.1"/>
<line x1="1433.8" y1="1579.8" x2="1433.8" y2="1588" stroke="#000" stroke-width="2.1"/>
<text x="1433.8" y="1609.6" font-size="17.3" text-anchor="middle" transform="translate(1433.8 1609.6) scale(1 1.04) translate(-1433.8 -1609.6)">0</text>
<line x1="1509.7" y1="1579.8" x2="1509.7" y2="1588" stroke="#000" stroke-width="2.1"/>
<text x="1509.7" y="1609.6" font-size="17.3" text-anchor="middle" transform="translate(1509.7 1609.6) scale(1 1.04) translate(-1509.7 -1609.6)">3</text>
<line x1="1585.6" y1="1579.8" x2="1585.6" y2="1588" stroke="#000" stroke-width="2.1"/>
<text x="1585.6" y="1609.6" font-size="17.3" text-anchor="middle" transform="translate(1585.6 1609.6) scale(1 1.04) translate(-1585.6 -1609.6)">6</text>
<line x1="1661.5" y1="1579.8" x2="1661.5" y2="1588" stroke="#000" stroke-width="2.1"/>
<text x="1661.5" y="1609.6" font-size="17.3" text-anchor="middle" transform="translate(1661.5 1609.6) scale(1 1.04) translate(-1661.5 -1609.6)">9</text>
<line x1="1737.4" y1="1579.8" x2="1737.4" y2="1588" stroke="#000" stroke-width="2.1"/>
<text x="1737.4" y="1609.6" font-size="17.3" text-anchor="middle" transform="translate(1737.4 1609.6) scale(1 1.04) translate(-1737.4 -1609.6)">12</text>
<line x1="1813.3" y1="1579.8" x2="1813.3" y2="1588" stroke="#000" stroke-width="2.1"/>
<text x="1813.3" y="1609.6" font-size="17.3" text-anchor="middle" transform="translate(1813.3 1609.6) scale(1 1.04) translate(-1813.3 -1609.6)">15</text>
<text x="1623.8" y="1636.1" font-size="20.6" text-anchor="middle" transform="translate(1623.8 1636.1) scale(1 1.04) translate(-1623.8 -1636.1)">-log<tspan dy="5.2" font-size="14.5">10</tspan><tspan dy="-5.2"> padj</tspan></text>
<text x="1057.8" y="1226.3" font-size="25.2" text-anchor="end" transform="translate(1057.8 1226.3) scale(1 1.04) translate(-1057.8 -1226.3)">BP</text>
<text x="1057.8" y="1346.5" font-size="25.2" text-anchor="end" transform="translate(1057.8 1346.5) scale(1 1.04) translate(-1057.8 -1346.5)">CC</text>
<text x="1057.8" y="1451.5" font-size="25.2" text-anchor="end" transform="translate(1057.8 1451.5) scale(1 1.04) translate(-1057.8 -1451.5)">KEGG</text>
<text x="1057.8" y="1542" font-size="25.2" text-anchor="end" transform="translate(1057.8 1542) scale(1 1.04) translate(-1057.8 -1542)">Reactome</text>
</g>
<g id="ph">
<text x="4" y="1873.1" font-size="50.3" font-weight="bold" textLength="34.5" lengthAdjust="spacingAndGlyphs" transform="translate(4 1873.1) scale(1 1.04) translate(-4 -1873.1)">H</text>
<path d="M338.3 2021.7L338.3 1988.3A65.3 65.3 0 0 1 338.3 2118.9L338.3 2085.5A31.9 31.9 0 0 0 338.3 2021.7Z" fill="#d1353f" stroke="#fff" stroke-width="1" stroke-linejoin="round"/><path d="M338.3 2085.5L338.3 2118.9A65.3 65.3 0 0 1 307.6 1995.9L323.3 2025.4A31.9 31.9 0 0 0 338.3 2085.5Z" fill="#a34e79" stroke="#fff" stroke-width="1" stroke-linejoin="round"/><path d="M323.3 2025.4L307.6 1995.9A65.3 65.3 0 0 1 324.7 1989.7L331.7 2022.4A31.9 31.9 0 0 0 323.3 2025.4ZM331.7 2022.4L324.7 1989.7A65.3 65.3 0 0 1 331.5 1988.7L335 2021.9A31.9 31.9 0 0 0 331.7 2022.4ZM335 2021.9L331.5 1988.7A65.3 65.3 0 0 1 338.3 1988.3L338.3 2021.7A31.9 31.9 0 0 0 335 2021.9ZM392 2016.4L419 1997.7A98.2 98.2 0 0 1 435.8 2041.6L403.1 2045.6A65.3 65.3 0 0 0 392 2016.4ZM403.1 2045.6L435.8 2041.6A98.2 98.2 0 0 1 429.7 2089.6L399.1 2077.5A65.3 65.3 0 0 0 403.1 2045.6ZM387.1 2097L411.7 2118.8A98.2 98.2 0 0 1 394.2 2134.3L375.5 2107.3A65.3 65.3 0 0 0 387.1 2097ZM375.5 2107.3L394.2 2134.3A98.2 98.2 0 0 1 383.3 2140.9L368.2 2111.6A65.3 65.3 0 0 0 375.5 2107.3ZM368.2 2111.6L383.3 2140.9A98.2 98.2 0 0 1 373.3 2145.3L361.6 2114.6A65.3 65.3 0 0 0 368.2 2111.6ZM361.6 2114.6L373.3 2145.3A98.2 98.2 0 0 1 361.6 2149L353.8 2117A65.3 65.3 0 0 0 361.6 2114.6ZM353.8 2117L361.6 2149A98.2 98.2 0 0 1 349.9 2151.1L346 2118.4A65.3 65.3 0 0 0 353.8 2117ZM346 2118.4L349.9 2151.1A98.2 98.2 0 0 1 338.3 2151.8L338.3 2118.9A65.3 65.3 0 0 0 346 2118.4ZM308.7 2111.8L293.7 2141.1A98.2 98.2 0 0 1 257.9 2109.9L284.8 2091.1A65.3 65.3 0 0 0 308.7 2111.8ZM284.8 2091.1L257.9 2109.9A98.2 98.2 0 0 1 242.9 2077L274.9 2069.2A65.3 65.3 0 0 0 284.8 2091.1ZM273.4 2046.3L240.7 2042.7A98.2 98.2 0 0 1 246.4 2019L277.2 2030.6A65.3 65.3 0 0 0 273.4 2046.3ZM277.2 2030.6L246.4 2019A98.2 98.2 0 0 1 257.6 1997.7L284.6 2016.4A65.3 65.3 0 0 0 277.2 2030.6ZM284.6 2016.4L257.6 1997.7A98.2 98.2 0 0 1 265.3 1987.9L289.8 2009.9A65.3 65.3 0 0 0 284.6 2016.4ZM289.8 2009.9L265.3 1987.9A98.2 98.2 0 0 1 273.9 1979.5L295.5 2004.3A65.3 65.3 0 0 0 289.8 2009.9ZM295.5 2004.3L273.9 1979.5A98.2 98.2 0 0 1 283 1972.5L301.5 1999.7A65.3 65.3 0 0 0 295.5 2004.3ZM301.5 1999.7L283 1972.5A98.2 98.2 0 0 1 292.2 1966.9L307.6 1995.9A65.3 65.3 0 0 0 301.5 1999.7ZM307.6 1995.9L292.2 1966.9A98.2 98.2 0 0 1 303.7 1961.7L315.3 1992.5A65.3 65.3 0 0 0 307.6 1995.9ZM315.3 1992.5L303.7 1961.7A98.2 98.2 0 0 1 314.5 1958.3L322.5 1990.2A65.3 65.3 0 0 0 315.3 1992.5ZM322.5 1990.2L314.5 1958.3A98.2 98.2 0 0 1 325.5 1956.2L329.8 1988.9A65.3 65.3 0 0 0 322.5 1990.2ZM329.8 1988.9L325.5 1956.2A98.2 98.2 0 0 1 338.3 1955.4L338.3 1988.3A65.3 65.3 0 0 0 329.8 1988.9ZM383.5 1966.4L398.7 1937.1A131.2 131.2 0 0 1 425.6 1955.6L403.6 1980.3A98.2 98.2 0 0 0 383.5 1966.4ZM403.6 1980.3L425.6 1955.6A131.2 131.2 0 0 1 437.3 1967.5L412.4 1989.2A98.2 98.2 0 0 0 403.6 1980.3ZM412.4 1989.2L437.3 1967.5A131.2 131.2 0 0 1 446.2 1978.9L419 1997.7A98.2 98.2 0 0 0 412.4 1989.2ZM419 1997.7L446.2 1978.9A131.2 131.2 0 0 1 455.1 1993.8L425.7 2008.9A98.2 98.2 0 0 0 419 1997.7ZM425.7 2008.9L455.1 1993.8A131.2 131.2 0 0 1 461.3 2007.9L430.3 2019.4A98.2 98.2 0 0 0 425.7 2008.9ZM430.3 2019.4L461.3 2007.9A131.2 131.2 0 0 1 465.8 2022.5L433.7 2030.3A98.2 98.2 0 0 0 430.3 2019.4ZM433.7 2030.3L465.8 2022.5A131.2 131.2 0 0 1 468.6 2038.3L435.8 2042.1A98.2 98.2 0 0 0 433.7 2030.3ZM435.8 2042.1L468.6 2038.3A131.2 131.2 0 0 1 468.4 2070.7L435.7 2066.4A98.2 98.2 0 0 0 435.8 2042.1ZM435.7 2066.4L468.4 2070.7A131.2 131.2 0 0 1 465.5 2085.8L433.5 2077.7A98.2 98.2 0 0 0 435.7 2066.4ZM433.5 2077.7L465.5 2085.8A131.2 131.2 0 0 1 460.4 2101.7L429.7 2089.6A98.2 98.2 0 0 0 433.5 2077.7ZM429.7 2089.6L460.4 2101.7A131.2 131.2 0 0 1 454.5 2114.6L425.2 2099.2A98.2 98.2 0 0 0 429.7 2089.6ZM425.2 2099.2L454.5 2114.6A131.2 131.2 0 0 1 446.2 2128.3L419 2109.5A98.2 98.2 0 0 0 425.2 2099.2ZM412 2118.5L436.7 2140.4A131.2 131.2 0 0 1 424.7 2152.3L403 2127.5A98.2 98.2 0 0 0 412 2118.5ZM403 2127.5L424.7 2152.3A131.2 131.2 0 0 1 414.3 2160.5L395.2 2133.6A98.2 98.2 0 0 0 403 2127.5ZM395.2 2133.6L414.3 2160.5A131.2 131.2 0 0 1 399.1 2169.9L383.8 2140.6A98.2 98.2 0 0 0 395.2 2133.6ZM383.8 2140.6L399.1 2169.9A131.2 131.2 0 0 1 385.3 2176.1L373.5 2145.3A98.2 98.2 0 0 0 383.8 2140.6ZM361.6 2149L369.4 2181.1A131.2 131.2 0 0 1 354.3 2183.8L350.3 2151.1A98.2 98.2 0 0 0 361.6 2149ZM338.3 2151.8L338.3 2184.8A131.2 131.2 0 0 1 291.9 2176.3L303.6 2145.5A98.2 98.2 0 0 0 338.3 2151.8ZM303.6 2145.5L291.9 2176.3A131.2 131.2 0 0 1 276.9 2169.6L292.3 2140.4A98.2 98.2 0 0 0 303.6 2145.5ZM265.3 2119.3L240.8 2141.4A131.2 131.2 0 0 1 231.2 2129.4L258.2 2110.3A98.2 98.2 0 0 0 265.3 2119.3ZM258.2 2110.3L231.2 2129.4A131.2 131.2 0 0 1 216.3 2101.9L247 2089.7A98.2 98.2 0 0 0 258.2 2110.3ZM247 2089.7L216.3 2101.9A131.2 131.2 0 0 1 210.9 2084.9L242.9 2077A98.2 98.2 0 0 0 247 2089.7ZM242.9 2077L210.9 2084.9A131.2 131.2 0 0 1 208.2 2070.3L240.9 2066.1A98.2 98.2 0 0 0 242.9 2077ZM240.9 2066.1L208.2 2070.3A131.2 131.2 0 0 1 207.1 2053.6L240.1 2053.6A98.2 98.2 0 0 0 240.9 2066.1ZM240.7 2042.7L207.9 2039A131.2 131.2 0 0 1 211 2021.9L243 2029.8A98.2 98.2 0 0 0 240.7 2042.7ZM243 2029.8L211 2021.9A131.2 131.2 0 0 1 215.5 2007.4L246.4 2019A98.2 98.2 0 0 0 243 2029.8ZM246.4 2019L215.5 2007.4A131.2 131.2 0 0 1 221.6 1993.6L251 2008.7A98.2 98.2 0 0 0 246.4 2019ZM251 2008.7L221.6 1993.6A131.2 131.2 0 0 1 230.2 1979.3L257.4 1998A98.2 98.2 0 0 0 251 2008.7ZM265.3 1987.9L240.8 1965.8A131.2 131.2 0 0 1 251.9 1954.9L273.6 1979.7A98.2 98.2 0 0 0 265.3 1987.9ZM273.6 1979.7L251.9 1954.9A131.2 131.2 0 0 1 264.4 1945.2L283 1972.5A98.2 98.2 0 0 0 273.6 1979.7ZM398.9 1937.2L414 1908.1A164 164 0 0 1 431.4 1918.6L412.8 1945.6A131.2 131.2 0 0 0 398.9 1937.2ZM412.8 1945.6L431.4 1918.6A164 164 0 0 1 446.3 1930.2L424.7 1954.9A131.2 131.2 0 0 0 412.8 1945.6ZM437.3 1967.5L462.1 1946A164 164 0 0 1 473.1 1960.2L446.2 1978.9A131.2 131.2 0 0 0 437.3 1967.5ZM468.6 2038.3L501.2 2034.5A164 164 0 0 1 502.3 2053.6L469.5 2053.6A131.2 131.2 0 0 0 468.6 2038.3ZM469.5 2053.6L502.3 2053.6A164 164 0 0 1 500.9 2075L468.4 2070.7A131.2 131.2 0 0 0 469.5 2053.6ZM468.4 2070.7L500.9 2075A164 164 0 0 1 497.3 2093.8L465.5 2085.8A131.2 131.2 0 0 0 468.4 2070.7ZM465.5 2085.8L497.3 2093.8A164 164 0 0 1 490.9 2113.7L460.4 2101.7A131.2 131.2 0 0 0 465.5 2085.8ZM436.7 2140.4L461.3 2162.1A164 164 0 0 1 446.3 2177L424.7 2152.3A131.2 131.2 0 0 0 436.7 2140.4ZM424.7 2152.3L446.3 2177A164 164 0 0 1 433.3 2187.3L414.3 2160.5A131.2 131.2 0 0 0 424.7 2152.3ZM399.1 2169.9L414.3 2198.9A164 164 0 0 1 397.1 2206.7L385.3 2176.1A131.2 131.2 0 0 0 399.1 2169.9ZM338.3 2184.8L338.3 2217.6A164 164 0 0 1 318.9 2216.4L322.8 2183.9A131.2 131.2 0 0 0 338.3 2184.8ZM322.8 2183.9L318.9 2216.4A164 164 0 0 1 298.6 2212.7L306.6 2180.9A131.2 131.2 0 0 0 322.8 2183.9ZM276.9 2169.6L261.6 2198.5A164 164 0 0 1 244.9 2188.4L263.6 2161.5A131.2 131.2 0 0 0 276.9 2169.6ZM263.6 2161.5L244.9 2188.4A164 164 0 0 1 230.3 2177L251.9 2152.3A131.2 131.2 0 0 0 263.6 2161.5ZM251.9 2152.3L230.3 2177A164 164 0 0 1 216.8 2163.8L241.1 2141.7A131.2 131.2 0 0 0 251.9 2152.3ZM230.2 2127.9L203.1 2146.5A164 164 0 0 1 192.7 2129.1L221.8 2114A131.2 131.2 0 0 0 230.2 2127.9ZM221.8 2114L192.7 2129.1A164 164 0 0 1 185.6 2113.4L216.1 2101.5A131.2 131.2 0 0 0 221.8 2114ZM215.5 2007.4L184.8 1995.9A164 164 0 0 1 192.4 1978.6L221.6 1993.6A131.2 131.2 0 0 0 215.5 2007.4ZM221.6 1993.6L192.4 1978.6A164 164 0 0 1 203.1 1960.7L230.2 1979.3A131.2 131.2 0 0 0 221.6 1993.6ZM240.8 1965.8L216.4 1943.9A164 164 0 0 1 230.3 1930.2L251.9 1954.9A131.2 131.2 0 0 0 240.8 1965.8ZM251.9 1954.9L230.3 1930.2A164 164 0 0 1 245.9 1918.1L264.4 1945.2A131.2 131.2 0 0 0 251.9 1954.9ZM338.3 1889.6L338.3 1856.2A197.4 197.4 0 0 1 361.3 1857.5L357.4 1890.7A164 164 0 0 0 338.3 1889.6ZM501.2 2034.5L534.4 2030.6A197.4 197.4 0 0 1 535.7 2053.6L502.3 2053.6A164 164 0 0 0 501.2 2034.5ZM502.3 2053.6L535.7 2053.6A197.4 197.4 0 0 1 534 2079.4L500.9 2075A164 164 0 0 0 502.3 2053.6ZM497.3 2093.8L529.7 2102A197.4 197.4 0 0 1 522 2125.9L490.9 2113.7A164 164 0 0 0 497.3 2093.8ZM446.3 2177L468.3 2202.1A197.4 197.4 0 0 1 452.7 2214.5L433.3 2187.3A164 164 0 0 0 446.3 2177ZM192.4 1978.6L162.7 1963.4A197.4 197.4 0 0 1 175.6 1941.8L203.1 1960.7A164 164 0 0 0 192.4 1978.6Z" fill="#cdcdcd" stroke="#fff" stroke-width="1" stroke-linejoin="round"/><path d="M338.3 1988.3L338.3 1955.4A98.2 98.2 0 0 1 419 1997.7L392 2016.4A65.3 65.3 0 0 0 338.3 1988.3ZM338.3 1955.4L338.3 1922.4A131.2 131.2 0 0 1 398.7 1937.1L383.5 1966.4A98.2 98.2 0 0 0 338.3 1955.4Z" fill="#a84b70" stroke="#fff" stroke-width="1" stroke-linejoin="round"/><path d="M399.1 2077.5L429.7 2089.6A98.2 98.2 0 0 1 411.7 2118.8L387.1 2097A65.3 65.3 0 0 0 399.1 2077.5Z" fill="#95a9d9" stroke="#fff" stroke-width="1" stroke-linejoin="round"/><path d="M338.3 2118.9L338.3 2151.8A98.2 98.2 0 0 1 293.7 2141.1L308.7 2111.8A65.3 65.3 0 0 0 338.3 2118.9ZM274.9 2069.2L242.9 2077A98.2 98.2 0 0 1 240.7 2042.7L273.4 2046.3A65.3 65.3 0 0 0 274.9 2069.2ZM240.1 2053.6L207.1 2053.6A131.2 131.2 0 0 1 207.9 2039L240.7 2042.7A98.2 98.2 0 0 0 240.1 2053.6ZM306.6 2180.9L298.6 2212.7A164 164 0 0 1 281.1 2207.3L292.6 2176.6A131.2 131.2 0 0 0 306.6 2180.9Z" fill="#7a6bb6" stroke="#fff" stroke-width="1" stroke-linejoin="round"/><path d="M419 2109.5L446.2 2128.3A131.2 131.2 0 0 1 436.7 2140.4L412 2118.5A98.2 98.2 0 0 0 419 2109.5Z" fill="#90a7da" stroke="#fff" stroke-width="1" stroke-linejoin="round"/><path d="M292.3 2140.4L276.9 2169.6A131.2 131.2 0 0 1 240.8 2141.4L265.3 2119.3A98.2 98.2 0 0 0 292.3 2140.4Z" fill="#777777" stroke="#fff" stroke-width="1" stroke-linejoin="round"/><path d="M338.3 1922.4L338.3 1889.6A164 164 0 0 1 395.7 1900L384.2 1930.7A131.2 131.2 0 0 0 338.3 1922.4Z" fill="#96578c" stroke="#fff" stroke-width="1" stroke-linejoin="round"/><path d="M384.2 1930.7L395.7 1900A164 164 0 0 1 414 1908.1L398.9 1937.2A131.2 131.2 0 0 0 384.2 1930.7Z" fill="#99b9e1" stroke="#fff" stroke-width="1" stroke-linejoin="round"/><path d="M357.4 1890.7L361.3 1857.5A197.4 197.4 0 0 1 385.4 1861.9L377.4 1894.3A164 164 0 0 0 357.4 1890.7Z" fill="#8e9fd4" stroke="#fff" stroke-width="1" stroke-linejoin="round"/><path d="M377.4 1894.3L385.4 1861.9A197.4 197.4 0 0 1 407.4 1868.7L395.7 1900A164 164 0 0 0 377.4 1894.3Z" fill="#7b67b1" stroke="#fff" stroke-width="1" stroke-linejoin="round"/><circle cx="338.3" cy="2053.6" r="31.5" fill="#ff1500" stroke="#fff" stroke-width="1"/>
<path d="M896.6 2033.7L896.6 2001.9A63.1 63.1 0 0 1 959.6 2069.2L927.8 2067.1A31.3 31.3 0 0 0 896.6 2033.7Z" fill="#ff0000" stroke="#fff" stroke-width="1" stroke-linejoin="round"/><path d="M927.8 2067.1L959.6 2069.2A63.1 63.1 0 0 1 896.6 2128.1L896.6 2096.3A31.3 31.3 0 0 0 927.8 2067.1Z" fill="#8b5a96" stroke="#fff" stroke-width="1" stroke-linejoin="round"/><path d="M896.6 2096.3L896.6 2128.1A63.1 63.1 0 0 1 849 2106.4L873 2085.5A31.3 31.3 0 0 0 896.6 2096.3ZM849 2106.4L825.4 2126.9A94.4 94.4 0 0 1 802.4 2071.6L833.7 2069.4A63.1 63.1 0 0 0 849 2106.4Z" fill="#b5455f" stroke="#fff" stroke-width="1" stroke-linejoin="round"/><path d="M873 2085.5L849 2106.4A63.1 63.1 0 0 1 833.5 2063.9L865.3 2064.5A31.3 31.3 0 0 0 873 2085.5ZM865.3 2064.5L833.5 2063.9A63.1 63.1 0 0 1 852.8 2019.6L874.9 2042.5A31.3 31.3 0 0 0 865.3 2064.5ZM934.5 2014.5L953.3 1989.5A94.4 94.4 0 0 1 966.8 2001.8L943.5 2022.8A63.1 63.1 0 0 0 934.5 2014.5ZM952.3 2035.4L980 2020.7A94.4 94.4 0 0 1 982.5 2025.9L954 2038.8A63.1 63.1 0 0 0 952.3 2035.4ZM954 2038.8L982.5 2025.9A94.4 94.4 0 0 1 984.7 2031.2L955.5 2042.4A63.1 63.1 0 0 0 954 2038.8ZM955.5 2042.4L984.7 2031.2A94.4 94.4 0 0 1 986.6 2036.6L956.8 2046A63.1 63.1 0 0 0 955.5 2042.4ZM956.8 2046L986.6 2036.6A94.4 94.4 0 0 1 988.2 2042.2L957.8 2049.7A63.1 63.1 0 0 0 956.8 2046ZM958.3 2051.7L988.9 2045.1A94.4 94.4 0 0 1 990.2 2052.7L959.2 2056.8A63.1 63.1 0 0 0 958.3 2051.7ZM959.2 2056.8L990.2 2052.7A94.4 94.4 0 0 1 990.9 2060.1L959.6 2061.7A63.1 63.1 0 0 0 959.2 2056.8ZM959.7 2064.2L991 2063.8A94.4 94.4 0 0 1 990.8 2071.3L959.6 2069.2A63.1 63.1 0 0 0 959.7 2064.2ZM916.4 2124.9L926.2 2154.6A94.4 94.4 0 0 1 920.5 2156.3L912.5 2126.1A63.1 63.1 0 0 0 916.4 2124.9ZM912.5 2126.1L920.5 2156.3A94.4 94.4 0 0 1 914.6 2157.7L908.6 2126.9A63.1 63.1 0 0 0 912.5 2126.1ZM908.6 2126.9L914.6 2157.7A94.4 94.4 0 0 1 908.6 2158.6L904.6 2127.6A63.1 63.1 0 0 0 908.6 2126.9ZM904.6 2127.6L908.6 2158.6A94.4 94.4 0 0 1 902.6 2159.2L900.6 2128A63.1 63.1 0 0 0 904.6 2127.6ZM900.6 2128L902.6 2159.2A94.4 94.4 0 0 1 896.6 2159.4L896.6 2128.1A63.1 63.1 0 0 0 900.6 2128ZM859.2 2115.9L840.7 2141.1A94.4 94.4 0 0 1 836.6 2137.9L856.5 2113.7A63.1 63.1 0 0 0 859.2 2115.9ZM856.5 2113.7L836.6 2137.9A94.4 94.4 0 0 1 832.6 2134.4L853.8 2111.4A63.1 63.1 0 0 0 856.5 2113.7ZM853.8 2111.4L832.6 2134.4A94.4 94.4 0 0 1 828.9 2130.8L851.3 2109A63.1 63.1 0 0 0 853.8 2111.4ZM851.3 2109L828.9 2130.8A94.4 94.4 0 0 1 825.4 2126.9L849 2106.4A63.1 63.1 0 0 0 851.3 2109ZM833.7 2069.4L802.4 2071.6A94.4 94.4 0 0 1 802.2 2067.5L833.5 2066.7A63.1 63.1 0 0 0 833.7 2069.4ZM833.5 2066.7L802.2 2067.5A94.4 94.4 0 0 1 802.2 2063.4L833.5 2063.9A63.1 63.1 0 0 0 833.5 2066.7ZM833.5 2063.9L802.2 2063.4A94.4 94.4 0 0 1 803 2052.7L834 2056.8A63.1 63.1 0 0 0 833.5 2063.9ZM834 2056.8L803 2052.7A94.4 94.4 0 0 1 805.2 2041.4L835.5 2049.2A63.1 63.1 0 0 0 834 2056.8ZM835.5 2049.2L805.2 2041.4A94.4 94.4 0 0 1 807.9 2032.7L837.3 2043.4A63.1 63.1 0 0 0 835.5 2049.2ZM837.3 2043.4L807.9 2032.7A94.4 94.4 0 0 1 814.8 2017.8L842 2033.5A63.1 63.1 0 0 0 837.3 2043.4ZM842 2033.5L814.8 2017.8A94.4 94.4 0 0 1 817.6 2013.3L843.8 2030.4A63.1 63.1 0 0 0 842 2033.5ZM843.8 2030.4L817.6 2013.3A94.4 94.4 0 0 1 820.6 2009L845.8 2027.6A63.1 63.1 0 0 0 843.8 2030.4ZM845.8 2027.6L820.6 2009A94.4 94.4 0 0 1 823.9 2004.8L848 2024.8A63.1 63.1 0 0 0 845.8 2027.6ZM848 2024.8L823.9 2004.8A94.4 94.4 0 0 1 827.3 2000.9L850.3 2022.1A63.1 63.1 0 0 0 848 2024.8ZM850.3 2022.1L827.3 2000.9A94.4 94.4 0 0 1 831 1997.1L852.8 2019.6A63.1 63.1 0 0 0 850.3 2022.1ZM852.8 2019.6L831 1997.1A94.4 94.4 0 0 1 879.7 1972.1L885.3 2002.9A63.1 63.1 0 0 0 852.8 2019.6ZM885.3 2002.9L879.7 1972.1A94.4 94.4 0 0 1 885.3 1971.3L889.1 2002.4A63.1 63.1 0 0 0 885.3 2002.9ZM889.1 2002.4L885.3 1971.3A94.4 94.4 0 0 1 890.9 1970.8L892.8 2002A63.1 63.1 0 0 0 889.1 2002.4ZM892.8 2002L890.9 1970.8A94.4 94.4 0 0 1 896.6 1970.6L896.6 2001.9A63.1 63.1 0 0 0 892.8 2002ZM896.6 1970.6L896.6 1938.9A126.1 126.1 0 0 1 922.8 1941.7L916.2 1972.7A94.4 94.4 0 0 0 896.6 1970.6ZM916.2 1972.7L922.8 1941.7A126.1 126.1 0 0 1 936.4 1945.3L926.4 1975.4A94.4 94.4 0 0 0 916.2 1972.7ZM935.9 1979.2L949.1 1950.3A126.1 126.1 0 0 1 961.5 1956.9L945.2 1984.1A94.4 94.4 0 0 0 935.9 1979.2ZM945.2 1984.1L961.5 1956.9A126.1 126.1 0 0 1 968 1961.1L950.1 1987.2A94.4 94.4 0 0 0 945.2 1984.1ZM950.1 1987.2L968 1961.1A126.1 126.1 0 0 1 974.2 1965.6L954.7 1990.6A94.4 94.4 0 0 0 950.1 1987.2ZM971 2006.9L996 1987.4A126.1 126.1 0 0 1 1000.8 1994L974.6 2011.9A94.4 94.4 0 0 0 971 2006.9ZM974.6 2011.9L1000.8 1994A126.1 126.1 0 0 1 1005.2 2001L977.9 2017.1A94.4 94.4 0 0 0 974.6 2011.9ZM977.9 2017.1L1005.2 2001A126.1 126.1 0 0 1 1009.2 2008.2L980.9 2022.5A94.4 94.4 0 0 0 977.9 2017.1ZM980.9 2022.5L1009.2 2008.2A126.1 126.1 0 0 1 1012.6 2015.6L983.5 2028.1A94.4 94.4 0 0 0 980.9 2022.5ZM983.5 2028.1L1012.6 2015.6A126.1 126.1 0 0 1 1015.6 2023.3L985.7 2033.8A94.4 94.4 0 0 0 983.5 2028.1ZM989.1 2046L1020.1 2039.6A126.1 126.1 0 0 1 1021 2044.2L989.7 2049.4A94.4 94.4 0 0 0 989.1 2046ZM990.6 2056.3L1022.2 2053.4A126.1 126.1 0 0 1 1022.6 2060L990.9 2061.3A94.4 94.4 0 0 0 990.6 2056.3ZM990.9 2061.3L1022.6 2060A126.1 126.1 0 0 1 1022.7 2066.7L991 2066.3A94.4 94.4 0 0 0 990.9 2061.3ZM991 2066.3L1022.7 2066.7A126.1 126.1 0 0 1 1022.4 2073.4L990.8 2071.3A94.4 94.4 0 0 0 991 2066.3ZM985.9 2095.7L1015.8 2106.1A126.1 126.1 0 0 1 1006.2 2127.3L978.7 2111.6A94.4 94.4 0 0 0 985.9 2095.7ZM978.7 2111.6L1006.2 2127.3A126.1 126.1 0 0 1 1002.2 2134L975.6 2116.6A94.4 94.4 0 0 0 978.7 2111.6ZM975.6 2116.6L1002.2 2134A126.1 126.1 0 0 1 997.7 2140.4L972.3 2121.5A94.4 94.4 0 0 0 975.6 2116.6ZM972.3 2121.5L997.7 2140.4A126.1 126.1 0 0 1 992.8 2146.6L968.6 2126.1A94.4 94.4 0 0 0 972.3 2121.5ZM968.6 2126.1L992.8 2146.6A126.1 126.1 0 0 1 987.5 2152.4L964.7 2130.4A94.4 94.4 0 0 0 968.6 2126.1ZM964.7 2130.4L987.5 2152.4A126.1 126.1 0 0 1 981.9 2157.9L960.5 2134.5A94.4 94.4 0 0 0 964.7 2130.4ZM960.5 2134.5L981.9 2157.9A126.1 126.1 0 0 1 976 2163L956 2138.4A94.4 94.4 0 0 0 960.5 2134.5ZM952.8 2140.9L971.6 2166.4A126.1 126.1 0 0 1 966 2170.3L948.6 2143.8A94.4 94.4 0 0 0 952.8 2140.9ZM948.6 2143.8L966 2170.3A126.1 126.1 0 0 1 960.3 2173.8L944.3 2146.5A94.4 94.4 0 0 0 948.6 2143.8ZM944.3 2146.5L960.3 2173.8A126.1 126.1 0 0 1 954.3 2177.1L939.8 2148.9A94.4 94.4 0 0 0 944.3 2146.5ZM939.8 2148.9L954.3 2177.1A126.1 126.1 0 0 1 948.2 2180L935.2 2151.1A94.4 94.4 0 0 0 939.8 2148.9ZM935.2 2151.1L948.2 2180A126.1 126.1 0 0 1 942 2182.7L930.6 2153.1A94.4 94.4 0 0 0 935.2 2151.1ZM930.6 2153.1L942 2182.7A126.1 126.1 0 0 1 935.6 2184.9L925.8 2154.8A94.4 94.4 0 0 0 930.6 2153.1ZM921.8 2156L930.3 2186.5A126.1 126.1 0 0 1 922.8 2188.3L916.2 2157.3A94.4 94.4 0 0 0 921.8 2156ZM911.4 2158.2L916.3 2189.5A126.1 126.1 0 0 1 908.7 2190.5L905.6 2159A94.4 94.4 0 0 0 911.4 2158.2ZM904 2159.1L906.5 2190.7A126.1 126.1 0 0 1 896.6 2191.1L896.6 2159.4A94.4 94.4 0 0 0 904 2159.1ZM896.6 2159.4L896.6 2191.1A126.1 126.1 0 0 1 890.7 2191L892.2 2159.3A94.4 94.4 0 0 0 896.6 2159.4ZM892.2 2159.3L890.7 2191A126.1 126.1 0 0 1 884.9 2190.6L887.8 2159A94.4 94.4 0 0 0 892.2 2159.3ZM887.8 2159L884.9 2190.6A126.1 126.1 0 0 1 879.1 2189.9L883.5 2158.5A94.4 94.4 0 0 0 887.8 2159ZM883.5 2158.5L879.1 2189.9A126.1 126.1 0 0 1 873.3 2188.9L879.1 2157.8A94.4 94.4 0 0 0 883.5 2158.5ZM879.1 2157.8L873.3 2188.9A126.1 126.1 0 0 1 867.5 2187.7L874.8 2156.9A94.4 94.4 0 0 0 879.1 2157.8ZM874.8 2156.9L867.5 2187.7A126.1 126.1 0 0 1 861.8 2186.2L870.6 2155.7A94.4 94.4 0 0 0 874.8 2156.9ZM866.6 2154.5L856.6 2184.6A126.1 126.1 0 0 1 849.9 2182.1L861.6 2152.7A94.4 94.4 0 0 0 866.6 2154.5ZM861.6 2152.7L849.9 2182.1A126.1 126.1 0 0 1 843.3 2179.3L856.7 2150.6A94.4 94.4 0 0 0 861.6 2152.7ZM856.7 2150.6L843.3 2179.3A126.1 126.1 0 0 1 836.6 2175.9L851.7 2148A94.4 94.4 0 0 0 856.7 2150.6ZM851.7 2148L836.6 2175.9A126.1 126.1 0 0 1 830.2 2172.2L846.9 2145.2A94.4 94.4 0 0 0 851.7 2148ZM843.5 2143.1L825.7 2169.3A126.1 126.1 0 0 1 819.8 2165L839.1 2139.9A94.4 94.4 0 0 0 843.5 2143.1ZM830.3 2132.2L808.1 2154.8A126.1 126.1 0 0 1 804.1 2150.7L827.3 2129.1A94.4 94.4 0 0 0 830.3 2132.2ZM827.3 2129.1L804.1 2150.7A126.1 126.1 0 0 1 800.3 2146.4L824.5 2125.9A94.4 94.4 0 0 0 827.3 2129.1ZM816 2114.2L789 2130.7A126.1 126.1 0 0 1 782.3 2118.3L811 2104.9A94.4 94.4 0 0 0 816 2114.2ZM811 2104.9L782.3 2118.3A126.1 126.1 0 0 1 776 2101.9L806.3 2092.6A94.4 94.4 0 0 0 811 2104.9ZM806.3 2092.6L776 2101.9A126.1 126.1 0 0 1 773.6 2092.7L804.5 2085.7A94.4 94.4 0 0 0 806.3 2092.6ZM804.5 2085.7L773.6 2092.7A126.1 126.1 0 0 1 771.8 2083.3L803.2 2078.7A94.4 94.4 0 0 0 804.5 2085.7ZM803.2 2078.7L771.8 2083.3A126.1 126.1 0 0 1 770.8 2073.8L802.4 2071.6A94.4 94.4 0 0 0 803.2 2078.7ZM802.3 2068.3L770.6 2069.4A126.1 126.1 0 0 1 770.5 2062.8L802.2 2063.4A94.4 94.4 0 0 0 802.3 2068.3ZM802.2 2063.4L770.5 2062.8A126.1 126.1 0 0 1 770.9 2054.8L802.5 2057.4A94.4 94.4 0 0 0 802.2 2063.4ZM802.5 2057.4L770.9 2054.8A126.1 126.1 0 0 1 771.8 2046.8L803.2 2051.4A94.4 94.4 0 0 0 802.5 2057.4ZM803.2 2051.4L771.8 2046.8A126.1 126.1 0 0 1 773.2 2039L804.2 2045.5A94.4 94.4 0 0 0 803.2 2051.4ZM804.2 2045.5L773.2 2039A126.1 126.1 0 0 1 775.1 2031.2L805.7 2039.7A94.4 94.4 0 0 0 804.2 2045.5ZM805.7 2039.7L775.1 2031.2A126.1 126.1 0 0 1 777.5 2023.5L807.5 2034A94.4 94.4 0 0 0 805.7 2039.7ZM832.9 1995.3L811.6 1971.9A126.1 126.1 0 0 1 829.8 1958.1L846.6 1984.9A94.4 94.4 0 0 0 832.9 1995.3ZM846.6 1984.9L829.8 1958.1A126.1 126.1 0 0 1 863.1 1943.4L871.5 1974A94.4 94.4 0 0 0 846.6 1984.9ZM871.5 1974L863.1 1943.4A126.1 126.1 0 0 1 869.5 1941.8L876.3 1972.8A94.4 94.4 0 0 0 871.5 1974ZM876.3 1972.8L869.5 1941.8A126.1 126.1 0 0 1 876 1940.6L881.2 1971.9A94.4 94.4 0 0 0 876.3 1972.8ZM881.2 1971.9L876 1940.6A126.1 126.1 0 0 1 882.5 1939.7L886.1 1971.2A94.4 94.4 0 0 0 881.2 1971.9ZM886.1 1971.2L882.5 1939.7A126.1 126.1 0 0 1 889.1 1939.1L891 1970.8A94.4 94.4 0 0 0 886.1 1971.2ZM896.6 1938.9L896.6 1907.4A157.6 157.6 0 0 1 904.9 1907.6L903.3 1939.1A126.1 126.1 0 0 0 896.6 1938.9ZM903.3 1939.1L904.9 1907.6A157.6 157.6 0 0 1 913.3 1908.3L909.9 1939.6A126.1 126.1 0 0 0 903.3 1939.1ZM909.9 1939.6L913.3 1908.3A157.6 157.6 0 0 1 921.5 1909.4L916.5 1940.5A126.1 126.1 0 0 0 909.9 1939.6ZM916.5 1940.5L921.5 1909.4A157.6 157.6 0 0 1 929.7 1910.9L923.1 1941.7A126.1 126.1 0 0 0 916.5 1940.5ZM923.1 1941.7L929.7 1910.9A157.6 157.6 0 0 1 937.8 1912.9L929.6 1943.3A126.1 126.1 0 0 0 923.1 1941.7ZM929.6 1943.3L937.8 1912.9A157.6 157.6 0 0 1 945.8 1915.3L936 1945.2A126.1 126.1 0 0 0 929.6 1943.3ZM948.3 1950L961.2 1921.2A157.6 157.6 0 0 1 970.1 1925.6L955.4 1953.5A126.1 126.1 0 0 0 948.3 1950ZM973.2 1964.8L992.3 1939.8A157.6 157.6 0 0 1 998.1 1944.4L977.8 1968.5A126.1 126.1 0 0 0 973.2 1964.8ZM977.8 1968.5L998.1 1944.4A157.6 157.6 0 0 1 1003.7 1949.4L982.3 1972.5A126.1 126.1 0 0 0 977.8 1968.5ZM985.8 1975.8L1008 1953.6A157.6 157.6 0 0 1 1012.8 1958.5L989.6 1979.8A126.1 126.1 0 0 0 985.8 1975.8ZM1005.1 2000.8L1032.3 1984.8A157.6 157.6 0 0 1 1035.8 1991L1007.9 2005.8A126.1 126.1 0 0 0 1005.1 2000.8ZM1022.4 2073.4L1053.9 2075.4A157.6 157.6 0 0 1 1053 2084.2L1021.8 2080.4A126.1 126.1 0 0 0 1022.4 2073.4ZM1021.8 2080.4L1053 2084.2A157.6 157.6 0 0 1 1051.7 2092.9L1020.7 2087.3A126.1 126.1 0 0 0 1021.8 2080.4ZM1020.7 2087.3L1051.7 2092.9A157.6 157.6 0 0 1 1049.9 2101.5L1019.3 2094.2A126.1 126.1 0 0 0 1020.7 2087.3ZM1019.3 2094.2L1049.9 2101.5A157.6 157.6 0 0 1 1047.6 2110L1017.4 2101A126.1 126.1 0 0 0 1019.3 2094.2ZM1015.8 2106.1L1045.6 2116.3A157.6 157.6 0 0 1 1042.2 2125.4L1013.1 2113.3A126.1 126.1 0 0 0 1015.8 2106.1ZM1013.1 2113.3L1042.2 2125.4A157.6 157.6 0 0 1 1038.2 2134.3L1009.9 2120.4A126.1 126.1 0 0 0 1013.1 2113.3ZM1009.9 2120.4L1038.2 2134.3A157.6 157.6 0 0 1 1033.6 2142.8L1006.2 2127.3A126.1 126.1 0 0 0 1009.9 2120.4ZM1006.2 2127.3L1033.6 2142.8A157.6 157.6 0 0 1 1028.7 2151L1002.3 2133.8A126.1 126.1 0 0 0 1006.2 2127.3ZM1002.3 2133.8L1028.7 2151A157.6 157.6 0 0 1 1023.3 2158.7L998 2140A126.1 126.1 0 0 0 1002.3 2133.8ZM991.2 2148.4L1014.8 2169.2A157.6 157.6 0 0 1 1006.9 2177.6L984.8 2155.1A126.1 126.1 0 0 0 991.2 2148.4ZM984.8 2155.1L1006.9 2177.6A157.6 157.6 0 0 1 998.3 2185.4L978 2161.3A126.1 126.1 0 0 0 984.8 2155.1ZM867.4 2187.7L860.1 2218.3A157.6 157.6 0 0 1 852.6 2216.3L861.4 2186.1A126.1 126.1 0 0 0 867.4 2187.7ZM856.4 2184.5L846.3 2214.4A157.6 157.6 0 0 1 830 2207.8L843.3 2179.3A126.1 126.1 0 0 0 856.4 2184.5ZM843.3 2179.3L830 2207.8A157.6 157.6 0 0 1 822.6 2204.2L837.4 2176.3A126.1 126.1 0 0 0 843.3 2179.3ZM837.4 2176.3L822.6 2204.2A157.6 157.6 0 0 1 815.4 2200.1L831.7 2173.1A126.1 126.1 0 0 0 837.4 2176.3ZM804.4 2151L781.3 2172.5A157.6 157.6 0 0 1 776.6 2167.1L800.6 2146.7A126.1 126.1 0 0 0 804.4 2151ZM796.8 2142.1L771.9 2161.4A157.6 157.6 0 0 1 765.9 2153.1L792.1 2135.5A126.1 126.1 0 0 0 796.8 2142.1ZM782.6 2118.9L754.1 2132.4A157.6 157.6 0 0 1 751 2125.4L780.1 2113.4A126.1 126.1 0 0 0 782.6 2118.9ZM780.1 2113.4L751 2125.4A157.6 157.6 0 0 1 748.3 2118.4L778 2107.7A126.1 126.1 0 0 0 780.1 2113.4ZM775.1 2098.7L744.7 2107.1A157.6 157.6 0 0 1 742.9 2099.6L773.6 2092.7A126.1 126.1 0 0 0 775.1 2098.7ZM772.1 2084.7L740.9 2089.7A157.6 157.6 0 0 1 740 2082.8L771.3 2079.3A126.1 126.1 0 0 0 772.1 2084.7ZM774.6 2033.2L744.1 2025.3A157.6 157.6 0 0 1 746.4 2017.3L776.4 2026.9A126.1 126.1 0 0 0 774.6 2033.2ZM776.7 2026L746.7 2016.3A157.6 157.6 0 0 1 749.5 2008.5L778.9 2019.8A126.1 126.1 0 0 0 776.7 2026ZM811.6 1971.9L790.3 1948.6A157.6 157.6 0 0 1 795.9 1943.7L816.1 1968A126.1 126.1 0 0 0 811.6 1971.9ZM816.1 1968L795.9 1943.7A157.6 157.6 0 0 1 801.8 1939.1L820.7 1964.3A126.1 126.1 0 0 0 816.1 1968ZM820.7 1964.3L801.8 1939.1A157.6 157.6 0 0 1 807.8 1934.8L825.5 1960.8A126.1 126.1 0 0 0 820.7 1964.3ZM825.5 1960.8L807.8 1934.8A157.6 157.6 0 0 1 814 1930.8L830.5 1957.6A126.1 126.1 0 0 0 825.5 1960.8ZM830.5 1957.6L814 1930.8A157.6 157.6 0 0 1 829.2 1922.5L842.7 1951A126.1 126.1 0 0 0 830.5 1957.6ZM842.7 1951L829.2 1922.5A157.6 157.6 0 0 1 836.8 1919.2L848.8 1948.3A126.1 126.1 0 0 0 842.7 1951ZM848.8 1948.3L836.8 1919.2A157.6 157.6 0 0 1 844.5 1916.3L854.9 1946A126.1 126.1 0 0 0 848.8 1948.3ZM854.9 1946L844.5 1916.3A157.6 157.6 0 0 1 852.4 1913.7L861.2 1944A126.1 126.1 0 0 0 854.9 1946ZM874.7 1940.8L869.2 1909.8A157.6 157.6 0 0 1 876.6 1908.7L880.6 1939.9A126.1 126.1 0 0 0 874.7 1940.8ZM998.5 1944.8L1019 1920.7A189.2 189.2 0 0 1 1025.6 1926.6L1004.1 1949.7A157.6 157.6 0 0 0 998.5 1944.8ZM1053.9 2075.4L1085.4 2077.5A189.2 189.2 0 0 1 1084.7 2085.8L1053.2 2082.3A157.6 157.6 0 0 0 1053.9 2075.4ZM1051.9 2092.1L1083 2097.5A189.2 189.2 0 0 1 1081.1 2106.9L1050.3 2099.9A157.6 157.6 0 0 0 1051.9 2092.1ZM1050.3 2099.9L1081.1 2106.9A189.2 189.2 0 0 1 1078.7 2116.2L1048.3 2107.6A157.6 157.6 0 0 0 1050.3 2099.9ZM1048.3 2107.6L1078.7 2116.2A189.2 189.2 0 0 1 1075.9 2125.3L1046 2115.3A157.6 157.6 0 0 0 1048.3 2107.6ZM1042 2125.8L1071.1 2138A189.2 189.2 0 0 1 1068.1 2145L1039.4 2131.6A157.6 157.6 0 0 0 1042 2125.8ZM771.1 2160.3L745.9 2179.4A189.2 189.2 0 0 1 740.2 2171.4L766.3 2153.6A157.6 157.6 0 0 0 771.1 2160.3ZM766.3 2153.6L740.2 2171.4A189.2 189.2 0 0 1 734.9 2163.2L761.9 2146.8A157.6 157.6 0 0 0 766.3 2153.6ZM761.9 2146.8L734.9 2163.2A189.2 189.2 0 0 1 730 2154.6L757.8 2139.7A157.6 157.6 0 0 0 761.9 2146.8ZM757.8 2139.7L730 2154.6A189.2 189.2 0 0 1 725.5 2145.9L754.1 2132.4A157.6 157.6 0 0 0 757.8 2139.7ZM744.7 2107.1L714.3 2115.6A189.2 189.2 0 0 1 712 2106.6L742.9 2099.6A157.6 157.6 0 0 0 744.7 2107.1ZM789.9 1949L768.5 1925.7A189.2 189.2 0 0 1 775.7 1919.4L795.9 1943.7A157.6 157.6 0 0 0 789.9 1949ZM801.8 1939.1L782.7 1913.9A189.2 189.2 0 0 1 790 1908.7L807.8 1934.8A157.6 157.6 0 0 0 801.8 1939.1ZM815.4 1929.9L799.2 1902.8A189.2 189.2 0 0 1 807.3 1898.2L822.2 1926A157.6 157.6 0 0 0 815.4 1929.9ZM822.2 1926L807.3 1898.2A189.2 189.2 0 0 1 815.7 1893.9L829.2 1922.5A157.6 157.6 0 0 0 822.2 1926ZM846.1 1915.7L835.9 1885.8A189.2 189.2 0 0 1 844.4 1883.1L853.2 1913.5A157.6 157.6 0 0 0 846.1 1915.7ZM869.2 1909.8L863.7 1878.7A189.2 189.2 0 0 1 872.6 1877.3L876.6 1908.7A157.6 157.6 0 0 0 869.2 1909.8ZM734.4 2162.4L707.4 2178.7A220.7 220.7 0 0 1 702 2169.1L729.8 2154.3A189.2 189.2 0 0 0 734.4 2162.4ZM729.8 2154.3L702 2169.1A220.7 220.7 0 0 1 697.1 2159.3L725.5 2145.9A189.2 189.2 0 0 0 729.8 2154.3ZM714.3 2115.6L683.9 2124A220.7 220.7 0 0 1 681.3 2113.5L712 2106.6A189.2 189.2 0 0 0 714.3 2115.6ZM782.7 1913.9L763.8 1888.7A220.7 220.7 0 0 1 772.2 1882.7L790 1908.7A189.2 189.2 0 0 0 782.7 1913.9ZM835.9 1885.8L825.8 1856A220.7 220.7 0 0 1 835.8 1852.8L844.4 1883.1A189.2 189.2 0 0 0 835.9 1885.8Z" fill="#cdcdcd" stroke="#fff" stroke-width="1" stroke-linejoin="round"/><path d="M874.9 2042.5L852.8 2019.6A63.1 63.1 0 0 1 896.6 2001.9L896.6 2033.7A31.3 31.3 0 0 0 874.9 2042.5ZM896.6 2001.9L896.6 1970.6A94.4 94.4 0 0 1 925.9 1975.3L916.2 2005A63.1 63.1 0 0 0 896.6 2001.9ZM943.5 2022.8L966.8 2001.8A94.4 94.4 0 0 1 975.8 2013.6L949.5 2030.6A63.1 63.1 0 0 0 943.5 2022.8ZM959.6 2061.7L990.9 2060.1A94.4 94.4 0 0 1 991 2063.8L959.7 2064.2A63.1 63.1 0 0 0 959.6 2061.7ZM925.4 2121.1L939.8 2149A94.4 94.4 0 0 1 926.2 2154.6L916.4 2124.9A63.1 63.1 0 0 0 925.4 2121.1ZM866 2120.2L850.8 2147.6A94.4 94.4 0 0 1 840.7 2141.1L859.2 2115.9A63.1 63.1 0 0 0 866 2120.2ZM954.7 1990.6L974.2 1965.6A126.1 126.1 0 0 1 996 1987.4L971 2006.9A94.4 94.4 0 0 0 954.7 1990.6ZM846.9 2145.2L830.2 2172.2A126.1 126.1 0 0 1 825.7 2169.3L843.5 2143.1A94.4 94.4 0 0 0 846.9 2145.2ZM936 1945.2L945.8 1915.3A157.6 157.6 0 0 1 953.1 1917.9L941.8 1947.3A126.1 126.1 0 0 0 936 1945.2ZM792.1 2135.5L765.9 2153.1A157.6 157.6 0 0 1 761.9 2146.9L788.9 2130.5A126.1 126.1 0 0 0 792.1 2135.5Z" fill="#777777" stroke="#fff" stroke-width="1" stroke-linejoin="round"/><path d="M916.2 2005L925.9 1975.3A94.4 94.4 0 0 1 953.3 1989.5L934.5 2014.5A63.1 63.1 0 0 0 916.2 2005ZM936.3 2114L956 2138.4A94.4 94.4 0 0 1 939.8 2149L925.4 2121.1A63.1 63.1 0 0 0 936.3 2114Z" fill="#8a5c9c" stroke="#fff" stroke-width="1" stroke-linejoin="round"/><path d="M949.5 2030.6L975.8 2013.6A94.4 94.4 0 0 1 980 2020.7L952.3 2035.4A63.1 63.1 0 0 0 949.5 2030.6ZM970.6 1925.8L985.4 1897.9A189.2 189.2 0 0 1 994 1902.8L977.8 1929.9A157.6 157.6 0 0 0 970.6 1925.8Z" fill="#9dbde2" stroke="#fff" stroke-width="1" stroke-linejoin="round"/><path d="M957.8 2049.7L988.2 2042.2A94.4 94.4 0 0 1 988.9 2045.1L958.3 2051.7A63.1 63.1 0 0 0 957.8 2049.7Z" fill="#7a5aa5" stroke="#fff" stroke-width="1" stroke-linejoin="round"/><path d="M959.6 2069.2L990.8 2071.3A94.4 94.4 0 0 1 956 2138.4L936.3 2114A63.1 63.1 0 0 0 959.6 2069.2ZM956 2138.4L976 2163A126.1 126.1 0 0 1 971.6 2166.4L952.8 2140.9A94.4 94.4 0 0 0 956 2138.4ZM788.9 2130.5L761.9 2146.9A157.6 157.6 0 0 1 754.1 2132.4L782.6 2118.9A126.1 126.1 0 0 0 788.9 2130.5Z" fill="#8b98cd" stroke="#fff" stroke-width="1" stroke-linejoin="round"/><path d="M896.6 2128.1L896.6 2159.4A94.4 94.4 0 0 1 871.7 2156.1L879.9 2125.9A63.1 63.1 0 0 0 896.6 2128.1ZM990.8 2071.3L1022.4 2073.4A126.1 126.1 0 0 1 1015.8 2106.1L985.9 2095.7A94.4 94.4 0 0 0 990.8 2071.3ZM861.4 2186.1L852.6 2216.3A157.6 157.6 0 0 1 846.3 2214.4L856.4 2184.5A126.1 126.1 0 0 0 861.4 2186.1Z" fill="#93a8d6" stroke="#fff" stroke-width="1" stroke-linejoin="round"/><path d="M879.9 2125.9L871.7 2156.1A94.4 94.4 0 0 1 850.8 2147.6L866 2120.2A63.1 63.1 0 0 0 879.9 2125.9Z" fill="#94b0dc" stroke="#fff" stroke-width="1" stroke-linejoin="round"/><path d="M926.4 1975.4L936.4 1945.3A126.1 126.1 0 0 1 949.1 1950.3L935.9 1979.2A94.4 94.4 0 0 0 926.4 1975.4Z" fill="#8590cc" stroke="#fff" stroke-width="1" stroke-linejoin="round"/><path d="M870.6 2155.7L861.8 2186.2A126.1 126.1 0 0 1 856.6 2184.6L866.6 2154.5A94.4 94.4 0 0 0 870.6 2155.7ZM800.6 2146.7L776.6 2167.1A157.6 157.6 0 0 1 771.9 2161.4L796.8 2142.1A126.1 126.1 0 0 0 800.6 2146.7Z" fill="#7b82c8" stroke="#fff" stroke-width="1" stroke-linejoin="round"/><path d="M824.5 2125.9L800.3 2146.4A126.1 126.1 0 0 1 789 2130.7L816 2114.2A94.4 94.4 0 0 0 824.5 2125.9Z" fill="#8061a8" stroke="#fff" stroke-width="1" stroke-linejoin="round"/><path d="M941.8 1947.3L953.1 1917.9A157.6 157.6 0 0 1 961.2 1921.2L948.3 1950A126.1 126.1 0 0 0 941.8 1947.3Z" fill="#8fa6d8" stroke="#fff" stroke-width="1" stroke-linejoin="round"/><path d="M955.4 1953.5L970.1 1925.6A157.6 157.6 0 0 1 976.4 1929.1L960.4 1956.2A126.1 126.1 0 0 0 955.4 1953.5Z" fill="#7d6db8" stroke="#fff" stroke-width="1" stroke-linejoin="round"/><path d="M1017.4 2101L1047.6 2110A157.6 157.6 0 0 1 1045.8 2115.8L1016 2105.6A126.1 126.1 0 0 0 1017.4 2101Z" fill="#8fa8d8" stroke="#fff" stroke-width="1" stroke-linejoin="round"/><circle cx="896.6" cy="2065" r="30.9" fill="#ff0000" stroke="#fff" stroke-width="1"/>
<text x="64.3" y="1852.9" font-size="17.9" transform="translate(64.3 1852.9) scale(1 1.04) translate(-64.3 -1852.9)">-log10 Q-value</text><rect x="64.3" y="1862.8" width="20.1" height="19.8" fill="#cdcdcd"/><text x="90.3" y="1879.3" font-size="17.9" transform="translate(90.3 1879.3) scale(1 1.04) translate(-90.3 -1879.3)">too few genes</text><rect x="64.3" y="1888.2" width="20.1" height="19.8" fill="#777777"/><text x="90.3" y="1904.8" font-size="17.9" transform="translate(90.3 1904.8) scale(1 1.04) translate(-90.3 -1904.8)">not significant</text><rect x="64.3" y="1913.7" width="20.1" height="19.8" fill="#9dbde0"/><text x="90.3" y="1930.2" font-size="17.9" transform="translate(90.3 1930.2) scale(1 1.04) translate(-90.3 -1930.2)">2</text><rect x="64.3" y="1939.1" width="20.1" height="19.8" fill="#8088c8"/><text x="90.3" y="1955.6" font-size="17.9" transform="translate(90.3 1955.6) scale(1 1.04) translate(-90.3 -1955.6)">4</text><rect x="64.3" y="1964.6" width="20.1" height="19.8" fill="#7b64ad"/><text x="90.3" y="1981.1" font-size="17.9" transform="translate(90.3 1981.1) scale(1 1.04) translate(-90.3 -1981.1)">6</text><rect x="64.3" y="1990" width="20.1" height="19.8" fill="#a24e78"/><text x="90.3" y="2006.5" font-size="17.9" transform="translate(90.3 2006.5) scale(1 1.04) translate(-90.3 -2006.5)">8</text><rect x="64.3" y="2015.5" width="20.1" height="19.8" fill="#c7354f"/><text x="90.3" y="2032" font-size="17.9" transform="translate(90.3 2032) scale(1 1.04) translate(-90.3 -2032)">10</text><rect x="64.3" y="2041" width="20.1" height="19.8" fill="#e02b25"/><text x="90.3" y="2057.4" font-size="17.9" transform="translate(90.3 2057.4) scale(1 1.04) translate(-90.3 -2057.4)">≥12</text>
<text x="611.2" y="1852.6" font-size="17.9" transform="translate(611.2 1852.6) scale(1 1.04) translate(-611.2 -1852.6)">-log10 Q-value</text><rect x="611.2" y="1862.5" width="20.1" height="19.8" fill="#cdcdcd"/><text x="637.2" y="1879" font-size="17.9" transform="translate(637.2 1879) scale(1 1.04) translate(-637.2 -1879)">too few genes</text><rect x="611.2" y="1888" width="20.1" height="19.8" fill="#777777"/><text x="637.2" y="1904.5" font-size="17.9" transform="translate(637.2 1904.5) scale(1 1.04) translate(-637.2 -1904.5)">not significant</text><rect x="611.2" y="1913.4" width="20.1" height="19.8" fill="#9dbde0"/><text x="637.2" y="1929.9" font-size="17.9" transform="translate(637.2 1929.9) scale(1 1.04) translate(-637.2 -1929.9)">2</text><rect x="611.2" y="1938.8" width="20.1" height="19.8" fill="#8b96cc"/><text x="637.2" y="1955.3" font-size="17.9" transform="translate(637.2 1955.3) scale(1 1.04) translate(-637.2 -1955.3)">3</text><rect x="611.2" y="1964.3" width="20.1" height="19.8" fill="#7568b0"/><text x="637.2" y="1980.8" font-size="17.9" transform="translate(637.2 1980.8) scale(1 1.04) translate(-637.2 -1980.8)">4</text><rect x="611.2" y="1989.8" width="20.1" height="19.8" fill="#aa4a6a"/><text x="637.2" y="2006.2" font-size="17.9" transform="translate(637.2 2006.2) scale(1 1.04) translate(-637.2 -2006.2)">5</text><rect x="611.2" y="2015.2" width="20.1" height="19.8" fill="#e02b25"/><text x="637.2" y="2031.7" font-size="17.9" transform="translate(637.2 2031.7) scale(1 1.04) translate(-637.2 -2031.7)">≥6</text>
<text x="382.9" y="2062.6" font-size="21.2" textLength="115.4" lengthAdjust="spacingAndGlyphs" transform="translate(382.9 2062.6) scale(1 1.04) translate(-382.9 -2062.6)">postsynapse</text>
<text x="195.5" y="2110.5" font-size="21.2" transform="rotate(-16 195.5 2110.5) translate(195.5 2110.5) scale(1 1.04) translate(-195.5 -2110.5)" textLength="108" lengthAdjust="spacing">presynapse</text>
<text x="279.5" y="1921" font-size="18.5" transform="rotate(66.5 279.5 1921) translate(279.5 1921) scale(1 1.04) translate(-279.5 -1921)" textLength="69" lengthAdjust="spacing">membrane</text>
<text x="298.5" y="1897.5" font-size="18.5" transform="rotate(73.5 298.5 1897.5) translate(298.5 1897.5) scale(1 1.04) translate(-298.5 -1897.5)" textLength="87.4" lengthAdjust="spacing">synaptic cleft</text>
<text x="322" y="1893.5" font-size="18.5" transform="rotate(86.5 322 1893.5) translate(322 1893.5) scale(1 1.04) translate(-322 -1893.5)" textLength="87" lengthAdjust="spacing">extrasynaptic</text>
<line x1="186.3" y1="2102.4" x2="140.6" y2="2142.8" stroke="#000" stroke-width="2.2"/>
<line x1="496.7" y1="2067.3" x2="530.8" y2="2144.6" stroke="#000" stroke-width="2.2"/>
<text x="153.8" y="2166.7" font-size="20.6" text-anchor="end" font-style="italic" transform="translate(153.8 2166.7) scale(1 1.04) translate(-153.8 -2166.7)">Nrxn1</text>
<text x="153.8" y="2191.5" font-size="20.6" text-anchor="end" font-style="italic" transform="translate(153.8 2191.5) scale(1 1.04) translate(-153.8 -2191.5)">Cntnap2</text>
<text x="153.8" y="2216.4" font-size="20.6" text-anchor="end" font-style="italic" transform="translate(153.8 2216.4) scale(1 1.04) translate(-153.8 -2216.4)">Cdh2</text>
<text x="153.8" y="2241.2" font-size="20.6" text-anchor="end" font-style="italic" transform="translate(153.8 2241.2) scale(1 1.04) translate(-153.8 -2241.2)">Kcnh1</text>
<text x="520.2" y="2169.2" font-size="20.6" font-style="italic" transform="translate(520.2 2169.2) scale(1 1.04) translate(-520.2 -2169.2)">Abl2</text>
<text x="520.2" y="2194.2" font-size="20.6" font-style="italic" transform="translate(520.2 2194.2) scale(1 1.04) translate(-520.2 -2194.2)">Nrg1</text>
<text x="520.2" y="2219.3" font-size="20.6" font-style="italic" transform="translate(520.2 2219.3) scale(1 1.04) translate(-520.2 -2219.3)">Cacna1c</text>
<text x="520.2" y="2244.3" font-size="20.6" font-style="italic" transform="translate(520.2 2244.3) scale(1 1.04) translate(-520.2 -2244.3)">Gabrb2</text>
<text x="520.2" y="2269.4" font-size="20.6" font-style="italic" transform="translate(520.2 2269.4) scale(1 1.04) translate(-520.2 -2269.4)">Gria2</text>
<text x="337.4" y="2315" font-size="29.3" text-anchor="middle" transform="translate(337.4 2315) scale(1 1.04) translate(-337.4 -2315)">Cellular Component (CC)</text>
<text x="897.2" y="2315" font-size="29.3" text-anchor="middle" transform="translate(897.2 2315) scale(1 1.04) translate(-897.2 -2315)">Biological Process (BP)</text>
<text x="928" y="2040.5" font-size="21.4" transform="rotate(-41.8 928 2040.5) translate(928 2040.5) scale(1 1.04) translate(-928 -2040.5)" textLength="117" lengthAdjust="spacing">organization</text>
<text x="924.5" y="2102" font-size="21.4" transform="rotate(47 924.5 2102) translate(924.5 2102) scale(1 1.04) translate(-924.5 -2102)" textLength="109" lengthAdjust="spacing">presynaptic</text>
<text x="839.5" y="2220.5" font-size="21.4" transform="rotate(-65.8 839.5 2220.5) translate(839.5 2220.5) scale(1 1.04) translate(-839.5 -2220.5)" textLength="114.4" lengthAdjust="spacing">postsynaptic</text>
<text x="774.5" y="2111.5" font-size="21.4" transform="rotate(-15.8 774.5 2111.5) translate(774.5 2111.5) scale(1 1.04) translate(-774.5 -2111.5)" textLength="81.3" lengthAdjust="spacing">signaling</text>
<text x="754" y="2000.5" font-size="21.4" transform="rotate(29.5 754 2000.5) translate(754 2000.5) scale(1 1.04) translate(-754 -2000.5)" textLength="107" lengthAdjust="spacing">metabolism</text>
<text x="838.5" y="1947" font-size="21.4" transform="rotate(61.9 838.5 1947) translate(838.5 1947) scale(1 1.04) translate(-838.5 -1947)" textLength="85.7" lengthAdjust="spacing">transport</text>
</g>
<g id="pi">
<rect x="1147.1" y="1699.3" width="275" height="640" fill="#fdefee"/>
<rect x="1422.1" y="1699.3" width="274.9" height="640" fill="#e4eefa"/>
<text x="1111.55" y="1735.1" font-size="50.3" font-weight="bold" text-anchor="middle" transform="translate(1111.55 1735.1) scale(1 1.04) translate(-1111.55 -1735.1)">I</text>
<text x="1287.2" y="1734.6" font-size="25.1" text-anchor="middle" font-weight="bold" fill="#ff0000" transform="translate(1287.2 1734.6) scale(1 1.04) translate(-1287.2 -1734.6)">IMPOVERISHED</text>
<text x="1287.2" y="1763.8" font-size="25.1" text-anchor="middle" font-weight="bold" fill="#ff0000" transform="translate(1287.2 1763.8) scale(1 1.04) translate(-1287.2 -1763.8)">ENVIRONMENT (IE)</text>
<text x="1560.7" y="1734.6" font-size="25.1" text-anchor="middle" font-weight="bold" fill="#0b73c6" transform="translate(1560.7 1734.6) scale(1 1.04) translate(-1560.7 -1734.6)">ENRICHED</text>
<text x="1560.7" y="1763.8" font-size="25.1" text-anchor="middle" font-weight="bold" fill="#0b73c6" transform="translate(1560.7 1763.8) scale(1 1.04) translate(-1560.7 -1763.8)">ENVIRONMENT (EE)</text>
<rect x="1242.6" y="1807.1" width="91.7" height="92" fill="#fdefee" stroke="#10283a" stroke-width="2.9"/>
<path d="M1278.8 1884.3C1277.2 1883 1271.9 1879.4 1269.3 1876.7C1266.6 1873.9 1264.4 1870.7 1262.9 1867.6C1261.3 1864.5 1260.5 1861.1 1260.2 1858.1C1260 1855.1 1260.7 1852.1 1261.4 1849.8C1262.2 1847.5 1265.6 1845.7 1264.8 1844.3C1264 1842.9 1258.9 1843 1256.7 1841.4C1254.4 1839.8 1252.5 1837.1 1251.4 1834.8C1250.4 1832.4 1249.9 1829.4 1250.5 1827.1C1251 1824.8 1252.8 1822.4 1254.8 1821C1256.7 1819.5 1259.7 1818.7 1262.1 1818.6C1264.6 1818.5 1267.3 1819.4 1269.3 1820.5C1271.3 1821.6 1272.9 1823.3 1274.3 1825.2C1275.7 1827.1 1275.4 1831.2 1277.6 1831.9C1279.9 1832.6 1284.4 1829.5 1287.9 1829.5C1291.3 1829.5 1295.8 1832.6 1298.1 1831.9C1300.4 1831.2 1300 1827.1 1301.4 1825.2C1302.8 1823.3 1304.4 1821.6 1306.4 1820.5C1308.5 1819.4 1311.2 1818.5 1313.6 1818.6C1316 1818.7 1319 1819.5 1321 1821C1322.9 1822.4 1324.7 1824.8 1325.2 1827.1C1325.8 1829.4 1325.3 1832.4 1324.3 1834.8C1323.3 1837.1 1321.3 1839.8 1319 1841.4C1316.8 1843 1311.7 1842.9 1311 1844.3C1310.2 1845.7 1313.5 1847.5 1314.3 1849.8C1315 1852.1 1315.7 1855.1 1315.5 1858.1C1315.2 1861.1 1314.4 1864.5 1312.9 1867.6C1311.3 1870.7 1309.1 1873.9 1306.4 1876.7C1303.8 1879.4 1298.5 1883 1296.9 1884.3L1287.9 1888.1Z" fill="#0a0000" stroke="#0a0000" stroke-width="0.6" stroke-linejoin="round"/><circle cx="1263.8" cy="1831.7" r="13.4" fill="#0a0000"/><circle cx="1311.9" cy="1831.7" r="13.4" fill="#0a0000"/><path d="M1261.8 1841.7L1275.8 1829.7L1299.9 1829.7L1313.9 1841.7Z" fill="#0a0000"/>
<text x="1288.4" y="1868.2" font-size="23.8" text-anchor="middle" font-weight="bold" fill="#fff" transform="translate(1288.4 1868.2) scale(1 1.04) translate(-1288.4 -1868.2)">1 X</text>
<rect x="1471.2" y="1781" width="167.4" height="167.4" fill="#e4eefa" stroke="#10283a" stroke-width="2.9"/>
<path d="M1506.7 1853.8C1505.1 1852.5 1499.8 1848.9 1497.2 1846.2C1494.5 1843.4 1492.3 1840.2 1490.8 1837.1C1489.2 1834 1488.4 1830.6 1488.1 1827.6C1487.9 1824.6 1488.6 1821.6 1489.3 1819.3C1490.1 1817 1493.5 1815.2 1492.7 1813.8C1491.9 1812.4 1486.8 1812.5 1484.6 1810.9C1482.3 1809.3 1480.4 1806.6 1479.3 1804.3C1478.3 1801.9 1477.8 1798.9 1478.4 1796.6C1478.9 1794.3 1480.7 1791.9 1482.7 1790.5C1484.6 1789 1487.6 1788.2 1490 1788.1C1492.5 1788 1495.2 1788.9 1497.2 1790C1499.2 1791.1 1500.8 1792.8 1502.2 1794.7C1503.6 1796.6 1503.3 1800.7 1505.5 1801.4C1507.8 1802.1 1512.3 1799 1515.8 1799C1519.2 1799 1523.7 1802.1 1526 1801.4C1528.3 1800.7 1527.9 1796.6 1529.3 1794.7C1530.7 1792.8 1532.3 1791.1 1534.3 1790C1536.4 1788.9 1539.1 1788 1541.5 1788.1C1543.9 1788.2 1546.9 1789 1548.9 1790.5C1550.8 1791.9 1552.6 1794.3 1553.1 1796.6C1553.7 1798.9 1553.2 1801.9 1552.2 1804.3C1551.2 1806.6 1549.2 1809.3 1546.9 1810.9C1544.7 1812.5 1539.6 1812.4 1538.9 1813.8C1538.1 1815.2 1541.4 1817 1542.2 1819.3C1542.9 1821.6 1543.6 1824.6 1543.4 1827.6C1543.1 1830.6 1542.3 1834 1540.8 1837.1C1539.2 1840.2 1537 1843.4 1534.3 1846.2C1531.7 1848.9 1526.4 1852.5 1524.8 1853.8L1515.8 1857.6Z" fill="#000" stroke="#000" stroke-width="0.6" stroke-linejoin="round"/><circle cx="1491.7" cy="1801.2" r="13.4" fill="#000"/><circle cx="1539.8" cy="1801.2" r="13.4" fill="#000"/><path d="M1489.7 1811.2L1503.7 1799.2L1527.8 1799.2L1541.8 1811.2Z" fill="#000"/>
<text x="1515.7" y="1841.5" font-size="23.8" text-anchor="middle" font-weight="bold" fill="#fff" transform="translate(1515.7 1841.5) scale(1 1.04) translate(-1515.7 -1841.5)">15 X</text>
<circle cx="1596.2" cy="1818.8" r="27.9" fill="none" stroke="#3b3b3b" stroke-width="6.2"/>
<path d="M1595.6 1817.8L1575.6 1851.5M1595.6 1817.8L1616.6 1851.5M1595.6 1817.8L1609.5 1794" fill="none" stroke="#3b3b3b" stroke-width="5.4" stroke-linecap="round"/>
<circle cx="1595.6" cy="1817.8" r="5.4" fill="#3b3b3b"/>
<line x1="1565.2" y1="1853.9" x2="1626.9" y2="1853.9" stroke="#3b3b3b" stroke-width="7.6" stroke-linecap="round"/>
<path d="M1552.4 1903.4L1551.3 1909.5L1550.4 1915.8L1546.8 1921.1L1542.5 1925.9L1537 1929.4L1530.2 1929.5L1524.5 1931.6L1518 1934.3L1512.1 1931L1505.3 1930.2L1502.6 1923.4L1496.8 1920.6L1495.3 1914.6L1491.4 1909.5L1491.5 1903.4L1493.5 1897.7L1495.4 1892.3L1497.4 1886.7L1500.5 1881.1L1505.6 1877.1L1512.7 1877.6L1518.1 1873.1L1524.3 1876.5L1531 1875.1L1535.5 1880L1540.4 1883.1L1546.5 1885.8L1548.2 1891.9L1549.2 1897.7Z" fill="none" stroke="#000" stroke-width="1.9" stroke-linejoin="round"/><path d="M1543.5 1900.9l2.9 2.8l2.6 1.1l1.6 2.7M1512.6 1880.9l4.7 -1.2l2.1 -2l1.4 -1.7M1516.1 1919.3l2 1.1l2 -1.1l3.5 0.4M1515.6 1916.5l4.1 -2.7l3.9 -2.9l3.2 2.2M1541.8 1905.7l3.1 0.5l1 -2.7l1.5 2.8M1528 1922.2l4.8 2.7l2 -0.9l2.6 1.9M1536.8 1915.8l4.4 2.2l1.1 2.7l1.3 -0.3M1503.6 1888.6l3 2.5l2.6 -1.1l2 -1.1M1528.1 1907l4.1 3l1.5 -2.7l4 0.7M1513.6 1908.7l3.8 2l2.4 -0.5l1.2 2.6M1535.7 1906.4l4.5 -2.2l3.2 2.7l2.9 1.9M1531.9 1911.7l2.4 2.1l1.9 -0.3l4 2.3M1535 1901.3l3.5 1.4l2.4 -1.3l2.2 -1.3M1503.8 1920.6l4.9 0.8l2.5 -1l1.3 -0.6" fill="none" stroke="#000" stroke-width="1.6" stroke-linecap="round" stroke-linejoin="round"/>
<polygon points="1584.8,1878.2 1596.2,1898 1573.2,1898" fill="#4aa72c"/>
<g transform="rotate(-28.6 1610.7 1886.8)"><rect x="1602.8" y="1867" width="15.8" height="39.6" rx="4.5" fill="#9d88c2"/><ellipse cx="1610.7" cy="1903.6" rx="7.9" ry="3.4" fill="#b2a1d2"/></g>
<polygon points="1587.1,1904 1590.4,1913.7 1600.6,1913.8 1592.4,1919.9 1595.4,1929.7 1587.1,1923.8 1578.8,1929.7 1581.8,1919.9 1573.6,1913.8 1583.8,1913.7" fill="#1b9dd9"/>
<circle cx="1616.2" cy="1927.6" r="11.2" fill="#bb8b52"/>
<line x1="1289.4" y1="1908.3" x2="1334.6" y2="1984" stroke="#ff0000" stroke-width="3.4"/>
<line x1="1322.7" y1="1994.4" x2="1347.7" y2="1976.3" stroke="#ff0000" stroke-width="3.4"/>
<path d="M1587.5 1961.4C1576 1992 1558 2024 1540 2048" fill="none" stroke="#4a90d9" stroke-width="7.2"/>
<path d="M1534.6 2036.4L1530.2 2060.4L1553 2048.6L1541 2046Z" fill="#4a90d9" stroke="#4a90d9" stroke-width="5" stroke-linejoin="round"/>
<text x="1331.4" y="2017.7" font-size="27.4" font-weight="bold" fill="#b26fe0" transform="translate(1331.4 2017.7) scale(1 1.04) translate(-1331.4 -2017.7)">CA1</text>
<text x="1490.6" y="2095.6" font-size="27.4" font-weight="bold" fill="#ff9412" transform="translate(1490.6 2095.6) scale(1 1.04) translate(-1490.6 -2095.6)">DG</text>
<path d="M1494.1 2043.8C1492.1 2042.9 1486.1 2040.9 1482.3 2038.9C1478.5 2036.8 1474.7 2034.2 1471.4 2031.6C1468.1 2029 1465.7 2026 1462.3 2023.4C1459 2020.9 1455.4 2018.2 1451.5 2016.2C1447.5 2014.1 1443.3 2012.3 1438.8 2011.1C1434.2 2009.9 1429.1 2008.9 1424.2 2008.9C1419.4 2008.9 1414.6 2009.6 1409.7 2011.1C1404.9 2012.6 1400.4 2015.3 1395.2 2018C1390.1 2020.7 1384.3 2023.6 1378.9 2027.1C1373.4 2030.6 1367.7 2034.6 1362.6 2038.9C1357.4 2043.1 1351.8 2048.1 1348 2052.5C1344.3 2056.9 1341.3 2061.2 1339.9 2065.2C1338.4 2069.1 1338.6 2072.7 1339.3 2076.1C1340.1 2079.4 1342.1 2083.2 1344.4 2085.1C1346.8 2087.1 1349.6 2087.8 1353.5 2087.8C1357.4 2087.8 1362.9 2086.8 1368 2085.1C1373.1 2083.5 1378.6 2080.1 1384.3 2077.9C1390.1 2075.6 1396.4 2073 1402.5 2071.5C1408.5 2070.1 1415.2 2069.4 1420.6 2069.2C1426.1 2068.9 1430.9 2069.3 1435.1 2070.2C1439.4 2071.2 1442.4 2073.6 1446 2075.1C1449.6 2076.7 1453 2078.9 1456.9 2079.7C1460.8 2080.4 1465.7 2080.4 1469.6 2079.7C1473.5 2078.9 1477.8 2077.1 1480.5 2075.1C1483.2 2073.2 1485.3 2070.3 1485.9 2067.9C1486.5 2065.5 1485.6 2063.1 1484.1 2060.6C1482.6 2058.2 1480.2 2055.6 1476.8 2053.4C1473.5 2051.1 1468.7 2048.8 1464.1 2047C1459.6 2045.3 1454.8 2044 1449.6 2043C1444.5 2042.1 1438.8 2041.5 1433.3 2041.2C1427.9 2041 1421.5 2040.9 1417 2041.6C1412.4 2042.3 1409.4 2044.1 1406.1 2045.2C1402.8 2046.4 1398.5 2047.9 1397 2048.5" fill="none" stroke="#0a0000" stroke-width="4.5" stroke-linecap="round" stroke-linejoin="round"/>
<path d="M1357.5 2058.3C1356.8 2058.8 1354.2 2060.1 1353.5 2061.5C1352.8 2063 1352.6 2065.5 1353.5 2067C1354.4 2068.4 1356.2 2069.7 1358.9 2070.2C1361.7 2070.8 1365.9 2070.8 1369.8 2070.2C1373.7 2069.7 1378.3 2068.3 1382.5 2067C1386.7 2065.7 1390.8 2063.6 1395.2 2062.4C1399.6 2061.3 1406.6 2060.5 1408.8 2060.1" fill="none" stroke="#0a0000" stroke-width="4.5" stroke-linecap="round"/>
<path d="M1369.8 2045.2C1372.2 2043.9 1378.9 2039.8 1384.3 2037.1C1389.8 2034.3 1396.4 2031.2 1402.5 2028.9C1408.5 2026.6 1415.2 2023.7 1420.6 2023.1C1426.1 2022.5 1430.3 2024 1435.1 2025.3C1440 2026.5 1444.8 2028.4 1449.6 2030.7C1454.5 2033 1459.3 2035.9 1464.1 2038.9C1469 2041.8 1476.2 2046.9 1478.7 2048.5" fill="none" stroke="#b26fe0" stroke-width="3.9" stroke-linecap="butt"/>
<path d="M1398.8 2056.1C1401.3 2055.2 1408.5 2051.7 1413.4 2050.7C1418.2 2049.6 1423 2049.3 1427.9 2049.8C1432.7 2050.2 1437.5 2051.9 1442.4 2053.4C1447.2 2054.9 1452.5 2057.4 1456.9 2058.8C1461.3 2060.2 1467 2060.8 1468.7 2061.9C1470.3 2063 1469.4 2064.6 1466.9 2065.2C1464.3 2065.7 1458 2065.8 1453.3 2065.2C1448.6 2064.5 1443.3 2061.9 1438.8 2061.2C1434.2 2060.4 1430 2060 1426.1 2060.6C1422.1 2061.3 1417 2064.4 1415.2 2065.2" fill="none" stroke="#f2963a" stroke-width="3.9" stroke-linecap="round" stroke-linejoin="round"/>
<text x="1423.4" y="2131.6" font-size="29" text-anchor="middle" transform="translate(1423.4 2131.6) scale(1 1.04) translate(-1423.4 -2131.6)">Neuronal activation</text>
<text x="1423.4" y="2189.1" font-size="29" text-anchor="middle" transform="translate(1423.4 2189.1) scale(1 1.04) translate(-1423.4 -2189.1)">AP-1 activity</text>
<text x="1423.4" y="2251.5" font-size="29" text-anchor="middle" transform="translate(1423.4 2251.5) scale(1 1.04) translate(-1423.4 -2251.5)">Synaptic genes</text>
<text x="1423.4" y="2310.9" font-size="29" text-anchor="middle" transform="translate(1423.4 2310.9) scale(1 1.04) translate(-1423.4 -2310.9)">Memory</text>
<line x1="1421.8" y1="2137.4" x2="1421.8" y2="2159.4" stroke="#000" stroke-width="2.7"/>
<polygon points="1415.6,2154.9 1428,2154.9 1421.8,2165.4"/>
<line x1="1421.8" y1="2197.2" x2="1421.8" y2="2219.2" stroke="#000" stroke-width="2.7"/>
<polygon points="1415.6,2214.7 1428,2214.7 1421.8,2225.2"/>
<line x1="1421.8" y1="2259.2" x2="1421.8" y2="2281.2" stroke="#000" stroke-width="2.7"/>
<polygon points="1415.6,2276.7 1428,2276.7 1421.8,2287.2"/>
<polygon points="1273.1,2097.7 1280.3,2097.7 1280.3,2117.8 1287.4,2117.8 1276.7,2132.6 1266,2117.8 1273.1,2117.8" fill="#ff0000"/>
<polygon points="1273.1,2159.4 1280.3,2159.4 1280.3,2179.8 1287.4,2179.8 1276.7,2194.6 1266,2179.8 1273.1,2179.8" fill="#ff0000"/>
<polygon points="1273.1,2219.2 1280.3,2219.2 1280.3,2239.6 1287.4,2239.6 1276.7,2254.4 1266,2239.6 1273.1,2239.6" fill="#ff0000"/>
<polygon points="1275.4,2280.2 1278,2280.2 1278,2303.3 1283,2303.3 1276.7,2315.8 1270.4,2303.3 1275.4,2303.3" fill="#ff0000"/>
<polygon points="1564.7,2134.8 1572.3,2134.8 1572.3,2113.2 1579,2113.2 1568.5,2098.6 1558,2113.2 1564.7,2113.2" fill="#4a90d9"/>
<polygon points="1564.7,2196.2 1572.3,2196.2 1572.3,2174.6 1579,2174.6 1568.5,2160 1558,2174.6 1564.7,2174.6" fill="#4a90d9"/>
<polygon points="1564.7,2256 1572.3,2256 1572.3,2234.4 1579,2234.4 1568.5,2219.8 1558,2234.4 1564.7,2234.4" fill="#4a90d9"/>
<polygon points="1564.7,2315.1 1572.3,2315.1 1572.3,2293.2 1579,2293.2 1568.5,2278.6 1558,2293.2 1564.7,2293.2" fill="#4a90d9"/>
</g>
</svg>
</body></html>
